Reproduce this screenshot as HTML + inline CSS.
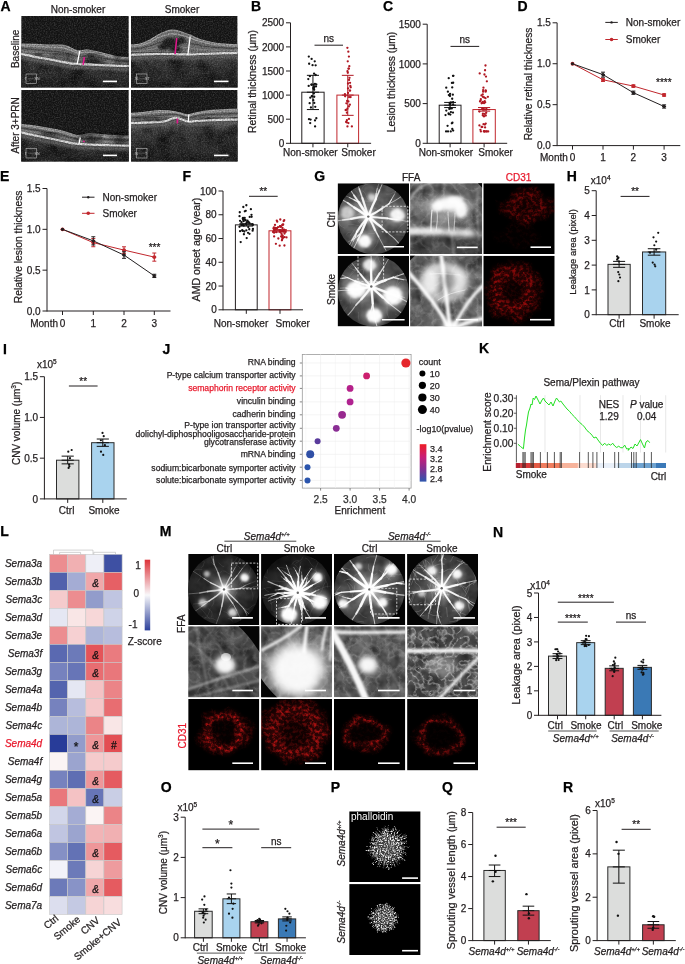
<!DOCTYPE html>
<html><head><meta charset="utf-8"><title>Figure</title>
<style>html,body{margin:0;padding:0;background:#fff;} svg{display:block;will-change:transform;} text{font-family:"Liberation Sans",sans-serif;stroke:#231f20;stroke-width:0.25px;}</style>
</head><body>
<svg width="685" height="964" viewBox="0 0 685 964" font-family="Liberation Sans, sans-serif" fill="#231f20">
<defs>
<linearGradient id="jcb" x1="0" y1="0" x2="0" y2="1"><stop offset="0" stop-color="#ee1c25"/><stop offset="0.35" stop-color="#c81e78"/><stop offset="0.7" stop-color="#7b3294"/><stop offset="1" stop-color="#2d56ad"/></linearGradient>
<linearGradient id="lcb" x1="0" y1="0" x2="0" y2="1"><stop offset="0" stop-color="#dd3239"/><stop offset="0.5" stop-color="#f8f8fa"/><stop offset="1" stop-color="#2c409b"/></linearGradient>
<filter id="spk" x="0" y="0" width="1" height="1" color-interpolation-filters="sRGB">
 <feTurbulence type="fractalNoise" baseFrequency="0.75" numOctaves="2" seed="4"/>
 <feColorMatrix type="matrix" values="0 0 0 0 1  0 0 0 0 1  0 0 0 0 1  1.6 0 0 0 -0.62"/>
</filter>
<filter id="spkd" x="0" y="0" width="1" height="1" color-interpolation-filters="sRGB">
 <feTurbulence type="fractalNoise" baseFrequency="0.7" numOctaves="2" seed="9"/>
 <feColorMatrix type="matrix" values="0 0 0 0 0  0 0 0 0 0  0 0 0 0 0  1.6 0 0 0 -0.6"/>
</filter>
<filter id="msk0" color-interpolation-filters="sRGB">
 <feTurbulence type="fractalNoise" baseFrequency="0.55" numOctaves="2" seed="5" result="n"/>
 <feColorMatrix in="n" type="matrix" values="0 0 0 0 0  0 0 0 0 0  0 0 0 0 0  3.2 0 0 0 -1.45" result="m"/>
 <feComposite in="SourceGraphic" in2="m" operator="in"/>
</filter>
<filter id="msk1" color-interpolation-filters="sRGB">
 <feTurbulence type="fractalNoise" baseFrequency="0.55" numOctaves="2" seed="11" result="n"/>
 <feColorMatrix in="n" type="matrix" values="0 0 0 0 0  0 0 0 0 0  0 0 0 0 0  3.2 0 0 0 -1.3" result="m"/>
 <feComposite in="SourceGraphic" in2="m" operator="in"/>
</filter>
<filter id="msk2" color-interpolation-filters="sRGB">
 <feTurbulence type="fractalNoise" baseFrequency="0.5" numOctaves="2" seed="17" result="n"/>
 <feColorMatrix in="n" type="matrix" values="0 0 0 0 0  0 0 0 0 0  0 0 0 0 0  3.0 0 0 0 -1.2" result="m"/>
 <feComposite in="SourceGraphic" in2="m" operator="in"/>
</filter>
<filter id="msk3" color-interpolation-filters="sRGB">
 <feTurbulence type="fractalNoise" baseFrequency="0.55" numOctaves="2" seed="23" result="n"/>
 <feColorMatrix in="n" type="matrix" values="0 0 0 0 0  0 0 0 0 0  0 0 0 0 0  3.2 0 0 0 -1.5" result="m"/>
 <feComposite in="SourceGraphic" in2="m" operator="in"/>
</filter>
<filter id="msk4" color-interpolation-filters="sRGB">
 <feTurbulence type="fractalNoise" baseFrequency="0.6" numOctaves="2" seed="31" result="n"/>
 <feColorMatrix in="n" type="matrix" values="0 0 0 0 0  0 0 0 0 0  0 0 0 0 0  3.3 0 0 0 -1.4" result="m"/>
 <feComposite in="SourceGraphic" in2="m" operator="in"/>
</filter>
<filter id="msk5" color-interpolation-filters="sRGB">
 <feTurbulence type="fractalNoise" baseFrequency="0.6" numOctaves="2" seed="37" result="n"/>
 <feColorMatrix in="n" type="matrix" values="0 0 0 0 0  0 0 0 0 0  0 0 0 0 0  3.0 0 0 0 -1.25" result="m"/>
 <feComposite in="SourceGraphic" in2="m" operator="in"/>
</filter>
<filter id="b0_4" filterUnits="userSpaceOnUse" x="0" y="0" width="685" height="964"><feGaussianBlur stdDeviation="0.4"/></filter>
<filter id="b0_6" filterUnits="userSpaceOnUse" x="0" y="0" width="685" height="964"><feGaussianBlur stdDeviation="0.6"/></filter>
<filter id="b0_8" filterUnits="userSpaceOnUse" x="0" y="0" width="685" height="964"><feGaussianBlur stdDeviation="0.8"/></filter>
<filter id="b1_0" filterUnits="userSpaceOnUse" x="0" y="0" width="685" height="964"><feGaussianBlur stdDeviation="1.0"/></filter>
<filter id="b1_5" filterUnits="userSpaceOnUse" x="0" y="0" width="685" height="964"><feGaussianBlur stdDeviation="1.5"/></filter>
<filter id="b2_0" filterUnits="userSpaceOnUse" x="0" y="0" width="685" height="964"><feGaussianBlur stdDeviation="2.0"/></filter>
<filter id="b2_5" filterUnits="userSpaceOnUse" x="0" y="0" width="685" height="964"><feGaussianBlur stdDeviation="2.5"/></filter>
<filter id="b3_0" filterUnits="userSpaceOnUse" x="0" y="0" width="685" height="964"><feGaussianBlur stdDeviation="3.0"/></filter>
<filter id="b4_0" filterUnits="userSpaceOnUse" x="0" y="0" width="685" height="964"><feGaussianBlur stdDeviation="4.0"/></filter>
<filter id="b5_0" filterUnits="userSpaceOnUse" x="0" y="0" width="685" height="964"><feGaussianBlur stdDeviation="5.0"/></filter>
<filter id="b6_0" filterUnits="userSpaceOnUse" x="0" y="0" width="685" height="964"><feGaussianBlur stdDeviation="6.0"/></filter>
<clipPath id="c1"><rect x="21.20" y="16.00" width="107.60" height="71.60"/></clipPath>
<linearGradient id="ochc1" x1="0" y1="53.5" x2="0" y2="87.6" gradientUnits="userSpaceOnUse"><stop offset="0" stop-color="#555"/><stop offset="0.3" stop-color="#383838"/><stop offset="1" stop-color="#232323"/></linearGradient>
<clipPath id="c2"><rect x="131.00" y="16.00" width="106.60" height="71.60"/></clipPath>
<linearGradient id="ochc2" x1="0" y1="55.0" x2="0" y2="87.6" gradientUnits="userSpaceOnUse"><stop offset="0" stop-color="#555"/><stop offset="0.3" stop-color="#383838"/><stop offset="1" stop-color="#232323"/></linearGradient>
<clipPath id="c3"><rect x="21.20" y="90.00" width="107.60" height="71.60"/></clipPath>
<linearGradient id="ochc3" x1="0" y1="132.0" x2="0" y2="161.6" gradientUnits="userSpaceOnUse"><stop offset="0" stop-color="#555"/><stop offset="0.3" stop-color="#383838"/><stop offset="1" stop-color="#232323"/></linearGradient>
<clipPath id="c4"><rect x="131.00" y="90.00" width="106.60" height="71.60"/></clipPath>
<linearGradient id="ochc4" x1="0" y1="123.3" x2="0" y2="161.6" gradientUnits="userSpaceOnUse"><stop offset="0" stop-color="#555"/><stop offset="0.3" stop-color="#383838"/><stop offset="1" stop-color="#232323"/></linearGradient>
<filter id="lesf" color-interpolation-filters="sRGB" filterUnits="userSpaceOnUse" x="0" y="0" width="685" height="964">
 <feTurbulence type="fractalNoise" baseFrequency="0.35" numOctaves="2" seed="61" result="n"/>
 <feColorMatrix in="n" type="matrix" values="0 0 0 0 0  0 0 0 0 0  0 0 0 0 0  1.6 0 0 0 -0.1" result="m"/>
 <feComposite in="SourceGraphic" in2="m" operator="in" result="c"/>
 <feGaussianBlur in="c" stdDeviation="1.1"/>
</filter>
<clipPath id="c5"><rect x="337.60" y="183.30" width="71.40" height="70.70"/></clipPath>
<clipPath id="c6"><circle cx="373.30" cy="218.60" r="35.50"/></clipPath>
<radialGradient id="fgc5" cx="368.3" cy="216.6" r="42.6" gradientUnits="userSpaceOnUse"><stop offset="0" stop-color="#8a8a8a"/><stop offset="1" stop-color="#4a4a4a"/></radialGradient>
<clipPath id="c7"><rect x="337.60" y="255.70" width="71.40" height="70.70"/></clipPath>
<clipPath id="c8"><circle cx="373.30" cy="291.00" r="35.50"/></clipPath>
<radialGradient id="fgc7" cx="371.3" cy="286.5" r="42.6" gradientUnits="userSpaceOnUse"><stop offset="0" stop-color="#7a7a7a"/><stop offset="1" stop-color="#3e3e3e"/></radialGradient>
<clipPath id="c9"><rect x="188.20" y="554.00" width="71.10" height="71.00"/></clipPath>
<clipPath id="c10"><circle cx="223.50" cy="589.50" r="35.50"/></clipPath>
<radialGradient id="fgc9" cx="224.0" cy="589.4" r="42.6" gradientUnits="userSpaceOnUse"><stop offset="0" stop-color="#505050"/><stop offset="1" stop-color="#1c1c1c"/></radialGradient>
<clipPath id="c11"><rect x="261.10" y="554.00" width="70.90" height="71.00"/></clipPath>
<clipPath id="c12"><circle cx="296.60" cy="589.50" r="35.50"/></clipPath>
<radialGradient id="fgc11" cx="297.8" cy="592.7" r="42.6" gradientUnits="userSpaceOnUse"><stop offset="0" stop-color="#4a4a4a"/><stop offset="1" stop-color="#161616"/></radialGradient>
<clipPath id="c13"><rect x="334.00" y="554.00" width="71.30" height="71.00"/></clipPath>
<clipPath id="c14"><circle cx="369.60" cy="589.50" r="35.50"/></clipPath>
<radialGradient id="fgc13" cx="369.4" cy="589.4" r="42.6" gradientUnits="userSpaceOnUse"><stop offset="0" stop-color="#808080"/><stop offset="1" stop-color="#383838"/></radialGradient>
<clipPath id="c15"><rect x="407.10" y="554.00" width="70.90" height="71.00"/></clipPath>
<clipPath id="c16"><circle cx="442.50" cy="589.50" r="35.50"/></clipPath>
<radialGradient id="fgc15" cx="441.7" cy="588.3" r="42.6" gradientUnits="userSpaceOnUse"><stop offset="0" stop-color="#747474"/><stop offset="1" stop-color="#343434"/></radialGradient>
<filter id="motw" x="0" y="0" width="1" height="1" color-interpolation-filters="sRGB">
 <feTurbulence type="turbulence" baseFrequency="0.09" numOctaves="3" seed="21"/>
 <feColorMatrix type="matrix" values="0 0 0 0 1  0 0 0 0 1  0 0 0 0 1  -1.6 0 0 0 0.55"/>
 <feGaussianBlur stdDeviation="0.4"/>
</filter>
<filter id="motw2" x="0" y="0" width="1" height="1" color-interpolation-filters="sRGB">
 <feTurbulence type="turbulence" baseFrequency="0.13" numOctaves="2" seed="27"/>
 <feColorMatrix type="matrix" values="0 0 0 0 1  0 0 0 0 1  0 0 0 0 1  -3.2 0 0 0 0.95"/>
 <feGaussianBlur stdDeviation="0.45"/>
</filter>
<filter id="motd" x="0" y="0" width="1" height="1" color-interpolation-filters="sRGB">
 <feTurbulence type="fractalNoise" baseFrequency="0.07" numOctaves="3" seed="33"/>
 <feColorMatrix type="matrix" values="0 0 0 0 0  0 0 0 0 0  0 0 0 0 0  1.8 0 0 0 -0.6"/>
</filter>
<clipPath id="c17"><rect x="410.10" y="183.30" width="72.00" height="70.70"/></clipPath>
<linearGradient id="zgc17" x1="0" y1="0" x2="1" y2="1"><stop offset="0" stop-color="#767676"/><stop offset="1" stop-color="#606060"/></linearGradient>
<clipPath id="c18"><rect x="410.10" y="255.70" width="72.00" height="70.70"/></clipPath>
<linearGradient id="zgc18" x1="0" y1="0" x2="1" y2="1"><stop offset="0" stop-color="#666"/><stop offset="1" stop-color="#727272"/></linearGradient>
<clipPath id="c19"><rect x="188.20" y="626.30" width="71.10" height="71.00"/></clipPath>
<linearGradient id="zgc19" x1="0" y1="0" x2="1" y2="1"><stop offset="0" stop-color="#5a5a5a"/><stop offset="1" stop-color="#4e4e4e"/></linearGradient>
<clipPath id="c20"><rect x="261.10" y="626.30" width="70.90" height="71.00"/></clipPath>
<linearGradient id="zgc20" x1="0" y1="0" x2="1" y2="1"><stop offset="0" stop-color="#6a6a6a"/><stop offset="1" stop-color="#8a8a8a"/></linearGradient>
<clipPath id="c21"><rect x="334.00" y="626.30" width="71.30" height="71.00"/></clipPath>
<linearGradient id="zgc21" x1="0" y1="0" x2="1" y2="1"><stop offset="0" stop-color="#6a6a6a"/><stop offset="1" stop-color="#5e5e5e"/></linearGradient>
<clipPath id="c22"><rect x="407.10" y="626.30" width="70.90" height="71.00"/></clipPath>
<linearGradient id="zgc22" x1="0" y1="0" x2="1" y2="1"><stop offset="0" stop-color="#505050"/><stop offset="1" stop-color="#5a5a5a"/></linearGradient>
<filter id="cdm0" x="0" y="0" width="1" height="1" color-interpolation-filters="sRGB">
 <feTurbulence type="fractalNoise" baseFrequency="0.06" numOctaves="2" seed="105" result="w"/>
 <feDisplacementMap in="SourceGraphic" in2="w" scale="16" xChannelSelector="R" yChannelSelector="G" result="d"/>
 <feTurbulence type="fractalNoise" baseFrequency="0.3" numOctaves="3" seed="5" result="n"/>
 <feColorMatrix in="n" type="matrix" values="0 0 0 0 0  0 0 0 0 0  0 0 0 0 0  3.2 0 0 0 -1.35" result="m"/>
 <feComposite in="d" in2="m" operator="in" result="c"/>
 <feGaussianBlur in="c" stdDeviation="0.45" result="cb"/>
 <feGaussianBlur in="d" stdDeviation="1.5" result="hz"/>
 <feComponentTransfer in="hz" result="hz2"><feFuncA type="linear" slope="0.3"/></feComponentTransfer>
 <feMerge><feMergeNode in="hz2"/><feMergeNode in="cb"/></feMerge>
</filter>
<filter id="cdm1" x="0" y="0" width="1" height="1" color-interpolation-filters="sRGB">
 <feTurbulence type="fractalNoise" baseFrequency="0.06" numOctaves="2" seed="111" result="w"/>
 <feDisplacementMap in="SourceGraphic" in2="w" scale="16" xChannelSelector="R" yChannelSelector="G" result="d"/>
 <feTurbulence type="fractalNoise" baseFrequency="0.3" numOctaves="3" seed="11" result="n"/>
 <feColorMatrix in="n" type="matrix" values="0 0 0 0 0  0 0 0 0 0  0 0 0 0 0  3.2 0 0 0 -1.35" result="m"/>
 <feComposite in="d" in2="m" operator="in" result="c"/>
 <feGaussianBlur in="c" stdDeviation="0.45" result="cb"/>
 <feGaussianBlur in="d" stdDeviation="1.5" result="hz"/>
 <feComponentTransfer in="hz" result="hz2"><feFuncA type="linear" slope="0.3"/></feComponentTransfer>
 <feMerge><feMergeNode in="hz2"/><feMergeNode in="cb"/></feMerge>
</filter>
<filter id="cdm2" x="0" y="0" width="1" height="1" color-interpolation-filters="sRGB">
 <feTurbulence type="fractalNoise" baseFrequency="0.06" numOctaves="2" seed="117" result="w"/>
 <feDisplacementMap in="SourceGraphic" in2="w" scale="16" xChannelSelector="R" yChannelSelector="G" result="d"/>
 <feTurbulence type="fractalNoise" baseFrequency="0.3" numOctaves="3" seed="17" result="n"/>
 <feColorMatrix in="n" type="matrix" values="0 0 0 0 0  0 0 0 0 0  0 0 0 0 0  3.2 0 0 0 -1.35" result="m"/>
 <feComposite in="d" in2="m" operator="in" result="c"/>
 <feGaussianBlur in="c" stdDeviation="0.45" result="cb"/>
 <feGaussianBlur in="d" stdDeviation="1.5" result="hz"/>
 <feComponentTransfer in="hz" result="hz2"><feFuncA type="linear" slope="0.3"/></feComponentTransfer>
 <feMerge><feMergeNode in="hz2"/><feMergeNode in="cb"/></feMerge>
</filter>
<filter id="cdm3" x="0" y="0" width="1" height="1" color-interpolation-filters="sRGB">
 <feTurbulence type="fractalNoise" baseFrequency="0.06" numOctaves="2" seed="123" result="w"/>
 <feDisplacementMap in="SourceGraphic" in2="w" scale="16" xChannelSelector="R" yChannelSelector="G" result="d"/>
 <feTurbulence type="fractalNoise" baseFrequency="0.3" numOctaves="3" seed="23" result="n"/>
 <feColorMatrix in="n" type="matrix" values="0 0 0 0 0  0 0 0 0 0  0 0 0 0 0  3.2 0 0 0 -1.35" result="m"/>
 <feComposite in="d" in2="m" operator="in" result="c"/>
 <feGaussianBlur in="c" stdDeviation="0.45" result="cb"/>
 <feGaussianBlur in="d" stdDeviation="1.5" result="hz"/>
 <feComponentTransfer in="hz" result="hz2"><feFuncA type="linear" slope="0.3"/></feComponentTransfer>
 <feMerge><feMergeNode in="hz2"/><feMergeNode in="cb"/></feMerge>
</filter>
<filter id="cdm4" x="0" y="0" width="1" height="1" color-interpolation-filters="sRGB">
 <feTurbulence type="fractalNoise" baseFrequency="0.06" numOctaves="2" seed="131" result="w"/>
 <feDisplacementMap in="SourceGraphic" in2="w" scale="16" xChannelSelector="R" yChannelSelector="G" result="d"/>
 <feTurbulence type="fractalNoise" baseFrequency="0.3" numOctaves="3" seed="31" result="n"/>
 <feColorMatrix in="n" type="matrix" values="0 0 0 0 0  0 0 0 0 0  0 0 0 0 0  3.2 0 0 0 -1.35" result="m"/>
 <feComposite in="d" in2="m" operator="in" result="c"/>
 <feGaussianBlur in="c" stdDeviation="0.45" result="cb"/>
 <feGaussianBlur in="d" stdDeviation="1.5" result="hz"/>
 <feComponentTransfer in="hz" result="hz2"><feFuncA type="linear" slope="0.3"/></feComponentTransfer>
 <feMerge><feMergeNode in="hz2"/><feMergeNode in="cb"/></feMerge>
</filter>
<filter id="cdm5" x="0" y="0" width="1" height="1" color-interpolation-filters="sRGB">
 <feTurbulence type="fractalNoise" baseFrequency="0.06" numOctaves="2" seed="137" result="w"/>
 <feDisplacementMap in="SourceGraphic" in2="w" scale="16" xChannelSelector="R" yChannelSelector="G" result="d"/>
 <feTurbulence type="fractalNoise" baseFrequency="0.3" numOctaves="3" seed="37" result="n"/>
 <feColorMatrix in="n" type="matrix" values="0 0 0 0 0  0 0 0 0 0  0 0 0 0 0  3.2 0 0 0 -1.35" result="m"/>
 <feComposite in="d" in2="m" operator="in" result="c"/>
 <feGaussianBlur in="c" stdDeviation="0.45" result="cb"/>
 <feGaussianBlur in="d" stdDeviation="1.5" result="hz"/>
 <feComponentTransfer in="hz" result="hz2"><feFuncA type="linear" slope="0.3"/></feComponentTransfer>
 <feMerge><feMergeNode in="hz2"/><feMergeNode in="cb"/></feMerge>
</filter>
<clipPath id="c23"><rect x="483.30" y="183.30" width="71.40" height="70.70"/></clipPath>
<radialGradient id="rgc23_527_207" cx="0.5" cy="0.5" r="0.5"><stop offset="0" stop-color="#d81010" stop-opacity="0.20"/><stop offset="0.05" stop-color="#d81010" stop-opacity="0.20"/><stop offset="0.55" stop-color="#d81010" stop-opacity="0.45"/><stop offset="0.85" stop-color="#d81010" stop-opacity="0.16"/><stop offset="1" stop-color="#d81010" stop-opacity="0"/></radialGradient>
<radialGradient id="rgc23_518_236" cx="0.5" cy="0.5" r="0.5"><stop offset="0" stop-color="#d81010" stop-opacity="0.02"/><stop offset="0.00" stop-color="#d81010" stop-opacity="0.02"/><stop offset="0.50" stop-color="#d81010" stop-opacity="0.08"/><stop offset="0.80" stop-color="#d81010" stop-opacity="0.03"/><stop offset="1" stop-color="#d81010" stop-opacity="0"/></radialGradient>
<clipPath id="c24"><rect x="483.30" y="255.70" width="71.40" height="70.70"/></clipPath>
<radialGradient id="rgc24_513_291" cx="0.5" cy="0.5" r="0.5"><stop offset="0" stop-color="#e01010" stop-opacity="0.12"/><stop offset="0.20" stop-color="#e01010" stop-opacity="0.12"/><stop offset="0.60" stop-color="#e01010" stop-opacity="0.60"/><stop offset="0.84" stop-color="#e01010" stop-opacity="0.21"/><stop offset="1" stop-color="#e01010" stop-opacity="0"/></radialGradient>
<clipPath id="c25"><rect x="188.20" y="699.00" width="71.10" height="71.40"/></clipPath>
<radialGradient id="rgc25_224_732" cx="0.5" cy="0.5" r="0.5"><stop offset="0" stop-color="#ff1a1a" stop-opacity="0.06"/><stop offset="0.30" stop-color="#ff1a1a" stop-opacity="0.06"/><stop offset="0.62" stop-color="#ff1a1a" stop-opacity="0.70"/><stop offset="0.81" stop-color="#ff1a1a" stop-opacity="0.24"/><stop offset="1" stop-color="#ff1a1a" stop-opacity="0"/></radialGradient>
<clipPath id="c26"><rect x="261.10" y="699.00" width="70.90" height="71.40"/></clipPath>
<radialGradient id="rgc26_295_731" cx="0.5" cy="0.5" r="0.5"><stop offset="0" stop-color="#ff1a1a" stop-opacity="0.18"/><stop offset="0.27" stop-color="#ff1a1a" stop-opacity="0.18"/><stop offset="0.65" stop-color="#ff1a1a" stop-opacity="0.60"/><stop offset="0.88" stop-color="#ff1a1a" stop-opacity="0.21"/><stop offset="1" stop-color="#ff1a1a" stop-opacity="0"/></radialGradient>
<clipPath id="c27"><rect x="334.00" y="699.00" width="71.30" height="71.40"/></clipPath>
<radialGradient id="rgc27_366_734" cx="0.5" cy="0.5" r="0.5"><stop offset="0" stop-color="#ff1a1a" stop-opacity="0.06"/><stop offset="0.50" stop-color="#ff1a1a" stop-opacity="0.06"/><stop offset="0.72" stop-color="#ff1a1a" stop-opacity="0.55"/><stop offset="0.85" stop-color="#ff1a1a" stop-opacity="0.19"/><stop offset="1" stop-color="#ff1a1a" stop-opacity="0"/></radialGradient>
<clipPath id="c28"><rect x="407.10" y="699.00" width="70.90" height="71.40"/></clipPath>
<radialGradient id="rgc28_440_736" cx="0.5" cy="0.5" r="0.5"><stop offset="0" stop-color="#ff1a1a" stop-opacity="0.03"/><stop offset="0.52" stop-color="#ff1a1a" stop-opacity="0.03"/><stop offset="0.72" stop-color="#ff1a1a" stop-opacity="0.50"/><stop offset="0.84" stop-color="#ff1a1a" stop-opacity="0.17"/><stop offset="1" stop-color="#ff1a1a" stop-opacity="0"/></radialGradient>
<filter id="phm0" color-interpolation-filters="sRGB">
 <feTurbulence type="fractalNoise" baseFrequency="0.7" numOctaves="2" seed="41" result="n"/>
 <feColorMatrix in="n" type="matrix" values="0 0 0 0 0  0 0 0 0 0  0 0 0 0 0  3.0 0 0 0 -1.2" result="m"/>
 <feComposite in="SourceGraphic" in2="m" operator="in"/>
</filter>
<filter id="phm1" color-interpolation-filters="sRGB">
 <feTurbulence type="fractalNoise" baseFrequency="0.7" numOctaves="2" seed="43" result="n"/>
 <feColorMatrix in="n" type="matrix" values="0 0 0 0 0  0 0 0 0 0  0 0 0 0 0  3.0 0 0 0 -1.2" result="m"/>
 <feComposite in="SourceGraphic" in2="m" operator="in"/>
</filter>
<clipPath id="c29"><rect x="349.20" y="811.30" width="71.40" height="70.80"/></clipPath>
<radialGradient id="pgc29" cx="0.5" cy="0.5" r="0.5"><stop offset="0" stop-color="#fff" stop-opacity="0.75"/><stop offset="0.55" stop-color="#fff" stop-opacity="0.95"/><stop offset="0.8" stop-color="#fff" stop-opacity="0.7"/><stop offset="1" stop-color="#fff" stop-opacity="0"/></radialGradient>
<clipPath id="c30"><rect x="349.20" y="884.10" width="71.40" height="71.00"/></clipPath>
<radialGradient id="pgc30" cx="0.5" cy="0.5" r="0.5"><stop offset="0" stop-color="#fff" stop-opacity="0.75"/><stop offset="0.55" stop-color="#fff" stop-opacity="0.95"/><stop offset="0.8" stop-color="#fff" stop-opacity="0.7"/><stop offset="1" stop-color="#fff" stop-opacity="0"/></radialGradient>
</defs>
<rect x="0" y="0" width="685" height="964" fill="#fff"/>
<text x="0.40" y="10.90" font-size="14" fill="#000" font-weight="bold" style="stroke:#000">A</text>
<text x="251.00" y="10.80" font-size="14" fill="#000" font-weight="bold" style="stroke:#000">B</text>
<text x="382.90" y="10.90" font-size="14" fill="#000" font-weight="bold" style="stroke:#000">C</text>
<text x="517.40" y="10.90" font-size="14" fill="#000" font-weight="bold" style="stroke:#000">D</text>
<text x="0.00" y="180.60" font-size="14" fill="#000" font-weight="bold" style="stroke:#000">E</text>
<text x="182.50" y="180.70" font-size="14" fill="#000" font-weight="bold" style="stroke:#000">F</text>
<text x="314.20" y="180.70" font-size="14" fill="#000" font-weight="bold" style="stroke:#000">G</text>
<text x="566.80" y="180.70" font-size="14" fill="#000" font-weight="bold" style="stroke:#000">H</text>
<text x="2.90" y="354.20" font-size="14" fill="#000" font-weight="bold" style="stroke:#000">I</text>
<text x="162.50" y="354.20" font-size="14" fill="#000" font-weight="bold" style="stroke:#000">J</text>
<text x="478.90" y="353.30" font-size="14" fill="#000" font-weight="bold" style="stroke:#000">K</text>
<text x="0.30" y="536.20" font-size="14" fill="#000" font-weight="bold" style="stroke:#000">L</text>
<text x="159.80" y="536.20" font-size="14" fill="#000" font-weight="bold" style="stroke:#000">M</text>
<text x="493.00" y="536.50" font-size="14" fill="#000" font-weight="bold" style="stroke:#000">N</text>
<text x="160.80" y="792.00" font-size="14" fill="#000" font-weight="bold" style="stroke:#000">O</text>
<text x="330.70" y="792.00" font-size="14" fill="#000" font-weight="bold" style="stroke:#000">P</text>
<text x="441.90" y="792.00" font-size="14" fill="#000" font-weight="bold" style="stroke:#000">Q</text>
<text x="563.00" y="792.00" font-size="14" fill="#000" font-weight="bold" style="stroke:#000">R</text>
<line x1="290.50" y1="143.80" x2="290.50" y2="22.80" stroke="#231f20" stroke-width="1"/>
<line x1="286.00" y1="143.30" x2="290.50" y2="143.30" stroke="#231f20" stroke-width="1"/>
<text x="284.20" y="146.90" font-size="10" text-anchor="end">0</text>
<line x1="286.00" y1="119.20" x2="290.50" y2="119.20" stroke="#231f20" stroke-width="1"/>
<text x="284.20" y="122.80" font-size="10" text-anchor="end">500</text>
<line x1="286.00" y1="95.10" x2="290.50" y2="95.10" stroke="#231f20" stroke-width="1"/>
<text x="284.20" y="98.70" font-size="10" text-anchor="end">1000</text>
<line x1="286.00" y1="71.00" x2="290.50" y2="71.00" stroke="#231f20" stroke-width="1"/>
<text x="284.20" y="74.60" font-size="10" text-anchor="end">1500</text>
<line x1="286.00" y1="46.90" x2="290.50" y2="46.90" stroke="#231f20" stroke-width="1"/>
<text x="284.20" y="50.50" font-size="10" text-anchor="end">2000</text>
<line x1="286.00" y1="22.80" x2="290.50" y2="22.80" stroke="#231f20" stroke-width="1"/>
<text x="284.20" y="26.40" font-size="10" text-anchor="end">2500</text>
<rect x="301.80" y="92.21" width="22.30" height="51.09" fill="#fff" stroke="#231f20" stroke-width="1"/>
<circle cx="314.24" cy="96.76" r="1.15" fill="#111"/>
<circle cx="311.67" cy="84.56" r="1.15" fill="#111"/>
<circle cx="312.00" cy="96.29" r="1.15" fill="#111"/>
<circle cx="310.30" cy="97.70" r="1.15" fill="#111"/>
<circle cx="310.92" cy="107.48" r="1.15" fill="#111"/>
<circle cx="311.84" cy="96.08" r="1.15" fill="#111"/>
<circle cx="315.65" cy="75.00" r="1.15" fill="#111"/>
<circle cx="308.69" cy="85.94" r="1.15" fill="#111"/>
<circle cx="309.89" cy="76.20" r="1.15" fill="#111"/>
<circle cx="313.45" cy="88.73" r="1.15" fill="#111"/>
<circle cx="315.98" cy="86.41" r="1.15" fill="#111"/>
<circle cx="314.16" cy="89.74" r="1.15" fill="#111"/>
<circle cx="308.97" cy="119.19" r="1.15" fill="#111"/>
<circle cx="308.29" cy="79.09" r="1.15" fill="#111"/>
<circle cx="313.70" cy="84.64" r="1.15" fill="#111"/>
<circle cx="311.41" cy="84.76" r="1.15" fill="#111"/>
<circle cx="310.60" cy="119.59" r="1.15" fill="#111"/>
<circle cx="315.00" cy="120.43" r="1.15" fill="#111"/>
<circle cx="315.26" cy="106.84" r="1.15" fill="#111"/>
<circle cx="313.28" cy="100.14" r="1.15" fill="#111"/>
<circle cx="313.47" cy="87.83" r="1.15" fill="#111"/>
<circle cx="313.86" cy="93.42" r="1.15" fill="#111"/>
<circle cx="316.29" cy="84.40" r="1.15" fill="#111"/>
<circle cx="314.25" cy="102.91" r="1.15" fill="#111"/>
<circle cx="314.04" cy="87.78" r="1.15" fill="#111"/>
<circle cx="314.10" cy="86.42" r="1.15" fill="#111"/>
<circle cx="309.66" cy="103.21" r="1.15" fill="#111"/>
<circle cx="315.64" cy="65.37" r="1.15" fill="#111"/>
<circle cx="314.95" cy="83.84" r="1.15" fill="#111"/>
<circle cx="314.06" cy="73.65" r="1.15" fill="#111"/>
<circle cx="308.81" cy="56.54" r="1.15" fill="#111"/>
<circle cx="311.62" cy="58.95" r="1.15" fill="#111"/>
<circle cx="314.72" cy="61.36" r="1.15" fill="#111"/>
<circle cx="309.15" cy="63.77" r="1.15" fill="#111"/>
<circle cx="312.56" cy="65.22" r="1.15" fill="#111"/>
<circle cx="315.09" cy="126.43" r="1.15" fill="#111"/>
<circle cx="310.20" cy="123.06" r="1.15" fill="#111"/>
<circle cx="316.33" cy="118.24" r="1.15" fill="#111"/>
<line x1="312.95" y1="109.56" x2="312.95" y2="75.34" stroke="#111" stroke-width="1"/>
<line x1="306.89" y1="75.34" x2="319.01" y2="75.34" stroke="#111" stroke-width="1"/>
<line x1="306.89" y1="109.56" x2="319.01" y2="109.56" stroke="#111" stroke-width="1"/>
<line x1="306.89" y1="92.21" x2="319.01" y2="92.21" stroke="#111" stroke-width="1"/>
<rect x="336.90" y="95.10" width="21.70" height="48.20" fill="#fff" stroke="#c1272d" stroke-width="1"/>
<circle cx="348.88" cy="106.46" r="1.15" fill="#b01722"/>
<circle cx="347.44" cy="108.64" r="1.15" fill="#b01722"/>
<circle cx="348.41" cy="101.40" r="1.15" fill="#b01722"/>
<circle cx="349.08" cy="97.05" r="1.15" fill="#b01722"/>
<circle cx="348.00" cy="83.52" r="1.15" fill="#b01722"/>
<circle cx="350.09" cy="90.55" r="1.15" fill="#b01722"/>
<circle cx="346.40" cy="103.29" r="1.15" fill="#b01722"/>
<circle cx="346.90" cy="112.63" r="1.15" fill="#b01722"/>
<circle cx="349.88" cy="104.64" r="1.15" fill="#b01722"/>
<circle cx="347.80" cy="72.74" r="1.15" fill="#b01722"/>
<circle cx="345.95" cy="109.90" r="1.15" fill="#b01722"/>
<circle cx="349.68" cy="90.62" r="1.15" fill="#b01722"/>
<circle cx="350.74" cy="87.29" r="1.15" fill="#b01722"/>
<circle cx="346.84" cy="122.39" r="1.15" fill="#b01722"/>
<circle cx="344.93" cy="94.21" r="1.15" fill="#b01722"/>
<circle cx="347.47" cy="71.17" r="1.15" fill="#b01722"/>
<circle cx="347.45" cy="126.43" r="1.15" fill="#b01722"/>
<circle cx="347.14" cy="100.99" r="1.15" fill="#b01722"/>
<circle cx="350.62" cy="97.04" r="1.15" fill="#b01722"/>
<circle cx="345.65" cy="110.07" r="1.15" fill="#b01722"/>
<circle cx="350.33" cy="85.99" r="1.15" fill="#b01722"/>
<circle cx="345.16" cy="96.24" r="1.15" fill="#b01722"/>
<circle cx="346.14" cy="121.93" r="1.15" fill="#b01722"/>
<circle cx="349.04" cy="79.94" r="1.15" fill="#b01722"/>
<circle cx="350.06" cy="82.84" r="1.15" fill="#b01722"/>
<circle cx="349.50" cy="77.78" r="1.15" fill="#b01722"/>
<circle cx="348.46" cy="68.71" r="1.15" fill="#b01722"/>
<circle cx="348.04" cy="88.47" r="1.15" fill="#b01722"/>
<circle cx="348.06" cy="92.92" r="1.15" fill="#b01722"/>
<circle cx="348.93" cy="118.90" r="1.15" fill="#b01722"/>
<circle cx="347.39" cy="47.86" r="1.15" fill="#b01722"/>
<circle cx="348.32" cy="51.72" r="1.15" fill="#b01722"/>
<circle cx="348.92" cy="56.54" r="1.15" fill="#b01722"/>
<circle cx="347.75" cy="61.36" r="1.15" fill="#b01722"/>
<circle cx="349.31" cy="66.18" r="1.15" fill="#b01722"/>
<circle cx="348.91" cy="68.59" r="1.15" fill="#b01722"/>
<circle cx="351.86" cy="126.43" r="1.15" fill="#b01722"/>
<circle cx="348.41" cy="123.06" r="1.15" fill="#b01722"/>
<circle cx="346.88" cy="120.16" r="1.15" fill="#b01722"/>
<line x1="347.75" y1="115.34" x2="347.75" y2="75.34" stroke="#b01722" stroke-width="1"/>
<line x1="341.85" y1="75.34" x2="353.65" y2="75.34" stroke="#b01722" stroke-width="1"/>
<line x1="341.85" y1="115.34" x2="353.65" y2="115.34" stroke="#b01722" stroke-width="1"/>
<line x1="341.85" y1="95.10" x2="353.65" y2="95.10" stroke="#b01722" stroke-width="1"/>
<line x1="290.50" y1="143.30" x2="371.10" y2="143.30" stroke="#231f20" stroke-width="1"/>
<line x1="312.95" y1="143.30" x2="312.95" y2="147.30" stroke="#231f20" stroke-width="1"/>
<line x1="347.75" y1="143.30" x2="347.75" y2="147.30" stroke="#231f20" stroke-width="1"/>
<text x="310.30" y="156.40" font-size="10" text-anchor="middle">Non-smoker</text>
<text x="358.50" y="156.40" font-size="10" text-anchor="middle">Smoker</text>
<text x="255.80" y="81.50" font-size="10.4" text-anchor="middle" transform="rotate(-90 255.80 81.50)">Retinal thickness (μm)</text>
<line x1="314.50" y1="45.20" x2="343.00" y2="45.20" stroke="#231f20" stroke-width="1"/>
<text x="328.75" y="42.20" font-size="10" text-anchor="middle">ns</text>
<line x1="427.20" y1="143.80" x2="427.20" y2="24.20" stroke="#231f20" stroke-width="1"/>
<line x1="422.70" y1="143.30" x2="427.20" y2="143.30" stroke="#231f20" stroke-width="1"/>
<text x="420.90" y="146.90" font-size="10" text-anchor="end">0</text>
<line x1="422.70" y1="103.60" x2="427.20" y2="103.60" stroke="#231f20" stroke-width="1"/>
<text x="420.90" y="107.20" font-size="10" text-anchor="end">500</text>
<line x1="422.70" y1="63.90" x2="427.20" y2="63.90" stroke="#231f20" stroke-width="1"/>
<text x="420.90" y="67.50" font-size="10" text-anchor="end">1000</text>
<line x1="422.70" y1="24.20" x2="427.20" y2="24.20" stroke="#231f20" stroke-width="1"/>
<text x="420.90" y="27.80" font-size="10" text-anchor="end">1500</text>
<rect x="439.20" y="105.19" width="21.80" height="38.11" fill="#fff" stroke="#231f20" stroke-width="1"/>
<circle cx="452.99" cy="112.60" r="1.15" fill="#111"/>
<circle cx="449.90" cy="107.75" r="1.15" fill="#111"/>
<circle cx="448.86" cy="95.10" r="1.15" fill="#111"/>
<circle cx="450.92" cy="112.11" r="1.15" fill="#111"/>
<circle cx="450.94" cy="102.36" r="1.15" fill="#111"/>
<circle cx="453.17" cy="82.77" r="1.15" fill="#111"/>
<circle cx="448.01" cy="131.39" r="1.15" fill="#111"/>
<circle cx="452.43" cy="122.74" r="1.15" fill="#111"/>
<circle cx="453.15" cy="104.28" r="1.15" fill="#111"/>
<circle cx="453.08" cy="102.19" r="1.15" fill="#111"/>
<circle cx="449.73" cy="104.35" r="1.15" fill="#111"/>
<circle cx="448.57" cy="113.39" r="1.15" fill="#111"/>
<circle cx="452.19" cy="98.73" r="1.15" fill="#111"/>
<circle cx="450.34" cy="103.76" r="1.15" fill="#111"/>
<circle cx="450.35" cy="114.62" r="1.15" fill="#111"/>
<circle cx="453.02" cy="75.81" r="1.15" fill="#111"/>
<circle cx="449.56" cy="102.78" r="1.15" fill="#111"/>
<circle cx="445.54" cy="115.05" r="1.15" fill="#111"/>
<circle cx="449.31" cy="108.91" r="1.15" fill="#111"/>
<circle cx="446.30" cy="110.62" r="1.15" fill="#111"/>
<circle cx="451.78" cy="108.42" r="1.15" fill="#111"/>
<circle cx="450.75" cy="131.39" r="1.15" fill="#111"/>
<circle cx="448.85" cy="114.14" r="1.15" fill="#111"/>
<circle cx="450.08" cy="93.96" r="1.15" fill="#111"/>
<circle cx="451.81" cy="123.34" r="1.15" fill="#111"/>
<circle cx="450.26" cy="108.47" r="1.15" fill="#111"/>
<circle cx="452.82" cy="94.70" r="1.15" fill="#111"/>
<circle cx="449.97" cy="96.01" r="1.15" fill="#111"/>
<circle cx="452.23" cy="87.44" r="1.15" fill="#111"/>
<circle cx="453.16" cy="130.54" r="1.15" fill="#111"/>
<circle cx="453.40" cy="75.81" r="1.15" fill="#111"/>
<circle cx="448.72" cy="78.19" r="1.15" fill="#111"/>
<circle cx="451.91" cy="82.96" r="1.15" fill="#111"/>
<circle cx="446.25" cy="87.72" r="1.15" fill="#111"/>
<circle cx="447.88" cy="91.69" r="1.15" fill="#111"/>
<circle cx="446.07" cy="131.39" r="1.15" fill="#111"/>
<circle cx="452.29" cy="129.01" r="1.15" fill="#111"/>
<circle cx="447.57" cy="125.83" r="1.15" fill="#111"/>
<line x1="450.10" y1="107.57" x2="450.10" y2="102.41" stroke="#111" stroke-width="1"/>
<line x1="444.17" y1="102.41" x2="456.03" y2="102.41" stroke="#111" stroke-width="1"/>
<line x1="444.17" y1="107.57" x2="456.03" y2="107.57" stroke="#111" stroke-width="1"/>
<line x1="444.17" y1="105.19" x2="456.03" y2="105.19" stroke="#111" stroke-width="1"/>
<rect x="472.90" y="109.56" width="22.40" height="33.75" fill="#fff" stroke="#c1272d" stroke-width="1"/>
<circle cx="484.07" cy="116.31" r="1.15" fill="#b01722"/>
<circle cx="483.70" cy="116.14" r="1.15" fill="#b01722"/>
<circle cx="484.04" cy="103.13" r="1.15" fill="#b01722"/>
<circle cx="482.85" cy="96.80" r="1.15" fill="#b01722"/>
<circle cx="484.59" cy="131.39" r="1.15" fill="#b01722"/>
<circle cx="487.87" cy="96.85" r="1.15" fill="#b01722"/>
<circle cx="484.19" cy="131.08" r="1.15" fill="#b01722"/>
<circle cx="485.22" cy="102.32" r="1.15" fill="#b01722"/>
<circle cx="486.21" cy="131.39" r="1.15" fill="#b01722"/>
<circle cx="483.68" cy="109.17" r="1.15" fill="#b01722"/>
<circle cx="481.45" cy="95.41" r="1.15" fill="#b01722"/>
<circle cx="482.93" cy="113.56" r="1.15" fill="#b01722"/>
<circle cx="486.36" cy="108.96" r="1.15" fill="#b01722"/>
<circle cx="480.63" cy="100.78" r="1.15" fill="#b01722"/>
<circle cx="482.84" cy="109.63" r="1.15" fill="#b01722"/>
<circle cx="486.22" cy="112.73" r="1.15" fill="#b01722"/>
<circle cx="485.77" cy="90.84" r="1.15" fill="#b01722"/>
<circle cx="484.12" cy="97.39" r="1.15" fill="#b01722"/>
<circle cx="485.80" cy="115.51" r="1.15" fill="#b01722"/>
<circle cx="484.45" cy="74.48" r="1.15" fill="#b01722"/>
<circle cx="481.62" cy="127.02" r="1.15" fill="#b01722"/>
<circle cx="480.81" cy="99.19" r="1.15" fill="#b01722"/>
<circle cx="482.75" cy="115.13" r="1.15" fill="#b01722"/>
<circle cx="486.04" cy="109.75" r="1.15" fill="#b01722"/>
<circle cx="482.91" cy="102.02" r="1.15" fill="#b01722"/>
<circle cx="482.20" cy="108.54" r="1.15" fill="#b01722"/>
<circle cx="482.48" cy="102.92" r="1.15" fill="#b01722"/>
<circle cx="480.87" cy="131.39" r="1.15" fill="#b01722"/>
<circle cx="483.85" cy="131.39" r="1.15" fill="#b01722"/>
<circle cx="481.62" cy="103.24" r="1.15" fill="#b01722"/>
<circle cx="484.87" cy="124.54" r="1.15" fill="#b01722"/>
<circle cx="479.42" cy="125.40" r="1.15" fill="#b01722"/>
<circle cx="484.79" cy="131.38" r="1.15" fill="#b01722"/>
<circle cx="482.75" cy="94.45" r="1.15" fill="#b01722"/>
<circle cx="480.01" cy="101.46" r="1.15" fill="#b01722"/>
<circle cx="485.63" cy="91.66" r="1.15" fill="#b01722"/>
<circle cx="483.52" cy="124.20" r="1.15" fill="#b01722"/>
<circle cx="479.42" cy="111.53" r="1.15" fill="#b01722"/>
<circle cx="482.26" cy="126.93" r="1.15" fill="#b01722"/>
<circle cx="484.71" cy="101.20" r="1.15" fill="#b01722"/>
<circle cx="483.13" cy="90.09" r="1.15" fill="#b01722"/>
<circle cx="485.74" cy="123.56" r="1.15" fill="#b01722"/>
<circle cx="485.67" cy="90.48" r="1.15" fill="#b01722"/>
<circle cx="485.50" cy="98.20" r="1.15" fill="#b01722"/>
<circle cx="484.79" cy="113.94" r="1.15" fill="#b01722"/>
<circle cx="486.91" cy="131.39" r="1.15" fill="#b01722"/>
<circle cx="485.49" cy="65.49" r="1.15" fill="#b01722"/>
<circle cx="485.05" cy="70.25" r="1.15" fill="#b01722"/>
<circle cx="479.71" cy="73.43" r="1.15" fill="#b01722"/>
<circle cx="485.99" cy="76.60" r="1.15" fill="#b01722"/>
<circle cx="486.86" cy="81.37" r="1.15" fill="#b01722"/>
<circle cx="483.47" cy="87.72" r="1.15" fill="#b01722"/>
<circle cx="483.11" cy="91.69" r="1.15" fill="#b01722"/>
<circle cx="488.19" cy="131.39" r="1.15" fill="#b01722"/>
<circle cx="480.40" cy="129.80" r="1.15" fill="#b01722"/>
<circle cx="485.09" cy="127.42" r="1.15" fill="#b01722"/>
<line x1="484.10" y1="111.14" x2="484.10" y2="107.57" stroke="#b01722" stroke-width="1"/>
<line x1="478.02" y1="107.57" x2="490.18" y2="107.57" stroke="#b01722" stroke-width="1"/>
<line x1="478.02" y1="111.14" x2="490.18" y2="111.14" stroke="#b01722" stroke-width="1"/>
<line x1="478.02" y1="109.56" x2="490.18" y2="109.56" stroke="#b01722" stroke-width="1"/>
<line x1="427.20" y1="143.30" x2="507.20" y2="143.30" stroke="#231f20" stroke-width="1"/>
<line x1="450.10" y1="143.30" x2="450.10" y2="147.30" stroke="#231f20" stroke-width="1"/>
<line x1="484.10" y1="143.30" x2="484.10" y2="147.30" stroke="#231f20" stroke-width="1"/>
<text x="445.90" y="156.40" font-size="10" text-anchor="middle">Non-smoker</text>
<text x="495.60" y="156.40" font-size="10" text-anchor="middle">Smoker</text>
<text x="394.50" y="82.00" font-size="10.3" text-anchor="middle" transform="rotate(-90 394.50 82.00)">Lesion thickness (μm)</text>
<line x1="450.50" y1="46.40" x2="479.20" y2="46.40" stroke="#231f20" stroke-width="1"/>
<text x="464.85" y="43.40" font-size="10" text-anchor="middle">ns</text>
<line x1="223.00" y1="310.30" x2="223.00" y2="191.00" stroke="#231f20" stroke-width="1"/>
<line x1="218.50" y1="309.80" x2="223.00" y2="309.80" stroke="#231f20" stroke-width="1"/>
<text x="216.70" y="313.40" font-size="10" text-anchor="end">0</text>
<line x1="218.50" y1="286.04" x2="223.00" y2="286.04" stroke="#231f20" stroke-width="1"/>
<text x="216.70" y="289.64" font-size="10" text-anchor="end">20</text>
<line x1="218.50" y1="262.28" x2="223.00" y2="262.28" stroke="#231f20" stroke-width="1"/>
<text x="216.70" y="265.88" font-size="10" text-anchor="end">40</text>
<line x1="218.50" y1="238.52" x2="223.00" y2="238.52" stroke="#231f20" stroke-width="1"/>
<text x="216.70" y="242.12" font-size="10" text-anchor="end">60</text>
<line x1="218.50" y1="214.76" x2="223.00" y2="214.76" stroke="#231f20" stroke-width="1"/>
<text x="216.70" y="218.36" font-size="10" text-anchor="end">80</text>
<line x1="218.50" y1="191.00" x2="223.00" y2="191.00" stroke="#231f20" stroke-width="1"/>
<text x="216.70" y="194.60" font-size="10" text-anchor="end">100</text>
<rect x="235.40" y="224.86" width="21.80" height="84.94" fill="#fff" stroke="#231f20" stroke-width="1"/>
<circle cx="243.32" cy="206.99" r="1.15" fill="#111"/>
<circle cx="242.77" cy="230.88" r="1.15" fill="#111"/>
<circle cx="243.47" cy="219.35" r="1.15" fill="#111"/>
<circle cx="245.75" cy="210.82" r="1.15" fill="#111"/>
<circle cx="241.62" cy="225.12" r="1.15" fill="#111"/>
<circle cx="245.56" cy="220.26" r="1.15" fill="#111"/>
<circle cx="243.06" cy="217.83" r="1.15" fill="#111"/>
<circle cx="252.62" cy="230.72" r="1.15" fill="#111"/>
<circle cx="252.77" cy="224.90" r="1.15" fill="#111"/>
<circle cx="246.94" cy="222.18" r="1.15" fill="#111"/>
<circle cx="242.80" cy="218.38" r="1.15" fill="#111"/>
<circle cx="252.67" cy="224.51" r="1.15" fill="#111"/>
<circle cx="243.69" cy="225.66" r="1.15" fill="#111"/>
<circle cx="244.34" cy="231.51" r="1.15" fill="#111"/>
<circle cx="239.47" cy="226.82" r="1.15" fill="#111"/>
<circle cx="244.68" cy="217.91" r="1.15" fill="#111"/>
<circle cx="245.95" cy="223.54" r="1.15" fill="#111"/>
<circle cx="246.34" cy="230.34" r="1.15" fill="#111"/>
<circle cx="242.21" cy="230.26" r="1.15" fill="#111"/>
<circle cx="246.36" cy="205.26" r="1.15" fill="#111"/>
<circle cx="239.53" cy="216.14" r="1.15" fill="#111"/>
<circle cx="243.07" cy="219.72" r="1.15" fill="#111"/>
<circle cx="240.69" cy="242.08" r="1.15" fill="#111"/>
<circle cx="244.93" cy="219.83" r="1.15" fill="#111"/>
<circle cx="240.03" cy="220.84" r="1.15" fill="#111"/>
<circle cx="239.77" cy="212.26" r="1.15" fill="#111"/>
<circle cx="243.62" cy="221.21" r="1.15" fill="#111"/>
<circle cx="242.64" cy="224.75" r="1.15" fill="#111"/>
<circle cx="247.47" cy="220.54" r="1.15" fill="#111"/>
<circle cx="246.70" cy="238.12" r="1.15" fill="#111"/>
<circle cx="249.73" cy="216.90" r="1.15" fill="#111"/>
<circle cx="248.46" cy="221.95" r="1.15" fill="#111"/>
<circle cx="249.25" cy="229.27" r="1.15" fill="#111"/>
<circle cx="251.49" cy="214.82" r="1.15" fill="#111"/>
<circle cx="244.79" cy="211.37" r="1.15" fill="#111"/>
<circle cx="243.92" cy="234.26" r="1.15" fill="#111"/>
<circle cx="252.93" cy="229.01" r="1.15" fill="#111"/>
<circle cx="241.50" cy="222.19" r="1.15" fill="#111"/>
<circle cx="249.37" cy="222.96" r="1.15" fill="#111"/>
<circle cx="248.26" cy="227.10" r="1.15" fill="#111"/>
<circle cx="240.06" cy="231.21" r="1.15" fill="#111"/>
<circle cx="250.89" cy="209.15" r="1.15" fill="#111"/>
<circle cx="251.66" cy="216.87" r="1.15" fill="#111"/>
<circle cx="248.04" cy="232.78" r="1.15" fill="#111"/>
<circle cx="249.50" cy="233.85" r="1.15" fill="#111"/>
<line x1="246.30" y1="226.05" x2="246.30" y2="223.67" stroke="#111" stroke-width="1"/>
<line x1="239.46" y1="223.67" x2="253.14" y2="223.67" stroke="#111" stroke-width="1"/>
<line x1="239.46" y1="226.05" x2="253.14" y2="226.05" stroke="#111" stroke-width="1"/>
<line x1="239.46" y1="224.86" x2="253.14" y2="224.86" stroke="#111" stroke-width="1"/>
<rect x="269.00" y="230.80" width="21.90" height="79.00" fill="#fff" stroke="#c1272d" stroke-width="1"/>
<circle cx="284.24" cy="220.26" r="1.15" fill="#b01722"/>
<circle cx="274.99" cy="224.93" r="1.15" fill="#b01722"/>
<circle cx="280.28" cy="219.49" r="1.15" fill="#b01722"/>
<circle cx="280.01" cy="226.10" r="1.15" fill="#b01722"/>
<circle cx="284.55" cy="237.09" r="1.15" fill="#b01722"/>
<circle cx="284.14" cy="229.69" r="1.15" fill="#b01722"/>
<circle cx="284.43" cy="245.51" r="1.15" fill="#b01722"/>
<circle cx="281.11" cy="236.28" r="1.15" fill="#b01722"/>
<circle cx="285.35" cy="231.78" r="1.15" fill="#b01722"/>
<circle cx="282.46" cy="227.98" r="1.15" fill="#b01722"/>
<circle cx="282.61" cy="236.15" r="1.15" fill="#b01722"/>
<circle cx="276.24" cy="232.20" r="1.15" fill="#b01722"/>
<circle cx="273.51" cy="228.40" r="1.15" fill="#b01722"/>
<circle cx="274.91" cy="228.93" r="1.15" fill="#b01722"/>
<circle cx="278.04" cy="227.22" r="1.15" fill="#b01722"/>
<circle cx="274.52" cy="230.03" r="1.15" fill="#b01722"/>
<circle cx="284.56" cy="233.51" r="1.15" fill="#b01722"/>
<circle cx="280.75" cy="226.24" r="1.15" fill="#b01722"/>
<circle cx="281.71" cy="231.07" r="1.15" fill="#b01722"/>
<circle cx="281.68" cy="236.79" r="1.15" fill="#b01722"/>
<circle cx="282.43" cy="235.48" r="1.15" fill="#b01722"/>
<circle cx="279.80" cy="231.39" r="1.15" fill="#b01722"/>
<circle cx="273.13" cy="232.11" r="1.15" fill="#b01722"/>
<circle cx="284.04" cy="230.37" r="1.15" fill="#b01722"/>
<circle cx="283.36" cy="231.40" r="1.15" fill="#b01722"/>
<circle cx="279.99" cy="230.24" r="1.15" fill="#b01722"/>
<circle cx="280.43" cy="232.27" r="1.15" fill="#b01722"/>
<circle cx="282.14" cy="239.61" r="1.15" fill="#b01722"/>
<circle cx="273.99" cy="228.64" r="1.15" fill="#b01722"/>
<circle cx="283.20" cy="224.51" r="1.15" fill="#b01722"/>
<circle cx="276.55" cy="228.55" r="1.15" fill="#b01722"/>
<circle cx="274.10" cy="232.63" r="1.15" fill="#b01722"/>
<circle cx="276.73" cy="228.47" r="1.15" fill="#b01722"/>
<circle cx="283.10" cy="237.70" r="1.15" fill="#b01722"/>
<circle cx="275.90" cy="243.78" r="1.15" fill="#b01722"/>
<circle cx="283.25" cy="231.00" r="1.15" fill="#b01722"/>
<circle cx="286.49" cy="237.47" r="1.15" fill="#b01722"/>
<circle cx="279.87" cy="226.56" r="1.15" fill="#b01722"/>
<circle cx="278.34" cy="238.48" r="1.15" fill="#b01722"/>
<circle cx="279.66" cy="245.65" r="1.15" fill="#b01722"/>
<circle cx="282.47" cy="238.18" r="1.15" fill="#b01722"/>
<circle cx="283.62" cy="221.08" r="1.15" fill="#b01722"/>
<circle cx="281.56" cy="233.89" r="1.15" fill="#b01722"/>
<circle cx="281.91" cy="240.34" r="1.15" fill="#b01722"/>
<circle cx="274.14" cy="236.38" r="1.15" fill="#b01722"/>
<circle cx="275.11" cy="227.99" r="1.15" fill="#b01722"/>
<circle cx="276.57" cy="228.15" r="1.15" fill="#b01722"/>
<circle cx="283.29" cy="230.24" r="1.15" fill="#b01722"/>
<circle cx="277.26" cy="221.70" r="1.15" fill="#b01722"/>
<circle cx="280.88" cy="226.78" r="1.15" fill="#b01722"/>
<circle cx="273.25" cy="231.53" r="1.15" fill="#b01722"/>
<circle cx="273.91" cy="227.49" r="1.15" fill="#b01722"/>
<circle cx="276.77" cy="220.58" r="1.15" fill="#b01722"/>
<circle cx="282.31" cy="225.05" r="1.15" fill="#b01722"/>
<circle cx="282.59" cy="224.70" r="1.15" fill="#b01722"/>
<line x1="279.95" y1="231.99" x2="279.95" y2="229.61" stroke="#b01722" stroke-width="1"/>
<line x1="273.08" y1="229.61" x2="286.82" y2="229.61" stroke="#b01722" stroke-width="1"/>
<line x1="273.08" y1="231.99" x2="286.82" y2="231.99" stroke="#b01722" stroke-width="1"/>
<line x1="273.08" y1="230.80" x2="286.82" y2="230.80" stroke="#b01722" stroke-width="1"/>
<line x1="223.00" y1="309.80" x2="303.00" y2="309.80" stroke="#231f20" stroke-width="1"/>
<line x1="246.30" y1="309.80" x2="246.30" y2="313.80" stroke="#231f20" stroke-width="1"/>
<line x1="280.00" y1="309.80" x2="280.00" y2="313.80" stroke="#231f20" stroke-width="1"/>
<text x="241.00" y="327.00" font-size="10" text-anchor="middle">Non-smoker</text>
<text x="292.70" y="327.00" font-size="10" text-anchor="middle">Smoker</text>
<text x="199.80" y="249.60" font-size="10.6" text-anchor="middle" transform="rotate(-90 199.80 249.60)">AMD onset age (year)</text>
<line x1="249.00" y1="196.30" x2="277.70" y2="196.30" stroke="#231f20" stroke-width="1"/>
<text x="263.35" y="195.30" font-size="10" text-anchor="middle">**</text>
<line x1="557.10" y1="146.10" x2="557.10" y2="22.80" stroke="#231f20" stroke-width="1"/>
<line x1="552.60" y1="145.60" x2="557.10" y2="145.60" stroke="#231f20" stroke-width="1"/>
<text x="550.80" y="149.20" font-size="10" text-anchor="end">0.0</text>
<line x1="552.60" y1="104.67" x2="557.10" y2="104.67" stroke="#231f20" stroke-width="1"/>
<text x="550.80" y="108.27" font-size="10" text-anchor="end">0.5</text>
<line x1="552.60" y1="63.73" x2="557.10" y2="63.73" stroke="#231f20" stroke-width="1"/>
<text x="550.80" y="67.33" font-size="10" text-anchor="end">1.0</text>
<line x1="552.60" y1="22.80" x2="557.10" y2="22.80" stroke="#231f20" stroke-width="1"/>
<text x="550.80" y="26.40" font-size="10" text-anchor="end">1.5</text>
<line x1="557.10" y1="145.60" x2="680.30" y2="145.60" stroke="#231f20" stroke-width="1"/>
<line x1="572.50" y1="145.60" x2="572.50" y2="149.60" stroke="#231f20" stroke-width="1"/>
<line x1="603.00" y1="145.60" x2="603.00" y2="149.60" stroke="#231f20" stroke-width="1"/>
<line x1="633.40" y1="145.60" x2="633.40" y2="149.60" stroke="#231f20" stroke-width="1"/>
<line x1="664.10" y1="145.60" x2="664.10" y2="149.60" stroke="#231f20" stroke-width="1"/>
<text x="572.50" y="161.30" font-size="10" text-anchor="middle">0</text>
<text x="603.00" y="161.30" font-size="10" text-anchor="middle">1</text>
<text x="633.40" y="161.30" font-size="10" text-anchor="middle">2</text>
<text x="664.10" y="161.30" font-size="10" text-anchor="middle">3</text>
<text x="567.80" y="161.30" font-size="10" text-anchor="end">Month</text>
<polyline points="572.50,63.73 603.00,79.78 633.40,86.08 664.10,95.01" fill="none" stroke="#c1272d" stroke-width="1"/>
<polyline points="572.50,63.73 603.00,74.62 633.40,92.71 664.10,106.47" fill="none" stroke="#231f20" stroke-width="1"/>
<circle cx="572.50" cy="63.73" r="1.90" fill="#c1272d"/>
<line x1="603.00" y1="81.42" x2="603.00" y2="78.14" stroke="#c1272d" stroke-width="1"/>
<line x1="601.00" y1="78.14" x2="605.00" y2="78.14" stroke="#c1272d" stroke-width="1"/>
<line x1="601.00" y1="81.42" x2="605.00" y2="81.42" stroke="#c1272d" stroke-width="1"/>
<line x1="601.00" y1="79.78" x2="605.00" y2="79.78" stroke="#c1272d" stroke-width="1"/>
<circle cx="603.00" cy="79.78" r="1.90" fill="#c1272d"/>
<line x1="633.40" y1="87.31" x2="633.40" y2="84.85" stroke="#c1272d" stroke-width="1"/>
<line x1="631.40" y1="84.85" x2="635.40" y2="84.85" stroke="#c1272d" stroke-width="1"/>
<line x1="631.40" y1="87.31" x2="635.40" y2="87.31" stroke="#c1272d" stroke-width="1"/>
<line x1="631.40" y1="86.08" x2="635.40" y2="86.08" stroke="#c1272d" stroke-width="1"/>
<circle cx="633.40" cy="86.08" r="1.90" fill="#c1272d"/>
<line x1="664.10" y1="96.23" x2="664.10" y2="93.78" stroke="#c1272d" stroke-width="1"/>
<line x1="662.10" y1="93.78" x2="666.10" y2="93.78" stroke="#c1272d" stroke-width="1"/>
<line x1="662.10" y1="96.23" x2="666.10" y2="96.23" stroke="#c1272d" stroke-width="1"/>
<line x1="662.10" y1="95.01" x2="666.10" y2="95.01" stroke="#c1272d" stroke-width="1"/>
<circle cx="664.10" cy="95.01" r="1.90" fill="#c1272d"/>
<circle cx="572.50" cy="63.73" r="1.60" fill="#231f20"/>
<line x1="603.00" y1="77.08" x2="603.00" y2="72.17" stroke="#231f20" stroke-width="1"/>
<line x1="601.00" y1="72.17" x2="605.00" y2="72.17" stroke="#231f20" stroke-width="1"/>
<line x1="601.00" y1="77.08" x2="605.00" y2="77.08" stroke="#231f20" stroke-width="1"/>
<line x1="601.00" y1="74.62" x2="605.00" y2="74.62" stroke="#231f20" stroke-width="1"/>
<circle cx="603.00" cy="74.62" r="1.60" fill="#231f20"/>
<line x1="633.40" y1="94.35" x2="633.40" y2="91.08" stroke="#231f20" stroke-width="1"/>
<line x1="631.40" y1="91.08" x2="635.40" y2="91.08" stroke="#231f20" stroke-width="1"/>
<line x1="631.40" y1="94.35" x2="635.40" y2="94.35" stroke="#231f20" stroke-width="1"/>
<line x1="631.40" y1="92.71" x2="635.40" y2="92.71" stroke="#231f20" stroke-width="1"/>
<circle cx="633.40" cy="92.71" r="1.60" fill="#231f20"/>
<line x1="664.10" y1="108.11" x2="664.10" y2="104.83" stroke="#231f20" stroke-width="1"/>
<line x1="662.10" y1="104.83" x2="666.10" y2="104.83" stroke="#231f20" stroke-width="1"/>
<line x1="662.10" y1="108.11" x2="666.10" y2="108.11" stroke="#231f20" stroke-width="1"/>
<line x1="662.10" y1="106.47" x2="666.10" y2="106.47" stroke="#231f20" stroke-width="1"/>
<circle cx="664.10" cy="106.47" r="1.60" fill="#231f20"/>
<text x="663.80" y="85.50" font-size="10" text-anchor="middle">****</text>
<text x="532.20" y="84.00" font-size="10.2" text-anchor="middle" transform="rotate(-90 532.20 84.00)">Relative retinal thickness</text>
<line x1="605.30" y1="22.40" x2="617.80" y2="22.40" stroke="#231f20" stroke-width="1"/>
<circle cx="611.55" cy="22.40" r="1.20" fill="#231f20"/>
<line x1="605.30" y1="39.50" x2="617.80" y2="39.50" stroke="#c1272d" stroke-width="1"/>
<circle cx="611.55" cy="39.50" r="1.80" fill="#c1272d"/>
<text x="625.80" y="26.00" font-size="10">Non-smoker</text>
<text x="625.80" y="43.10" font-size="10">Smoker</text>
<line x1="47.00" y1="311.50" x2="47.00" y2="188.50" stroke="#231f20" stroke-width="1"/>
<line x1="42.50" y1="311.00" x2="47.00" y2="311.00" stroke="#231f20" stroke-width="1"/>
<text x="40.70" y="314.60" font-size="10" text-anchor="end">0.0</text>
<line x1="42.50" y1="270.17" x2="47.00" y2="270.17" stroke="#231f20" stroke-width="1"/>
<text x="40.70" y="273.77" font-size="10" text-anchor="end">0.5</text>
<line x1="42.50" y1="229.33" x2="47.00" y2="229.33" stroke="#231f20" stroke-width="1"/>
<text x="40.70" y="232.93" font-size="10" text-anchor="end">1.0</text>
<line x1="42.50" y1="188.50" x2="47.00" y2="188.50" stroke="#231f20" stroke-width="1"/>
<text x="40.70" y="192.10" font-size="10" text-anchor="end">1.5</text>
<line x1="47.00" y1="311.00" x2="170.50" y2="311.00" stroke="#231f20" stroke-width="1"/>
<line x1="62.50" y1="311.00" x2="62.50" y2="315.00" stroke="#231f20" stroke-width="1"/>
<line x1="93.30" y1="311.00" x2="93.30" y2="315.00" stroke="#231f20" stroke-width="1"/>
<line x1="124.00" y1="311.00" x2="124.00" y2="315.00" stroke="#231f20" stroke-width="1"/>
<line x1="154.30" y1="311.00" x2="154.30" y2="315.00" stroke="#231f20" stroke-width="1"/>
<text x="62.50" y="326.60" font-size="10" text-anchor="middle">0</text>
<text x="93.30" y="326.60" font-size="10" text-anchor="middle">1</text>
<text x="124.00" y="326.60" font-size="10" text-anchor="middle">2</text>
<text x="154.30" y="326.60" font-size="10" text-anchor="middle">3</text>
<text x="58.00" y="326.60" font-size="10" text-anchor="end">Month</text>
<polyline points="62.50,229.33 93.30,242.64 124.00,250.08 154.30,257.10" fill="none" stroke="#c1272d" stroke-width="1"/>
<polyline points="62.50,229.33 93.30,240.85 124.00,255.06 154.30,275.88" fill="none" stroke="#231f20" stroke-width="1"/>
<circle cx="62.50" cy="229.33" r="1.90" fill="#c1272d"/>
<line x1="93.30" y1="246.73" x2="93.30" y2="238.56" stroke="#c1272d" stroke-width="1"/>
<line x1="91.30" y1="238.56" x2="95.30" y2="238.56" stroke="#c1272d" stroke-width="1"/>
<line x1="91.30" y1="246.73" x2="95.30" y2="246.73" stroke="#c1272d" stroke-width="1"/>
<line x1="91.30" y1="242.64" x2="95.30" y2="242.64" stroke="#c1272d" stroke-width="1"/>
<circle cx="93.30" cy="242.64" r="1.90" fill="#c1272d"/>
<line x1="124.00" y1="253.34" x2="124.00" y2="246.81" stroke="#c1272d" stroke-width="1"/>
<line x1="122.00" y1="246.81" x2="126.00" y2="246.81" stroke="#c1272d" stroke-width="1"/>
<line x1="122.00" y1="253.34" x2="126.00" y2="253.34" stroke="#c1272d" stroke-width="1"/>
<line x1="122.00" y1="250.08" x2="126.00" y2="250.08" stroke="#c1272d" stroke-width="1"/>
<circle cx="124.00" cy="250.08" r="1.90" fill="#c1272d"/>
<line x1="154.30" y1="261.18" x2="154.30" y2="253.02" stroke="#c1272d" stroke-width="1"/>
<line x1="152.30" y1="253.02" x2="156.30" y2="253.02" stroke="#c1272d" stroke-width="1"/>
<line x1="152.30" y1="261.18" x2="156.30" y2="261.18" stroke="#c1272d" stroke-width="1"/>
<line x1="152.30" y1="257.10" x2="156.30" y2="257.10" stroke="#c1272d" stroke-width="1"/>
<circle cx="154.30" cy="257.10" r="1.90" fill="#c1272d"/>
<circle cx="62.50" cy="229.33" r="1.60" fill="#231f20"/>
<line x1="93.30" y1="244.93" x2="93.30" y2="236.76" stroke="#231f20" stroke-width="1"/>
<line x1="91.30" y1="236.76" x2="95.30" y2="236.76" stroke="#231f20" stroke-width="1"/>
<line x1="91.30" y1="244.93" x2="95.30" y2="244.93" stroke="#231f20" stroke-width="1"/>
<line x1="91.30" y1="240.85" x2="95.30" y2="240.85" stroke="#231f20" stroke-width="1"/>
<circle cx="93.30" cy="240.85" r="1.60" fill="#231f20"/>
<line x1="124.00" y1="258.32" x2="124.00" y2="251.79" stroke="#231f20" stroke-width="1"/>
<line x1="122.00" y1="251.79" x2="126.00" y2="251.79" stroke="#231f20" stroke-width="1"/>
<line x1="122.00" y1="258.32" x2="126.00" y2="258.32" stroke="#231f20" stroke-width="1"/>
<line x1="122.00" y1="255.06" x2="126.00" y2="255.06" stroke="#231f20" stroke-width="1"/>
<circle cx="124.00" cy="255.06" r="1.60" fill="#231f20"/>
<line x1="154.30" y1="277.52" x2="154.30" y2="274.25" stroke="#231f20" stroke-width="1"/>
<line x1="152.30" y1="274.25" x2="156.30" y2="274.25" stroke="#231f20" stroke-width="1"/>
<line x1="152.30" y1="277.52" x2="156.30" y2="277.52" stroke="#231f20" stroke-width="1"/>
<line x1="152.30" y1="275.88" x2="156.30" y2="275.88" stroke="#231f20" stroke-width="1"/>
<circle cx="154.30" cy="275.88" r="1.60" fill="#231f20"/>
<text x="154.50" y="250.50" font-size="10" text-anchor="middle">***</text>
<text x="22.00" y="246.90" font-size="10.3" text-anchor="middle" transform="rotate(-90 22.00 246.90)">Relative lesion thickness</text>
<line x1="82.00" y1="197.20" x2="94.50" y2="197.20" stroke="#231f20" stroke-width="1"/>
<circle cx="88.25" cy="197.20" r="1.20" fill="#231f20"/>
<line x1="82.00" y1="213.30" x2="94.50" y2="213.30" stroke="#c1272d" stroke-width="1"/>
<circle cx="88.25" cy="213.30" r="1.80" fill="#c1272d"/>
<text x="102.50" y="200.80" font-size="10">Non-smoker</text>
<text x="102.50" y="216.90" font-size="10">Smoker</text>
<line x1="596.20" y1="315.20" x2="596.20" y2="190.70" stroke="#231f20" stroke-width="1"/>
<line x1="591.70" y1="314.70" x2="596.20" y2="314.70" stroke="#231f20" stroke-width="1"/>
<text x="589.90" y="318.30" font-size="10" text-anchor="end">0</text>
<line x1="591.70" y1="289.90" x2="596.20" y2="289.90" stroke="#231f20" stroke-width="1"/>
<text x="589.90" y="293.50" font-size="10" text-anchor="end">1</text>
<line x1="591.70" y1="265.10" x2="596.20" y2="265.10" stroke="#231f20" stroke-width="1"/>
<text x="589.90" y="268.70" font-size="10" text-anchor="end">2</text>
<line x1="591.70" y1="240.30" x2="596.20" y2="240.30" stroke="#231f20" stroke-width="1"/>
<text x="589.90" y="243.90" font-size="10" text-anchor="end">3</text>
<line x1="591.70" y1="215.50" x2="596.20" y2="215.50" stroke="#231f20" stroke-width="1"/>
<text x="589.90" y="219.10" font-size="10" text-anchor="end">4</text>
<line x1="591.70" y1="190.70" x2="596.20" y2="190.70" stroke="#231f20" stroke-width="1"/>
<text x="589.90" y="194.30" font-size="10" text-anchor="end">5</text>
<rect x="608.00" y="264.36" width="22.20" height="50.34" fill="#dcdddc" stroke="#2b2b2b" stroke-width="1"/>
<circle cx="617.18" cy="256.42" r="1.10" fill="#111"/>
<circle cx="618.44" cy="257.66" r="1.10" fill="#111"/>
<circle cx="617.79" cy="258.40" r="1.10" fill="#111"/>
<circle cx="617.13" cy="259.64" r="1.10" fill="#111"/>
<circle cx="618.89" cy="261.38" r="1.10" fill="#111"/>
<circle cx="618.23" cy="272.04" r="1.10" fill="#111"/>
<circle cx="619.29" cy="274.52" r="1.10" fill="#111"/>
<circle cx="620.03" cy="277.50" r="1.10" fill="#111"/>
<circle cx="618.37" cy="281.22" r="1.10" fill="#111"/>
<line x1="619.10" y1="267.33" x2="619.10" y2="261.38" stroke="#111" stroke-width="1"/>
<line x1="613.07" y1="261.38" x2="625.13" y2="261.38" stroke="#111" stroke-width="1"/>
<line x1="613.07" y1="267.33" x2="625.13" y2="267.33" stroke="#111" stroke-width="1"/>
<line x1="613.07" y1="264.36" x2="625.13" y2="264.36" stroke="#111" stroke-width="1"/>
<rect x="642.50" y="251.96" width="23.20" height="62.74" fill="#a9d3ee" stroke="#2b2b2b" stroke-width="1"/>
<circle cx="658.21" cy="232.86" r="1.10" fill="#111"/>
<circle cx="653.50" cy="237.32" r="1.10" fill="#111"/>
<circle cx="656.14" cy="241.54" r="1.10" fill="#111"/>
<circle cx="654.33" cy="245.26" r="1.10" fill="#111"/>
<circle cx="656.17" cy="249.72" r="1.10" fill="#111"/>
<circle cx="649.99" cy="252.70" r="1.10" fill="#111"/>
<circle cx="652.71" cy="262.62" r="1.10" fill="#111"/>
<circle cx="654.56" cy="264.60" r="1.10" fill="#111"/>
<circle cx="655.22" cy="266.34" r="1.10" fill="#111"/>
<line x1="654.10" y1="255.18" x2="654.10" y2="248.73" stroke="#111" stroke-width="1"/>
<line x1="647.81" y1="248.73" x2="660.39" y2="248.73" stroke="#111" stroke-width="1"/>
<line x1="647.81" y1="255.18" x2="660.39" y2="255.18" stroke="#111" stroke-width="1"/>
<line x1="647.81" y1="251.96" x2="660.39" y2="251.96" stroke="#111" stroke-width="1"/>
<line x1="596.20" y1="314.70" x2="678.70" y2="314.70" stroke="#231f20" stroke-width="1"/>
<line x1="619.10" y1="314.70" x2="619.10" y2="318.70" stroke="#231f20" stroke-width="1"/>
<line x1="654.10" y1="314.70" x2="654.10" y2="318.70" stroke="#231f20" stroke-width="1"/>
<text x="617.00" y="326.50" font-size="10" text-anchor="middle">Ctrl</text>
<text x="655.00" y="326.50" font-size="10" text-anchor="middle">Smoke</text>
<text x="576.50" y="251.90" font-size="9.4" text-anchor="middle" transform="rotate(-90 576.50 251.90)">Leakage area (pixel)</text>
<line x1="620.60" y1="196.40" x2="649.50" y2="196.40" stroke="#231f20" stroke-width="1"/>
<text x="635.05" y="195.40" font-size="10" text-anchor="middle">**</text>
<text x="590.80" y="184.30" font-size="10">x10<tspan font-size="6.5" dy="-4">4</tspan></text>
<line x1="44.40" y1="499.40" x2="44.40" y2="376.70" stroke="#231f20" stroke-width="1"/>
<line x1="39.90" y1="498.90" x2="44.40" y2="498.90" stroke="#231f20" stroke-width="1"/>
<text x="38.10" y="502.50" font-size="10" text-anchor="end">0</text>
<line x1="39.90" y1="458.17" x2="44.40" y2="458.17" stroke="#231f20" stroke-width="1"/>
<text x="38.10" y="461.77" font-size="10" text-anchor="end">0.5</text>
<line x1="39.90" y1="417.43" x2="44.40" y2="417.43" stroke="#231f20" stroke-width="1"/>
<text x="38.10" y="421.03" font-size="10" text-anchor="end">1.0</text>
<line x1="39.90" y1="376.70" x2="44.40" y2="376.70" stroke="#231f20" stroke-width="1"/>
<text x="38.10" y="380.30" font-size="10" text-anchor="end">1.5</text>
<rect x="56.50" y="460.20" width="22.40" height="38.70" fill="#dcdddc" stroke="#2b2b2b" stroke-width="1"/>
<circle cx="71.68" cy="450.02" r="1.10" fill="#111"/>
<circle cx="68.28" cy="451.65" r="1.10" fill="#111"/>
<circle cx="69.99" cy="458.17" r="1.10" fill="#111"/>
<circle cx="69.07" cy="464.68" r="1.10" fill="#111"/>
<circle cx="69.40" cy="466.31" r="1.10" fill="#111"/>
<circle cx="68.61" cy="467.94" r="1.10" fill="#111"/>
<line x1="67.70" y1="463.87" x2="67.70" y2="456.13" stroke="#111" stroke-width="1"/>
<line x1="61.62" y1="456.13" x2="73.78" y2="456.13" stroke="#111" stroke-width="1"/>
<line x1="61.62" y1="463.87" x2="73.78" y2="463.87" stroke="#111" stroke-width="1"/>
<line x1="61.62" y1="460.20" x2="73.78" y2="460.20" stroke="#111" stroke-width="1"/>
<rect x="91.60" y="442.69" width="22.40" height="56.21" fill="#a9d3ee" stroke="#2b2b2b" stroke-width="1"/>
<circle cx="102.52" cy="432.91" r="1.10" fill="#111"/>
<circle cx="103.71" cy="436.17" r="1.10" fill="#111"/>
<circle cx="100.87" cy="440.24" r="1.10" fill="#111"/>
<circle cx="104.91" cy="445.13" r="1.10" fill="#111"/>
<circle cx="100.98" cy="451.65" r="1.10" fill="#111"/>
<circle cx="103.25" cy="454.91" r="1.10" fill="#111"/>
<line x1="102.80" y1="446.35" x2="102.80" y2="439.02" stroke="#111" stroke-width="1"/>
<line x1="96.72" y1="439.02" x2="108.88" y2="439.02" stroke="#111" stroke-width="1"/>
<line x1="96.72" y1="446.35" x2="108.88" y2="446.35" stroke="#111" stroke-width="1"/>
<line x1="96.72" y1="442.69" x2="108.88" y2="442.69" stroke="#111" stroke-width="1"/>
<line x1="44.40" y1="498.90" x2="126.80" y2="498.90" stroke="#231f20" stroke-width="1"/>
<line x1="67.70" y1="498.90" x2="67.70" y2="502.90" stroke="#231f20" stroke-width="1"/>
<line x1="102.80" y1="498.90" x2="102.80" y2="502.90" stroke="#231f20" stroke-width="1"/>
<text x="66.60" y="513.50" font-size="10" text-anchor="middle">Ctrl</text>
<text x="104.00" y="513.50" font-size="10" text-anchor="middle">Smoke</text>
<text x="19.80" y="423.40" font-size="10" text-anchor="middle" transform="rotate(-90 19.80 423.40)">CNV volume (μm<tspan font-size="6.5" dy="-4">3</tspan><tspan dy="4">)</tspan></text>
<line x1="68.90" y1="386.00" x2="97.60" y2="386.00" stroke="#231f20" stroke-width="1"/>
<text x="83.25" y="385.00" font-size="10" text-anchor="middle">**</text>
<text x="36.90" y="368.20" font-size="10">x10<tspan font-size="6.5" dy="-4">5</tspan></text>
<line x1="538.50" y1="715.80" x2="538.50" y2="593.00" stroke="#231f20" stroke-width="1"/>
<line x1="534.00" y1="715.30" x2="538.50" y2="715.30" stroke="#231f20" stroke-width="1"/>
<text x="532.20" y="718.90" font-size="10" text-anchor="end">0</text>
<line x1="534.00" y1="690.84" x2="538.50" y2="690.84" stroke="#231f20" stroke-width="1"/>
<text x="532.20" y="694.44" font-size="10" text-anchor="end">1</text>
<line x1="534.00" y1="666.38" x2="538.50" y2="666.38" stroke="#231f20" stroke-width="1"/>
<text x="532.20" y="669.98" font-size="10" text-anchor="end">2</text>
<line x1="534.00" y1="641.92" x2="538.50" y2="641.92" stroke="#231f20" stroke-width="1"/>
<text x="532.20" y="645.52" font-size="10" text-anchor="end">3</text>
<line x1="534.00" y1="617.46" x2="538.50" y2="617.46" stroke="#231f20" stroke-width="1"/>
<text x="532.20" y="621.06" font-size="10" text-anchor="end">4</text>
<line x1="534.00" y1="593.00" x2="538.50" y2="593.00" stroke="#231f20" stroke-width="1"/>
<text x="532.20" y="596.60" font-size="10" text-anchor="end">5</text>
<rect x="548.50" y="656.11" width="18.00" height="59.19" fill="#dcdddc" stroke="#2b2b2b" stroke-width="1"/>
<circle cx="555.41" cy="649.26" r="1.10" fill="#111"/>
<circle cx="557.40" cy="657.58" r="1.10" fill="#111"/>
<circle cx="557.95" cy="656.51" r="1.10" fill="#111"/>
<circle cx="558.18" cy="651.48" r="1.10" fill="#111"/>
<circle cx="557.16" cy="656.48" r="1.10" fill="#111"/>
<circle cx="556.19" cy="660.15" r="1.10" fill="#111"/>
<circle cx="557.73" cy="655.46" r="1.10" fill="#111"/>
<circle cx="556.80" cy="654.03" r="1.10" fill="#111"/>
<circle cx="559.78" cy="653.47" r="1.10" fill="#111"/>
<circle cx="558.62" cy="660.00" r="1.10" fill="#111"/>
<circle cx="557.33" cy="649.26" r="1.10" fill="#111"/>
<circle cx="556.82" cy="649.26" r="1.10" fill="#111"/>
<line x1="557.50" y1="658.55" x2="557.50" y2="653.66" stroke="#111" stroke-width="1"/>
<line x1="552.56" y1="653.66" x2="562.44" y2="653.66" stroke="#111" stroke-width="1"/>
<line x1="552.56" y1="658.55" x2="562.44" y2="658.55" stroke="#111" stroke-width="1"/>
<line x1="552.56" y1="656.11" x2="562.44" y2="656.11" stroke="#111" stroke-width="1"/>
<rect x="576.70" y="642.65" width="18.00" height="72.65" fill="#a9d3ee" stroke="#2b2b2b" stroke-width="1"/>
<circle cx="584.68" cy="642.56" r="1.10" fill="#111"/>
<circle cx="584.34" cy="641.34" r="1.10" fill="#111"/>
<circle cx="585.19" cy="644.75" r="1.10" fill="#111"/>
<circle cx="586.13" cy="635.80" r="1.10" fill="#111"/>
<circle cx="586.45" cy="646.10" r="1.10" fill="#111"/>
<circle cx="586.53" cy="639.36" r="1.10" fill="#111"/>
<circle cx="588.75" cy="645.00" r="1.10" fill="#111"/>
<circle cx="584.68" cy="646.05" r="1.10" fill="#111"/>
<circle cx="585.72" cy="639.14" r="1.10" fill="#111"/>
<circle cx="588.93" cy="636.13" r="1.10" fill="#111"/>
<circle cx="582.99" cy="642.70" r="1.10" fill="#111"/>
<circle cx="584.94" cy="645.97" r="1.10" fill="#111"/>
<line x1="585.70" y1="644.61" x2="585.70" y2="640.70" stroke="#111" stroke-width="1"/>
<line x1="580.76" y1="640.70" x2="590.64" y2="640.70" stroke="#111" stroke-width="1"/>
<line x1="580.76" y1="644.61" x2="590.64" y2="644.61" stroke="#111" stroke-width="1"/>
<line x1="580.76" y1="642.65" x2="590.64" y2="642.65" stroke="#111" stroke-width="1"/>
<rect x="605.20" y="668.34" width="18.00" height="46.96" fill="#c13f50" stroke="#2b2b2b" stroke-width="1"/>
<circle cx="614.45" cy="664.86" r="1.10" fill="#111"/>
<circle cx="614.42" cy="669.07" r="1.10" fill="#111"/>
<circle cx="614.79" cy="667.31" r="1.10" fill="#111"/>
<circle cx="613.85" cy="661.38" r="1.10" fill="#111"/>
<circle cx="614.73" cy="663.29" r="1.10" fill="#111"/>
<circle cx="614.28" cy="671.37" r="1.10" fill="#111"/>
<circle cx="615.32" cy="657.65" r="1.10" fill="#111"/>
<circle cx="611.45" cy="668.81" r="1.10" fill="#111"/>
<circle cx="612.91" cy="664.98" r="1.10" fill="#111"/>
<circle cx="614.20" cy="671.99" r="1.10" fill="#111"/>
<circle cx="612.70" cy="669.04" r="1.10" fill="#111"/>
<circle cx="612.68" cy="676.16" r="1.10" fill="#111"/>
<line x1="614.20" y1="670.78" x2="614.20" y2="665.89" stroke="#111" stroke-width="1"/>
<line x1="609.26" y1="665.89" x2="619.14" y2="665.89" stroke="#111" stroke-width="1"/>
<line x1="609.26" y1="670.78" x2="619.14" y2="670.78" stroke="#111" stroke-width="1"/>
<line x1="609.26" y1="668.34" x2="619.14" y2="668.34" stroke="#111" stroke-width="1"/>
<rect x="633.40" y="667.36" width="18.00" height="47.94" fill="#3a79b5" stroke="#2b2b2b" stroke-width="1"/>
<circle cx="643.31" cy="659.74" r="1.10" fill="#111"/>
<circle cx="641.46" cy="661.59" r="1.10" fill="#111"/>
<circle cx="643.32" cy="672.95" r="1.10" fill="#111"/>
<circle cx="643.48" cy="674.23" r="1.10" fill="#111"/>
<circle cx="642.85" cy="674.74" r="1.10" fill="#111"/>
<circle cx="643.14" cy="662.43" r="1.10" fill="#111"/>
<circle cx="642.25" cy="669.63" r="1.10" fill="#111"/>
<circle cx="640.35" cy="667.87" r="1.10" fill="#111"/>
<circle cx="642.36" cy="668.98" r="1.10" fill="#111"/>
<circle cx="643.06" cy="668.14" r="1.10" fill="#111"/>
<circle cx="641.63" cy="672.39" r="1.10" fill="#111"/>
<circle cx="642.26" cy="667.50" r="1.10" fill="#111"/>
<line x1="642.40" y1="669.32" x2="642.40" y2="665.40" stroke="#111" stroke-width="1"/>
<line x1="637.46" y1="665.40" x2="647.34" y2="665.40" stroke="#111" stroke-width="1"/>
<line x1="637.46" y1="669.32" x2="647.34" y2="669.32" stroke="#111" stroke-width="1"/>
<line x1="637.46" y1="667.36" x2="647.34" y2="667.36" stroke="#111" stroke-width="1"/>
<line x1="538.50" y1="715.30" x2="661.40" y2="715.30" stroke="#231f20" stroke-width="1"/>
<line x1="557.50" y1="715.30" x2="557.50" y2="719.30" stroke="#231f20" stroke-width="1"/>
<line x1="585.70" y1="715.30" x2="585.70" y2="719.30" stroke="#231f20" stroke-width="1"/>
<line x1="614.20" y1="715.30" x2="614.20" y2="719.30" stroke="#231f20" stroke-width="1"/>
<line x1="642.40" y1="715.30" x2="642.40" y2="719.30" stroke="#231f20" stroke-width="1"/>
<text x="555.30" y="729.20" font-size="10" text-anchor="middle">Ctrl</text>
<text x="586.00" y="729.20" font-size="10" text-anchor="middle">Smoke</text>
<text x="615.40" y="729.20" font-size="10" text-anchor="middle">Ctrl</text>
<text x="646.70" y="729.20" font-size="10" text-anchor="middle">Smoke</text>
<text x="519.60" y="655.10" font-size="10.9" text-anchor="middle" transform="rotate(-90 519.60 655.10)">Leakage area (pixel)</text>
<line x1="557.80" y1="602.20" x2="613.90" y2="602.20" stroke="#231f20" stroke-width="1"/>
<text x="585.85" y="601.70" font-size="10" text-anchor="middle">****</text>
<line x1="557.80" y1="622.10" x2="587.80" y2="622.10" stroke="#231f20" stroke-width="1"/>
<text x="572.80" y="621.60" font-size="10" text-anchor="middle">****</text>
<line x1="616.00" y1="622.10" x2="646.00" y2="622.10" stroke="#231f20" stroke-width="1"/>
<text x="631.00" y="619.10" font-size="10" text-anchor="middle">ns</text>
<text x="530.20" y="588.90" font-size="10">x10<tspan font-size="6.5" dy="-4">4</tspan></text>
<line x1="548.20" y1="731.00" x2="596.70" y2="731.00" stroke="#555" stroke-width="1"/>
<line x1="609.60" y1="731.00" x2="658.70" y2="731.00" stroke="#555" stroke-width="1"/>
<text x="575.80" y="741.50" font-size="10" text-anchor="middle" font-style="italic">Sema4d<tspan font-size="6" dy="-4">+/+</tspan></text>
<text x="632.60" y="741.50" font-size="10" text-anchor="middle" font-style="italic">Sema4d<tspan font-size="6" dy="-4">-/-</tspan></text>
<line x1="185.20" y1="938.30" x2="185.20" y2="817.20" stroke="#231f20" stroke-width="1"/>
<line x1="180.70" y1="937.80" x2="185.20" y2="937.80" stroke="#231f20" stroke-width="1"/>
<text x="178.90" y="941.40" font-size="10" text-anchor="end">0</text>
<line x1="180.70" y1="897.60" x2="185.20" y2="897.60" stroke="#231f20" stroke-width="1"/>
<text x="178.90" y="901.20" font-size="10" text-anchor="end">1</text>
<line x1="180.70" y1="857.40" x2="185.20" y2="857.40" stroke="#231f20" stroke-width="1"/>
<text x="178.90" y="861.00" font-size="10" text-anchor="end">2</text>
<line x1="180.70" y1="817.20" x2="185.20" y2="817.20" stroke="#231f20" stroke-width="1"/>
<text x="178.90" y="820.80" font-size="10" text-anchor="end">3</text>
<rect x="194.60" y="911.27" width="17.60" height="26.53" fill="#dcdddc" stroke="#2b2b2b" stroke-width="1"/>
<circle cx="204.47" cy="896.39" r="1.10" fill="#111"/>
<circle cx="202.15" cy="899.61" r="1.10" fill="#111"/>
<circle cx="204.31" cy="904.84" r="1.10" fill="#111"/>
<circle cx="206.05" cy="909.66" r="1.10" fill="#111"/>
<circle cx="202.61" cy="912.88" r="1.10" fill="#111"/>
<circle cx="203.61" cy="915.69" r="1.10" fill="#111"/>
<circle cx="203.19" cy="917.70" r="1.10" fill="#111"/>
<circle cx="205.59" cy="919.71" r="1.10" fill="#111"/>
<circle cx="203.85" cy="922.52" r="1.10" fill="#111"/>
<circle cx="204.68" cy="913.68" r="1.10" fill="#111"/>
<line x1="203.40" y1="913.68" x2="203.40" y2="908.86" stroke="#111" stroke-width="1"/>
<line x1="198.56" y1="908.86" x2="208.24" y2="908.86" stroke="#111" stroke-width="1"/>
<line x1="198.56" y1="913.68" x2="208.24" y2="913.68" stroke="#111" stroke-width="1"/>
<line x1="198.56" y1="911.27" x2="208.24" y2="911.27" stroke="#111" stroke-width="1"/>
<rect x="222.90" y="898.81" width="17.00" height="38.99" fill="#a9d3ee" stroke="#2b2b2b" stroke-width="1"/>
<circle cx="230.45" cy="870.26" r="1.10" fill="#111"/>
<circle cx="231.38" cy="883.53" r="1.10" fill="#111"/>
<circle cx="231.39" cy="887.55" r="1.10" fill="#111"/>
<circle cx="228.95" cy="897.60" r="1.10" fill="#111"/>
<circle cx="233.38" cy="903.63" r="1.10" fill="#111"/>
<circle cx="232.64" cy="908.86" r="1.10" fill="#111"/>
<circle cx="228.99" cy="913.68" r="1.10" fill="#111"/>
<circle cx="232.42" cy="917.70" r="1.10" fill="#111"/>
<line x1="231.40" y1="903.63" x2="231.40" y2="893.98" stroke="#111" stroke-width="1"/>
<line x1="226.72" y1="893.98" x2="236.08" y2="893.98" stroke="#111" stroke-width="1"/>
<line x1="226.72" y1="903.63" x2="236.08" y2="903.63" stroke="#111" stroke-width="1"/>
<line x1="226.72" y1="898.81" x2="236.08" y2="898.81" stroke="#111" stroke-width="1"/>
<rect x="250.90" y="921.72" width="17.00" height="16.08" fill="#c13f50" stroke="#2b2b2b" stroke-width="1"/>
<circle cx="259.22" cy="918.91" r="1.10" fill="#111"/>
<circle cx="260.02" cy="919.71" r="1.10" fill="#111"/>
<circle cx="259.90" cy="920.92" r="1.10" fill="#111"/>
<circle cx="257.34" cy="921.72" r="1.10" fill="#111"/>
<circle cx="259.11" cy="922.52" r="1.10" fill="#111"/>
<circle cx="261.46" cy="923.33" r="1.10" fill="#111"/>
<circle cx="258.61" cy="924.53" r="1.10" fill="#111"/>
<circle cx="257.99" cy="925.74" r="1.10" fill="#111"/>
<circle cx="257.53" cy="920.11" r="1.10" fill="#111"/>
<line x1="259.40" y1="922.93" x2="259.40" y2="920.51" stroke="#111" stroke-width="1"/>
<line x1="254.72" y1="920.51" x2="264.08" y2="920.51" stroke="#111" stroke-width="1"/>
<line x1="254.72" y1="922.93" x2="264.08" y2="922.93" stroke="#111" stroke-width="1"/>
<line x1="254.72" y1="921.72" x2="264.08" y2="921.72" stroke="#111" stroke-width="1"/>
<rect x="278.40" y="918.91" width="17.30" height="18.89" fill="#3a79b5" stroke="#2b2b2b" stroke-width="1"/>
<circle cx="285.34" cy="908.86" r="1.10" fill="#111"/>
<circle cx="287.52" cy="911.27" r="1.10" fill="#111"/>
<circle cx="289.42" cy="913.68" r="1.10" fill="#111"/>
<circle cx="287.65" cy="917.70" r="1.10" fill="#111"/>
<circle cx="287.39" cy="919.71" r="1.10" fill="#111"/>
<circle cx="290.16" cy="922.52" r="1.10" fill="#111"/>
<circle cx="286.32" cy="925.74" r="1.10" fill="#111"/>
<circle cx="286.11" cy="930.56" r="1.10" fill="#111"/>
<line x1="287.05" y1="920.92" x2="287.05" y2="916.90" stroke="#111" stroke-width="1"/>
<line x1="282.29" y1="916.90" x2="291.81" y2="916.90" stroke="#111" stroke-width="1"/>
<line x1="282.29" y1="920.92" x2="291.81" y2="920.92" stroke="#111" stroke-width="1"/>
<line x1="282.29" y1="918.91" x2="291.81" y2="918.91" stroke="#111" stroke-width="1"/>
<line x1="185.20" y1="937.80" x2="305.90" y2="937.80" stroke="#231f20" stroke-width="1"/>
<line x1="203.40" y1="937.80" x2="203.40" y2="941.80" stroke="#231f20" stroke-width="1"/>
<line x1="231.40" y1="937.80" x2="231.40" y2="941.80" stroke="#231f20" stroke-width="1"/>
<line x1="259.40" y1="937.80" x2="259.40" y2="941.80" stroke="#231f20" stroke-width="1"/>
<line x1="287.05" y1="937.80" x2="287.05" y2="941.80" stroke="#231f20" stroke-width="1"/>
<text x="200.50" y="951.10" font-size="10" text-anchor="middle">Ctrl</text>
<text x="231.50" y="951.10" font-size="10" text-anchor="middle">Smoke</text>
<text x="260.10" y="951.10" font-size="10" text-anchor="middle">Ctrl</text>
<text x="290.60" y="951.10" font-size="10" text-anchor="middle">Smoke</text>
<text x="167.00" y="872.60" font-size="10" text-anchor="middle" transform="rotate(-90 167.00 872.60)">CNV volume (μm<tspan font-size="6.5" dy="-4">3</tspan><tspan dy="4">)</tspan></text>
<line x1="202.40" y1="829.10" x2="259.30" y2="829.10" stroke="#231f20" stroke-width="1"/>
<text x="230.85" y="829.10" font-size="12" text-anchor="middle">*</text>
<line x1="202.40" y1="847.70" x2="232.40" y2="847.70" stroke="#231f20" stroke-width="1"/>
<text x="217.40" y="847.70" font-size="12" text-anchor="middle">*</text>
<line x1="261.20" y1="847.70" x2="291.20" y2="847.70" stroke="#231f20" stroke-width="1"/>
<text x="276.20" y="844.70" font-size="10" text-anchor="middle">ns</text>
<text x="177.40" y="811.00" font-size="10">x10<tspan font-size="6.5" dy="-4">5</tspan></text>
<line x1="196.90" y1="953.10" x2="244.90" y2="953.10" stroke="#555" stroke-width="1"/>
<line x1="254.30" y1="953.10" x2="305.90" y2="953.10" stroke="#555" stroke-width="1"/>
<text x="220.40" y="964.20" font-size="10" text-anchor="middle" font-style="italic">Sema4d<tspan font-size="6" dy="-4">+/+</tspan></text>
<text x="281.50" y="964.20" font-size="10" text-anchor="middle" font-style="italic">Sema4d<tspan font-size="6" dy="-4">-/-</tspan></text>
<line x1="472.70" y1="941.10" x2="472.70" y2="812.50" stroke="#231f20" stroke-width="1"/>
<line x1="468.20" y1="940.60" x2="472.70" y2="940.60" stroke="#231f20" stroke-width="1"/>
<text x="466.40" y="944.20" font-size="10" text-anchor="end">0</text>
<line x1="468.20" y1="908.58" x2="472.70" y2="908.58" stroke="#231f20" stroke-width="1"/>
<text x="466.40" y="912.18" font-size="10" text-anchor="end">2</text>
<line x1="468.20" y1="876.55" x2="472.70" y2="876.55" stroke="#231f20" stroke-width="1"/>
<text x="466.40" y="880.15" font-size="10" text-anchor="end">4</text>
<line x1="468.20" y1="844.52" x2="472.70" y2="844.52" stroke="#231f20" stroke-width="1"/>
<text x="466.40" y="848.12" font-size="10" text-anchor="end">6</text>
<line x1="468.20" y1="812.50" x2="472.70" y2="812.50" stroke="#231f20" stroke-width="1"/>
<text x="466.40" y="816.10" font-size="10" text-anchor="end">8</text>
<rect x="483.90" y="870.47" width="21.40" height="70.13" fill="#dcdddc" stroke="#2b2b2b" stroke-width="1"/>
<circle cx="495.51" cy="855.73" r="1.20" fill="#111"/>
<circle cx="495.54" cy="871.75" r="1.20" fill="#111"/>
<circle cx="492.86" cy="881.35" r="1.20" fill="#111"/>
<line x1="494.60" y1="876.55" x2="494.60" y2="865.02" stroke="#111" stroke-width="1"/>
<line x1="488.78" y1="865.02" x2="500.42" y2="865.02" stroke="#111" stroke-width="1"/>
<line x1="488.78" y1="876.55" x2="500.42" y2="876.55" stroke="#111" stroke-width="1"/>
<line x1="488.78" y1="870.47" x2="500.42" y2="870.47" stroke="#111" stroke-width="1"/>
<rect x="517.80" y="910.66" width="21.30" height="29.94" fill="#c13f50" stroke="#2b2b2b" stroke-width="1"/>
<circle cx="526.45" cy="894.16" r="1.20" fill="#111"/>
<circle cx="528.95" cy="913.38" r="1.20" fill="#111"/>
<circle cx="528.87" cy="918.18" r="1.20" fill="#111"/>
<line x1="528.45" y1="915.14" x2="528.45" y2="906.17" stroke="#111" stroke-width="1"/>
<line x1="522.65" y1="906.17" x2="534.25" y2="906.17" stroke="#111" stroke-width="1"/>
<line x1="522.65" y1="915.14" x2="534.25" y2="915.14" stroke="#111" stroke-width="1"/>
<line x1="522.65" y1="910.66" x2="534.25" y2="910.66" stroke="#111" stroke-width="1"/>
<line x1="472.70" y1="940.60" x2="550.80" y2="940.60" stroke="#231f20" stroke-width="1"/>
<line x1="494.60" y1="940.60" x2="494.60" y2="944.60" stroke="#231f20" stroke-width="1"/>
<line x1="528.45" y1="940.60" x2="528.45" y2="944.60" stroke="#231f20" stroke-width="1"/>
<text x="454.60" y="880.30" font-size="11" text-anchor="middle" transform="rotate(-90 454.60 880.30)">Sprouting vessel length <tspan font-size="10">(μm)</tspan></text>
<line x1="496.60" y1="827.20" x2="525.70" y2="827.20" stroke="#231f20" stroke-width="1"/>
<text x="511.15" y="826.20" font-size="10" text-anchor="middle">***</text>
<text x="491.50" y="954.50" font-size="10" text-anchor="middle" font-style="italic">Sema4d<tspan font-size="6" dy="-4">+/+</tspan></text>
<text x="538.10" y="954.50" font-size="10" text-anchor="middle" font-style="italic">Sema4d<tspan font-size="6" dy="-4">-/-</tspan></text>
<line x1="597.10" y1="941.10" x2="597.10" y2="810.50" stroke="#231f20" stroke-width="1"/>
<line x1="592.60" y1="940.60" x2="597.10" y2="940.60" stroke="#231f20" stroke-width="1"/>
<text x="590.80" y="944.20" font-size="10" text-anchor="end">0</text>
<line x1="592.60" y1="897.23" x2="597.10" y2="897.23" stroke="#231f20" stroke-width="1"/>
<text x="590.80" y="900.83" font-size="10" text-anchor="end">2</text>
<line x1="592.60" y1="853.87" x2="597.10" y2="853.87" stroke="#231f20" stroke-width="1"/>
<text x="590.80" y="857.47" font-size="10" text-anchor="end">4</text>
<line x1="592.60" y1="810.50" x2="597.10" y2="810.50" stroke="#231f20" stroke-width="1"/>
<text x="590.80" y="814.10" font-size="10" text-anchor="end">6</text>
<rect x="607.80" y="866.88" width="22.10" height="73.72" fill="#dcdddc" stroke="#2b2b2b" stroke-width="1"/>
<circle cx="616.54" cy="841.94" r="1.20" fill="#111"/>
<circle cx="618.49" cy="853.87" r="1.20" fill="#111"/>
<circle cx="617.89" cy="915.66" r="1.20" fill="#111"/>
<line x1="618.85" y1="883.14" x2="618.85" y2="850.18" stroke="#111" stroke-width="1"/>
<line x1="612.84" y1="850.18" x2="624.86" y2="850.18" stroke="#111" stroke-width="1"/>
<line x1="612.84" y1="883.14" x2="624.86" y2="883.14" stroke="#111" stroke-width="1"/>
<line x1="612.84" y1="866.88" x2="624.86" y2="866.88" stroke="#111" stroke-width="1"/>
<rect x="642.60" y="924.77" width="21.50" height="15.83" fill="#c13f50" stroke="#2b2b2b" stroke-width="1"/>
<circle cx="654.14" cy="916.75" r="1.20" fill="#111"/>
<circle cx="653.15" cy="916.31" r="1.20" fill="#111"/>
<circle cx="653.20" cy="927.59" r="1.20" fill="#111"/>
<circle cx="652.74" cy="929.76" r="1.20" fill="#111"/>
<line x1="653.35" y1="928.24" x2="653.35" y2="921.52" stroke="#111" stroke-width="1"/>
<line x1="647.50" y1="921.52" x2="659.20" y2="921.52" stroke="#111" stroke-width="1"/>
<line x1="647.50" y1="928.24" x2="659.20" y2="928.24" stroke="#111" stroke-width="1"/>
<line x1="647.50" y1="924.77" x2="659.20" y2="924.77" stroke="#111" stroke-width="1"/>
<line x1="597.10" y1="940.60" x2="675.80" y2="940.60" stroke="#231f20" stroke-width="1"/>
<line x1="618.85" y1="940.60" x2="618.85" y2="944.60" stroke="#231f20" stroke-width="1"/>
<line x1="653.35" y1="940.60" x2="653.35" y2="944.60" stroke="#231f20" stroke-width="1"/>
<text x="578.20" y="883.10" font-size="10.9" text-anchor="middle" transform="rotate(-90 578.20 883.10)">Sprouting vessel area (pixel)</text>
<line x1="621.60" y1="829.30" x2="650.70" y2="829.30" stroke="#231f20" stroke-width="1"/>
<text x="636.15" y="828.30" font-size="10" text-anchor="middle">**</text>
<text x="595.00" y="807.30" font-size="10">x10<tspan font-size="6.5" dy="-4">5</tspan></text>
<text x="617.00" y="954.50" font-size="10" text-anchor="middle" font-style="italic">Sema4d<tspan font-size="6" dy="-4">+/+</tspan></text>
<text x="663.10" y="954.50" font-size="10" text-anchor="middle" font-style="italic">Sema4d<tspan font-size="6" dy="-4">-/-</tspan></text>
<rect x="302.30" y="354.40" width="108.80" height="133.70" fill="#fff" stroke="#9a9a9a" stroke-width="0.8"/>
<line x1="305.85" y1="354.40" x2="305.85" y2="488.10" stroke="#f4f4f4" stroke-width="0.6"/>
<line x1="320.60" y1="354.40" x2="320.60" y2="488.10" stroke="#ececec" stroke-width="0.6"/>
<line x1="335.35" y1="354.40" x2="335.35" y2="488.10" stroke="#f4f4f4" stroke-width="0.6"/>
<line x1="350.10" y1="354.40" x2="350.10" y2="488.10" stroke="#ececec" stroke-width="0.6"/>
<line x1="364.85" y1="354.40" x2="364.85" y2="488.10" stroke="#f4f4f4" stroke-width="0.6"/>
<line x1="379.60" y1="354.40" x2="379.60" y2="488.10" stroke="#ececec" stroke-width="0.6"/>
<line x1="394.35" y1="354.40" x2="394.35" y2="488.10" stroke="#f4f4f4" stroke-width="0.6"/>
<line x1="409.10" y1="354.40" x2="409.10" y2="488.10" stroke="#ececec" stroke-width="0.6"/>
<line x1="302.30" y1="363.00" x2="411.10" y2="363.00" stroke="#ececec" stroke-width="0.6"/>
<line x1="299.80" y1="363.00" x2="302.30" y2="363.00" stroke="#555" stroke-width="0.7"/>
<line x1="302.30" y1="375.90" x2="411.10" y2="375.90" stroke="#ececec" stroke-width="0.6"/>
<line x1="299.80" y1="375.90" x2="302.30" y2="375.90" stroke="#555" stroke-width="0.7"/>
<line x1="302.30" y1="388.40" x2="411.10" y2="388.40" stroke="#ececec" stroke-width="0.6"/>
<line x1="299.80" y1="388.40" x2="302.30" y2="388.40" stroke="#555" stroke-width="0.7"/>
<line x1="302.30" y1="401.90" x2="411.10" y2="401.90" stroke="#ececec" stroke-width="0.6"/>
<line x1="299.80" y1="401.90" x2="302.30" y2="401.90" stroke="#555" stroke-width="0.7"/>
<line x1="302.30" y1="414.80" x2="411.10" y2="414.80" stroke="#ececec" stroke-width="0.6"/>
<line x1="299.80" y1="414.80" x2="302.30" y2="414.80" stroke="#555" stroke-width="0.7"/>
<line x1="302.30" y1="428.30" x2="411.10" y2="428.30" stroke="#ececec" stroke-width="0.6"/>
<line x1="299.80" y1="428.30" x2="302.30" y2="428.30" stroke="#555" stroke-width="0.7"/>
<line x1="302.30" y1="441.20" x2="411.10" y2="441.20" stroke="#ececec" stroke-width="0.6"/>
<line x1="299.80" y1="441.20" x2="302.30" y2="441.20" stroke="#555" stroke-width="0.7"/>
<line x1="302.30" y1="454.30" x2="411.10" y2="454.30" stroke="#ececec" stroke-width="0.6"/>
<line x1="299.80" y1="454.30" x2="302.30" y2="454.30" stroke="#555" stroke-width="0.7"/>
<line x1="302.30" y1="467.20" x2="411.10" y2="467.20" stroke="#ececec" stroke-width="0.6"/>
<line x1="299.80" y1="467.20" x2="302.30" y2="467.20" stroke="#555" stroke-width="0.7"/>
<line x1="302.30" y1="480.40" x2="411.10" y2="480.40" stroke="#ececec" stroke-width="0.6"/>
<line x1="299.80" y1="480.40" x2="302.30" y2="480.40" stroke="#555" stroke-width="0.7"/>
<line x1="320.60" y1="488.10" x2="320.60" y2="490.60" stroke="#555" stroke-width="0.7"/>
<text x="320.60" y="502.80" font-size="10.2" text-anchor="middle" fill="#333" style="stroke:#333">2.5</text>
<line x1="350.10" y1="488.10" x2="350.10" y2="490.60" stroke="#555" stroke-width="0.7"/>
<text x="350.10" y="502.80" font-size="10.2" text-anchor="middle" fill="#333" style="stroke:#333">3.0</text>
<line x1="379.60" y1="488.10" x2="379.60" y2="490.60" stroke="#555" stroke-width="0.7"/>
<text x="379.60" y="502.80" font-size="10.2" text-anchor="middle" fill="#333" style="stroke:#333">3.5</text>
<line x1="409.10" y1="488.10" x2="409.10" y2="490.60" stroke="#555" stroke-width="0.7"/>
<text x="409.10" y="502.80" font-size="10.2" text-anchor="middle" fill="#333" style="stroke:#333">4.0</text>
<text x="359.90" y="513.70" font-size="10" text-anchor="middle">Enrichment</text>
<text x="295.60" y="365.00" font-size="8.6" text-anchor="end">RNA binding</text>
<text x="295.60" y="378.10" font-size="8.6" text-anchor="end">P-type calcium transporter activity</text>
<text x="295.60" y="390.60" font-size="8.6" text-anchor="end" fill="#e8192c" style="stroke:#e8192c">semaphorin receptor activity</text>
<text x="295.60" y="404.00" font-size="8.6" text-anchor="end">vinculin binding</text>
<text x="295.60" y="417.10" font-size="8.6" text-anchor="end">cadherin binding</text>
<text x="295.60" y="427.80" font-size="8.6" text-anchor="end">P-type ion transporter activity</text>
<text x="295.60" y="437.30" font-size="8.6" text-anchor="end">dolichyl-diphosphooligosaccharide-protein</text>
<text x="295.60" y="445.40" font-size="8.6" text-anchor="end">glycotransferase activity</text>
<text x="295.60" y="457.00" font-size="8.6" text-anchor="end">mRNA binding</text>
<text x="295.60" y="470.50" font-size="8.6" text-anchor="end">sodium:bicarbonate symporter activity</text>
<text x="295.60" y="482.80" font-size="8.6" text-anchor="end">solute:bicarbonate symporter activity</text>
<circle cx="405.90" cy="363.00" r="4.60" fill="#e5262b"/>
<circle cx="366.60" cy="375.90" r="3.40" fill="#cc1f6e"/>
<circle cx="350.10" cy="388.40" r="3.40" fill="#b5208a"/>
<circle cx="350.10" cy="401.90" r="3.40" fill="#b02290"/>
<circle cx="342.10" cy="414.80" r="3.90" fill="#98298f"/>
<circle cx="336.30" cy="428.30" r="3.40" fill="#8a2e94"/>
<circle cx="317.60" cy="441.20" r="3.00" fill="#5a3b9c"/>
<circle cx="310.20" cy="454.30" r="4.00" fill="#2f4fa6"/>
<circle cx="307.50" cy="467.20" r="3.00" fill="#2b55ad"/>
<circle cx="307.50" cy="480.40" r="3.00" fill="#2b55ad"/>
<text x="418.80" y="364.80" font-size="9">count</text>
<circle cx="422.40" cy="373.50" r="3.00" fill="#000"/>
<text x="429.80" y="376.70" font-size="9">10</text>
<circle cx="422.40" cy="385.30" r="3.60" fill="#000"/>
<text x="429.80" y="388.50" font-size="9">20</text>
<circle cx="422.40" cy="397.50" r="4.10" fill="#000"/>
<text x="429.80" y="400.70" font-size="9">30</text>
<circle cx="422.40" cy="409.60" r="4.50" fill="#000"/>
<text x="429.80" y="412.80" font-size="9">40</text>
<text x="416.60" y="431.60" font-size="8.9">-log10(pvalue)</text>
<rect x="419.70" y="444.20" width="6.70" height="37.40" fill="url(#jcb)" stroke="none" stroke-width="1"/>
<text x="430.10" y="452.00" font-size="9">3.4</text>
<text x="430.10" y="462.20" font-size="9">3.2</text>
<text x="430.10" y="472.00" font-size="9">2.8</text>
<text x="430.10" y="481.80" font-size="9">2.4</text>
<text x="591.50" y="385.60" font-size="10" text-anchor="middle">Sema/Plexin pathway</text>
<line x1="545.00" y1="395.20" x2="545.00" y2="452.50" stroke="#dedede" stroke-width="0.7"/>
<line x1="580.00" y1="395.20" x2="580.00" y2="452.50" stroke="#dedede" stroke-width="0.7"/>
<line x1="600.50" y1="395.20" x2="600.50" y2="452.50" stroke="#dedede" stroke-width="0.7"/>
<line x1="623.00" y1="395.20" x2="623.00" y2="452.50" stroke="#dedede" stroke-width="0.7"/>
<line x1="640.50" y1="395.20" x2="640.50" y2="452.50" stroke="#dedede" stroke-width="0.7"/>
<line x1="665.70" y1="395.20" x2="665.70" y2="452.50" stroke="#dedede" stroke-width="0.7"/>
<line x1="516.40" y1="395.20" x2="516.40" y2="462.50" stroke="#333" stroke-width="0.8"/>
<line x1="513.90" y1="398.20" x2="516.40" y2="398.20" stroke="#333" stroke-width="0.8"/>
<text x="513.30" y="401.80" font-size="10.2" text-anchor="end">0.30</text>
<line x1="513.90" y1="413.23" x2="516.40" y2="413.23" stroke="#333" stroke-width="0.8"/>
<text x="513.30" y="416.83" font-size="10.2" text-anchor="end">0.20</text>
<line x1="513.90" y1="428.27" x2="516.40" y2="428.27" stroke="#333" stroke-width="0.8"/>
<text x="513.30" y="431.87" font-size="10.2" text-anchor="end">0.10</text>
<line x1="513.90" y1="443.30" x2="516.40" y2="443.30" stroke="#333" stroke-width="0.8"/>
<text x="513.30" y="446.90" font-size="10.2" text-anchor="end">0.00</text>
<text x="491.00" y="432.00" font-size="10.2" text-anchor="middle" transform="rotate(-90 491.00 432.00)">Enrichment score</text>
<polyline points="517.9,444.2 520.5,446.5 523.4,448.8 524.5,438.0 525.5,430.0 526.5,425.0 527.5,418.0 528.5,412.0 530.0,408.0 531.0,404.0 532.0,405.0 533.2,398.0 534.5,399.5 536.0,396.0 538.0,400.0 540.0,404.0 542.0,400.0 543.5,398.0 545.0,401.0 547.0,403.0 549.0,405.0 551.0,402.0 553.0,406.0 555.0,401.0 556.5,398.0 558.0,400.0 559.5,402.0 560.8,401.0 563.0,404.0 567.0,409.0 569.5,411.3 572.0,414.4 574.5,416.8 577.0,419.7 579.5,422.4 582.0,424.4 584.5,427.0 587.0,430.6 589.5,432.6 592.0,435.2 592.5,436.0 594.0,438.0 596.0,437.0 598.0,440.0 600.7,443.6 602.7,445.4 604.7,443.2 606.7,445.4 608.7,444.0 610.7,445.2 612.7,443.2 614.7,446.0 616.7,447.5 618.7,446.2 620.7,447.7 622.7,447.8 624.7,445.1 626.7,449.0 628.7,448.6 628.3,450.4 631.0,447.0 633.0,448.5 635.0,444.0 637.0,446.0 640.5,439.6 642.5,444.0 644.5,448.0 646.0,442.0 648.0,440.5 649.7,442.7" fill="none" stroke="#22e022" stroke-width="1.0"/>
<text x="609.00" y="408.00" font-size="10" text-anchor="middle">NES</text>
<text x="609.00" y="419.60" font-size="10" text-anchor="middle">1.29</text>
<text x="646.7" y="408" font-size="10" text-anchor="middle"><tspan font-style="italic">P</tspan> value</text>
<text x="646.70" y="419.60" font-size="10" text-anchor="middle">0.04</text>
<rect x="515.80" y="463.00" width="5.00" height="5.00" fill="#b51f2e" stroke="none" stroke-width="1"/>
<rect x="520.50" y="463.00" width="9.80" height="5.00" fill="#d8383a" stroke="none" stroke-width="1"/>
<rect x="530.00" y="463.00" width="10.70" height="5.00" fill="#e45a44" stroke="none" stroke-width="1"/>
<rect x="540.40" y="463.00" width="20.10" height="5.00" fill="#ef7d5e" stroke="none" stroke-width="1"/>
<rect x="560.20" y="463.00" width="17.90" height="5.00" fill="#f7b39b" stroke="none" stroke-width="1"/>
<rect x="577.80" y="463.00" width="18.90" height="5.00" fill="#fcdcd0" stroke="none" stroke-width="1"/>
<rect x="596.40" y="463.00" width="21.40" height="5.00" fill="#e9f0f9" stroke="none" stroke-width="1"/>
<rect x="617.50" y="463.00" width="15.50" height="5.00" fill="#bcd5ea" stroke="none" stroke-width="1"/>
<rect x="632.70" y="463.00" width="23.60" height="5.00" fill="#6fa3d0" stroke="none" stroke-width="1"/>
<rect x="656.00" y="463.00" width="10.00" height="5.00" fill="#3b79b8" stroke="none" stroke-width="1"/>
<line x1="522.90" y1="452.00" x2="522.90" y2="468.00" stroke="#222" stroke-width="0.75"/>
<line x1="524.00" y1="452.00" x2="524.00" y2="468.00" stroke="#222" stroke-width="0.75"/>
<line x1="525.20" y1="452.00" x2="525.20" y2="468.00" stroke="#222" stroke-width="0.75"/>
<line x1="531.00" y1="452.00" x2="531.00" y2="468.00" stroke="#222" stroke-width="0.75"/>
<line x1="532.20" y1="452.00" x2="532.20" y2="468.00" stroke="#222" stroke-width="0.75"/>
<line x1="533.40" y1="452.00" x2="533.40" y2="468.00" stroke="#222" stroke-width="0.75"/>
<line x1="540.40" y1="452.00" x2="540.40" y2="468.00" stroke="#222" stroke-width="0.75"/>
<line x1="547.40" y1="452.00" x2="547.40" y2="468.00" stroke="#222" stroke-width="0.75"/>
<line x1="554.40" y1="452.00" x2="554.40" y2="468.00" stroke="#222" stroke-width="0.75"/>
<line x1="560.20" y1="452.00" x2="560.20" y2="468.00" stroke="#222" stroke-width="0.75"/>
<line x1="561.40" y1="452.00" x2="561.40" y2="468.00" stroke="#222" stroke-width="0.75"/>
<line x1="579.60" y1="452.00" x2="579.60" y2="468.00" stroke="#222" stroke-width="0.75"/>
<line x1="588.30" y1="452.00" x2="588.30" y2="468.00" stroke="#222" stroke-width="0.75"/>
<line x1="592.90" y1="452.00" x2="592.90" y2="468.00" stroke="#222" stroke-width="0.75"/>
<line x1="596.90" y1="452.00" x2="596.90" y2="468.00" stroke="#222" stroke-width="0.75"/>
<line x1="603.50" y1="452.00" x2="603.50" y2="468.00" stroke="#222" stroke-width="0.75"/>
<line x1="614.70" y1="452.00" x2="614.70" y2="468.00" stroke="#222" stroke-width="0.75"/>
<line x1="618.60" y1="452.00" x2="618.60" y2="468.00" stroke="#222" stroke-width="0.75"/>
<line x1="631.50" y1="452.00" x2="631.50" y2="468.00" stroke="#222" stroke-width="0.75"/>
<line x1="633.80" y1="452.00" x2="633.80" y2="468.00" stroke="#222" stroke-width="0.75"/>
<line x1="636.20" y1="452.00" x2="636.20" y2="468.00" stroke="#222" stroke-width="0.75"/>
<line x1="644.30" y1="452.00" x2="644.30" y2="468.00" stroke="#222" stroke-width="0.75"/>
<line x1="651.40" y1="452.00" x2="651.40" y2="468.00" stroke="#222" stroke-width="0.75"/>
<text x="515.80" y="477.90" font-size="10">Smoke</text>
<text x="666.20" y="480.00" font-size="10" text-anchor="end">Ctrl</text>
<rect x="49.60" y="554.30" width="18.10" height="18.01" fill="#ec8d90" stroke="#c8c8c8" stroke-width="0.6"/>
<rect x="67.70" y="554.30" width="18.10" height="18.01" fill="#f1b0b2" stroke="#c8c8c8" stroke-width="0.6"/>
<rect x="85.80" y="554.30" width="18.10" height="18.01" fill="#eeeff7" stroke="#c8c8c8" stroke-width="0.6"/>
<rect x="103.90" y="554.30" width="18.20" height="18.01" fill="#3e50a3" stroke="#c8c8c8" stroke-width="0.6"/>
<text x="42.20" y="566.80" font-size="10" text-anchor="end" font-style="italic">Sema3a</text>
<rect x="49.60" y="572.31" width="18.10" height="18.01" fill="#5161ac" stroke="#c8c8c8" stroke-width="0.6"/>
<rect x="67.70" y="572.31" width="18.10" height="18.01" fill="#a4acd4" stroke="#c8c8c8" stroke-width="0.6"/>
<rect x="85.80" y="572.31" width="18.10" height="18.01" fill="#f0a7aa" stroke="#c8c8c8" stroke-width="0.6"/>
<text x="95.65" y="586.51" font-size="10" text-anchor="middle" fill="#111" font-style="italic" style="stroke:#111">&</text>
<rect x="103.90" y="572.31" width="18.20" height="18.01" fill="#e66065" stroke="#c8c8c8" stroke-width="0.6"/>
<text x="42.20" y="584.81" font-size="10" text-anchor="end" font-style="italic">Sema3b</text>
<rect x="49.60" y="590.32" width="18.10" height="18.01" fill="#f5cbcc" stroke="#c8c8c8" stroke-width="0.6"/>
<rect x="67.70" y="590.32" width="18.10" height="18.01" fill="#ec8d90" stroke="#c8c8c8" stroke-width="0.6"/>
<rect x="85.80" y="590.32" width="18.10" height="18.01" fill="#929ccb" stroke="#c8c8c8" stroke-width="0.6"/>
<rect x="103.90" y="590.32" width="18.20" height="18.01" fill="#c0c5e1" stroke="#c8c8c8" stroke-width="0.6"/>
<text x="42.20" y="602.82" font-size="10" text-anchor="end" font-style="italic">Sema3c</text>
<rect x="49.60" y="608.33" width="18.10" height="18.01" fill="#e5e7f3" stroke="#c8c8c8" stroke-width="0.6"/>
<rect x="67.70" y="608.33" width="18.10" height="18.01" fill="#f9e6e6" stroke="#c8c8c8" stroke-width="0.6"/>
<rect x="85.80" y="608.33" width="18.10" height="18.01" fill="#f7d7d8" stroke="#c8c8c8" stroke-width="0.6"/>
<rect x="103.90" y="608.33" width="18.20" height="18.01" fill="#cfd3e8" stroke="#c8c8c8" stroke-width="0.6"/>
<text x="42.20" y="620.83" font-size="10" text-anchor="end" font-style="italic">Sema3d</text>
<rect x="49.60" y="626.34" width="18.10" height="18.01" fill="#ec8d90" stroke="#c8c8c8" stroke-width="0.6"/>
<rect x="67.70" y="626.34" width="18.10" height="18.01" fill="#f6d0d2" stroke="#c8c8c8" stroke-width="0.6"/>
<rect x="85.80" y="626.34" width="18.10" height="18.01" fill="#adb5d8" stroke="#c8c8c8" stroke-width="0.6"/>
<rect x="103.90" y="626.34" width="18.20" height="18.01" fill="#b7bddd" stroke="#c8c8c8" stroke-width="0.6"/>
<text x="42.20" y="638.84" font-size="10" text-anchor="end" font-style="italic">Sema3e</text>
<rect x="49.60" y="644.35" width="18.10" height="18.01" fill="#5a69b1" stroke="#c8c8c8" stroke-width="0.6"/>
<rect x="67.70" y="644.35" width="18.10" height="18.01" fill="#6c7ab9" stroke="#c8c8c8" stroke-width="0.6"/>
<rect x="85.80" y="644.35" width="18.10" height="18.01" fill="#e45459" stroke="#c8c8c8" stroke-width="0.6"/>
<text x="95.65" y="658.55" font-size="10" text-anchor="middle" fill="#111" font-style="italic" style="stroke:#111">&</text>
<rect x="103.90" y="644.35" width="18.20" height="18.01" fill="#ea7b7f" stroke="#c8c8c8" stroke-width="0.6"/>
<text x="42.20" y="656.85" font-size="10" text-anchor="end" font-style="italic">Sema3f</text>
<rect x="49.60" y="662.36" width="18.10" height="18.01" fill="#7682be" stroke="#c8c8c8" stroke-width="0.6"/>
<rect x="67.70" y="662.36" width="18.10" height="18.01" fill="#6775b7" stroke="#c8c8c8" stroke-width="0.6"/>
<rect x="85.80" y="662.36" width="18.10" height="18.01" fill="#e86d71" stroke="#c8c8c8" stroke-width="0.6"/>
<text x="95.65" y="676.56" font-size="10" text-anchor="middle" fill="#111" font-style="italic" style="stroke:#111">&</text>
<rect x="103.90" y="662.36" width="18.20" height="18.01" fill="#e9777b" stroke="#c8c8c8" stroke-width="0.6"/>
<text x="42.20" y="674.86" font-size="10" text-anchor="end" font-style="italic">Sema3g</text>
<rect x="49.60" y="680.37" width="18.10" height="18.01" fill="#5464ae" stroke="#c8c8c8" stroke-width="0.6"/>
<rect x="67.70" y="680.37" width="18.10" height="18.01" fill="#e5e7f3" stroke="#c8c8c8" stroke-width="0.6"/>
<rect x="85.80" y="680.37" width="18.10" height="18.01" fill="#f4c2c4" stroke="#c8c8c8" stroke-width="0.6"/>
<rect x="103.90" y="680.37" width="18.20" height="18.01" fill="#eb8487" stroke="#c8c8c8" stroke-width="0.6"/>
<text x="42.20" y="692.88" font-size="10" text-anchor="end" font-style="italic">Sema4a</text>
<rect x="49.60" y="698.38" width="18.10" height="18.01" fill="#7682be" stroke="#c8c8c8" stroke-width="0.6"/>
<rect x="67.70" y="698.38" width="18.10" height="18.01" fill="#b7bddd" stroke="#c8c8c8" stroke-width="0.6"/>
<rect x="85.80" y="698.38" width="18.10" height="18.01" fill="#f5c7c9" stroke="#c8c8c8" stroke-width="0.6"/>
<rect x="103.90" y="698.38" width="18.20" height="18.01" fill="#e86d71" stroke="#c8c8c8" stroke-width="0.6"/>
<text x="42.20" y="710.88" font-size="10" text-anchor="end" font-style="italic">Sema4b</text>
<rect x="49.60" y="716.39" width="18.10" height="18.01" fill="#adb5d8" stroke="#c8c8c8" stroke-width="0.6"/>
<rect x="67.70" y="716.39" width="18.10" height="18.01" fill="#adb5d8" stroke="#c8c8c8" stroke-width="0.6"/>
<rect x="85.80" y="716.39" width="18.10" height="18.01" fill="#eb8487" stroke="#c8c8c8" stroke-width="0.6"/>
<rect x="103.90" y="716.39" width="18.20" height="18.01" fill="#f9e6e6" stroke="#c8c8c8" stroke-width="0.6"/>
<text x="42.20" y="728.89" font-size="10" text-anchor="end" font-style="italic">Sema4c</text>
<rect x="49.60" y="734.40" width="18.10" height="18.01" fill="#283c99" stroke="#c8c8c8" stroke-width="0.6"/>
<rect x="67.70" y="734.40" width="18.10" height="18.01" fill="#929ccb" stroke="#c8c8c8" stroke-width="0.6"/>
<text x="76.15" y="751.40" font-size="12" text-anchor="middle" fill="#111" style="stroke:#111">*</text>
<rect x="85.80" y="734.40" width="18.10" height="18.01" fill="#ee9699" stroke="#c8c8c8" stroke-width="0.6"/>
<text x="95.65" y="748.61" font-size="10" text-anchor="middle" fill="#111" font-style="italic" style="stroke:#111">&</text>
<rect x="103.90" y="734.40" width="18.20" height="18.01" fill="#e34e53" stroke="#c8c8c8" stroke-width="0.6"/>
<text x="113.80" y="748.61" font-size="10" text-anchor="middle" fill="#111" font-style="italic" style="stroke:#111">#</text>
<text x="42.20" y="746.90" font-size="10" text-anchor="end" fill="#e8192c" font-style="italic" style="stroke:#e8192c">Sema4d</text>
<rect x="49.60" y="752.41" width="18.10" height="18.01" fill="#fbf4f4" stroke="#c8c8c8" stroke-width="0.6"/>
<rect x="67.70" y="752.41" width="18.10" height="18.01" fill="#9ba4cf" stroke="#c8c8c8" stroke-width="0.6"/>
<rect x="85.80" y="752.41" width="18.10" height="18.01" fill="#f5cbcc" stroke="#c8c8c8" stroke-width="0.6"/>
<rect x="103.90" y="752.41" width="18.20" height="18.01" fill="#f5cbcc" stroke="#c8c8c8" stroke-width="0.6"/>
<text x="42.20" y="764.91" font-size="10" text-anchor="end" font-style="italic">Sema4f</text>
<rect x="49.60" y="770.42" width="18.10" height="18.01" fill="#7682be" stroke="#c8c8c8" stroke-width="0.6"/>
<rect x="67.70" y="770.42" width="18.10" height="18.01" fill="#5f6eb3" stroke="#c8c8c8" stroke-width="0.6"/>
<rect x="85.80" y="770.42" width="18.10" height="18.01" fill="#ee9699" stroke="#c8c8c8" stroke-width="0.6"/>
<text x="95.65" y="784.62" font-size="10" text-anchor="middle" fill="#111" font-style="italic" style="stroke:#111">&</text>
<rect x="103.90" y="770.42" width="18.20" height="18.01" fill="#e55b60" stroke="#c8c8c8" stroke-width="0.6"/>
<text x="42.20" y="782.92" font-size="10" text-anchor="end" font-style="italic">Sema4g</text>
<rect x="49.60" y="788.43" width="18.10" height="18.01" fill="#e9777b" stroke="#c8c8c8" stroke-width="0.6"/>
<rect x="67.70" y="788.43" width="18.10" height="18.01" fill="#f4c2c4" stroke="#c8c8c8" stroke-width="0.6"/>
<rect x="85.80" y="788.43" width="18.10" height="18.01" fill="#6775b7" stroke="#c8c8c8" stroke-width="0.6"/>
<text x="95.65" y="802.63" font-size="10" text-anchor="middle" fill="#111" font-style="italic" style="stroke:#111">&</text>
<rect x="103.90" y="788.43" width="18.20" height="18.01" fill="#c9cee5" stroke="#c8c8c8" stroke-width="0.6"/>
<text x="42.20" y="800.93" font-size="10" text-anchor="end" font-style="italic">Sema5a</text>
<rect x="49.60" y="806.44" width="18.10" height="18.01" fill="#d2d6ea" stroke="#c8c8c8" stroke-width="0.6"/>
<rect x="67.70" y="806.44" width="18.10" height="18.01" fill="#a4acd4" stroke="#c8c8c8" stroke-width="0.6"/>
<rect x="85.80" y="806.44" width="18.10" height="18.01" fill="#fbf4f4" stroke="#c8c8c8" stroke-width="0.6"/>
<rect x="103.90" y="806.44" width="18.20" height="18.01" fill="#eb8487" stroke="#c8c8c8" stroke-width="0.6"/>
<text x="42.20" y="818.94" font-size="10" text-anchor="end" font-style="italic">Sema5b</text>
<rect x="49.60" y="824.45" width="18.10" height="18.01" fill="#c0c5e1" stroke="#c8c8c8" stroke-width="0.6"/>
<rect x="67.70" y="824.45" width="18.10" height="18.01" fill="#9ba4cf" stroke="#c8c8c8" stroke-width="0.6"/>
<rect x="85.80" y="824.45" width="18.10" height="18.01" fill="#f2b4b6" stroke="#c8c8c8" stroke-width="0.6"/>
<rect x="103.90" y="824.45" width="18.20" height="18.01" fill="#f1b0b2" stroke="#c8c8c8" stroke-width="0.6"/>
<text x="42.20" y="836.96" font-size="10" text-anchor="end" font-style="italic">Sema6a</text>
<rect x="49.60" y="842.46" width="18.10" height="18.01" fill="#8590c5" stroke="#c8c8c8" stroke-width="0.6"/>
<rect x="67.70" y="842.46" width="18.10" height="18.01" fill="#6372b5" stroke="#c8c8c8" stroke-width="0.6"/>
<rect x="85.80" y="842.46" width="18.10" height="18.01" fill="#ee9699" stroke="#c8c8c8" stroke-width="0.6"/>
<text x="95.65" y="856.67" font-size="10" text-anchor="middle" fill="#111" font-style="italic" style="stroke:#111">&</text>
<rect x="103.90" y="842.46" width="18.20" height="18.01" fill="#e55b60" stroke="#c8c8c8" stroke-width="0.6"/>
<text x="42.20" y="854.97" font-size="10" text-anchor="end" font-style="italic">Sema6b</text>
<rect x="49.60" y="860.47" width="18.10" height="18.01" fill="#f2f2f9" stroke="#c8c8c8" stroke-width="0.6"/>
<rect x="67.70" y="860.47" width="18.10" height="18.01" fill="#6c7ab9" stroke="#c8c8c8" stroke-width="0.6"/>
<rect x="85.80" y="860.47" width="18.10" height="18.01" fill="#f6d4d5" stroke="#c8c8c8" stroke-width="0.6"/>
<rect x="103.90" y="860.47" width="18.20" height="18.01" fill="#ee9b9e" stroke="#c8c8c8" stroke-width="0.6"/>
<text x="42.20" y="872.98" font-size="10" text-anchor="end" font-style="italic">Sema6c</text>
<rect x="49.60" y="878.48" width="18.10" height="18.01" fill="#6c7ab9" stroke="#c8c8c8" stroke-width="0.6"/>
<rect x="67.70" y="878.48" width="18.10" height="18.01" fill="#8893c7" stroke="#c8c8c8" stroke-width="0.6"/>
<rect x="85.80" y="878.48" width="18.10" height="18.01" fill="#f0a7aa" stroke="#c8c8c8" stroke-width="0.6"/>
<text x="95.65" y="892.69" font-size="10" text-anchor="middle" fill="#111" font-style="italic" style="stroke:#111">&</text>
<rect x="103.90" y="878.48" width="18.20" height="18.01" fill="#e55b60" stroke="#c8c8c8" stroke-width="0.6"/>
<text x="42.20" y="890.99" font-size="10" text-anchor="end" font-style="italic">Sema6d</text>
<rect x="49.60" y="896.49" width="18.10" height="18.01" fill="#dcdeee" stroke="#c8c8c8" stroke-width="0.6"/>
<rect x="67.70" y="896.49" width="18.10" height="18.01" fill="#c4c9e3" stroke="#c8c8c8" stroke-width="0.6"/>
<rect x="85.80" y="896.49" width="18.10" height="18.01" fill="#f6d4d5" stroke="#c8c8c8" stroke-width="0.6"/>
<rect x="103.90" y="896.49" width="18.20" height="18.01" fill="#f8ddde" stroke="#c8c8c8" stroke-width="0.6"/>
<text x="42.20" y="909.00" font-size="10" text-anchor="end" font-style="italic">Sema7a</text>
<path d="M 53.5 554.3 V 550.1 H 93 V 554.3 M 59.6 554.3 V 552.4 H 80.6 V 554.3 M 93.8 554.3 V 552.3 H 115.5 V 554.3" fill="none" stroke="#b5b5b5" stroke-width="0.6"/>
<text x="59.20" y="919.50" font-size="10" text-anchor="end" transform="rotate(-40 59.20 919.50)">Ctrl</text>
<text x="81.10" y="920.50" font-size="10" text-anchor="end" transform="rotate(-40 81.10 920.50)">Smoke</text>
<text x="100.40" y="921.50" font-size="10" text-anchor="end" transform="rotate(-40 100.40 921.50)">CNV</text>
<text x="122.00" y="923.50" font-size="10" text-anchor="end" transform="rotate(-40 122.00 923.50)">Smoke+CNV</text>
<rect x="144.70" y="559.70" width="5.50" height="70.70" fill="url(#lcb)" stroke="none" stroke-width="1"/>
<text x="135.30" y="569.00" font-size="10">1</text>
<text x="133.50" y="597.30" font-size="10">0</text>
<text x="128.60" y="627.80" font-size="10">-1</text>
<text x="127.80" y="645.20" font-size="10">Z-score</text>
<g clip-path="url(#c1)">
<rect x="21.20" y="16.00" width="107.60" height="71.60" fill="#161616" stroke="none" stroke-width="1"/>
<path d="M 19.00 53.50 C 21.67 54.05 29.83 55.80 35.00 56.80 C 40.17 57.80 45.50 58.67 50.00 59.50 C 54.50 60.33 58.67 61.17 62.00 61.80 C 65.33 62.43 67.50 62.93 70.00 63.30 C 72.50 63.67 75.00 63.83 77.00 64.00 C 79.00 64.17 80.17 64.25 82.00 64.30 C 83.83 64.35 85.67 64.22 88.00 64.30 C 90.33 64.38 93.00 64.63 96.00 64.80 C 99.00 64.97 102.33 65.13 106.00 65.30 C 109.67 65.47 113.83 65.68 118.00 65.80 C 122.17 65.92 128.83 65.97 131.00 66.00 L 130.8 89.6 L 19.2 89.6 Z" fill="url(#ochc1)"/>
<path d="M 19.00 44.20 L 35.00 44.40 L 50.00 45.00 L 62.00 45.20 L 70.00 47.50 L 77.00 50.80 L 82.00 50.50 L 88.00 50.00 L 96.00 51.50 L 106.00 54.00 L 118.00 56.80 L 131.00 57.60 L 131.00 66.00 L 118.00 65.80 L 106.00 65.30 L 96.00 64.80 L 88.00 64.30 L 82.00 64.30 L 77.00 64.00 L 70.00 63.30 L 62.00 61.80 L 50.00 59.50 L 35.00 56.80 L 19.00 53.50 Z" fill="#6e6e6e" filter="url(#b0_6)"/>
<path d="M 19.00 45.59 C 21.67 45.71 29.83 46.00 35.00 46.26 C 40.17 46.52 45.50 46.94 50.00 47.17 C 54.50 47.41 58.67 47.24 62.00 47.69 C 65.33 48.14 67.50 49.02 70.00 49.87 C 72.50 50.72 75.00 52.33 77.00 52.78 C 79.00 53.23 80.17 52.68 82.00 52.57 C 83.83 52.46 85.67 51.99 88.00 52.14 C 90.33 52.30 93.00 52.90 96.00 53.49 C 99.00 54.09 102.33 54.92 106.00 55.70 C 109.67 56.47 113.83 57.62 118.00 58.15 C 122.17 58.68 128.83 58.74 131.00 58.86" fill="none" stroke="#a0a0a0" stroke-width="1.4" filter="url(#b0_4)"/>
<path d="M 19.00 48.11 C 21.67 48.36 29.83 49.11 35.00 49.61 C 40.17 50.11 45.50 50.66 50.00 51.09 C 54.50 51.52 58.67 51.66 62.00 52.17 C 65.33 52.68 67.50 53.44 70.00 54.14 C 72.50 54.83 75.00 55.98 77.00 56.34 C 79.00 56.70 80.17 56.35 82.00 56.30 C 83.83 56.24 85.67 55.87 88.00 56.01 C 90.33 56.14 93.00 56.63 96.00 57.09 C 99.00 57.54 102.33 58.16 106.00 58.75 C 109.67 59.33 113.83 60.18 118.00 60.58 C 122.17 60.98 128.83 61.04 131.00 61.13" fill="none" stroke="#4a4a4a" stroke-width="1.3" filter="url(#b0_4)"/>
<path d="M 19.00 50.52 C 21.67 50.91 29.83 52.11 35.00 52.83 C 40.17 53.55 45.50 54.25 50.00 54.86 C 54.50 55.47 58.67 55.92 62.00 56.49 C 65.33 57.05 67.50 57.70 70.00 58.24 C 72.50 58.79 75.00 59.50 77.00 59.78 C 79.00 60.05 80.17 59.89 82.00 59.88 C 83.83 59.88 85.67 59.61 88.00 59.72 C 90.33 59.83 93.00 60.22 96.00 60.54 C 99.00 60.87 102.33 61.29 106.00 61.68 C 109.67 62.08 113.83 62.65 118.00 62.92 C 122.17 63.19 128.83 63.25 131.00 63.31" fill="none" stroke="#8a8a8a" stroke-width="1.0" filter="url(#b0_4)"/>
<path d="M 19.00 44.20 C 21.67 44.23 29.83 44.27 35.00 44.40 C 40.17 44.53 45.50 44.87 50.00 45.00 C 54.50 45.13 58.67 44.78 62.00 45.20 C 65.33 45.62 67.50 46.57 70.00 47.50 C 72.50 48.43 75.00 50.30 77.00 50.80 C 79.00 51.30 80.17 50.63 82.00 50.50 C 83.83 50.37 85.67 49.83 88.00 50.00 C 90.33 50.17 93.00 50.83 96.00 51.50 C 99.00 52.17 102.33 53.12 106.00 54.00 C 109.67 54.88 113.83 56.20 118.00 56.80 C 122.17 57.40 128.83 57.47 131.00 57.60" fill="none" stroke="#a8a8a8" stroke-width="1.2" filter="url(#b0_4)"/>
<path d="M 19.00 53.50 C 21.67 54.05 29.83 55.80 35.00 56.80 C 40.17 57.80 45.50 58.67 50.00 59.50 C 54.50 60.33 58.67 61.17 62.00 61.80 C 65.33 62.43 67.50 62.93 70.00 63.30 C 72.50 63.67 75.00 63.83 77.00 64.00 C 79.00 64.17 80.17 64.25 82.00 64.30 C 83.83 64.35 85.67 64.22 88.00 64.30 C 90.33 64.38 93.00 64.63 96.00 64.80 C 99.00 64.97 102.33 65.13 106.00 65.30 C 109.67 65.47 113.83 65.68 118.00 65.80 C 122.17 65.92 128.83 65.97 131.00 66.00 L 130.8 89.6 L 19.2 89.6 Z" fill="#000" filter="url(#motd)" opacity="0.7"/>
<ellipse cx="92" cy="61.5" rx="9" ry="2.2" fill="#1c1c1c" filter="url(#b0_8)"/>
<path d="M 19.00 56.70 C 21.67 57.25 29.83 59.00 35.00 60.00 C 40.17 61.00 45.50 61.87 50.00 62.70 C 54.50 63.53 58.67 64.37 62.00 65.00 C 65.33 65.63 67.50 66.13 70.00 66.50 C 72.50 66.87 75.00 67.03 77.00 67.20 C 79.00 67.37 80.17 67.45 82.00 67.50 C 83.83 67.55 85.67 67.42 88.00 67.50 C 90.33 67.58 93.00 67.83 96.00 68.00 C 99.00 68.17 102.33 68.33 106.00 68.50 C 109.67 68.67 113.83 68.88 118.00 69.00 C 122.17 69.12 128.83 69.17 131.00 69.20" fill="none" stroke="#606060" stroke-width="3.5" filter="url(#b1_0)"/>
<path d="M 19.00 53.50 C 21.67 54.05 29.83 55.80 35.00 56.80 C 40.17 57.80 45.50 58.67 50.00 59.50 C 54.50 60.33 58.67 61.17 62.00 61.80 C 65.33 62.43 67.50 62.93 70.00 63.30 C 72.50 63.67 75.00 63.83 77.00 64.00 C 79.00 64.17 80.17 64.25 82.00 64.30 C 83.83 64.35 85.67 64.22 88.00 64.30 C 90.33 64.38 93.00 64.63 96.00 64.80 C 99.00 64.97 102.33 65.13 106.00 65.30 C 109.67 65.47 113.83 65.68 118.00 65.80 C 122.17 65.92 128.83 65.97 131.00 66.00" fill="none" stroke="#dedede" stroke-width="2.2" filter="url(#b0_5)"/>
<rect x="21.20" y="16.00" width="107.60" height="71.60" fill="#000" stroke="none" stroke-width="1" filter="url(#spk)" opacity="0.22"/>
<rect x="21.20" y="16.00" width="107.60" height="71.60" fill="#000" stroke="none" stroke-width="1" filter="url(#spkd)" opacity="0.45"/>
</g>
<line x1="79.80" y1="50.80" x2="77.20" y2="64.00" stroke="#fff" stroke-width="1.3"/>
<line x1="84.40" y1="57.00" x2="83.10" y2="64.80" stroke="#e0188c" stroke-width="1.6"/>
<rect x="26.00" y="74.00" width="10.50" height="9.50" fill="none" stroke="#bbb" stroke-width="0.6"/>
<line x1="28.00" y1="78.75" x2="34.50" y2="78.75" stroke="#888" stroke-width="0.4"/>
<text x="24.8" y="80.3" font-size="3.5" fill="#ccc" style="stroke:none">T</text>
<text x="34.6" y="80.3" font-size="3.5" fill="#ccc" style="stroke:none">SN</text>
<line x1="102.90" y1="81.40" x2="117.00" y2="81.40" stroke="#fff" stroke-width="1.6"/>
<g clip-path="url(#c2)">
<rect x="131.00" y="16.00" width="106.60" height="71.60" fill="#161616" stroke="none" stroke-width="1"/>
<path d="M 129.00 55.00 C 130.83 54.92 136.50 54.63 140.00 54.50 C 143.50 54.37 147.00 54.28 150.00 54.20 C 153.00 54.12 155.33 54.03 158.00 54.00 C 160.67 53.97 163.67 54.00 166.00 54.00 C 168.33 54.00 169.67 53.95 172.00 54.00 C 174.33 54.05 177.00 54.22 180.00 54.30 C 183.00 54.38 186.67 54.55 190.00 54.50 C 193.33 54.45 196.33 54.15 200.00 54.00 C 203.67 53.85 207.83 53.73 212.00 53.60 C 216.17 53.47 220.33 53.33 225.00 53.20 C 229.67 53.07 237.50 52.87 240.00 52.80 L 239.6 89.6 L 129 89.6 Z" fill="url(#ochc2)"/>
<path d="M 129.00 45.00 L 140.00 44.00 L 150.00 40.00 L 158.00 35.00 L 166.00 31.50 L 172.00 30.20 L 180.00 31.50 L 190.00 35.00 L 200.00 39.50 L 212.00 42.50 L 225.00 44.20 L 240.00 45.00 L 240.00 52.80 L 225.00 53.20 L 212.00 53.60 L 200.00 54.00 L 190.00 54.50 L 180.00 54.30 L 172.00 54.00 L 166.00 54.00 L 158.00 54.00 L 150.00 54.20 L 140.00 54.50 L 129.00 55.00 Z" fill="#6e6e6e" filter="url(#b0_6)"/>
<path d="M 129.00 46.50 C 130.83 46.35 136.50 46.30 140.00 45.58 C 143.50 44.85 147.00 43.42 150.00 42.13 C 153.00 40.84 155.33 39.06 158.00 37.85 C 160.67 36.64 163.67 35.55 166.00 34.88 C 168.33 34.20 169.67 33.76 172.00 33.77 C 174.33 33.78 177.00 34.23 180.00 34.92 C 183.00 35.61 186.67 36.80 190.00 37.92 C 193.33 39.05 196.33 40.63 200.00 41.67 C 203.67 42.71 207.83 43.52 212.00 44.16 C 216.17 44.81 220.33 45.22 225.00 45.55 C 229.67 45.88 237.50 46.07 240.00 46.17" fill="none" stroke="#a0a0a0" stroke-width="1.4" filter="url(#b0_4)"/>
<path d="M 129.00 49.20 C 130.83 49.07 136.50 48.95 140.00 48.41 C 143.50 47.87 147.00 46.87 150.00 45.96 C 153.00 45.06 155.33 43.82 158.00 42.98 C 160.67 42.14 163.67 41.41 166.00 40.95 C 168.33 40.49 169.67 40.17 172.00 40.20 C 174.33 40.22 177.00 40.58 180.00 41.08 C 183.00 41.58 186.67 42.44 190.00 43.19 C 193.33 43.94 196.33 44.93 200.00 45.59 C 203.67 46.25 207.83 46.76 212.00 47.16 C 216.17 47.56 220.33 47.79 225.00 47.98 C 229.67 48.17 237.50 48.23 240.00 48.28" fill="none" stroke="#4a4a4a" stroke-width="1.3" filter="url(#b0_4)"/>
<path d="M 129.00 51.80 C 130.83 51.69 136.50 51.50 140.00 51.14 C 143.50 50.78 147.00 50.19 150.00 49.66 C 153.00 49.12 155.33 48.40 158.00 47.92 C 160.67 47.44 163.67 47.06 166.00 46.80 C 168.33 46.54 169.67 46.35 172.00 46.38 C 174.33 46.42 177.00 46.69 180.00 47.00 C 183.00 47.32 186.67 47.87 190.00 48.26 C 193.33 48.65 196.33 49.06 200.00 49.36 C 203.67 49.66 207.83 49.89 212.00 50.05 C 216.17 50.21 220.33 50.28 225.00 50.32 C 229.67 50.36 237.50 50.31 240.00 50.30" fill="none" stroke="#8a8a8a" stroke-width="1.0" filter="url(#b0_4)"/>
<path d="M 129.00 45.00 C 130.83 44.83 136.50 44.83 140.00 44.00 C 143.50 43.17 147.00 41.50 150.00 40.00 C 153.00 38.50 155.33 36.42 158.00 35.00 C 160.67 33.58 163.67 32.30 166.00 31.50 C 168.33 30.70 169.67 30.20 172.00 30.20 C 174.33 30.20 177.00 30.70 180.00 31.50 C 183.00 32.30 186.67 33.67 190.00 35.00 C 193.33 36.33 196.33 38.25 200.00 39.50 C 203.67 40.75 207.83 41.72 212.00 42.50 C 216.17 43.28 220.33 43.78 225.00 44.20 C 229.67 44.62 237.50 44.87 240.00 45.00" fill="none" stroke="#a8a8a8" stroke-width="1.2" filter="url(#b0_4)"/>
<path d="M 129.00 55.00 C 130.83 54.92 136.50 54.63 140.00 54.50 C 143.50 54.37 147.00 54.28 150.00 54.20 C 153.00 54.12 155.33 54.03 158.00 54.00 C 160.67 53.97 163.67 54.00 166.00 54.00 C 168.33 54.00 169.67 53.95 172.00 54.00 C 174.33 54.05 177.00 54.22 180.00 54.30 C 183.00 54.38 186.67 54.55 190.00 54.50 C 193.33 54.45 196.33 54.15 200.00 54.00 C 203.67 53.85 207.83 53.73 212.00 53.60 C 216.17 53.47 220.33 53.33 225.00 53.20 C 229.67 53.07 237.50 52.87 240.00 52.80 L 239.6 89.6 L 129 89.6 Z" fill="#000" filter="url(#motd)" opacity="0.7"/>
<ellipse cx="171" cy="43" rx="9" ry="5.5" fill="#1c1c1c" filter="url(#b0_8)"/>
<ellipse cx="181" cy="40.5" rx="4.5" ry="3.5" fill="#1c1c1c" filter="url(#b0_8)"/>
<ellipse cx="163" cy="47" rx="5" ry="3" fill="#1c1c1c" filter="url(#b0_8)"/>
<ellipse cx="176" cy="49.5" rx="6" ry="2.5" fill="#1c1c1c" filter="url(#b0_8)"/>
<path d="M 129.00 58.20 C 130.83 58.12 136.50 57.83 140.00 57.70 C 143.50 57.57 147.00 57.48 150.00 57.40 C 153.00 57.32 155.33 57.23 158.00 57.20 C 160.67 57.17 163.67 57.20 166.00 57.20 C 168.33 57.20 169.67 57.15 172.00 57.20 C 174.33 57.25 177.00 57.42 180.00 57.50 C 183.00 57.58 186.67 57.75 190.00 57.70 C 193.33 57.65 196.33 57.35 200.00 57.20 C 203.67 57.05 207.83 56.93 212.00 56.80 C 216.17 56.67 220.33 56.53 225.00 56.40 C 229.67 56.27 237.50 56.07 240.00 56.00" fill="none" stroke="#606060" stroke-width="3.5" filter="url(#b1_0)"/>
<path d="M 129.00 55.00 C 130.83 54.92 136.50 54.63 140.00 54.50 C 143.50 54.37 147.00 54.28 150.00 54.20 C 153.00 54.12 155.33 54.03 158.00 54.00 C 160.67 53.97 163.67 54.00 166.00 54.00 C 168.33 54.00 169.67 53.95 172.00 54.00 C 174.33 54.05 177.00 54.22 180.00 54.30 C 183.00 54.38 186.67 54.55 190.00 54.50 C 193.33 54.45 196.33 54.15 200.00 54.00 C 203.67 53.85 207.83 53.73 212.00 53.60 C 216.17 53.47 220.33 53.33 225.00 53.20 C 229.67 53.07 237.50 52.87 240.00 52.80" fill="none" stroke="#dedede" stroke-width="2.2" filter="url(#b0_5)"/>
<rect x="131.00" y="16.00" width="106.60" height="71.60" fill="#000" stroke="none" stroke-width="1" filter="url(#spk)" opacity="0.22"/>
<rect x="131.00" y="16.00" width="106.60" height="71.60" fill="#000" stroke="none" stroke-width="1" filter="url(#spkd)" opacity="0.45"/>
</g>
<line x1="190.20" y1="36.50" x2="187.80" y2="55.20" stroke="#fff" stroke-width="1.3"/>
<line x1="176.70" y1="38.00" x2="175.10" y2="54.00" stroke="#e0188c" stroke-width="1.6"/>
<rect x="136.50" y="74.00" width="10.50" height="9.50" fill="none" stroke="#bbb" stroke-width="0.6"/>
<line x1="138.50" y1="78.75" x2="145.00" y2="78.75" stroke="#888" stroke-width="0.4"/>
<text x="135.3" y="80.3" font-size="3.5" fill="#ccc" style="stroke:none">N</text>
<text x="145.1" y="80.3" font-size="3.5" fill="#ccc" style="stroke:none">ST</text>
<line x1="214.00" y1="81.40" x2="228.50" y2="81.40" stroke="#fff" stroke-width="1.6"/>
<g clip-path="url(#c3)">
<rect x="21.20" y="90.00" width="107.60" height="71.60" fill="#161616" stroke="none" stroke-width="1"/>
<path d="M 19.00 132.00 C 21.67 132.58 29.83 134.42 35.00 135.50 C 40.17 136.58 45.50 137.58 50.00 138.50 C 54.50 139.42 58.67 140.28 62.00 141.00 C 65.33 141.72 67.50 142.33 70.00 142.80 C 72.50 143.27 75.00 143.57 77.00 143.80 C 79.00 144.03 80.17 144.08 82.00 144.20 C 83.83 144.32 85.67 144.40 88.00 144.50 C 90.33 144.60 93.00 144.68 96.00 144.80 C 99.00 144.92 102.33 145.08 106.00 145.20 C 109.67 145.32 113.83 145.40 118.00 145.50 C 122.17 145.60 128.83 145.75 131.00 145.80 L 130.8 163.6 L 19.2 163.6 Z" fill="url(#ochc3)"/>
<path d="M 19.00 124.30 L 35.00 126.00 L 50.00 128.50 L 62.00 131.00 L 70.00 133.50 L 77.00 135.50 L 82.00 135.00 L 88.00 133.80 L 96.00 134.20 L 106.00 135.20 L 118.00 135.80 L 131.00 136.00 L 131.00 145.80 L 118.00 145.50 L 106.00 145.20 L 96.00 144.80 L 88.00 144.50 L 82.00 144.20 L 77.00 143.80 L 70.00 142.80 L 62.00 141.00 L 50.00 138.50 L 35.00 135.50 L 19.00 132.00 Z" fill="#6e6e6e" filter="url(#b0_6)"/>
<path d="M 19.00 125.45 C 21.67 125.78 29.83 126.67 35.00 127.42 C 40.17 128.18 45.50 129.15 50.00 130.00 C 54.50 130.85 58.67 131.68 62.00 132.50 C 65.33 133.32 67.50 134.19 70.00 134.90 C 72.50 135.60 75.00 136.50 77.00 136.75 C 79.00 136.99 80.17 136.60 82.00 136.38 C 83.83 136.16 85.67 135.50 88.00 135.41 C 90.33 135.31 93.00 135.57 96.00 135.79 C 99.00 136.01 102.33 136.46 106.00 136.70 C 109.67 136.94 113.83 137.13 118.00 137.25 C 122.17 137.38 128.83 137.43 131.00 137.47" fill="none" stroke="#a0a0a0" stroke-width="1.4" filter="url(#b0_4)"/>
<path d="M 19.00 127.53 C 21.67 127.94 29.83 129.13 35.00 129.99 C 40.17 130.85 45.50 131.83 50.00 132.70 C 54.50 133.57 58.67 134.42 62.00 135.20 C 65.33 135.98 67.50 136.78 70.00 137.41 C 72.50 138.04 75.00 138.74 77.00 138.99 C 79.00 139.23 80.17 138.98 82.00 138.86 C 83.83 138.75 85.67 138.33 88.00 138.29 C 90.33 138.26 93.00 138.47 96.00 138.65 C 99.00 138.84 102.33 139.20 106.00 139.40 C 109.67 139.60 113.83 139.75 118.00 139.87 C 122.17 139.99 128.83 140.08 131.00 140.12" fill="none" stroke="#4a4a4a" stroke-width="1.3" filter="url(#b0_4)"/>
<path d="M 19.00 129.54 C 21.67 130.02 29.83 131.50 35.00 132.46 C 40.17 133.42 45.50 134.41 50.00 135.30 C 54.50 136.19 58.67 137.05 62.00 137.80 C 65.33 138.55 67.50 139.27 70.00 139.82 C 72.50 140.38 75.00 140.91 77.00 141.14 C 79.00 141.38 80.17 141.27 82.00 141.26 C 83.83 141.24 85.67 141.05 88.00 141.08 C 90.33 141.10 93.00 141.25 96.00 141.41 C 99.00 141.56 102.33 141.84 106.00 142.00 C 109.67 142.16 113.83 142.29 118.00 142.40 C 122.17 142.51 128.83 142.62 131.00 142.66" fill="none" stroke="#8a8a8a" stroke-width="1.0" filter="url(#b0_4)"/>
<path d="M 19.00 124.30 C 21.67 124.58 29.83 125.30 35.00 126.00 C 40.17 126.70 45.50 127.67 50.00 128.50 C 54.50 129.33 58.67 130.17 62.00 131.00 C 65.33 131.83 67.50 132.75 70.00 133.50 C 72.50 134.25 75.00 135.25 77.00 135.50 C 79.00 135.75 80.17 135.28 82.00 135.00 C 83.83 134.72 85.67 133.93 88.00 133.80 C 90.33 133.67 93.00 133.97 96.00 134.20 C 99.00 134.43 102.33 134.93 106.00 135.20 C 109.67 135.47 113.83 135.67 118.00 135.80 C 122.17 135.93 128.83 135.97 131.00 136.00" fill="none" stroke="#a8a8a8" stroke-width="1.2" filter="url(#b0_4)"/>
<path d="M 19.00 132.00 C 21.67 132.58 29.83 134.42 35.00 135.50 C 40.17 136.58 45.50 137.58 50.00 138.50 C 54.50 139.42 58.67 140.28 62.00 141.00 C 65.33 141.72 67.50 142.33 70.00 142.80 C 72.50 143.27 75.00 143.57 77.00 143.80 C 79.00 144.03 80.17 144.08 82.00 144.20 C 83.83 144.32 85.67 144.40 88.00 144.50 C 90.33 144.60 93.00 144.68 96.00 144.80 C 99.00 144.92 102.33 145.08 106.00 145.20 C 109.67 145.32 113.83 145.40 118.00 145.50 C 122.17 145.60 128.83 145.75 131.00 145.80 L 130.8 163.6 L 19.2 163.6 Z" fill="#000" filter="url(#motd)" opacity="0.7"/>
<path d="M 19.00 135.20 C 21.67 135.78 29.83 137.62 35.00 138.70 C 40.17 139.78 45.50 140.78 50.00 141.70 C 54.50 142.62 58.67 143.48 62.00 144.20 C 65.33 144.92 67.50 145.53 70.00 146.00 C 72.50 146.47 75.00 146.77 77.00 147.00 C 79.00 147.23 80.17 147.28 82.00 147.40 C 83.83 147.52 85.67 147.60 88.00 147.70 C 90.33 147.80 93.00 147.88 96.00 148.00 C 99.00 148.12 102.33 148.28 106.00 148.40 C 109.67 148.52 113.83 148.60 118.00 148.70 C 122.17 148.80 128.83 148.95 131.00 149.00" fill="none" stroke="#606060" stroke-width="3.5" filter="url(#b1_0)"/>
<path d="M 19.00 132.00 C 21.67 132.58 29.83 134.42 35.00 135.50 C 40.17 136.58 45.50 137.58 50.00 138.50 C 54.50 139.42 58.67 140.28 62.00 141.00 C 65.33 141.72 67.50 142.33 70.00 142.80 C 72.50 143.27 75.00 143.57 77.00 143.80 C 79.00 144.03 80.17 144.08 82.00 144.20 C 83.83 144.32 85.67 144.40 88.00 144.50 C 90.33 144.60 93.00 144.68 96.00 144.80 C 99.00 144.92 102.33 145.08 106.00 145.20 C 109.67 145.32 113.83 145.40 118.00 145.50 C 122.17 145.60 128.83 145.75 131.00 145.80" fill="none" stroke="#dedede" stroke-width="2.2" filter="url(#b0_5)"/>
<rect x="21.20" y="90.00" width="107.60" height="71.60" fill="#000" stroke="none" stroke-width="1" filter="url(#spk)" opacity="0.22"/>
<rect x="21.20" y="90.00" width="107.60" height="71.60" fill="#000" stroke="none" stroke-width="1" filter="url(#spkd)" opacity="0.45"/>
</g>
<line x1="80.30" y1="137.50" x2="79.00" y2="143.50" stroke="#fff" stroke-width="1.3"/>
<line x1="83.30" y1="140.80" x2="84.50" y2="141.80" stroke="#e0188c" stroke-width="1.6"/>
<rect x="26.00" y="148.50" width="10.50" height="9.50" fill="none" stroke="#bbb" stroke-width="0.6"/>
<line x1="28.00" y1="153.25" x2="34.50" y2="153.25" stroke="#888" stroke-width="0.4"/>
<text x="24.8" y="154.8" font-size="3.5" fill="#ccc" style="stroke:none">T</text>
<text x="34.6" y="154.8" font-size="3.5" fill="#ccc" style="stroke:none">SN</text>
<line x1="102.90" y1="155.40" x2="117.00" y2="155.40" stroke="#fff" stroke-width="1.6"/>
<g clip-path="url(#c4)">
<rect x="131.00" y="90.00" width="106.60" height="71.60" fill="#161616" stroke="none" stroke-width="1"/>
<path d="M 129.00 123.30 C 130.83 123.22 136.50 122.93 140.00 122.80 C 143.50 122.67 146.67 122.63 150.00 122.50 C 153.33 122.37 157.17 122.28 160.00 122.00 C 162.83 121.72 165.00 121.38 167.00 120.80 C 169.00 120.22 170.33 118.97 172.00 118.50 C 173.67 118.03 175.33 117.83 177.00 118.00 C 178.67 118.17 180.17 118.92 182.00 119.50 C 183.83 120.08 185.67 121.25 188.00 121.50 C 190.33 121.75 193.00 121.17 196.00 121.00 C 199.00 120.83 202.33 120.67 206.00 120.50 C 209.67 120.33 214.00 120.13 218.00 120.00 C 222.00 119.87 226.33 119.78 230.00 119.70 C 233.67 119.62 238.33 119.53 240.00 119.50 L 239.6 163.6 L 129 163.6 Z" fill="url(#ochc4)"/>
<path d="M 129.00 113.50 L 140.00 112.80 L 150.00 111.50 L 160.00 110.50 L 167.00 110.80 L 172.00 111.30 L 177.00 112.30 L 182.00 113.50 L 188.00 114.80 L 196.00 112.80 L 206.00 111.00 L 218.00 110.00 L 230.00 109.40 L 240.00 109.00 L 240.00 119.50 L 230.00 119.70 L 218.00 120.00 L 206.00 120.50 L 196.00 121.00 L 188.00 121.50 L 182.00 119.50 L 177.00 118.00 L 172.00 118.50 L 167.00 120.80 L 160.00 122.00 L 150.00 122.50 L 140.00 122.80 L 129.00 123.30 Z" fill="#6e6e6e" filter="url(#b0_6)"/>
<path d="M 129.00 114.97 C 130.83 114.86 136.50 114.60 140.00 114.30 C 143.50 114.00 146.67 113.50 150.00 113.15 C 153.33 112.80 157.17 112.37 160.00 112.22 C 162.83 112.08 165.00 112.27 167.00 112.30 C 169.00 112.33 170.33 112.24 172.00 112.38 C 173.67 112.52 175.33 112.82 177.00 113.16 C 178.67 113.49 180.17 113.96 182.00 114.40 C 183.83 114.84 185.67 115.87 188.00 115.80 C 190.33 115.74 193.00 114.59 196.00 114.03 C 199.00 113.47 202.33 112.85 206.00 112.42 C 209.67 112.00 214.00 111.75 218.00 111.50 C 222.00 111.25 226.33 111.10 230.00 110.95 C 233.67 110.79 238.33 110.64 240.00 110.58" fill="none" stroke="#a0a0a0" stroke-width="1.4" filter="url(#b0_4)"/>
<path d="M 129.00 117.62 C 130.83 117.51 136.50 117.25 140.00 117.00 C 143.50 116.75 146.67 116.40 150.00 116.12 C 153.33 115.84 157.17 115.52 160.00 115.33 C 162.83 115.14 165.00 115.17 167.00 115.00 C 169.00 114.83 170.33 114.38 172.00 114.32 C 173.67 114.27 175.33 114.41 177.00 114.69 C 178.67 114.98 180.17 115.53 182.00 116.02 C 183.83 116.51 185.67 117.58 188.00 117.61 C 190.33 117.65 193.00 116.68 196.00 116.24 C 199.00 115.81 202.33 115.33 206.00 114.99 C 209.67 114.65 214.00 114.41 218.00 114.20 C 222.00 113.99 226.33 113.86 230.00 113.73 C 233.67 113.59 238.33 113.46 240.00 113.41" fill="none" stroke="#4a4a4a" stroke-width="1.3" filter="url(#b0_4)"/>
<path d="M 129.00 120.16 C 130.83 120.07 136.50 119.80 140.00 119.60 C 143.50 119.40 146.67 119.19 150.00 118.98 C 153.33 118.77 157.17 118.55 160.00 118.32 C 162.83 118.09 165.00 117.95 167.00 117.60 C 169.00 117.25 170.33 116.43 172.00 116.20 C 173.67 115.96 175.33 115.95 177.00 116.18 C 178.67 116.41 180.17 117.05 182.00 117.58 C 183.83 118.11 185.67 119.22 188.00 119.36 C 190.33 119.49 193.00 118.69 196.00 118.38 C 199.00 118.06 202.33 117.72 206.00 117.46 C 209.67 117.20 214.00 116.98 218.00 116.80 C 222.00 116.62 226.33 116.51 230.00 116.40 C 233.67 116.29 238.33 116.18 240.00 116.14" fill="none" stroke="#8a8a8a" stroke-width="1.0" filter="url(#b0_4)"/>
<path d="M 129.00 113.50 C 130.83 113.38 136.50 113.13 140.00 112.80 C 143.50 112.47 146.67 111.88 150.00 111.50 C 153.33 111.12 157.17 110.62 160.00 110.50 C 162.83 110.38 165.00 110.67 167.00 110.80 C 169.00 110.93 170.33 111.05 172.00 111.30 C 173.67 111.55 175.33 111.93 177.00 112.30 C 178.67 112.67 180.17 113.08 182.00 113.50 C 183.83 113.92 185.67 114.92 188.00 114.80 C 190.33 114.68 193.00 113.43 196.00 112.80 C 199.00 112.17 202.33 111.47 206.00 111.00 C 209.67 110.53 214.00 110.27 218.00 110.00 C 222.00 109.73 226.33 109.57 230.00 109.40 C 233.67 109.23 238.33 109.07 240.00 109.00" fill="none" stroke="#a8a8a8" stroke-width="1.2" filter="url(#b0_4)"/>
<path d="M 129.00 123.30 C 130.83 123.22 136.50 122.93 140.00 122.80 C 143.50 122.67 146.67 122.63 150.00 122.50 C 153.33 122.37 157.17 122.28 160.00 122.00 C 162.83 121.72 165.00 121.38 167.00 120.80 C 169.00 120.22 170.33 118.97 172.00 118.50 C 173.67 118.03 175.33 117.83 177.00 118.00 C 178.67 118.17 180.17 118.92 182.00 119.50 C 183.83 120.08 185.67 121.25 188.00 121.50 C 190.33 121.75 193.00 121.17 196.00 121.00 C 199.00 120.83 202.33 120.67 206.00 120.50 C 209.67 120.33 214.00 120.13 218.00 120.00 C 222.00 119.87 226.33 119.78 230.00 119.70 C 233.67 119.62 238.33 119.53 240.00 119.50 L 239.6 163.6 L 129 163.6 Z" fill="#000" filter="url(#motd)" opacity="0.7"/>
<path d="M 129.00 126.50 C 130.83 126.42 136.50 126.13 140.00 126.00 C 143.50 125.87 146.67 125.83 150.00 125.70 C 153.33 125.57 157.17 125.48 160.00 125.20 C 162.83 124.92 165.00 124.58 167.00 124.00 C 169.00 123.42 170.33 122.17 172.00 121.70 C 173.67 121.23 175.33 121.03 177.00 121.20 C 178.67 121.37 180.17 122.12 182.00 122.70 C 183.83 123.28 185.67 124.45 188.00 124.70 C 190.33 124.95 193.00 124.37 196.00 124.20 C 199.00 124.03 202.33 123.87 206.00 123.70 C 209.67 123.53 214.00 123.33 218.00 123.20 C 222.00 123.07 226.33 122.98 230.00 122.90 C 233.67 122.82 238.33 122.73 240.00 122.70" fill="none" stroke="#606060" stroke-width="3.5" filter="url(#b1_0)"/>
<path d="M 129.00 123.30 C 130.83 123.22 136.50 122.93 140.00 122.80 C 143.50 122.67 146.67 122.63 150.00 122.50 C 153.33 122.37 157.17 122.28 160.00 122.00 C 162.83 121.72 165.00 121.38 167.00 120.80 C 169.00 120.22 170.33 118.97 172.00 118.50 C 173.67 118.03 175.33 117.83 177.00 118.00 C 178.67 118.17 180.17 118.92 182.00 119.50 C 183.83 120.08 185.67 121.25 188.00 121.50 C 190.33 121.75 193.00 121.17 196.00 121.00 C 199.00 120.83 202.33 120.67 206.00 120.50 C 209.67 120.33 214.00 120.13 218.00 120.00 C 222.00 119.87 226.33 119.78 230.00 119.70 C 233.67 119.62 238.33 119.53 240.00 119.50" fill="none" stroke="#dedede" stroke-width="2.2" filter="url(#b0_5)"/>
<rect x="131.00" y="90.00" width="106.60" height="71.60" fill="#000" stroke="none" stroke-width="1" filter="url(#spk)" opacity="0.22"/>
<rect x="131.00" y="90.00" width="106.60" height="71.60" fill="#000" stroke="none" stroke-width="1" filter="url(#spkd)" opacity="0.45"/>
</g>
<line x1="188.80" y1="114.50" x2="188.30" y2="122.00" stroke="#fff" stroke-width="1.3"/>
<line x1="177.40" y1="118.50" x2="177.40" y2="123.50" stroke="#e0188c" stroke-width="1.6"/>
<rect x="136.50" y="148.50" width="10.50" height="9.50" fill="none" stroke="#bbb" stroke-width="0.6"/>
<line x1="138.50" y1="153.25" x2="145.00" y2="153.25" stroke="#888" stroke-width="0.4"/>
<text x="135.3" y="154.8" font-size="3.5" fill="#ccc" style="stroke:none">N</text>
<text x="145.1" y="154.8" font-size="3.5" fill="#ccc" style="stroke:none">T</text>
<line x1="214.00" y1="155.40" x2="228.50" y2="155.40" stroke="#fff" stroke-width="1.6"/>
<g clip-path="url(#c5)">
<rect x="337.60" y="183.30" width="71.40" height="70.70" fill="#050505" stroke="none" stroke-width="1"/>
<g clip-path="url(#c6)">
<circle cx="373.30" cy="218.60" r="36.50" fill="url(#fgc5)"/>
<rect x="337.80" y="183.10" width="71.00" height="71.00" fill="#000" stroke="none" stroke-width="1" filter="url(#motd)" opacity="0.5"/>
<path d="M 405.68 250.40 C 405.95 250.66 406.87 251.38 407.34 251.97 C 407.81 252.55 408.18 253.25 408.49 253.94 C 408.80 254.62 409.10 255.74 409.22 256.10" stroke="#fff" stroke-opacity="0.16" stroke-width="0.6" fill="none"/>
<path d="M 359.68 226.12 C 359.04 225.95 357.15 225.39 355.87 225.11 C 354.59 224.82 353.30 224.56 352.00 224.41 C 350.70 224.26 348.72 224.24 348.07 224.21" stroke="#fff" stroke-opacity="0.16" stroke-width="0.6" fill="none"/>
<path d="M 389.13 253.73 C 389.72 253.49 391.58 252.93 392.67 252.30 C 393.76 251.67 394.96 250.95 395.68 249.96 C 396.40 248.97 396.77 246.97 396.99 246.38" stroke="#fff" stroke-opacity="0.16" stroke-width="0.6" fill="none"/>
<path d="M 339.75 216.11 C 339.32 216.45 338.05 217.47 337.19 218.14 C 336.33 218.80 335.46 219.47 334.57 220.09 C 333.67 220.70 332.27 221.55 331.81 221.84" stroke="#fff" stroke-opacity="0.16" stroke-width="0.6" fill="none"/>
<path d="M 354.56 184.79 C 354.37 185.16 353.97 186.41 353.42 186.97 C 352.87 187.52 352.01 187.81 351.25 188.12 C 350.50 188.42 349.28 188.68 348.89 188.79" stroke="#fff" stroke-opacity="0.16" stroke-width="0.6" fill="none"/>
<path d="M 350.71 246.54 C 351.23 246.02 352.66 244.25 353.84 243.39 C 355.03 242.52 356.41 241.79 357.80 241.36 C 359.20 240.93 361.48 240.89 362.22 240.80" stroke="#fff" stroke-opacity="0.16" stroke-width="0.6" fill="none"/>
<path d="M 362.92 252.75 C 363.34 252.78 364.63 252.75 365.45 252.92 C 366.27 253.08 367.05 253.47 367.86 253.72 C 368.66 253.97 369.89 254.30 370.30 254.42" stroke="#fff" stroke-opacity="0.16" stroke-width="0.6" fill="none"/>
<path d="M 375.46 217.89 C 376.07 217.85 377.91 217.81 379.11 217.62 C 380.32 217.42 381.48 216.73 382.67 216.71 C 383.86 216.69 385.66 217.35 386.26 217.47" stroke="#fff" stroke-opacity="0.16" stroke-width="0.6" fill="none"/>
<path d="M 401.68 215.83 C 401.03 215.29 399.09 213.66 397.78 212.59 C 396.48 211.52 395.29 210.23 393.84 209.41 C 392.38 208.60 389.86 207.99 389.06 207.70" stroke="#fff" stroke-opacity="0.16" stroke-width="0.6" fill="none"/>
<path d="M 360.85 232.77 C 361.46 233.35 363.62 234.87 364.48 236.25 C 365.34 237.63 365.33 239.52 366.02 241.04 C 366.71 242.55 368.17 244.63 368.61 245.35" stroke="#fff" stroke-opacity="0.16" stroke-width="0.6" fill="none"/>
<path d="M 405.77 233.24 C 405.17 233.11 403.33 232.79 402.13 232.47 C 400.93 232.15 399.79 231.57 398.58 231.32 C 397.37 231.07 395.49 231.05 394.87 230.99" stroke="#fff" stroke-opacity="0.16" stroke-width="0.6" fill="none"/>
<path d="M 352.56 219.44 C 352.97 218.90 354.02 217.08 355.01 216.19 C 356.01 215.30 357.28 214.63 358.51 214.10 C 359.75 213.57 361.79 213.20 362.45 213.02" stroke="#fff" stroke-opacity="0.16" stroke-width="0.6" fill="none"/>
<path d="M 402.24 196.69 C 402.30 196.33 402.56 195.24 402.57 194.52 C 402.58 193.79 402.51 193.03 402.31 192.34 C 402.10 191.65 401.51 190.69 401.35 190.36" stroke="#fff" stroke-opacity="0.16" stroke-width="0.6" fill="none"/>
<path d="M 399.96 190.64 C 399.16 190.78 396.68 190.91 395.18 191.44 C 393.68 191.97 392.47 193.38 390.96 193.82 C 389.45 194.27 386.93 194.05 386.12 194.10" stroke="#fff" stroke-opacity="0.16" stroke-width="0.6" fill="none"/>
<path d="M 367.83 234.00 C 368.35 233.90 369.92 233.48 370.98 233.39 C 372.03 233.29 373.18 233.67 374.18 233.43 C 375.19 233.19 376.55 232.18 377.02 231.93" stroke="#fff" stroke-opacity="0.16" stroke-width="0.6" fill="none"/>
<path d="M 405.57 184.90 C 405.43 184.58 404.88 183.67 404.73 183.01 C 404.57 182.35 404.80 181.60 404.63 180.94 C 404.46 180.29 403.87 179.40 403.71 179.09" stroke="#fff" stroke-opacity="0.16" stroke-width="0.6" fill="none"/>
<path d="M 350.85 232.20 C 350.49 232.24 349.38 232.24 348.72 232.48 C 348.06 232.71 347.36 233.09 346.89 233.60 C 346.43 234.10 346.09 235.19 345.93 235.51" stroke="#fff" stroke-opacity="0.16" stroke-width="0.6" fill="none"/>
<path d="M 362.24 226.78 C 362.14 226.40 362.05 225.13 361.67 224.47 C 361.29 223.82 360.54 223.36 359.95 222.83 C 359.36 222.30 358.44 221.55 358.14 221.29" stroke="#fff" stroke-opacity="0.16" stroke-width="0.6" fill="none"/>
<path d="M 392.18 235.64 C 392.92 235.50 395.14 234.91 396.63 234.82 C 398.12 234.74 399.63 235.05 401.14 235.12 C 402.64 235.20 404.90 235.25 405.65 235.27" stroke="#fff" stroke-opacity="0.16" stroke-width="0.6" fill="none"/>
<path d="M 353.81 230.02 C 353.68 230.38 353.42 231.58 353.00 232.21 C 352.59 232.85 351.73 233.20 351.32 233.84 C 350.90 234.47 350.64 235.67 350.50 236.03" stroke="#fff" stroke-opacity="0.16" stroke-width="0.6" fill="none"/>
<path d="M 379.33 211.00 C 379.00 210.75 378.07 209.90 377.35 209.51 C 376.63 209.12 375.78 208.98 375.03 208.65 C 374.27 208.31 373.20 207.69 372.83 207.50" stroke="#fff" stroke-opacity="0.16" stroke-width="0.6" fill="none"/>
<path d="M 367.60 184.38 C 367.20 184.45 365.88 184.45 365.17 184.79 C 364.46 185.13 363.81 185.79 363.33 186.43 C 362.84 187.08 362.45 188.30 362.28 188.67" stroke="#fff" stroke-opacity="0.16" stroke-width="0.6" fill="none"/>
<path d="M 344.61 228.19 C 343.87 227.71 341.26 226.61 340.17 225.33 C 339.09 224.04 339.02 221.94 338.09 220.48 C 337.16 219.01 335.18 217.19 334.59 216.53" stroke="#fff" stroke-opacity="0.16" stroke-width="0.6" fill="none"/>
<path d="M 369.37 200.91 C 368.97 200.36 367.61 198.80 366.95 197.63 C 366.28 196.45 366.09 195.01 365.41 193.85 C 364.73 192.69 363.28 191.20 362.85 190.67" stroke="#fff" stroke-opacity="0.16" stroke-width="0.6" fill="none"/>
<path d="M 367.83 220.46 C 368.19 220.43 369.29 220.50 369.95 220.29 C 370.60 220.08 371.12 219.47 371.76 219.19 C 372.40 218.91 373.45 218.71 373.79 218.61" stroke="#fff" stroke-opacity="0.16" stroke-width="0.6" fill="none"/>
<path d="M 354.90 190.18 C 355.22 190.52 356.19 191.51 356.83 192.18 C 357.46 192.85 358.06 193.55 358.70 194.22 C 359.34 194.89 360.34 195.85 360.66 196.18" stroke="#fff" stroke-opacity="0.16" stroke-width="0.6" fill="none"/>
<path d="M 359.79 228.66 C 359.53 229.46 358.94 231.94 358.21 233.43 C 357.48 234.92 356.28 236.17 355.40 237.59 C 354.52 239.01 353.34 241.23 352.93 241.96" stroke="#fff" stroke-opacity="0.16" stroke-width="0.6" fill="none"/>
<path d="M 374.12 224.36 C 374.65 224.55 376.21 225.35 377.30 225.53 C 378.40 225.70 379.64 225.72 380.69 225.42 C 381.75 225.13 383.15 224.02 383.64 223.74" stroke="#fff" stroke-opacity="0.16" stroke-width="0.6" fill="none"/>
<path d="M 394.79 209.10 C 393.97 208.89 391.54 208.04 389.88 207.83 C 388.22 207.62 386.36 208.29 384.81 207.82 C 383.26 207.36 381.27 205.50 380.57 205.04" stroke="#fff" stroke-opacity="0.16" stroke-width="0.6" fill="none"/>
<path d="M 364.23 184.45 C 364.00 184.14 363.16 183.27 362.83 182.58 C 362.51 181.89 362.40 181.07 362.30 180.30 C 362.20 179.53 362.25 178.35 362.24 177.97" stroke="#fff" stroke-opacity="0.16" stroke-width="0.6" fill="none"/>
<path d="M 338.92 215.15 C 338.55 215.63 337.49 217.10 336.70 218.01 C 335.91 218.92 334.76 219.60 334.19 220.62 C 333.62 221.64 333.43 223.54 333.28 224.12" stroke="#fff" stroke-opacity="0.16" stroke-width="0.6" fill="none"/>
<path d="M 357.99 209.58 C 358.36 209.54 359.52 209.56 360.23 209.35 C 360.94 209.14 361.56 208.64 362.24 208.33 C 362.93 208.02 363.99 207.62 364.33 207.48" stroke="#fff" stroke-opacity="0.16" stroke-width="0.6" fill="none"/>
<path d="M 365.62 215.99 C 365.39 215.49 364.89 213.83 364.23 212.98 C 363.57 212.12 362.63 211.33 361.66 210.88 C 360.69 210.43 358.94 210.38 358.40 210.28" stroke="#fff" stroke-opacity="0.16" stroke-width="0.6" fill="none"/>
<path d="M 398.16 228.61 C 398.64 228.08 400.02 226.40 401.08 225.45 C 402.15 224.50 403.29 223.54 404.56 222.90 C 405.82 222.26 407.99 221.84 408.67 221.63" stroke="#fff" stroke-opacity="0.16" stroke-width="0.6" fill="none"/>
<path d="M 389.17 218.45 C 388.67 218.75 387.05 219.53 386.14 220.25 C 385.23 220.98 384.54 221.98 383.72 222.82 C 382.90 223.66 381.64 224.88 381.22 225.30" stroke="#fff" stroke-opacity="0.16" stroke-width="0.6" fill="none"/>
<path d="M 371.71 250.88 C 372.28 250.26 374.18 248.50 375.17 247.13 C 376.15 245.76 377.06 244.23 377.62 242.65 C 378.18 241.06 378.38 238.46 378.53 237.62" stroke="#fff" stroke-opacity="0.16" stroke-width="0.6" fill="none"/>
<path d="M 372.50 201.52 C 371.79 201.48 369.66 201.46 368.25 201.31 C 366.83 201.17 365.34 201.14 364.03 200.67 C 362.71 200.21 360.97 198.87 360.36 198.51" stroke="#fff" stroke-opacity="0.16" stroke-width="0.6" fill="none"/>
<path d="M 344.61 208.38 C 345.02 208.33 346.34 208.39 347.08 208.10 C 347.83 207.80 348.58 207.24 349.09 206.62 C 349.60 206.00 349.97 204.75 350.15 204.37" stroke="#fff" stroke-opacity="0.16" stroke-width="0.6" fill="none"/>
<path d="M 401.38 253.29 C 401.07 253.04 400.19 252.16 399.50 251.75 C 398.81 251.35 397.95 251.25 397.23 250.89 C 396.51 250.53 395.53 249.80 395.19 249.58" stroke="#fff" stroke-opacity="0.16" stroke-width="0.6" fill="none"/>
<path d="M 386.16 214.26 C 385.77 214.18 384.51 214.13 383.83 213.79 C 383.15 213.44 382.57 212.80 382.08 212.19 C 381.59 211.58 381.09 210.47 380.89 210.13" stroke="#fff" stroke-opacity="0.16" stroke-width="0.6" fill="none"/>
<ellipse cx="397.4" cy="215.0" rx="11.2" ry="10.5" fill="#fff" fill-opacity="0.26" filter="url(#b2_5)"/>
<ellipse cx="364.4" cy="241.1" rx="10.4" ry="9.8" fill="#fff" fill-opacity="0.28" filter="url(#b2_5)"/>
<ellipse cx="347.5" cy="212.7" rx="11.2" ry="10.5" fill="#fff" fill-opacity="0.14" filter="url(#b2_5)"/>
<ellipse cx="372.0" cy="197.4" rx="6.4" ry="6.0" fill="#fff" fill-opacity="0.15" filter="url(#b2_5)"/>
<g filter="url(#lesf)">
<ellipse cx="397.4" cy="215.0" rx="7.7" ry="7.0" fill="#fff" fill-opacity="0.85"/>
<ellipse cx="364.4" cy="241.1" rx="7.2" ry="6.5" fill="#fff" fill-opacity="0.95"/>
<ellipse cx="347.5" cy="212.7" rx="7.7" ry="7.0" fill="#fff" fill-opacity="0.45"/>
<ellipse cx="372.0" cy="197.4" rx="4.4" ry="4.0" fill="#fff" fill-opacity="0.50"/>
</g>
<ellipse cx="397.4" cy="215.0" rx="6.0" ry="5.6" fill="#fff" fill-opacity="0.81" filter="url(#b1_0)"/>
<ellipse cx="364.4" cy="241.1" rx="5.5" ry="5.2" fill="#fff" fill-opacity="0.90" filter="url(#b1_0)"/>
<ellipse cx="347.5" cy="212.7" rx="6.0" ry="5.6" fill="#fff" fill-opacity="0.43" filter="url(#b1_0)"/>
<ellipse cx="372.0" cy="197.4" rx="3.4" ry="3.2" fill="#fff" fill-opacity="0.47" filter="url(#b1_0)"/>
<path d="M 368.30 216.60 C 369.34 217.46 372.47 220.05 374.56 221.76 C 376.66 223.47 378.80 225.12 380.87 226.87 C 382.93 228.62 384.91 230.46 386.96 232.23 C 389.00 234.00 391.18 235.63 393.15 237.48 C 395.12 239.32 397.85 242.34 398.79 243.31" stroke="#fff" stroke-opacity="0.61" stroke-width="1.03" fill="none" stroke-linecap="round" filter="url(#b0_4)"/>
<path d="M 368.30 216.60 C 369.34 217.46 372.47 220.05 374.56 221.76 C 376.66 223.47 378.80 225.12 380.87 226.87 C 382.93 228.62 385.94 231.34 386.96 232.23" stroke="#fff" stroke-opacity="0.69" stroke-width="1.80" fill="none" stroke-linecap="round" filter="url(#b0_4)"/>
<path d="M 368.30 216.60 C 369.34 217.46 372.47 220.05 374.56 221.76 C 376.66 223.47 379.82 226.02 380.87 226.87" stroke="#fff" stroke-opacity="0.77" stroke-width="2.57" fill="none" stroke-linecap="round" filter="url(#b0_4)"/>
<path d="M 368.30 216.60 C 368.91 217.71 370.84 221.00 371.98 223.26 C 373.12 225.53 374.01 227.91 375.13 230.18 C 376.26 232.46 377.53 234.65 378.73 236.89 C 379.92 239.13 381.11 241.37 382.31 243.61 C 383.50 245.84 385.31 249.19 385.91 250.31" stroke="#fff" stroke-opacity="0.56" stroke-width="0.91" fill="none" stroke-linecap="round" filter="url(#b0_4)"/>
<path d="M 368.30 216.60 C 368.91 217.71 370.84 221.00 371.98 223.26 C 373.12 225.53 374.01 227.91 375.13 230.18 C 376.26 232.46 378.13 235.77 378.73 236.89" stroke="#fff" stroke-opacity="0.63" stroke-width="1.59" fill="none" stroke-linecap="round" filter="url(#b0_4)"/>
<path d="M 368.30 216.60 C 368.91 217.71 370.84 221.00 371.98 223.26 C 373.12 225.53 374.61 229.03 375.13 230.18" stroke="#fff" stroke-opacity="0.70" stroke-width="2.28" fill="none" stroke-linecap="round" filter="url(#b0_4)"/>
<path d="M 368.30 216.60 C 367.71 217.90 365.89 221.80 364.75 224.43 C 363.62 227.05 362.63 229.75 361.48 232.37 C 360.32 234.99 359.07 237.57 357.81 240.14 C 356.55 242.71 355.27 245.28 353.90 247.79 C 352.53 250.31 350.32 253.99 349.60 255.23" stroke="#fff" stroke-opacity="0.62" stroke-width="1.02" fill="none" stroke-linecap="round" filter="url(#b0_4)"/>
<path d="M 368.30 216.60 C 367.71 217.90 365.89 221.80 364.75 224.43 C 363.62 227.05 362.63 229.75 361.48 232.37 C 360.32 234.99 358.42 238.84 357.81 240.14" stroke="#fff" stroke-opacity="0.70" stroke-width="1.79" fill="none" stroke-linecap="round" filter="url(#b0_4)"/>
<path d="M 368.30 216.60 C 367.71 217.90 365.89 221.80 364.75 224.43 C 363.62 227.05 362.02 231.04 361.48 232.37" stroke="#fff" stroke-opacity="0.78" stroke-width="2.56" fill="none" stroke-linecap="round" filter="url(#b0_4)"/>
<path d="M 361.48 232.37 C 360.85 232.99 359.04 234.97 357.69 236.12 C 356.34 237.26 354.90 238.33 353.39 239.25 C 351.87 240.16 349.41 241.23 348.62 241.62" stroke="#fff" stroke-opacity="0.51" stroke-width="0.56" fill="none" stroke-linecap="round" filter="url(#b0_4)"/>
<path d="M 361.48 232.37 C 360.85 232.99 359.04 234.97 357.69 236.12 C 356.34 237.26 354.10 238.72 353.39 239.25" stroke="#fff" stroke-opacity="0.58" stroke-width="0.99" fill="none" stroke-linecap="round" filter="url(#b0_4)"/>
<path d="M 361.48 232.37 C 360.85 232.99 358.32 235.49 357.69 236.12" stroke="#fff" stroke-opacity="0.64" stroke-width="1.41" fill="none" stroke-linecap="round" filter="url(#b0_4)"/>
<path d="M 368.30 216.60 C 367.31 217.85 364.25 221.52 362.34 224.07 C 360.44 226.63 358.60 229.23 356.88 231.91 C 355.17 234.60 353.65 237.40 352.08 240.17 C 350.50 242.94 348.90 245.70 347.43 248.52 C 345.96 251.35 343.96 255.69 343.26 257.12" stroke="#fff" stroke-opacity="0.58" stroke-width="0.95" fill="none" stroke-linecap="round" filter="url(#b0_4)"/>
<path d="M 368.30 216.60 C 367.31 217.85 364.25 221.52 362.34 224.07 C 360.44 226.63 358.60 229.23 356.88 231.91 C 355.17 234.60 352.88 238.80 352.08 240.17" stroke="#fff" stroke-opacity="0.66" stroke-width="1.66" fill="none" stroke-linecap="round" filter="url(#b0_4)"/>
<path d="M 368.30 216.60 C 367.31 217.85 364.25 221.52 362.34 224.07 C 360.44 226.63 357.79 230.61 356.88 231.91" stroke="#fff" stroke-opacity="0.73" stroke-width="2.37" fill="none" stroke-linecap="round" filter="url(#b0_4)"/>
<path d="M 356.88 231.91 C 356.62 232.76 355.92 235.34 355.28 236.99 C 354.65 238.65 353.74 240.20 353.08 241.84 C 352.42 243.49 351.62 246.03 351.33 246.87" stroke="#fff" stroke-opacity="0.51" stroke-width="0.52" fill="none" stroke-linecap="round" filter="url(#b0_4)"/>
<path d="M 356.88 231.91 C 356.62 232.76 355.92 235.34 355.28 236.99 C 354.65 238.65 353.45 241.03 353.08 241.84" stroke="#fff" stroke-opacity="0.58" stroke-width="0.91" fill="none" stroke-linecap="round" filter="url(#b0_4)"/>
<path d="M 356.88 231.91 C 356.62 232.76 355.55 236.15 355.28 236.99" stroke="#fff" stroke-opacity="0.64" stroke-width="1.30" fill="none" stroke-linecap="round" filter="url(#b0_4)"/>
<path d="M 368.30 216.60 C 366.87 216.71 362.55 216.91 359.70 217.28 C 356.85 217.64 354.04 218.34 351.20 218.80 C 348.36 219.25 345.50 219.60 342.66 220.01 C 339.81 220.42 336.96 220.84 334.12 221.25 C 331.27 221.67 327.00 222.27 325.57 222.48" stroke="#fff" stroke-opacity="0.53" stroke-width="0.97" fill="none" stroke-linecap="round" filter="url(#b0_4)"/>
<path d="M 368.30 216.60 C 366.87 216.71 362.55 216.91 359.70 217.28 C 356.85 217.64 354.04 218.34 351.20 218.80 C 348.36 219.25 344.08 219.81 342.66 220.01" stroke="#fff" stroke-opacity="0.60" stroke-width="1.70" fill="none" stroke-linecap="round" filter="url(#b0_4)"/>
<path d="M 368.30 216.60 C 366.87 216.71 362.55 216.91 359.70 217.28 C 356.85 217.64 352.62 218.54 351.20 218.80" stroke="#fff" stroke-opacity="0.67" stroke-width="2.43" fill="none" stroke-linecap="round" filter="url(#b0_4)"/>
<path d="M 368.30 216.60 C 367.13 215.85 363.62 213.62 361.29 212.11 C 358.96 210.61 356.62 209.13 354.32 207.58 C 352.02 206.03 349.84 204.30 347.50 202.81 C 345.16 201.32 342.68 200.06 340.29 198.65 C 337.90 197.24 334.35 195.08 333.16 194.36" stroke="#fff" stroke-opacity="0.63" stroke-width="1.05" fill="none" stroke-linecap="round" filter="url(#b0_4)"/>
<path d="M 368.30 216.60 C 367.13 215.85 363.62 213.62 361.29 212.11 C 358.96 210.61 356.62 209.13 354.32 207.58 C 352.02 206.03 348.63 203.60 347.50 202.81" stroke="#fff" stroke-opacity="0.71" stroke-width="1.83" fill="none" stroke-linecap="round" filter="url(#b0_4)"/>
<path d="M 368.30 216.60 C 367.13 215.85 363.62 213.62 361.29 212.11 C 358.96 210.61 355.48 208.33 354.32 207.58" stroke="#fff" stroke-opacity="0.79" stroke-width="2.62" fill="none" stroke-linecap="round" filter="url(#b0_4)"/>
<path d="M 368.30 216.60 C 367.50 215.42 365.06 211.90 363.48 209.52 C 361.89 207.15 360.40 204.71 358.81 202.34 C 357.22 199.97 355.50 197.69 353.93 195.30 C 352.37 192.91 350.82 190.50 349.43 188.01 C 348.03 185.53 346.22 181.64 345.58 180.36" stroke="#fff" stroke-opacity="0.64" stroke-width="1.10" fill="none" stroke-linecap="round" filter="url(#b0_4)"/>
<path d="M 368.30 216.60 C 367.50 215.42 365.06 211.90 363.48 209.52 C 361.89 207.15 360.40 204.71 358.81 202.34 C 357.22 199.97 354.75 196.47 353.93 195.30" stroke="#fff" stroke-opacity="0.72" stroke-width="1.92" fill="none" stroke-linecap="round" filter="url(#b0_4)"/>
<path d="M 368.30 216.60 C 367.50 215.42 365.06 211.90 363.48 209.52 C 361.89 207.15 359.59 203.54 358.81 202.34" stroke="#fff" stroke-opacity="0.80" stroke-width="2.75" fill="none" stroke-linecap="round" filter="url(#b0_4)"/>
<path d="M 358.81 202.34 C 358.03 201.92 355.68 200.66 354.11 199.84 C 352.53 199.03 350.98 198.16 349.37 197.42 C 347.76 196.68 345.27 195.73 344.44 195.39" stroke="#fff" stroke-opacity="0.51" stroke-width="0.60" fill="none" stroke-linecap="round" filter="url(#b0_4)"/>
<path d="M 358.81 202.34 C 358.03 201.92 355.68 200.66 354.11 199.84 C 352.53 199.03 350.16 197.82 349.37 197.42" stroke="#fff" stroke-opacity="0.58" stroke-width="1.06" fill="none" stroke-linecap="round" filter="url(#b0_4)"/>
<path d="M 358.81 202.34 C 358.03 201.92 354.89 200.26 354.11 199.84" stroke="#fff" stroke-opacity="0.64" stroke-width="1.51" fill="none" stroke-linecap="round" filter="url(#b0_4)"/>
<path d="M 368.30 216.60 C 367.80 215.06 366.30 210.46 365.32 207.38 C 364.34 204.30 363.41 201.21 362.41 198.14 C 361.40 195.07 360.34 192.02 359.28 188.97 C 358.22 185.92 357.01 182.92 356.05 179.84 C 355.08 176.76 353.92 172.05 353.50 170.49" stroke="#fff" stroke-opacity="0.55" stroke-width="0.96" fill="none" stroke-linecap="round" filter="url(#b0_4)"/>
<path d="M 368.30 216.60 C 367.80 215.06 366.30 210.46 365.32 207.38 C 364.34 204.30 363.41 201.21 362.41 198.14 C 361.40 195.07 359.80 190.50 359.28 188.97" stroke="#fff" stroke-opacity="0.62" stroke-width="1.68" fill="none" stroke-linecap="round" filter="url(#b0_4)"/>
<path d="M 368.30 216.60 C 367.80 215.06 366.30 210.46 365.32 207.38 C 364.34 204.30 362.89 199.68 362.41 198.14" stroke="#fff" stroke-opacity="0.69" stroke-width="2.40" fill="none" stroke-linecap="round" filter="url(#b0_4)"/>
<path d="M 368.30 216.60 C 368.88 215.11 370.52 210.61 371.77 207.68 C 373.02 204.74 374.52 201.92 375.81 199.00 C 377.10 196.08 378.23 193.09 379.51 190.17 C 380.78 187.24 382.06 184.31 383.46 181.45 C 384.87 178.59 387.18 174.39 387.93 172.98" stroke="#fff" stroke-opacity="0.60" stroke-width="0.95" fill="none" stroke-linecap="round" filter="url(#b0_4)"/>
<path d="M 368.30 216.60 C 368.88 215.11 370.52 210.61 371.77 207.68 C 373.02 204.74 374.52 201.92 375.81 199.00 C 377.10 196.08 378.89 191.64 379.51 190.17" stroke="#fff" stroke-opacity="0.67" stroke-width="1.67" fill="none" stroke-linecap="round" filter="url(#b0_4)"/>
<path d="M 368.30 216.60 C 368.88 215.11 370.52 210.61 371.77 207.68 C 373.02 204.74 375.14 200.45 375.81 199.00" stroke="#fff" stroke-opacity="0.74" stroke-width="2.38" fill="none" stroke-linecap="round" filter="url(#b0_4)"/>
<path d="M 375.81 199.00 C 375.87 198.11 375.93 195.44 376.18 193.69 C 376.43 191.93 376.82 190.19 377.29 188.48 C 377.77 186.77 378.73 184.28 379.02 183.44" stroke="#fff" stroke-opacity="0.51" stroke-width="0.52" fill="none" stroke-linecap="round" filter="url(#b0_4)"/>
<path d="M 375.81 199.00 C 375.87 198.11 375.93 195.44 376.18 193.69 C 376.43 191.93 377.11 189.35 377.29 188.48" stroke="#fff" stroke-opacity="0.58" stroke-width="0.92" fill="none" stroke-linecap="round" filter="url(#b0_4)"/>
<path d="M 375.81 199.00 C 375.87 198.11 376.12 194.57 376.18 193.69" stroke="#fff" stroke-opacity="0.64" stroke-width="1.31" fill="none" stroke-linecap="round" filter="url(#b0_4)"/>
<path d="M 368.30 216.60 C 369.48 215.96 373.05 214.08 375.37 212.73 C 377.69 211.38 379.98 209.96 382.23 208.49 C 384.48 207.03 386.60 205.36 388.89 203.95 C 391.17 202.54 393.64 201.43 395.93 200.04 C 398.23 198.65 401.54 196.33 402.66 195.59" stroke="#fff" stroke-opacity="0.62" stroke-width="0.85" fill="none" stroke-linecap="round" filter="url(#b0_4)"/>
<path d="M 368.30 216.60 C 369.48 215.96 373.05 214.08 375.37 212.73 C 377.69 211.38 379.98 209.96 382.23 208.49 C 384.48 207.03 387.78 204.71 388.89 203.95" stroke="#fff" stroke-opacity="0.69" stroke-width="1.49" fill="none" stroke-linecap="round" filter="url(#b0_4)"/>
<path d="M 368.30 216.60 C 369.48 215.96 373.05 214.08 375.37 212.73 C 377.69 211.38 381.09 209.20 382.23 208.49" stroke="#fff" stroke-opacity="0.77" stroke-width="2.13" fill="none" stroke-linecap="round" filter="url(#b0_4)"/>
<path d="M 388.89 203.95 C 389.34 203.19 390.70 200.90 391.58 199.36 C 392.47 197.82 393.43 196.32 394.20 194.72 C 394.96 193.12 395.84 190.60 396.17 189.77" stroke="#fff" stroke-opacity="0.51" stroke-width="0.47" fill="none" stroke-linecap="round" filter="url(#b0_4)"/>
<path d="M 388.89 203.95 C 389.34 203.19 390.70 200.90 391.58 199.36 C 392.47 197.82 393.76 195.49 394.20 194.72" stroke="#fff" stroke-opacity="0.58" stroke-width="0.82" fill="none" stroke-linecap="round" filter="url(#b0_4)"/>
<path d="M 388.89 203.95 C 389.34 203.19 391.13 200.12 391.58 199.36" stroke="#fff" stroke-opacity="0.64" stroke-width="1.17" fill="none" stroke-linecap="round" filter="url(#b0_4)"/>
<path d="M 368.30 216.60 C 369.88 216.75 374.62 217.23 377.78 217.52 C 380.95 217.80 384.12 218.01 387.28 218.32 C 390.44 218.64 393.61 218.90 396.75 219.40 C 399.88 219.89 402.96 220.70 406.09 221.28 C 409.21 221.85 413.92 222.57 415.49 222.83" stroke="#fff" stroke-opacity="0.52" stroke-width="0.85" fill="none" stroke-linecap="round" filter="url(#b0_4)"/>
<path d="M 368.30 216.60 C 369.88 216.75 374.62 217.23 377.78 217.52 C 380.95 217.80 384.12 218.01 387.28 218.32 C 390.44 218.64 395.17 219.22 396.75 219.40" stroke="#fff" stroke-opacity="0.59" stroke-width="1.48" fill="none" stroke-linecap="round" filter="url(#b0_4)"/>
<path d="M 368.30 216.60 C 369.88 216.75 374.62 217.23 377.78 217.52 C 380.95 217.80 385.70 218.19 387.28 218.32" stroke="#fff" stroke-opacity="0.66" stroke-width="2.12" fill="none" stroke-linecap="round" filter="url(#b0_4)"/>
<path d="M 387.28 218.32 C 388.15 218.51 390.73 219.21 392.48 219.46 C 394.23 219.71 396.02 219.78 397.79 219.82 C 399.57 219.86 402.23 219.72 403.12 219.70" stroke="#fff" stroke-opacity="0.51" stroke-width="0.47" fill="none" stroke-linecap="round" filter="url(#b0_4)"/>
<path d="M 387.28 218.32 C 388.15 218.51 390.73 219.21 392.48 219.46 C 394.23 219.71 396.91 219.76 397.79 219.82" stroke="#fff" stroke-opacity="0.58" stroke-width="0.81" fill="none" stroke-linecap="round" filter="url(#b0_4)"/>
<path d="M 387.28 218.32 C 388.15 218.51 391.61 219.27 392.48 219.46" stroke="#fff" stroke-opacity="0.64" stroke-width="1.16" fill="none" stroke-linecap="round" filter="url(#b0_4)"/>
<circle cx="368.3" cy="216.6" r="8.8" fill="#fff" fill-opacity="0.35" filter="url(#b3_0)"/>
<circle cx="368.3" cy="216.6" r="4" fill="#fff" filter="url(#b1_5)"/>
<circle cx="368.3" cy="216.6" r="1.2" fill="#000" fill-opacity="0.6"/>
</g>
<rect x="382.10" y="206.30" width="25.80" height="25.60" fill="none" stroke="#eee" stroke-width="0.8" stroke-dasharray="2.2 1.4"/>
<line x1="383.60" y1="246.80" x2="404.00" y2="246.80" stroke="#fff" stroke-width="1.6"/>
</g>
<g clip-path="url(#c7)">
<rect x="337.60" y="255.70" width="71.40" height="70.70" fill="#050505" stroke="none" stroke-width="1"/>
<g clip-path="url(#c8)">
<circle cx="373.30" cy="291.00" r="36.50" fill="url(#fgc7)"/>
<rect x="337.80" y="255.50" width="71.00" height="71.00" fill="#000" stroke="none" stroke-width="1" filter="url(#motd)" opacity="0.5"/>
<path d="M 354.70 294.14 C 354.17 294.55 352.32 295.59 351.54 296.62 C 350.76 297.65 350.16 299.07 350.04 300.34 C 349.92 301.62 350.71 303.62 350.84 304.27" stroke="#fff" stroke-opacity="0.16" stroke-width="0.6" fill="none"/>
<path d="M 397.26 273.91 C 397.38 274.79 398.09 277.45 397.97 279.19 C 397.85 280.92 397.00 282.60 396.55 284.31 C 396.11 286.03 395.50 288.62 395.28 289.48" stroke="#fff" stroke-opacity="0.16" stroke-width="0.6" fill="none"/>
<path d="M 383.17 266.19 C 382.65 265.57 380.88 263.81 380.04 262.44 C 379.19 261.06 378.59 259.49 378.10 257.94 C 377.62 256.39 377.29 253.95 377.13 253.15" stroke="#fff" stroke-opacity="0.16" stroke-width="0.6" fill="none"/>
<path d="M 342.35 309.33 C 341.85 309.33 340.29 309.53 339.34 309.31 C 338.39 309.08 337.54 308.42 336.63 308.00 C 335.73 307.58 334.34 306.99 333.89 306.79" stroke="#fff" stroke-opacity="0.16" stroke-width="0.6" fill="none"/>
<path d="M 388.84 317.90 C 388.55 317.10 387.37 314.77 387.09 313.14 C 386.81 311.50 387.18 309.75 387.14 308.07 C 387.10 306.38 386.90 303.85 386.85 303.00" stroke="#fff" stroke-opacity="0.16" stroke-width="0.6" fill="none"/>
<path d="M 404.23 317.90 C 404.62 318.01 405.92 318.15 406.59 318.56 C 407.26 318.97 407.67 319.79 408.24 320.37 C 408.82 320.95 409.73 321.77 410.03 322.05" stroke="#fff" stroke-opacity="0.16" stroke-width="0.6" fill="none"/>
<path d="M 382.29 276.87 C 381.75 276.95 380.13 277.22 379.04 277.31 C 377.94 277.40 376.84 277.43 375.75 277.41 C 374.66 277.39 373.02 277.22 372.47 277.18" stroke="#fff" stroke-opacity="0.16" stroke-width="0.6" fill="none"/>
<path d="M 402.00 303.92 C 402.80 304.04 405.24 304.22 406.80 304.61 C 408.37 305.00 409.80 306.04 411.37 306.27 C 412.94 306.50 415.41 306.04 416.21 306.00" stroke="#fff" stroke-opacity="0.16" stroke-width="0.6" fill="none"/>
<path d="M 398.91 323.99 C 399.52 323.77 401.46 323.31 402.58 322.68 C 403.69 322.05 404.46 320.80 405.58 320.20 C 406.71 319.60 408.70 319.27 409.32 319.09" stroke="#fff" stroke-opacity="0.16" stroke-width="0.6" fill="none"/>
<path d="M 378.52 275.73 C 378.97 276.41 380.04 278.72 381.19 279.77 C 382.35 280.83 384.22 281.08 385.46 282.07 C 386.71 283.06 388.12 285.11 388.65 285.72" stroke="#fff" stroke-opacity="0.16" stroke-width="0.6" fill="none"/>
<path d="M 366.94 266.20 C 366.44 266.77 364.56 268.31 363.92 269.63 C 363.29 270.94 363.49 272.65 363.12 274.12 C 362.76 275.59 361.95 277.73 361.72 278.46" stroke="#fff" stroke-opacity="0.16" stroke-width="0.6" fill="none"/>
<path d="M 340.99 306.51 C 340.26 306.89 338.08 308.05 336.62 308.81 C 335.17 309.58 333.79 310.81 332.24 311.09 C 330.70 311.37 328.16 310.60 327.34 310.50" stroke="#fff" stroke-opacity="0.16" stroke-width="0.6" fill="none"/>
<path d="M 359.79 260.96 C 359.45 260.87 358.44 260.56 357.75 260.42 C 357.07 260.27 356.36 260.25 355.67 260.10 C 354.99 259.94 353.99 259.60 353.66 259.50" stroke="#fff" stroke-opacity="0.16" stroke-width="0.6" fill="none"/>
<path d="M 348.89 258.51 C 349.38 258.37 350.83 257.71 351.82 257.67 C 352.80 257.63 353.80 258.14 354.81 258.26 C 355.81 258.39 357.34 258.39 357.85 258.41" stroke="#fff" stroke-opacity="0.16" stroke-width="0.6" fill="none"/>
<path d="M 370.49 292.43 C 370.12 291.88 368.92 290.27 368.25 289.13 C 367.59 287.98 366.75 286.80 366.51 285.54 C 366.28 284.28 366.77 282.23 366.82 281.57" stroke="#fff" stroke-opacity="0.16" stroke-width="0.6" fill="none"/>
<path d="M 373.80 286.11 C 373.61 285.69 372.77 284.46 372.65 283.57 C 372.52 282.69 372.91 281.73 373.06 280.81 C 373.21 279.89 373.46 278.52 373.54 278.06" stroke="#fff" stroke-opacity="0.16" stroke-width="0.6" fill="none"/>
<path d="M 376.74 256.31 C 376.45 256.90 375.65 258.71 374.98 259.83 C 374.32 260.96 373.58 262.06 372.76 263.08 C 371.94 264.09 370.50 265.45 370.05 265.93" stroke="#fff" stroke-opacity="0.16" stroke-width="0.6" fill="none"/>
<path d="M 342.07 300.04 C 341.41 300.31 339.48 301.29 338.12 301.66 C 336.76 302.03 335.30 302.26 333.90 302.26 C 332.49 302.25 330.38 301.74 329.68 301.64" stroke="#fff" stroke-opacity="0.16" stroke-width="0.6" fill="none"/>
<path d="M 339.37 259.80 C 338.77 259.17 337.00 257.26 335.77 256.04 C 334.54 254.81 333.17 253.72 331.98 252.47 C 330.78 251.21 329.16 249.16 328.60 248.50" stroke="#fff" stroke-opacity="0.16" stroke-width="0.6" fill="none"/>
<path d="M 360.52 281.34 C 360.26 281.81 359.35 283.17 358.95 284.16 C 358.54 285.15 358.30 286.22 358.09 287.28 C 357.88 288.33 357.76 289.95 357.70 290.48" stroke="#fff" stroke-opacity="0.16" stroke-width="0.6" fill="none"/>
<path d="M 392.63 257.41 C 391.91 257.26 389.74 256.56 388.28 256.50 C 386.81 256.44 385.32 257.14 383.86 257.05 C 382.40 256.97 380.26 256.18 379.54 256.00" stroke="#fff" stroke-opacity="0.16" stroke-width="0.6" fill="none"/>
<path d="M 354.75 268.80 C 354.29 269.36 352.79 270.95 352.01 272.15 C 351.22 273.35 350.56 274.67 350.04 276.01 C 349.51 277.34 349.07 279.48 348.87 280.17" stroke="#fff" stroke-opacity="0.16" stroke-width="0.6" fill="none"/>
<path d="M 396.98 286.63 C 397.17 286.25 397.69 285.06 398.14 284.34 C 398.59 283.62 399.04 282.82 399.68 282.29 C 400.32 281.76 401.60 281.34 401.98 281.15" stroke="#fff" stroke-opacity="0.16" stroke-width="0.6" fill="none"/>
<path d="M 369.83 271.48 C 370.41 271.71 372.28 272.24 373.31 272.90 C 374.35 273.57 375.35 274.48 376.05 275.49 C 376.76 276.50 377.29 278.37 377.54 278.95" stroke="#fff" stroke-opacity="0.16" stroke-width="0.6" fill="none"/>
<path d="M 350.83 275.28 C 351.29 274.76 352.77 273.29 353.59 272.19 C 354.40 271.08 355.30 269.92 355.72 268.64 C 356.14 267.36 356.05 265.21 356.12 264.52" stroke="#fff" stroke-opacity="0.16" stroke-width="0.6" fill="none"/>
<path d="M 358.53 311.86 C 358.51 312.39 358.41 313.97 358.42 315.02 C 358.44 316.07 358.50 317.12 358.62 318.17 C 358.74 319.21 359.07 320.76 359.16 321.27" stroke="#fff" stroke-opacity="0.16" stroke-width="0.6" fill="none"/>
<path d="M 403.16 266.58 C 403.92 266.98 406.54 267.82 407.71 268.98 C 408.88 270.13 409.30 272.02 410.19 273.49 C 411.07 274.96 412.54 277.07 413.00 277.79" stroke="#fff" stroke-opacity="0.16" stroke-width="0.6" fill="none"/>
<path d="M 405.26 321.34 C 405.09 322.07 404.72 324.30 404.24 325.71 C 403.77 327.12 403.03 328.44 402.40 329.80 C 401.77 331.15 400.78 333.17 400.46 333.84" stroke="#fff" stroke-opacity="0.16" stroke-width="0.6" fill="none"/>
<path d="M 358.32 279.72 C 358.34 280.09 358.28 281.21 358.40 281.94 C 358.52 282.67 358.96 283.35 359.04 284.07 C 359.11 284.80 358.89 285.92 358.86 286.29" stroke="#fff" stroke-opacity="0.16" stroke-width="0.6" fill="none"/>
<path d="M 341.00 319.66 C 341.10 318.82 341.04 316.15 341.62 314.61 C 342.20 313.08 343.47 311.78 344.50 310.43 C 345.52 309.08 347.20 307.17 347.74 306.52" stroke="#fff" stroke-opacity="0.16" stroke-width="0.6" fill="none"/>
<path d="M 338.73 308.42 C 338.88 308.89 339.33 310.32 339.61 311.29 C 339.88 312.25 340.08 313.23 340.40 314.18 C 340.71 315.13 341.30 316.51 341.48 316.98" stroke="#fff" stroke-opacity="0.16" stroke-width="0.6" fill="none"/>
<path d="M 404.47 298.96 C 404.07 299.22 402.86 299.96 402.07 300.48 C 401.27 301.00 400.56 301.68 399.71 302.06 C 398.86 302.44 397.41 302.65 396.96 302.77" stroke="#fff" stroke-opacity="0.16" stroke-width="0.6" fill="none"/>
<path d="M 362.78 269.51 C 362.01 269.65 359.68 270.34 358.13 270.34 C 356.58 270.34 354.87 270.16 353.48 269.53 C 352.09 268.90 350.42 267.05 349.81 266.56" stroke="#fff" stroke-opacity="0.16" stroke-width="0.6" fill="none"/>
<path d="M 395.03 313.97 C 395.63 314.28 397.37 315.59 398.66 315.87 C 399.94 316.14 401.42 315.89 402.75 315.63 C 404.07 315.37 405.97 314.52 406.62 314.30" stroke="#fff" stroke-opacity="0.16" stroke-width="0.6" fill="none"/>
<path d="M 356.87 292.94 C 356.28 293.03 354.36 292.98 353.33 293.48 C 352.31 293.97 351.32 294.94 350.72 295.92 C 350.11 296.89 349.87 298.77 349.71 299.35" stroke="#fff" stroke-opacity="0.16" stroke-width="0.6" fill="none"/>
<path d="M 346.81 264.35 C 347.38 265.01 348.86 267.34 350.25 268.31 C 351.64 269.28 353.53 269.54 355.17 270.15 C 356.80 270.77 359.26 271.70 360.08 272.01" stroke="#fff" stroke-opacity="0.16" stroke-width="0.6" fill="none"/>
<path d="M 360.23 277.84 C 359.76 278.35 358.27 279.81 357.42 280.90 C 356.58 282.00 355.69 283.13 355.17 284.40 C 354.66 285.66 354.47 287.79 354.33 288.47" stroke="#fff" stroke-opacity="0.16" stroke-width="0.6" fill="none"/>
<path d="M 361.14 264.29 C 360.43 264.14 358.26 263.33 356.85 263.39 C 355.43 263.46 353.92 264.01 352.66 264.68 C 351.39 265.36 349.82 267.00 349.26 267.46" stroke="#fff" stroke-opacity="0.16" stroke-width="0.6" fill="none"/>
<path d="M 364.30 298.41 C 364.59 297.96 365.41 296.53 366.06 295.66 C 366.70 294.79 367.52 294.04 368.20 293.19 C 368.87 292.34 369.80 290.99 370.13 290.55" stroke="#fff" stroke-opacity="0.16" stroke-width="0.6" fill="none"/>
<path d="M 364.24 290.73 C 364.21 290.16 364.13 288.46 364.03 287.33 C 363.93 286.20 363.94 285.03 363.65 283.95 C 363.36 282.87 362.51 281.36 362.28 280.84" stroke="#fff" stroke-opacity="0.16" stroke-width="0.6" fill="none"/>
<ellipse cx="356.0" cy="289.5" rx="14.4" ry="13.5" fill="#fff" fill-opacity="0.30" filter="url(#b2_5)"/>
<ellipse cx="392.8" cy="295.7" rx="15.2" ry="14.2" fill="#fff" fill-opacity="0.30" filter="url(#b2_5)"/>
<ellipse cx="374.4" cy="315.6" rx="12.0" ry="11.2" fill="#fff" fill-opacity="0.30" filter="url(#b2_5)"/>
<ellipse cx="369.8" cy="265.0" rx="10.4" ry="9.8" fill="#fff" fill-opacity="0.21" filter="url(#b2_5)"/>
<g filter="url(#lesf)">
<ellipse cx="356.0" cy="289.5" rx="9.9" ry="9.0" fill="#fff" fill-opacity="1.00"/>
<ellipse cx="392.8" cy="295.7" rx="10.5" ry="9.5" fill="#fff" fill-opacity="1.00"/>
<ellipse cx="374.4" cy="315.6" rx="8.2" ry="7.5" fill="#fff" fill-opacity="1.00"/>
<ellipse cx="369.8" cy="265.0" rx="7.2" ry="6.5" fill="#fff" fill-opacity="0.70"/>
</g>
<ellipse cx="356.0" cy="289.5" rx="7.6" ry="7.2" fill="#fff" fill-opacity="0.95" filter="url(#b1_0)"/>
<ellipse cx="392.8" cy="295.7" rx="8.1" ry="7.6" fill="#fff" fill-opacity="0.95" filter="url(#b1_0)"/>
<ellipse cx="374.4" cy="315.6" rx="6.4" ry="6.0" fill="#fff" fill-opacity="0.95" filter="url(#b1_0)"/>
<ellipse cx="369.8" cy="265.0" rx="5.5" ry="5.2" fill="#fff" fill-opacity="0.66" filter="url(#b1_0)"/>
<path d="M 371.30 286.50 C 369.94 286.11 365.83 285.04 363.15 284.15 C 360.46 283.26 357.80 282.29 355.19 281.19 C 352.59 280.09 350.10 278.73 347.53 277.54 C 344.96 276.36 342.31 275.34 339.78 274.09 C 337.24 272.84 333.56 270.71 332.32 270.04" stroke="#fff" stroke-opacity="0.65" stroke-width="0.75" fill="none" stroke-linecap="round" filter="url(#b0_4)"/>
<path d="M 371.30 286.50 C 369.94 286.11 365.83 285.04 363.15 284.15 C 360.46 283.26 357.80 282.29 355.19 281.19 C 352.59 280.09 348.81 278.15 347.53 277.54" stroke="#fff" stroke-opacity="0.73" stroke-width="1.31" fill="none" stroke-linecap="round" filter="url(#b0_4)"/>
<path d="M 371.30 286.50 C 369.94 286.11 365.83 285.04 363.15 284.15 C 360.46 283.26 356.52 281.68 355.19 281.19" stroke="#fff" stroke-opacity="0.81" stroke-width="1.88" fill="none" stroke-linecap="round" filter="url(#b0_4)"/>
<path d="M 347.53 277.54 C 346.65 277.67 344.03 278.19 342.26 278.32 C 340.50 278.46 338.71 278.36 336.94 278.36 C 335.16 278.36 332.50 278.33 331.61 278.33" stroke="#fff" stroke-opacity="0.54" stroke-width="0.41" fill="none" stroke-linecap="round" filter="url(#b0_4)"/>
<path d="M 347.53 277.54 C 346.65 277.67 344.03 278.19 342.26 278.32 C 340.50 278.46 337.82 278.35 336.94 278.36" stroke="#fff" stroke-opacity="0.61" stroke-width="0.72" fill="none" stroke-linecap="round" filter="url(#b0_4)"/>
<path d="M 347.53 277.54 C 346.65 277.67 343.14 278.19 342.26 278.32" stroke="#fff" stroke-opacity="0.68" stroke-width="1.03" fill="none" stroke-linecap="round" filter="url(#b0_4)"/>
<path d="M 371.30 286.50 C 370.36 285.50 367.47 282.55 365.64 280.49 C 363.82 278.44 362.08 276.30 360.37 274.15 C 358.66 271.99 357.05 269.76 355.38 267.58 C 353.71 265.39 352.09 263.17 350.36 261.04 C 348.62 258.90 345.89 255.81 344.99 254.77" stroke="#fff" stroke-opacity="0.60" stroke-width="0.77" fill="none" stroke-linecap="round" filter="url(#b0_4)"/>
<path d="M 371.30 286.50 C 370.36 285.50 367.47 282.55 365.64 280.49 C 363.82 278.44 362.08 276.30 360.37 274.15 C 358.66 271.99 356.21 268.67 355.38 267.58" stroke="#fff" stroke-opacity="0.67" stroke-width="1.34" fill="none" stroke-linecap="round" filter="url(#b0_4)"/>
<path d="M 371.30 286.50 C 370.36 285.50 367.47 282.55 365.64 280.49 C 363.82 278.44 361.25 275.20 360.37 274.15" stroke="#fff" stroke-opacity="0.75" stroke-width="1.92" fill="none" stroke-linecap="round" filter="url(#b0_4)"/>
<path d="M 371.30 286.50 C 371.30 285.10 371.33 280.91 371.28 278.12 C 371.23 275.33 371.00 272.54 371.00 269.75 C 371.01 266.96 371.34 264.17 371.31 261.38 C 371.28 258.59 371.09 255.79 370.82 253.01 C 370.55 250.24 369.88 246.10 369.70 244.71" stroke="#fff" stroke-opacity="0.61" stroke-width="1.00" fill="none" stroke-linecap="round" filter="url(#b0_4)"/>
<path d="M 371.30 286.50 C 371.30 285.10 371.33 280.91 371.28 278.12 C 371.23 275.33 371.00 272.54 371.00 269.75 C 371.01 266.96 371.26 262.77 371.31 261.38" stroke="#fff" stroke-opacity="0.69" stroke-width="1.76" fill="none" stroke-linecap="round" filter="url(#b0_4)"/>
<path d="M 371.30 286.50 C 371.30 285.10 371.33 280.91 371.28 278.12 C 371.23 275.33 371.05 271.15 371.00 269.75" stroke="#fff" stroke-opacity="0.76" stroke-width="2.51" fill="none" stroke-linecap="round" filter="url(#b0_4)"/>
<path d="M 371.30 286.50 C 371.99 285.41 374.03 282.12 375.42 279.95 C 376.80 277.77 378.21 275.61 379.62 273.44 C 381.03 271.28 382.50 269.16 383.86 266.97 C 385.21 264.77 386.44 262.50 387.75 260.28 C 389.06 258.06 391.06 254.74 391.72 253.63" stroke="#fff" stroke-opacity="0.56" stroke-width="0.85" fill="none" stroke-linecap="round" filter="url(#b0_4)"/>
<path d="M 371.30 286.50 C 371.99 285.41 374.03 282.12 375.42 279.95 C 376.80 277.77 378.21 275.61 379.62 273.44 C 381.03 271.28 383.15 268.05 383.86 266.97" stroke="#fff" stroke-opacity="0.63" stroke-width="1.49" fill="none" stroke-linecap="round" filter="url(#b0_4)"/>
<path d="M 371.30 286.50 C 371.99 285.41 374.03 282.12 375.42 279.95 C 376.80 277.77 378.92 274.53 379.62 273.44" stroke="#fff" stroke-opacity="0.70" stroke-width="2.12" fill="none" stroke-linecap="round" filter="url(#b0_4)"/>
<path d="M 371.30 286.50 C 372.48 285.90 375.97 283.98 378.38 282.90 C 380.80 281.83 383.31 280.95 385.79 280.03 C 388.27 279.11 390.79 278.27 393.28 277.38 C 395.77 276.48 398.24 275.51 400.74 274.65 C 403.25 273.80 407.05 272.63 408.31 272.23" stroke="#fff" stroke-opacity="0.67" stroke-width="1.10" fill="none" stroke-linecap="round" filter="url(#b0_4)"/>
<path d="M 371.30 286.50 C 372.48 285.90 375.97 283.98 378.38 282.90 C 380.80 281.83 383.31 280.95 385.79 280.03 C 388.27 279.11 392.03 277.82 393.28 277.38" stroke="#fff" stroke-opacity="0.76" stroke-width="1.92" fill="none" stroke-linecap="round" filter="url(#b0_4)"/>
<path d="M 371.30 286.50 C 372.48 285.90 375.97 283.98 378.38 282.90 C 380.80 281.83 384.56 280.51 385.79 280.03" stroke="#fff" stroke-opacity="0.84" stroke-width="2.74" fill="none" stroke-linecap="round" filter="url(#b0_4)"/>
<path d="M 393.28 277.38 C 394.14 277.59 396.72 278.27 398.45 278.65 C 400.18 279.03 401.92 279.41 403.68 279.66 C 405.43 279.90 408.10 280.03 408.98 280.11" stroke="#fff" stroke-opacity="0.54" stroke-width="0.60" fill="none" stroke-linecap="round" filter="url(#b0_4)"/>
<path d="M 393.28 277.38 C 394.14 277.59 396.72 278.27 398.45 278.65 C 400.18 279.03 402.81 279.49 403.68 279.66" stroke="#fff" stroke-opacity="0.61" stroke-width="1.05" fill="none" stroke-linecap="round" filter="url(#b0_4)"/>
<path d="M 393.28 277.38 C 394.14 277.59 397.59 278.43 398.45 278.65" stroke="#fff" stroke-opacity="0.68" stroke-width="1.51" fill="none" stroke-linecap="round" filter="url(#b0_4)"/>
<path d="M 371.30 286.50 C 372.81 287.07 377.35 288.77 380.36 289.94 C 383.37 291.11 386.38 292.29 389.37 293.50 C 392.36 294.71 395.40 295.85 398.32 297.21 C 401.25 298.57 404.09 300.12 406.93 301.66 C 409.77 303.20 413.96 305.63 415.36 306.43" stroke="#fff" stroke-opacity="0.57" stroke-width="1.08" fill="none" stroke-linecap="round" filter="url(#b0_4)"/>
<path d="M 371.30 286.50 C 372.81 287.07 377.35 288.77 380.36 289.94 C 383.37 291.11 386.38 292.29 389.37 293.50 C 392.36 294.71 396.83 296.59 398.32 297.21" stroke="#fff" stroke-opacity="0.64" stroke-width="1.90" fill="none" stroke-linecap="round" filter="url(#b0_4)"/>
<path d="M 371.30 286.50 C 372.81 287.07 377.35 288.77 380.36 289.94 C 383.37 291.11 387.87 292.91 389.37 293.50" stroke="#fff" stroke-opacity="0.71" stroke-width="2.71" fill="none" stroke-linecap="round" filter="url(#b0_4)"/>
<path d="M 389.37 293.50 C 390.25 293.64 392.91 293.91 394.63 294.32 C 396.35 294.74 398.00 295.44 399.68 296.01 C 401.36 296.58 403.88 297.44 404.72 297.73" stroke="#fff" stroke-opacity="0.54" stroke-width="0.60" fill="none" stroke-linecap="round" filter="url(#b0_4)"/>
<path d="M 389.37 293.50 C 390.25 293.64 392.91 293.91 394.63 294.32 C 396.35 294.74 398.84 295.73 399.68 296.01" stroke="#fff" stroke-opacity="0.61" stroke-width="1.04" fill="none" stroke-linecap="round" filter="url(#b0_4)"/>
<path d="M 389.37 293.50 C 390.25 293.64 393.75 294.19 394.63 294.32" stroke="#fff" stroke-opacity="0.68" stroke-width="1.49" fill="none" stroke-linecap="round" filter="url(#b0_4)"/>
<path d="M 371.30 286.50 C 372.24 287.44 374.99 290.31 376.92 292.13 C 378.85 293.95 380.90 295.64 382.87 297.42 C 384.84 299.19 386.74 301.04 388.73 302.80 C 390.71 304.56 392.72 306.30 394.78 307.97 C 396.84 309.63 400.05 311.99 401.10 312.80" stroke="#fff" stroke-opacity="0.64" stroke-width="1.03" fill="none" stroke-linecap="round" filter="url(#b0_4)"/>
<path d="M 371.30 286.50 C 372.24 287.44 374.99 290.31 376.92 292.13 C 378.85 293.95 380.90 295.64 382.87 297.42 C 384.84 299.19 387.75 301.90 388.73 302.80" stroke="#fff" stroke-opacity="0.72" stroke-width="1.80" fill="none" stroke-linecap="round" filter="url(#b0_4)"/>
<path d="M 371.30 286.50 C 372.24 287.44 374.99 290.31 376.92 292.13 C 378.85 293.95 381.88 296.54 382.87 297.42" stroke="#fff" stroke-opacity="0.80" stroke-width="2.58" fill="none" stroke-linecap="round" filter="url(#b0_4)"/>
<path d="M 371.30 286.50 C 371.43 287.90 371.84 292.11 372.08 294.92 C 372.31 297.74 372.43 300.56 372.71 303.36 C 372.98 306.17 373.31 308.97 373.73 311.76 C 374.15 314.55 374.60 317.34 375.23 320.09 C 375.86 322.83 377.13 326.88 377.51 328.23" stroke="#fff" stroke-opacity="0.61" stroke-width="1.02" fill="none" stroke-linecap="round" filter="url(#b0_4)"/>
<path d="M 371.30 286.50 C 371.43 287.90 371.84 292.11 372.08 294.92 C 372.31 297.74 372.43 300.56 372.71 303.36 C 372.98 306.17 373.56 310.36 373.73 311.76" stroke="#fff" stroke-opacity="0.69" stroke-width="1.79" fill="none" stroke-linecap="round" filter="url(#b0_4)"/>
<path d="M 371.30 286.50 C 371.43 287.90 371.84 292.11 372.08 294.92 C 372.31 297.74 372.60 301.96 372.71 303.36" stroke="#fff" stroke-opacity="0.76" stroke-width="2.56" fill="none" stroke-linecap="round" filter="url(#b0_4)"/>
<path d="M 372.71 303.36 C 372.54 304.23 372.16 306.88 371.70 308.59 C 371.24 310.30 370.50 311.93 369.95 313.62 C 369.39 315.30 368.62 317.85 368.36 318.70" stroke="#fff" stroke-opacity="0.54" stroke-width="0.56" fill="none" stroke-linecap="round" filter="url(#b0_4)"/>
<path d="M 372.71 303.36 C 372.54 304.23 372.16 306.88 371.70 308.59 C 371.24 310.30 370.24 312.78 369.95 313.62" stroke="#fff" stroke-opacity="0.61" stroke-width="0.99" fill="none" stroke-linecap="round" filter="url(#b0_4)"/>
<path d="M 372.71 303.36 C 372.54 304.23 371.87 307.72 371.70 308.59" stroke="#fff" stroke-opacity="0.68" stroke-width="1.41" fill="none" stroke-linecap="round" filter="url(#b0_4)"/>
<path d="M 371.30 286.50 C 370.52 287.58 368.26 290.89 366.61 292.98 C 364.96 295.07 363.18 297.06 361.41 299.06 C 359.65 301.06 357.73 302.93 356.03 304.99 C 354.34 307.04 352.94 309.34 351.24 311.39 C 349.54 313.44 346.73 316.31 345.83 317.29" stroke="#fff" stroke-opacity="0.55" stroke-width="1.02" fill="none" stroke-linecap="round" filter="url(#b0_4)"/>
<path d="M 371.30 286.50 C 370.52 287.58 368.26 290.89 366.61 292.98 C 364.96 295.07 363.18 297.06 361.41 299.06 C 359.65 301.06 356.93 304.00 356.03 304.99" stroke="#fff" stroke-opacity="0.62" stroke-width="1.79" fill="none" stroke-linecap="round" filter="url(#b0_4)"/>
<path d="M 371.30 286.50 C 370.52 287.58 368.26 290.89 366.61 292.98 C 364.96 295.07 362.28 298.05 361.41 299.06" stroke="#fff" stroke-opacity="0.69" stroke-width="2.56" fill="none" stroke-linecap="round" filter="url(#b0_4)"/>
<path d="M 371.30 286.50 C 370.06 286.78 366.34 287.71 363.84 288.16 C 361.33 288.62 358.80 288.91 356.27 289.23 C 353.74 289.55 351.21 289.87 348.67 290.08 C 346.13 290.30 343.57 290.26 341.04 290.51 C 338.50 290.76 334.73 291.41 333.47 291.59" stroke="#fff" stroke-opacity="0.57" stroke-width="1.10" fill="none" stroke-linecap="round" filter="url(#b0_4)"/>
<path d="M 371.30 286.50 C 370.06 286.78 366.34 287.71 363.84 288.16 C 361.33 288.62 358.80 288.91 356.27 289.23 C 353.74 289.55 349.94 289.94 348.67 290.08" stroke="#fff" stroke-opacity="0.65" stroke-width="1.93" fill="none" stroke-linecap="round" filter="url(#b0_4)"/>
<path d="M 371.30 286.50 C 370.06 286.78 366.34 287.71 363.84 288.16 C 361.33 288.62 357.53 289.06 356.27 289.23" stroke="#fff" stroke-opacity="0.72" stroke-width="2.75" fill="none" stroke-linecap="round" filter="url(#b0_4)"/>
<path d="M 356.27 289.23 C 355.38 289.16 352.72 289.01 350.96 288.80 C 349.20 288.59 347.46 288.10 345.70 287.99 C 343.93 287.89 341.26 288.14 340.37 288.17" stroke="#fff" stroke-opacity="0.54" stroke-width="0.61" fill="none" stroke-linecap="round" filter="url(#b0_4)"/>
<path d="M 356.27 289.23 C 355.38 289.16 352.72 289.01 350.96 288.80 C 349.20 288.59 346.57 288.13 345.70 287.99" stroke="#fff" stroke-opacity="0.61" stroke-width="1.06" fill="none" stroke-linecap="round" filter="url(#b0_4)"/>
<path d="M 356.27 289.23 C 355.38 289.16 351.84 288.87 350.96 288.80" stroke="#fff" stroke-opacity="0.68" stroke-width="1.51" fill="none" stroke-linecap="round" filter="url(#b0_4)"/>
<circle cx="371.3" cy="286.5" r="8.8" fill="#fff" fill-opacity="0.35" filter="url(#b3_0)"/>
<circle cx="371.3" cy="286.5" r="4" fill="#fff" filter="url(#b1_5)"/>
<circle cx="371.3" cy="286.5" r="1.2" fill="#000" fill-opacity="0.6"/>
</g>
<rect x="358.00" y="255.50" width="25.60" height="26.30" fill="none" stroke="#eee" stroke-width="0.8" stroke-dasharray="2.2 1.4"/>
<line x1="382.00" y1="319.70" x2="404.60" y2="319.70" stroke="#fff" stroke-width="1.6"/>
</g>
<g clip-path="url(#c9)">
<rect x="188.20" y="554.00" width="71.10" height="71.00" fill="#050505" stroke="none" stroke-width="1"/>
<g clip-path="url(#c10)">
<circle cx="223.50" cy="589.50" r="36.50" fill="url(#fgc9)"/>
<rect x="188.00" y="554.00" width="71.00" height="71.00" fill="#000" stroke="none" stroke-width="1" filter="url(#motd)" opacity="0.6"/>
<path d="M 204.76 561.32 C 204.60 561.71 204.06 562.86 203.79 563.65 C 203.51 564.44 203.50 565.36 203.09 566.06 C 202.68 566.77 201.61 567.55 201.32 567.85" stroke="#fff" stroke-opacity="0.14" stroke-width="0.6" fill="none"/>
<path d="M 244.83 608.33 C 245.10 608.90 245.72 610.75 246.46 611.75 C 247.20 612.74 248.20 613.70 249.28 614.28 C 250.35 614.87 252.33 615.10 252.94 615.26" stroke="#fff" stroke-opacity="0.14" stroke-width="0.6" fill="none"/>
<path d="M 203.22 619.85 C 203.81 619.34 205.81 617.98 206.76 616.78 C 207.72 615.58 208.40 614.08 208.97 612.64 C 209.53 611.19 209.97 608.86 210.17 608.11" stroke="#fff" stroke-opacity="0.14" stroke-width="0.6" fill="none"/>
<path d="M 232.52 605.96 C 232.65 605.15 232.94 602.70 233.31 601.10 C 233.68 599.50 234.09 597.88 234.71 596.37 C 235.34 594.85 236.66 592.75 237.06 592.02" stroke="#fff" stroke-opacity="0.14" stroke-width="0.6" fill="none"/>
<path d="M 223.92 566.62 C 223.56 566.49 222.40 566.23 221.77 565.82 C 221.14 565.42 220.68 564.75 220.16 564.18 C 219.64 563.62 218.90 562.74 218.64 562.46" stroke="#fff" stroke-opacity="0.14" stroke-width="0.6" fill="none"/>
<path d="M 209.32 618.53 C 208.79 617.90 207.19 616.01 206.14 614.75 C 205.09 613.48 204.11 612.14 203.00 610.93 C 201.89 609.72 200.07 608.04 199.49 607.46" stroke="#fff" stroke-opacity="0.14" stroke-width="0.6" fill="none"/>
<path d="M 230.52 584.60 C 230.61 585.10 230.64 586.70 231.07 587.57 C 231.50 588.44 232.27 589.30 233.08 589.82 C 233.90 590.34 235.49 590.55 235.97 590.70" stroke="#fff" stroke-opacity="0.14" stroke-width="0.6" fill="none"/>
<path d="M 232.47 573.91 C 231.88 573.89 229.98 574.17 228.90 573.81 C 227.82 573.44 227.06 572.22 226.01 571.72 C 224.95 571.21 223.13 570.95 222.56 570.80" stroke="#fff" stroke-opacity="0.14" stroke-width="0.6" fill="none"/>
<path d="M 217.31 568.39 C 216.92 568.09 215.67 567.29 215.00 566.60 C 214.34 565.90 213.96 564.94 213.32 564.21 C 212.68 563.48 211.52 562.57 211.17 562.24" stroke="#fff" stroke-opacity="0.14" stroke-width="0.6" fill="none"/>
<path d="M 227.66 618.21 C 228.01 618.32 229.11 618.55 229.76 618.88 C 230.40 619.20 230.98 619.70 231.54 620.17 C 232.10 620.64 232.87 621.45 233.13 621.70" stroke="#fff" stroke-opacity="0.14" stroke-width="0.6" fill="none"/>
<path d="M 204.86 577.51 C 205.35 577.82 206.93 578.66 207.83 579.40 C 208.74 580.14 209.71 580.96 210.28 581.94 C 210.86 582.93 211.13 584.76 211.30 585.32" stroke="#fff" stroke-opacity="0.14" stroke-width="0.6" fill="none"/>
<path d="M 255.79 606.18 C 256.09 606.01 256.95 605.33 257.59 605.18 C 258.23 605.03 258.99 605.14 259.65 605.29 C 260.31 605.44 261.24 605.93 261.56 606.06" stroke="#fff" stroke-opacity="0.14" stroke-width="0.6" fill="none"/>
<path d="M 217.14 620.97 C 216.45 620.59 214.48 619.16 213.01 618.67 C 211.55 618.18 209.90 618.18 208.33 618.02 C 206.77 617.85 204.40 617.73 203.62 617.68" stroke="#fff" stroke-opacity="0.14" stroke-width="0.6" fill="none"/>
<path d="M 197.69 581.10 C 198.04 580.71 199.33 579.70 199.79 578.81 C 200.24 577.92 200.39 576.78 200.39 575.76 C 200.39 574.75 199.87 573.23 199.77 572.72" stroke="#fff" stroke-opacity="0.14" stroke-width="0.6" fill="none"/>
<path d="M 243.65 579.75 C 243.36 580.01 242.48 580.77 241.93 581.32 C 241.38 581.87 240.77 582.39 240.36 583.03 C 239.95 583.68 239.63 584.83 239.48 585.18" stroke="#fff" stroke-opacity="0.14" stroke-width="0.6" fill="none"/>
<path d="M 192.21 557.92 C 192.78 558.35 194.35 559.98 195.63 560.46 C 196.90 560.95 198.45 560.72 199.87 560.84 C 201.28 560.96 203.40 561.11 204.11 561.17" stroke="#fff" stroke-opacity="0.14" stroke-width="0.6" fill="none"/>
<path d="M 205.68 624.83 C 205.97 625.39 206.77 627.10 207.40 628.18 C 208.03 629.26 209.13 630.17 209.47 631.32 C 209.82 632.48 209.47 634.46 209.46 635.09" stroke="#fff" stroke-opacity="0.14" stroke-width="0.6" fill="none"/>
<path d="M 221.92 571.17 C 221.64 571.39 220.72 571.96 220.24 572.47 C 219.76 572.97 219.53 573.75 219.02 574.20 C 218.50 574.66 217.46 575.04 217.15 575.20" stroke="#fff" stroke-opacity="0.14" stroke-width="0.6" fill="none"/>
<path d="M 247.00 589.40 C 247.48 589.35 248.94 589.35 249.84 589.09 C 250.73 588.82 251.62 588.37 252.39 587.82 C 253.15 587.27 254.07 586.15 254.41 585.81" stroke="#fff" stroke-opacity="0.14" stroke-width="0.6" fill="none"/>
<path d="M 249.75 564.06 C 250.53 564.39 253.19 565.01 254.44 566.05 C 255.69 567.09 256.23 568.94 257.24 570.30 C 258.25 571.66 259.97 573.56 260.51 574.21" stroke="#fff" stroke-opacity="0.14" stroke-width="0.6" fill="none"/>
<path d="M 251.97 600.43 C 252.15 599.71 253.07 597.54 253.08 596.09 C 253.08 594.64 252.61 593.08 252.02 591.73 C 251.43 590.38 249.95 588.62 249.54 588.00" stroke="#fff" stroke-opacity="0.14" stroke-width="0.6" fill="none"/>
<path d="M 250.04 617.88 C 250.54 617.74 252.02 617.11 253.04 617.00 C 254.05 616.90 255.13 617.07 256.15 617.23 C 257.17 617.40 258.67 617.86 259.18 617.99" stroke="#fff" stroke-opacity="0.14" stroke-width="0.6" fill="none"/>
<path d="M 245.85 591.49 C 245.30 591.03 243.37 589.87 242.56 588.75 C 241.75 587.62 241.14 586.12 241.01 584.75 C 240.88 583.38 241.64 581.23 241.77 580.53" stroke="#fff" stroke-opacity="0.14" stroke-width="0.6" fill="none"/>
<path d="M 193.28 622.95 C 193.78 622.45 195.10 620.67 196.27 619.95 C 197.44 619.24 199.11 619.37 200.30 618.67 C 201.48 617.98 202.86 616.26 203.38 615.78" stroke="#fff" stroke-opacity="0.14" stroke-width="0.6" fill="none"/>
<path d="M 256.77 601.37 C 257.13 601.59 258.25 602.22 258.96 602.69 C 259.67 603.16 260.43 603.60 261.03 604.19 C 261.63 604.78 262.32 605.88 262.58 606.22" stroke="#fff" stroke-opacity="0.14" stroke-width="0.6" fill="none"/>
<path d="M 253.85 569.52 C 254.57 569.06 256.59 567.35 258.14 566.81 C 259.70 566.26 261.63 566.79 263.18 566.24 C 264.73 565.68 266.74 563.95 267.45 563.49" stroke="#fff" stroke-opacity="0.14" stroke-width="0.6" fill="none"/>
<path d="M 245.50 609.59 C 246.11 609.39 248.04 609.00 249.15 608.41 C 250.26 607.82 251.08 606.71 252.15 606.03 C 253.23 605.34 255.01 604.59 255.58 604.31" stroke="#fff" stroke-opacity="0.14" stroke-width="0.6" fill="none"/>
<path d="M 211.48 617.31 C 211.58 616.73 212.23 614.94 212.11 613.80 C 212.00 612.66 211.47 611.39 210.76 610.49 C 210.05 609.60 208.34 608.76 207.86 608.41" stroke="#fff" stroke-opacity="0.14" stroke-width="0.6" fill="none"/>
<path d="M 230.21 588.71 C 230.40 588.06 231.08 586.15 231.35 584.85 C 231.62 583.54 231.47 582.12 231.84 580.85 C 232.21 579.58 233.28 577.82 233.57 577.21" stroke="#fff" stroke-opacity="0.14" stroke-width="0.6" fill="none"/>
<path d="M 225.13 554.75 C 225.17 553.96 225.26 551.58 225.38 550.00 C 225.51 548.42 225.83 546.85 225.88 545.27 C 225.94 543.68 225.74 541.30 225.71 540.51" stroke="#fff" stroke-opacity="0.14" stroke-width="0.6" fill="none"/>
<path d="M 243.90 576.09 C 243.64 576.63 242.55 578.20 242.31 579.34 C 242.06 580.49 242.11 581.83 242.41 582.96 C 242.71 584.10 243.83 585.63 244.12 586.16" stroke="#fff" stroke-opacity="0.14" stroke-width="0.6" fill="none"/>
<path d="M 232.09 616.86 C 231.59 616.58 229.96 615.89 229.08 615.18 C 228.19 614.48 227.70 613.23 226.78 612.62 C 225.85 612.01 224.05 611.71 223.50 611.53" stroke="#fff" stroke-opacity="0.14" stroke-width="0.6" fill="none"/>
<path d="M 250.57 567.91 C 250.39 568.68 250.09 571.12 249.46 572.56 C 248.82 574.00 247.38 575.09 246.78 576.53 C 246.18 577.97 246.01 580.45 245.85 581.23" stroke="#fff" stroke-opacity="0.14" stroke-width="0.6" fill="none"/>
<path d="M 250.07 566.52 C 250.52 566.93 251.88 568.15 252.76 568.99 C 253.63 569.84 254.71 570.58 255.31 571.60 C 255.91 572.61 256.19 574.51 256.36 575.09" stroke="#fff" stroke-opacity="0.14" stroke-width="0.6" fill="none"/>
<path d="M 238.45 554.39 C 238.22 554.99 237.66 556.84 237.06 557.95 C 236.45 559.06 235.55 560.00 234.81 561.03 C 234.07 562.07 232.98 563.63 232.61 564.16" stroke="#fff" stroke-opacity="0.14" stroke-width="0.6" fill="none"/>
<path d="M 193.37 571.43 C 193.80 571.11 194.98 569.87 195.94 569.53 C 196.89 569.18 198.06 569.33 199.12 569.35 C 200.18 569.38 201.77 569.61 202.29 569.66" stroke="#fff" stroke-opacity="0.14" stroke-width="0.6" fill="none"/>
<path d="M 236.05 597.28 C 235.75 598.06 235.21 600.66 234.28 602.00 C 233.35 603.34 231.61 604.08 230.49 605.32 C 229.37 606.56 228.05 608.75 227.56 609.43" stroke="#fff" stroke-opacity="0.14" stroke-width="0.6" fill="none"/>
<path d="M 249.59 609.87 C 249.04 609.71 247.29 609.40 246.25 608.91 C 245.22 608.42 244.40 607.51 243.40 606.94 C 242.40 606.36 240.78 605.71 240.25 605.46" stroke="#fff" stroke-opacity="0.14" stroke-width="0.6" fill="none"/>
<path d="M 235.01 563.46 C 235.27 563.78 235.95 564.87 236.57 565.39 C 237.19 565.91 238.15 566.04 238.74 566.58 C 239.33 567.13 239.89 568.30 240.11 568.65" stroke="#fff" stroke-opacity="0.14" stroke-width="0.6" fill="none"/>
<path d="M 214.41 594.89 C 214.31 595.57 213.94 597.57 213.83 598.92 C 213.72 600.27 214.10 601.73 213.72 602.99 C 213.35 604.25 211.95 605.88 211.60 606.46" stroke="#fff" stroke-opacity="0.14" stroke-width="0.6" fill="none"/>
<ellipse cx="244.6" cy="577.4" rx="6.4" ry="6.0" fill="#fff" fill-opacity="0.27" filter="url(#b2_5)"/>
<ellipse cx="206.9" cy="574.1" rx="4.8" ry="4.5" fill="#fff" fill-opacity="0.14" filter="url(#b2_5)"/>
<ellipse cx="202.5" cy="602.6" rx="6.4" ry="6.0" fill="#fff" fill-opacity="0.14" filter="url(#b2_5)"/>
<ellipse cx="232.7" cy="612.4" rx="6.4" ry="6.0" fill="#fff" fill-opacity="0.18" filter="url(#b2_5)"/>
<g filter="url(#lesf)">
<ellipse cx="244.6" cy="577.4" rx="4.4" ry="4.0" fill="#fff" fill-opacity="0.90"/>
<ellipse cx="206.9" cy="574.1" rx="3.3" ry="3.0" fill="#fff" fill-opacity="0.45"/>
<ellipse cx="202.5" cy="602.6" rx="4.4" ry="4.0" fill="#fff" fill-opacity="0.45"/>
<ellipse cx="232.7" cy="612.4" rx="4.4" ry="4.0" fill="#fff" fill-opacity="0.60"/>
</g>
<ellipse cx="244.6" cy="577.4" rx="3.4" ry="3.2" fill="#fff" fill-opacity="0.85" filter="url(#b1_0)"/>
<ellipse cx="206.9" cy="574.1" rx="2.5" ry="2.4" fill="#fff" fill-opacity="0.43" filter="url(#b1_0)"/>
<ellipse cx="202.5" cy="602.6" rx="3.4" ry="3.2" fill="#fff" fill-opacity="0.43" filter="url(#b1_0)"/>
<ellipse cx="232.7" cy="612.4" rx="3.4" ry="3.2" fill="#fff" fill-opacity="0.57" filter="url(#b1_0)"/>
<path d="M 224.00 589.40 C 224.66 590.60 226.49 594.29 227.94 596.60 C 229.39 598.92 231.23 600.99 232.69 603.30 C 234.14 605.62 235.45 608.04 236.68 610.48 C 237.91 612.92 239.05 615.42 240.09 617.94 C 241.14 620.47 242.48 624.36 242.96 625.64" stroke="#fff" stroke-opacity="0.38" stroke-width="0.57" fill="none" stroke-linecap="round" filter="url(#b0_4)"/>
<path d="M 224.00 589.40 C 224.66 590.60 226.49 594.29 227.94 596.60 C 229.39 598.92 231.23 600.99 232.69 603.30 C 234.14 605.62 236.01 609.28 236.68 610.48" stroke="#fff" stroke-opacity="0.43" stroke-width="1.00" fill="none" stroke-linecap="round" filter="url(#b0_4)"/>
<path d="M 224.00 589.40 C 224.66 590.60 226.49 594.29 227.94 596.60 C 229.39 598.92 231.89 602.19 232.69 603.30" stroke="#fff" stroke-opacity="0.48" stroke-width="1.44" fill="none" stroke-linecap="round" filter="url(#b0_4)"/>
<path d="M 224.00 589.40 C 223.88 590.84 223.68 595.16 223.30 598.01 C 222.91 600.87 222.32 603.70 221.70 606.51 C 221.08 609.32 220.43 612.14 219.57 614.88 C 218.71 617.63 217.41 620.23 216.52 622.97 C 215.62 625.70 214.60 629.91 214.22 631.30" stroke="#fff" stroke-opacity="0.37" stroke-width="0.65" fill="none" stroke-linecap="round" filter="url(#b0_4)"/>
<path d="M 224.00 589.40 C 223.88 590.84 223.68 595.16 223.30 598.01 C 222.91 600.87 222.32 603.70 221.70 606.51 C 221.08 609.32 219.92 613.49 219.57 614.88" stroke="#fff" stroke-opacity="0.42" stroke-width="1.13" fill="none" stroke-linecap="round" filter="url(#b0_4)"/>
<path d="M 224.00 589.40 C 223.88 590.84 223.68 595.16 223.30 598.01 C 222.91 600.87 221.96 605.09 221.70 606.51" stroke="#fff" stroke-opacity="0.47" stroke-width="1.62" fill="none" stroke-linecap="round" filter="url(#b0_4)"/>
<path d="M 224.00 589.40 C 222.82 590.43 219.37 593.63 216.91 595.56 C 214.45 597.48 211.77 599.12 209.23 600.95 C 206.69 602.78 204.21 604.69 201.67 606.52 C 199.13 608.35 196.62 610.24 193.98 611.91 C 191.34 613.58 187.18 615.77 185.82 616.54" stroke="#fff" stroke-opacity="0.38" stroke-width="0.66" fill="none" stroke-linecap="round" filter="url(#b0_4)"/>
<path d="M 224.00 589.40 C 222.82 590.43 219.37 593.63 216.91 595.56 C 214.45 597.48 211.77 599.12 209.23 600.95 C 206.69 602.78 202.93 605.59 201.67 606.52" stroke="#fff" stroke-opacity="0.42" stroke-width="1.15" fill="none" stroke-linecap="round" filter="url(#b0_4)"/>
<path d="M 224.00 589.40 C 222.82 590.43 219.37 593.63 216.91 595.56 C 214.45 597.48 210.51 600.05 209.23 600.95" stroke="#fff" stroke-opacity="0.47" stroke-width="1.64" fill="none" stroke-linecap="round" filter="url(#b0_4)"/>
<path d="M 209.23 600.95 C 208.36 601.15 205.76 601.72 204.03 602.12 C 202.31 602.53 200.61 603.07 198.86 603.39 C 197.12 603.71 194.46 603.92 193.58 604.03" stroke="#fff" stroke-opacity="0.32" stroke-width="0.36" fill="none" stroke-linecap="round" filter="url(#b0_4)"/>
<path d="M 209.23 600.95 C 208.36 601.15 205.76 601.72 204.03 602.12 C 202.31 602.53 199.73 603.18 198.86 603.39" stroke="#fff" stroke-opacity="0.36" stroke-width="0.63" fill="none" stroke-linecap="round" filter="url(#b0_4)"/>
<path d="M 209.23 600.95 C 208.36 601.15 204.90 601.93 204.03 602.12" stroke="#fff" stroke-opacity="0.40" stroke-width="0.90" fill="none" stroke-linecap="round" filter="url(#b0_4)"/>
<path d="M 224.00 589.40 C 222.64 589.59 218.57 590.20 215.84 590.55 C 213.12 590.91 210.38 591.12 207.66 591.53 C 204.95 591.94 202.27 592.64 199.56 593.00 C 196.84 593.35 194.08 593.44 191.35 593.68 C 188.61 593.92 184.51 594.32 183.14 594.45" stroke="#fff" stroke-opacity="0.36" stroke-width="0.76" fill="none" stroke-linecap="round" filter="url(#b0_4)"/>
<path d="M 224.00 589.40 C 222.64 589.59 218.57 590.20 215.84 590.55 C 213.12 590.91 210.38 591.12 207.66 591.53 C 204.95 591.94 200.91 592.75 199.56 593.00" stroke="#fff" stroke-opacity="0.41" stroke-width="1.33" fill="none" stroke-linecap="round" filter="url(#b0_4)"/>
<path d="M 224.00 589.40 C 222.64 589.59 218.57 590.20 215.84 590.55 C 213.12 590.91 209.03 591.37 207.66 591.53" stroke="#fff" stroke-opacity="0.46" stroke-width="1.90" fill="none" stroke-linecap="round" filter="url(#b0_4)"/>
<path d="M 224.00 589.40 C 222.87 588.83 219.48 587.10 217.22 585.96 C 214.95 584.83 212.60 583.84 210.40 582.59 C 208.19 581.35 206.11 579.89 203.99 578.49 C 201.88 577.09 199.84 575.58 197.72 574.18 C 195.61 572.79 192.37 570.79 191.30 570.11" stroke="#fff" stroke-opacity="0.38" stroke-width="0.59" fill="none" stroke-linecap="round" filter="url(#b0_4)"/>
<path d="M 224.00 589.40 C 222.87 588.83 219.48 587.10 217.22 585.96 C 214.95 584.83 212.60 583.84 210.40 582.59 C 208.19 581.35 205.06 579.17 203.99 578.49" stroke="#fff" stroke-opacity="0.43" stroke-width="1.04" fill="none" stroke-linecap="round" filter="url(#b0_4)"/>
<path d="M 224.00 589.40 C 222.87 588.83 219.48 587.10 217.22 585.96 C 214.95 584.83 211.53 583.16 210.40 582.59" stroke="#fff" stroke-opacity="0.48" stroke-width="1.48" fill="none" stroke-linecap="round" filter="url(#b0_4)"/>
<path d="M 224.00 589.40 C 223.48 588.00 221.89 583.81 220.88 581.00 C 219.88 578.18 219.09 575.29 217.97 572.52 C 216.86 569.75 215.31 567.15 214.20 564.39 C 213.08 561.62 212.39 558.68 211.27 555.92 C 210.15 553.15 208.11 549.15 207.48 547.79" stroke="#fff" stroke-opacity="0.33" stroke-width="0.62" fill="none" stroke-linecap="round" filter="url(#b0_4)"/>
<path d="M 224.00 589.40 C 223.48 588.00 221.89 583.81 220.88 581.00 C 219.88 578.18 219.09 575.29 217.97 572.52 C 216.86 569.75 214.83 565.74 214.20 564.39" stroke="#fff" stroke-opacity="0.37" stroke-width="1.08" fill="none" stroke-linecap="round" filter="url(#b0_4)"/>
<path d="M 224.00 589.40 C 223.48 588.00 221.89 583.81 220.88 581.00 C 219.88 578.18 218.46 573.93 217.97 572.52" stroke="#fff" stroke-opacity="0.41" stroke-width="1.55" fill="none" stroke-linecap="round" filter="url(#b0_4)"/>
<path d="M 214.20 564.39 C 214.07 563.51 213.59 560.88 213.42 559.12 C 213.25 557.36 213.36 555.56 213.17 553.80 C 212.98 552.04 212.44 549.42 212.30 548.55" stroke="#fff" stroke-opacity="0.32" stroke-width="0.34" fill="none" stroke-linecap="round" filter="url(#b0_4)"/>
<path d="M 214.20 564.39 C 214.07 563.51 213.59 560.88 213.42 559.12 C 213.25 557.36 213.21 554.69 213.17 553.80" stroke="#fff" stroke-opacity="0.36" stroke-width="0.60" fill="none" stroke-linecap="round" filter="url(#b0_4)"/>
<path d="M 214.20 564.39 C 214.07 563.51 213.55 560.00 213.42 559.12" stroke="#fff" stroke-opacity="0.40" stroke-width="0.85" fill="none" stroke-linecap="round" filter="url(#b0_4)"/>
<path d="M 224.00 589.40 C 224.58 588.17 226.27 584.46 227.46 582.03 C 228.66 579.59 229.91 577.18 231.18 574.78 C 232.45 572.38 233.74 569.99 235.08 567.63 C 236.42 565.27 237.92 563.00 239.21 560.61 C 240.49 558.22 242.17 554.51 242.77 553.29" stroke="#fff" stroke-opacity="0.33" stroke-width="0.50" fill="none" stroke-linecap="round" filter="url(#b0_4)"/>
<path d="M 224.00 589.40 C 224.58 588.17 226.27 584.46 227.46 582.03 C 228.66 579.59 229.91 577.18 231.18 574.78 C 232.45 572.38 234.43 568.82 235.08 567.63" stroke="#fff" stroke-opacity="0.37" stroke-width="0.88" fill="none" stroke-linecap="round" filter="url(#b0_4)"/>
<path d="M 224.00 589.40 C 224.58 588.17 226.27 584.46 227.46 582.03 C 228.66 579.59 230.56 575.99 231.18 574.78" stroke="#fff" stroke-opacity="0.41" stroke-width="1.26" fill="none" stroke-linecap="round" filter="url(#b0_4)"/>
<path d="M 231.18 574.78 C 231.16 573.89 231.05 571.23 231.10 569.46 C 231.15 567.68 231.35 565.91 231.50 564.15 C 231.65 562.38 231.93 559.73 232.01 558.85" stroke="#fff" stroke-opacity="0.32" stroke-width="0.28" fill="none" stroke-linecap="round" filter="url(#b0_4)"/>
<path d="M 231.18 574.78 C 231.16 573.89 231.05 571.23 231.10 569.46 C 231.15 567.68 231.43 565.03 231.50 564.15" stroke="#fff" stroke-opacity="0.36" stroke-width="0.48" fill="none" stroke-linecap="round" filter="url(#b0_4)"/>
<path d="M 231.18 574.78 C 231.16 573.89 231.11 570.34 231.10 569.46" stroke="#fff" stroke-opacity="0.40" stroke-width="0.69" fill="none" stroke-linecap="round" filter="url(#b0_4)"/>
<path d="M 224.00 589.40 C 225.14 588.32 228.67 585.19 230.83 582.92 C 232.99 580.65 235.01 578.23 236.96 575.77 C 238.90 573.31 240.54 570.60 242.49 568.15 C 244.45 565.70 246.70 563.48 248.69 561.06 C 250.69 558.64 253.50 554.86 254.47 553.62" stroke="#fff" stroke-opacity="0.35" stroke-width="0.52" fill="none" stroke-linecap="round" filter="url(#b0_4)"/>
<path d="M 224.00 589.40 C 225.14 588.32 228.67 585.19 230.83 582.92 C 232.99 580.65 235.01 578.23 236.96 575.77 C 238.90 573.31 241.57 569.42 242.49 568.15" stroke="#fff" stroke-opacity="0.40" stroke-width="0.92" fill="none" stroke-linecap="round" filter="url(#b0_4)"/>
<path d="M 224.00 589.40 C 225.14 588.32 228.67 585.19 230.83 582.92 C 232.99 580.65 235.94 576.96 236.96 575.77" stroke="#fff" stroke-opacity="0.44" stroke-width="1.31" fill="none" stroke-linecap="round" filter="url(#b0_4)"/>
<path d="M 224.00 589.40 C 225.40 589.38 229.61 589.47 232.40 589.27 C 235.19 589.06 237.94 588.42 240.73 588.18 C 243.52 587.95 246.35 588.13 249.13 587.86 C 251.91 587.59 254.65 586.84 257.43 586.57 C 260.21 586.29 264.43 586.26 265.82 586.20" stroke="#fff" stroke-opacity="0.33" stroke-width="0.57" fill="none" stroke-linecap="round" filter="url(#b0_4)"/>
<path d="M 224.00 589.40 C 225.40 589.38 229.61 589.47 232.40 589.27 C 235.19 589.06 237.94 588.42 240.73 588.18 C 243.52 587.95 247.73 587.91 249.13 587.86" stroke="#fff" stroke-opacity="0.37" stroke-width="1.01" fill="none" stroke-linecap="round" filter="url(#b0_4)"/>
<path d="M 224.00 589.40 C 225.40 589.38 229.61 589.47 232.40 589.27 C 235.19 589.06 239.34 588.36 240.73 588.18" stroke="#fff" stroke-opacity="0.42" stroke-width="1.44" fill="none" stroke-linecap="round" filter="url(#b0_4)"/>
<path d="M 240.73 588.18 C 241.49 587.72 243.69 586.19 245.27 585.39 C 246.84 584.59 248.55 584.04 250.20 583.38 C 251.85 582.72 254.33 581.75 255.15 581.43" stroke="#fff" stroke-opacity="0.32" stroke-width="0.32" fill="none" stroke-linecap="round" filter="url(#b0_4)"/>
<path d="M 240.73 588.18 C 241.49 587.72 243.69 586.19 245.27 585.39 C 246.84 584.59 249.38 583.71 250.20 583.38" stroke="#fff" stroke-opacity="0.36" stroke-width="0.55" fill="none" stroke-linecap="round" filter="url(#b0_4)"/>
<path d="M 240.73 588.18 C 241.49 587.72 244.51 585.86 245.27 585.39" stroke="#fff" stroke-opacity="0.40" stroke-width="0.79" fill="none" stroke-linecap="round" filter="url(#b0_4)"/>
<path d="M 224.00 589.40 C 225.14 590.42 228.61 593.42 230.84 595.50 C 233.08 597.58 235.27 599.71 237.41 601.90 C 239.55 604.08 241.54 606.40 243.67 608.60 C 245.80 610.79 247.93 612.98 250.18 615.04 C 252.44 617.10 256.02 619.97 257.19 620.96" stroke="#fff" stroke-opacity="0.36" stroke-width="0.61" fill="none" stroke-linecap="round" filter="url(#b0_4)"/>
<path d="M 224.00 589.40 C 225.14 590.42 228.61 593.42 230.84 595.50 C 233.08 597.58 235.27 599.71 237.41 601.90 C 239.55 604.08 242.62 607.48 243.67 608.60" stroke="#fff" stroke-opacity="0.41" stroke-width="1.07" fill="none" stroke-linecap="round" filter="url(#b0_4)"/>
<path d="M 224.00 589.40 C 225.14 590.42 228.61 593.42 230.84 595.50 C 233.08 597.58 236.32 600.83 237.41 601.90" stroke="#fff" stroke-opacity="0.45" stroke-width="1.53" fill="none" stroke-linecap="round" filter="url(#b0_4)"/>
<path d="M 243.67 608.60 C 244.09 609.38 245.49 611.66 246.20 613.28 C 246.92 614.90 247.41 616.62 247.97 618.30 C 248.52 619.99 249.27 622.54 249.53 623.39" stroke="#fff" stroke-opacity="0.32" stroke-width="0.34" fill="none" stroke-linecap="round" filter="url(#b0_4)"/>
<path d="M 243.67 608.60 C 244.09 609.38 245.49 611.66 246.20 613.28 C 246.92 614.90 247.67 617.46 247.97 618.30" stroke="#fff" stroke-opacity="0.36" stroke-width="0.59" fill="none" stroke-linecap="round" filter="url(#b0_4)"/>
<path d="M 243.67 608.60 C 244.09 609.38 245.78 612.50 246.20 613.28" stroke="#fff" stroke-opacity="0.40" stroke-width="0.84" fill="none" stroke-linecap="round" filter="url(#b0_4)"/>
<circle cx="224.0" cy="589.4" r="11.0" fill="#fff" fill-opacity="0.35" filter="url(#b3_0)"/>
<circle cx="224.0" cy="589.4" r="5" fill="#fff" filter="url(#b1_5)"/>
<circle cx="224.0" cy="589.4" r="1.2" fill="#000" fill-opacity="0.6"/>
</g>
<rect x="231.60" y="563.10" width="26.10" height="25.70" fill="none" stroke="#eee" stroke-width="0.8" stroke-dasharray="2.2 1.4"/>
<line x1="232.10" y1="617.90" x2="252.90" y2="617.90" stroke="#fff" stroke-width="1.6"/>
</g>
<g clip-path="url(#c11)">
<rect x="261.10" y="554.00" width="70.90" height="71.00" fill="#050505" stroke="none" stroke-width="1"/>
<g clip-path="url(#c12)">
<circle cx="296.60" cy="589.50" r="36.50" fill="url(#fgc11)"/>
<rect x="261.10" y="554.00" width="71.00" height="71.00" fill="#000" stroke="none" stroke-width="1" filter="url(#motd)" opacity="0.5"/>
<path d="M 305.33 606.67 C 305.79 605.95 306.89 603.47 308.11 602.34 C 309.33 601.22 311.46 601.07 312.64 599.91 C 313.82 598.76 314.74 596.18 315.17 595.44" stroke="#fff" stroke-opacity="0.14" stroke-width="0.6" fill="none"/>
<path d="M 294.16 620.98 C 293.42 620.60 291.20 619.43 289.70 618.70 C 288.20 617.97 286.75 617.06 285.17 616.60 C 283.58 616.14 281.03 616.05 280.21 615.95" stroke="#fff" stroke-opacity="0.14" stroke-width="0.6" fill="none"/>
<path d="M 299.71 594.75 C 300.15 594.67 301.51 594.20 302.38 594.26 C 303.26 594.32 304.17 594.69 304.97 595.11 C 305.77 595.52 306.80 596.45 307.16 596.72" stroke="#fff" stroke-opacity="0.14" stroke-width="0.6" fill="none"/>
<path d="M 272.43 610.60 C 273.05 610.88 274.85 612.11 276.13 612.27 C 277.41 612.43 278.81 611.50 280.13 611.56 C 281.45 611.63 283.39 612.47 284.04 612.65" stroke="#fff" stroke-opacity="0.14" stroke-width="0.6" fill="none"/>
<path d="M 275.97 569.30 C 276.74 569.01 278.99 567.69 280.56 567.56 C 282.13 567.42 283.78 568.14 285.38 568.48 C 286.98 568.83 289.35 569.45 290.15 569.64" stroke="#fff" stroke-opacity="0.14" stroke-width="0.6" fill="none"/>
<path d="M 309.23 568.54 C 309.93 568.67 312.18 568.77 313.45 569.35 C 314.72 569.92 315.63 571.26 316.85 571.99 C 318.07 572.72 320.12 573.45 320.77 573.74" stroke="#fff" stroke-opacity="0.14" stroke-width="0.6" fill="none"/>
<path d="M 286.74 565.78 C 287.03 566.01 287.93 566.68 288.47 567.17 C 289.02 567.67 289.40 568.42 290.02 568.76 C 290.63 569.10 291.82 569.14 292.19 569.21" stroke="#fff" stroke-opacity="0.14" stroke-width="0.6" fill="none"/>
<path d="M 309.23 577.99 C 308.96 578.73 307.97 580.91 307.60 582.43 C 307.22 583.95 307.16 585.55 306.97 587.11 C 306.78 588.68 306.54 591.03 306.45 591.81" stroke="#fff" stroke-opacity="0.14" stroke-width="0.6" fill="none"/>
<path d="M 311.13 558.05 C 311.47 558.10 312.55 558.11 313.19 558.34 C 313.82 558.58 314.31 559.27 314.95 559.44 C 315.59 559.62 316.68 559.40 317.02 559.40" stroke="#fff" stroke-opacity="0.14" stroke-width="0.6" fill="none"/>
<path d="M 317.03 580.00 C 316.69 580.02 315.65 579.94 315.00 580.10 C 314.36 580.26 313.80 580.85 313.16 580.95 C 312.52 581.06 311.48 580.76 311.14 580.73" stroke="#fff" stroke-opacity="0.14" stroke-width="0.6" fill="none"/>
<path d="M 275.05 607.66 C 275.75 607.15 277.92 605.75 279.21 604.63 C 280.50 603.51 281.57 602.15 282.78 600.94 C 283.99 599.72 285.85 597.94 286.46 597.35" stroke="#fff" stroke-opacity="0.14" stroke-width="0.6" fill="none"/>
<path d="M 316.17 561.67 C 316.49 560.96 317.86 558.90 318.07 557.42 C 318.29 555.94 317.25 554.29 317.45 552.81 C 317.65 551.32 318.96 549.23 319.26 548.52" stroke="#fff" stroke-opacity="0.14" stroke-width="0.6" fill="none"/>
<path d="M 267.57 578.19 C 266.84 577.79 264.33 576.87 263.14 575.75 C 261.96 574.62 261.32 572.91 260.47 571.45 C 259.61 570.00 258.43 567.76 258.03 567.02" stroke="#fff" stroke-opacity="0.14" stroke-width="0.6" fill="none"/>
<path d="M 283.28 576.49 C 283.57 576.73 284.50 577.40 285.02 577.94 C 285.54 578.48 286.14 579.06 286.39 579.74 C 286.64 580.41 286.49 581.62 286.51 582.00" stroke="#fff" stroke-opacity="0.14" stroke-width="0.6" fill="none"/>
<path d="M 272.57 557.45 C 273.19 557.32 275.11 557.14 276.27 556.71 C 277.44 556.28 278.44 555.41 279.57 554.86 C 280.70 554.31 282.47 553.64 283.05 553.39" stroke="#fff" stroke-opacity="0.14" stroke-width="0.6" fill="none"/>
<path d="M 319.77 586.35 C 319.40 586.35 318.26 586.15 317.58 586.34 C 316.91 586.52 316.34 587.10 315.72 587.48 C 315.10 587.87 314.18 588.45 313.87 588.65" stroke="#fff" stroke-opacity="0.14" stroke-width="0.6" fill="none"/>
<path d="M 320.63 563.27 C 320.66 562.41 320.48 559.77 320.84 558.11 C 321.20 556.45 322.54 554.98 322.79 553.32 C 323.04 551.67 322.42 549.04 322.35 548.18" stroke="#fff" stroke-opacity="0.14" stroke-width="0.6" fill="none"/>
<path d="M 291.95 564.60 C 292.21 564.17 292.78 562.67 293.48 562.04 C 294.19 561.40 295.24 561.00 296.19 560.79 C 297.14 560.57 298.68 560.76 299.17 560.76" stroke="#fff" stroke-opacity="0.14" stroke-width="0.6" fill="none"/>
<path d="M 330.40 586.20 C 329.66 586.27 327.42 586.31 325.99 586.64 C 324.56 586.97 323.18 587.58 321.82 588.16 C 320.47 588.75 318.52 589.82 317.86 590.15" stroke="#fff" stroke-opacity="0.14" stroke-width="0.6" fill="none"/>
<path d="M 271.50 580.77 C 272.37 580.84 274.96 581.04 276.68 581.18 C 278.41 581.32 280.14 581.62 281.87 581.59 C 283.59 581.56 286.17 581.09 287.03 580.99" stroke="#fff" stroke-opacity="0.14" stroke-width="0.6" fill="none"/>
<path d="M 267.43 573.33 C 267.46 572.52 267.27 570.02 267.60 568.45 C 267.93 566.87 268.57 565.28 269.40 563.90 C 270.23 562.52 272.05 560.80 272.58 560.18" stroke="#fff" stroke-opacity="0.14" stroke-width="0.6" fill="none"/>
<path d="M 310.42 601.15 C 310.58 600.63 311.20 599.13 311.38 598.08 C 311.57 597.04 311.48 595.94 311.52 594.87 C 311.56 593.80 311.59 592.20 311.60 591.66" stroke="#fff" stroke-opacity="0.14" stroke-width="0.6" fill="none"/>
<path d="M 315.75 603.05 C 315.37 603.82 314.31 606.18 313.49 607.68 C 312.66 609.18 311.21 610.48 310.79 612.07 C 310.37 613.66 310.93 616.36 310.96 617.22" stroke="#fff" stroke-opacity="0.14" stroke-width="0.6" fill="none"/>
<path d="M 299.94 571.80 C 299.87 571.21 299.57 569.45 299.54 568.28 C 299.51 567.10 299.49 565.87 299.77 564.74 C 300.05 563.61 300.98 562.05 301.22 561.51" stroke="#fff" stroke-opacity="0.14" stroke-width="0.6" fill="none"/>
<path d="M 285.80 599.73 C 285.60 598.96 284.67 596.67 284.59 595.12 C 284.51 593.57 284.76 591.86 285.33 590.42 C 285.90 588.98 287.56 587.14 288.01 586.49" stroke="#fff" stroke-opacity="0.14" stroke-width="0.6" fill="none"/>
<path d="M 309.97 623.30 C 310.58 623.16 312.49 622.94 313.59 622.43 C 314.70 621.91 315.48 620.72 316.59 620.20 C 317.69 619.69 319.61 619.48 320.21 619.34" stroke="#fff" stroke-opacity="0.14" stroke-width="0.6" fill="none"/>
<path d="M 327.65 587.88 C 327.59 587.15 327.66 584.88 327.25 583.50 C 326.84 582.12 325.65 580.99 325.20 579.61 C 324.75 578.24 324.66 575.99 324.55 575.26" stroke="#fff" stroke-opacity="0.14" stroke-width="0.6" fill="none"/>
<path d="M 302.34 601.25 C 301.67 601.37 299.67 601.82 298.32 601.94 C 296.97 602.05 295.58 602.12 294.24 601.95 C 292.90 601.78 290.95 601.08 290.30 600.90" stroke="#fff" stroke-opacity="0.14" stroke-width="0.6" fill="none"/>
<path d="M 263.06 565.36 C 262.53 565.81 261.04 567.30 259.89 568.07 C 258.75 568.84 257.48 569.46 256.21 570.01 C 254.93 570.56 252.92 571.13 252.26 571.35" stroke="#fff" stroke-opacity="0.14" stroke-width="0.6" fill="none"/>
<path d="M 264.07 587.48 C 264.27 587.78 264.82 588.74 265.28 589.30 C 265.75 589.85 266.26 590.42 266.86 590.80 C 267.46 591.19 268.55 591.48 268.88 591.61" stroke="#fff" stroke-opacity="0.14" stroke-width="0.6" fill="none"/>
<path d="M 274.83 556.53 C 274.29 556.58 272.66 556.77 271.57 556.80 C 270.49 556.84 269.37 556.58 268.31 556.72 C 267.24 556.87 265.70 557.50 265.17 557.66" stroke="#fff" stroke-opacity="0.14" stroke-width="0.6" fill="none"/>
<path d="M 325.23 554.05 C 324.85 554.36 323.56 555.18 322.99 555.94 C 322.43 556.70 322.38 557.84 321.83 558.63 C 321.29 559.42 320.08 560.32 319.72 560.66" stroke="#fff" stroke-opacity="0.14" stroke-width="0.6" fill="none"/>
<path d="M 287.65 556.56 C 287.37 556.29 286.58 555.43 285.98 554.95 C 285.38 554.47 284.66 554.14 284.04 553.69 C 283.41 553.24 282.53 552.49 282.22 552.25" stroke="#fff" stroke-opacity="0.14" stroke-width="0.6" fill="none"/>
<path d="M 329.14 612.12 C 328.40 612.38 326.13 613.04 324.70 613.67 C 323.26 614.31 321.71 614.91 320.55 615.91 C 319.38 616.91 318.18 619.04 317.71 619.67" stroke="#fff" stroke-opacity="0.14" stroke-width="0.6" fill="none"/>
<path d="M 303.41 594.03 C 304.27 593.91 306.90 593.70 308.59 593.31 C 310.28 592.92 311.87 591.82 313.55 591.68 C 315.24 591.55 317.86 592.35 318.72 592.49" stroke="#fff" stroke-opacity="0.14" stroke-width="0.6" fill="none"/>
<path d="M 261.17 561.66 C 260.49 561.67 258.46 561.81 257.12 561.73 C 255.77 561.65 254.33 561.66 253.11 561.18 C 251.88 560.70 250.33 559.25 249.78 558.87" stroke="#fff" stroke-opacity="0.14" stroke-width="0.6" fill="none"/>
<path d="M 287.79 584.65 C 287.58 585.10 286.91 586.44 286.58 587.37 C 286.24 588.29 286.27 589.41 285.77 590.23 C 285.28 591.04 283.95 591.90 283.59 592.24" stroke="#fff" stroke-opacity="0.14" stroke-width="0.6" fill="none"/>
<path d="M 325.98 596.30 C 325.93 597.18 325.69 599.81 325.67 601.56 C 325.66 603.32 325.64 605.10 325.91 606.83 C 326.17 608.55 327.04 611.07 327.27 611.92" stroke="#fff" stroke-opacity="0.14" stroke-width="0.6" fill="none"/>
<path d="M 330.98 588.91 C 331.12 589.50 331.60 591.23 331.78 592.41 C 331.97 593.59 331.93 594.80 332.07 595.99 C 332.20 597.18 332.51 598.95 332.59 599.54" stroke="#fff" stroke-opacity="0.14" stroke-width="0.6" fill="none"/>
<path d="M 281.91 609.50 C 282.08 609.21 282.67 608.35 282.93 607.73 C 283.18 607.10 283.11 606.32 283.43 605.75 C 283.76 605.17 284.62 604.53 284.86 604.28" stroke="#fff" stroke-opacity="0.14" stroke-width="0.6" fill="none"/>
<path d="M 316.62 571.44 C 316.35 571.76 315.45 572.67 315.00 573.37 C 314.55 574.07 314.32 574.91 313.91 575.64 C 313.49 576.36 312.76 577.39 312.53 577.74" stroke="#fff" stroke-opacity="0.14" stroke-width="0.6" fill="none"/>
<path d="M 294.80 599.79 C 294.07 599.64 291.79 599.43 290.40 598.92 C 289.02 598.41 287.86 597.31 286.49 596.75 C 285.12 596.19 282.89 595.76 282.17 595.56" stroke="#fff" stroke-opacity="0.14" stroke-width="0.6" fill="none"/>
<path d="M 298.98 577.86 C 298.82 578.47 298.25 580.28 298.04 581.51 C 297.83 582.75 298.01 584.06 297.72 585.27 C 297.44 586.47 296.56 588.18 296.33 588.76" stroke="#fff" stroke-opacity="0.14" stroke-width="0.6" fill="none"/>
<path d="M 303.05 556.59 C 302.76 557.10 302.09 558.81 301.31 559.65 C 300.54 560.49 299.38 560.98 298.39 561.61 C 297.40 562.23 295.87 563.10 295.36 563.40" stroke="#fff" stroke-opacity="0.14" stroke-width="0.6" fill="none"/>
<path d="M 262.13 609.27 C 261.49 609.40 259.59 609.90 258.30 610.06 C 257.00 610.22 255.69 610.16 254.38 610.24 C 253.08 610.31 251.12 610.46 250.47 610.50" stroke="#fff" stroke-opacity="0.14" stroke-width="0.6" fill="none"/>
<path d="M 325.83 581.37 C 325.43 582.07 324.03 584.08 323.40 585.55 C 322.77 587.02 322.78 588.80 322.05 590.20 C 321.31 591.60 319.51 593.34 319.01 593.97" stroke="#fff" stroke-opacity="0.14" stroke-width="0.6" fill="none"/>
<path d="M 265.79 613.38 C 265.46 612.90 264.31 611.57 263.83 610.54 C 263.36 609.52 262.95 608.34 262.92 607.22 C 262.90 606.11 263.56 604.43 263.69 603.87" stroke="#fff" stroke-opacity="0.14" stroke-width="0.6" fill="none"/>
<path d="M 271.23 587.97 C 270.62 587.90 268.78 587.46 267.59 587.58 C 266.40 587.70 265.29 588.39 264.11 588.70 C 262.93 589.01 261.12 589.33 260.53 589.45" stroke="#fff" stroke-opacity="0.14" stroke-width="0.6" fill="none"/>
<path d="M 318.74 558.86 C 318.56 559.63 318.18 561.98 317.69 563.47 C 317.19 564.96 315.96 566.29 315.75 567.79 C 315.55 569.29 316.34 571.69 316.45 572.47" stroke="#fff" stroke-opacity="0.14" stroke-width="0.6" fill="none"/>
<path d="M 312.40 623.49 C 313.02 623.11 314.77 621.69 316.10 621.21 C 317.43 620.73 319.03 621.04 320.39 620.60 C 321.75 620.17 323.60 618.94 324.24 618.61" stroke="#fff" stroke-opacity="0.14" stroke-width="0.6" fill="none"/>
<path d="M 306.95 621.61 C 306.76 621.25 305.99 620.21 305.81 619.44 C 305.62 618.67 306.00 617.78 305.85 616.99 C 305.69 616.21 305.04 615.12 304.88 614.74" stroke="#fff" stroke-opacity="0.14" stroke-width="0.6" fill="none"/>
<path d="M 304.45 583.39 C 305.06 583.69 306.81 584.92 308.10 585.22 C 309.38 585.52 310.82 585.30 312.17 585.20 C 313.52 585.09 315.53 584.69 316.20 584.59" stroke="#fff" stroke-opacity="0.14" stroke-width="0.6" fill="none"/>
<path d="M 266.21 558.09 C 265.76 557.49 264.63 555.45 263.53 554.51 C 262.42 553.56 260.92 553.05 259.57 552.41 C 258.23 551.76 256.15 550.94 255.46 550.64" stroke="#fff" stroke-opacity="0.14" stroke-width="0.6" fill="none"/>
<path d="M 283.43 596.62 C 282.60 596.80 279.89 596.95 278.43 597.72 C 276.97 598.48 276.04 600.21 274.67 601.21 C 273.30 602.21 270.95 603.31 270.20 603.73" stroke="#fff" stroke-opacity="0.14" stroke-width="0.6" fill="none"/>
<path d="M 271.83 598.83 C 270.99 598.74 268.47 598.60 266.82 598.31 C 265.17 598.02 263.59 597.25 261.94 597.08 C 260.29 596.90 257.75 597.23 256.91 597.26" stroke="#fff" stroke-opacity="0.14" stroke-width="0.6" fill="none"/>
<path d="M 300.27 572.05 C 300.01 571.48 299.38 569.69 298.70 568.67 C 298.01 567.66 297.06 566.79 296.15 565.96 C 295.23 565.13 293.70 564.05 293.21 563.67" stroke="#fff" stroke-opacity="0.14" stroke-width="0.6" fill="none"/>
<path d="M 313.41 566.73 C 312.95 566.21 311.44 564.73 310.62 563.61 C 309.81 562.49 309.47 560.96 308.52 559.99 C 307.58 559.02 305.56 558.16 304.96 557.79" stroke="#fff" stroke-opacity="0.14" stroke-width="0.6" fill="none"/>
<path d="M 269.96 596.17 C 270.04 596.99 270.10 599.47 270.43 601.07 C 270.75 602.67 271.71 604.16 271.92 605.77 C 272.13 607.37 271.72 609.86 271.68 610.68" stroke="#fff" stroke-opacity="0.14" stroke-width="0.6" fill="none"/>
<path d="M 263.19 605.48 C 263.46 605.80 264.33 606.71 264.79 607.40 C 265.24 608.10 265.44 608.97 265.93 609.63 C 266.42 610.29 267.43 611.07 267.74 611.36" stroke="#fff" stroke-opacity="0.14" stroke-width="0.6" fill="none"/>
<path d="M 269.34 623.06 C 268.69 622.61 266.67 621.36 265.45 620.37 C 264.22 619.38 263.23 618.10 262.00 617.13 C 260.76 616.15 258.70 614.96 258.03 614.53" stroke="#fff" stroke-opacity="0.14" stroke-width="0.6" fill="none"/>
<ellipse cx="317.5" cy="577.4" rx="7.2" ry="6.8" fill="#fff" fill-opacity="0.30" filter="url(#b2_5)"/>
<ellipse cx="319.7" cy="602.0" rx="12.0" ry="11.2" fill="#fff" fill-opacity="0.30" filter="url(#b2_5)"/>
<ellipse cx="289.0" cy="614.6" rx="12.0" ry="11.2" fill="#fff" fill-opacity="0.30" filter="url(#b2_5)"/>
<g filter="url(#lesf)">
<ellipse cx="317.5" cy="577.4" rx="5.0" ry="4.5" fill="#fff" fill-opacity="1.00"/>
<ellipse cx="319.7" cy="602.0" rx="8.2" ry="7.5" fill="#fff" fill-opacity="1.00"/>
<ellipse cx="289.0" cy="614.6" rx="8.2" ry="7.5" fill="#fff" fill-opacity="1.00"/>
</g>
<ellipse cx="317.5" cy="577.4" rx="3.8" ry="3.6" fill="#fff" fill-opacity="0.95" filter="url(#b1_0)"/>
<ellipse cx="319.7" cy="602.0" rx="6.4" ry="6.0" fill="#fff" fill-opacity="0.95" filter="url(#b1_0)"/>
<ellipse cx="289.0" cy="614.6" rx="6.4" ry="6.0" fill="#fff" fill-opacity="0.95" filter="url(#b1_0)"/>
<path d="M 297.80 592.70 C 297.97 593.63 298.40 596.43 298.80 598.27 C 299.19 600.11 299.79 601.91 300.19 603.75 C 300.60 605.59 300.91 607.45 301.23 609.31 C 301.54 611.17 301.86 613.03 302.09 614.90 C 302.32 616.77 302.53 619.59 302.62 620.53" stroke="#fff" stroke-opacity="0.67" stroke-width="1.07" fill="none" stroke-linecap="round" filter="url(#b0_4)"/>
<path d="M 297.80 592.70 C 297.97 593.63 298.40 596.43 298.80 598.27 C 299.19 600.11 299.79 601.91 300.19 603.75 C 300.60 605.59 301.05 608.38 301.23 609.31" stroke="#fff" stroke-opacity="0.76" stroke-width="1.87" fill="none" stroke-linecap="round" filter="url(#b0_4)"/>
<path d="M 297.80 592.70 C 297.97 593.63 298.40 596.43 298.80 598.27 C 299.19 600.11 299.96 602.83 300.19 603.75" stroke="#fff" stroke-opacity="0.84" stroke-width="2.67" fill="none" stroke-linecap="round" filter="url(#b0_4)"/>
<path d="M 300.19 603.75 C 300.57 604.21 301.61 605.65 302.43 606.51 C 303.24 607.36 304.13 608.17 305.08 608.87 C 306.03 609.57 307.61 610.40 308.12 610.70" stroke="#fff" stroke-opacity="0.61" stroke-width="0.59" fill="none" stroke-linecap="round" filter="url(#b0_4)"/>
<path d="M 300.19 603.75 C 300.57 604.21 301.61 605.65 302.43 606.51 C 303.24 607.36 304.64 608.48 305.08 608.87" stroke="#fff" stroke-opacity="0.68" stroke-width="1.03" fill="none" stroke-linecap="round" filter="url(#b0_4)"/>
<path d="M 300.19 603.75 C 300.57 604.21 302.06 606.05 302.43 606.51" stroke="#fff" stroke-opacity="0.76" stroke-width="1.47" fill="none" stroke-linecap="round" filter="url(#b0_4)"/>
<path d="M 297.80 592.70 C 297.57 593.75 296.94 596.93 296.43 599.02 C 295.91 601.12 295.19 603.16 294.73 605.27 C 294.26 607.37 294.01 609.52 293.66 611.65 C 293.31 613.78 293.05 615.93 292.63 618.04 C 292.20 620.15 291.35 623.28 291.10 624.33" stroke="#fff" stroke-opacity="0.70" stroke-width="0.80" fill="none" stroke-linecap="round" filter="url(#b0_4)"/>
<path d="M 297.80 592.70 C 297.57 593.75 296.94 596.93 296.43 599.02 C 295.91 601.12 295.19 603.16 294.73 605.27 C 294.26 607.37 293.84 610.59 293.66 611.65" stroke="#fff" stroke-opacity="0.79" stroke-width="1.40" fill="none" stroke-linecap="round" filter="url(#b0_4)"/>
<path d="M 297.80 592.70 C 297.57 593.75 296.94 596.93 296.43 599.02 C 295.91 601.12 295.01 604.23 294.73 605.27" stroke="#fff" stroke-opacity="0.88" stroke-width="2.00" fill="none" stroke-linecap="round" filter="url(#b0_4)"/>
<path d="M 293.66 611.65 C 293.42 612.19 292.65 613.80 292.26 614.91 C 291.87 616.03 291.60 617.19 291.32 618.34 C 291.04 619.49 290.68 621.23 290.55 621.80" stroke="#fff" stroke-opacity="0.61" stroke-width="0.44" fill="none" stroke-linecap="round" filter="url(#b0_4)"/>
<path d="M 293.66 611.65 C 293.42 612.19 292.65 613.80 292.26 614.91 C 291.87 616.03 291.48 617.77 291.32 618.34" stroke="#fff" stroke-opacity="0.68" stroke-width="0.77" fill="none" stroke-linecap="round" filter="url(#b0_4)"/>
<path d="M 293.66 611.65 C 293.42 612.19 292.49 614.37 292.26 614.91" stroke="#fff" stroke-opacity="0.76" stroke-width="1.10" fill="none" stroke-linecap="round" filter="url(#b0_4)"/>
<path d="M 297.80 592.70 C 297.26 593.41 295.60 595.51 294.54 596.96 C 293.49 598.40 292.45 599.85 291.48 601.35 C 290.51 602.85 289.60 604.40 288.72 605.95 C 287.83 607.50 286.97 609.06 286.16 610.65 C 285.34 612.24 284.23 614.68 283.85 615.49" stroke="#fff" stroke-opacity="0.68" stroke-width="1.19" fill="none" stroke-linecap="round" filter="url(#b0_4)"/>
<path d="M 297.80 592.70 C 297.26 593.41 295.60 595.51 294.54 596.96 C 293.49 598.40 292.45 599.85 291.48 601.35 C 290.51 602.85 289.18 605.18 288.72 605.95" stroke="#fff" stroke-opacity="0.77" stroke-width="2.09" fill="none" stroke-linecap="round" filter="url(#b0_4)"/>
<path d="M 297.80 592.70 C 297.26 593.41 295.60 595.51 294.54 596.96 C 293.49 598.40 291.99 600.62 291.48 601.35" stroke="#fff" stroke-opacity="0.85" stroke-width="2.98" fill="none" stroke-linecap="round" filter="url(#b0_4)"/>
<path d="M 288.72 605.95 C 288.15 606.10 286.44 606.59 285.29 606.85 C 284.13 607.12 282.96 607.29 281.80 607.52 C 280.64 607.75 278.90 608.11 278.32 608.23" stroke="#fff" stroke-opacity="0.61" stroke-width="0.66" fill="none" stroke-linecap="round" filter="url(#b0_4)"/>
<path d="M 288.72 605.95 C 288.15 606.10 286.44 606.59 285.29 606.85 C 284.13 607.12 282.38 607.41 281.80 607.52" stroke="#fff" stroke-opacity="0.68" stroke-width="1.15" fill="none" stroke-linecap="round" filter="url(#b0_4)"/>
<path d="M 288.72 605.95 C 288.15 606.10 285.86 606.70 285.29 606.85" stroke="#fff" stroke-opacity="0.76" stroke-width="1.64" fill="none" stroke-linecap="round" filter="url(#b0_4)"/>
<path d="M 297.80 592.70 C 296.82 592.99 293.89 593.90 291.92 594.45 C 289.95 595.00 287.97 595.53 285.98 596.00 C 283.99 596.47 281.96 596.78 279.97 597.27 C 277.99 597.77 276.02 598.33 274.07 598.95 C 272.12 599.57 269.24 600.64 268.27 600.97" stroke="#fff" stroke-opacity="0.61" stroke-width="0.84" fill="none" stroke-linecap="round" filter="url(#b0_4)"/>
<path d="M 297.80 592.70 C 296.82 592.99 293.89 593.90 291.92 594.45 C 289.95 595.00 287.97 595.53 285.98 596.00 C 283.99 596.47 280.97 597.06 279.97 597.27" stroke="#fff" stroke-opacity="0.69" stroke-width="1.46" fill="none" stroke-linecap="round" filter="url(#b0_4)"/>
<path d="M 297.80 592.70 C 296.82 592.99 293.89 593.90 291.92 594.45 C 289.95 595.00 286.97 595.74 285.98 596.00" stroke="#fff" stroke-opacity="0.76" stroke-width="2.09" fill="none" stroke-linecap="round" filter="url(#b0_4)"/>
<path d="M 285.98 596.00 C 285.42 595.79 283.75 595.20 282.66 594.74 C 281.57 594.28 280.54 593.68 279.44 593.25 C 278.34 592.82 276.62 592.35 276.06 592.17" stroke="#fff" stroke-opacity="0.61" stroke-width="0.46" fill="none" stroke-linecap="round" filter="url(#b0_4)"/>
<path d="M 285.98 596.00 C 285.42 595.79 283.75 595.20 282.66 594.74 C 281.57 594.28 279.98 593.50 279.44 593.25" stroke="#fff" stroke-opacity="0.68" stroke-width="0.80" fill="none" stroke-linecap="round" filter="url(#b0_4)"/>
<path d="M 285.98 596.00 C 285.42 595.79 283.21 594.95 282.66 594.74" stroke="#fff" stroke-opacity="0.76" stroke-width="1.15" fill="none" stroke-linecap="round" filter="url(#b0_4)"/>
<path d="M 297.80 592.70 C 296.70 592.75 293.39 592.96 291.18 593.00 C 288.97 593.04 286.76 592.89 284.55 592.94 C 282.34 592.99 280.13 593.12 277.93 593.31 C 275.73 593.49 273.52 593.71 271.34 594.06 C 269.17 594.41 265.94 595.18 264.85 595.41" stroke="#fff" stroke-opacity="0.70" stroke-width="0.81" fill="none" stroke-linecap="round" filter="url(#b0_4)"/>
<path d="M 297.80 592.70 C 296.70 592.75 293.39 592.96 291.18 593.00 C 288.97 593.04 286.76 592.89 284.55 592.94 C 282.34 592.99 279.03 593.25 277.93 593.31" stroke="#fff" stroke-opacity="0.79" stroke-width="1.42" fill="none" stroke-linecap="round" filter="url(#b0_4)"/>
<path d="M 297.80 592.70 C 296.70 592.75 293.39 592.96 291.18 593.00 C 288.97 593.04 285.65 592.95 284.55 592.94" stroke="#fff" stroke-opacity="0.88" stroke-width="2.03" fill="none" stroke-linecap="round" filter="url(#b0_4)"/>
<path d="M 277.93 593.31 C 277.40 593.58 275.84 594.42 274.77 594.93 C 273.70 595.43 272.56 595.78 271.50 596.31 C 270.45 596.84 268.96 597.81 268.45 598.12" stroke="#fff" stroke-opacity="0.61" stroke-width="0.45" fill="none" stroke-linecap="round" filter="url(#b0_4)"/>
<path d="M 277.93 593.31 C 277.40 593.58 275.84 594.42 274.77 594.93 C 273.70 595.43 272.05 596.08 271.50 596.31" stroke="#fff" stroke-opacity="0.68" stroke-width="0.78" fill="none" stroke-linecap="round" filter="url(#b0_4)"/>
<path d="M 277.93 593.31 C 277.40 593.58 275.30 594.66 274.77 594.93" stroke="#fff" stroke-opacity="0.76" stroke-width="1.12" fill="none" stroke-linecap="round" filter="url(#b0_4)"/>
<path d="M 297.80 592.70 C 296.77 592.41 293.67 591.63 291.65 590.97 C 289.62 590.30 287.64 589.50 285.67 588.70 C 283.69 587.90 281.77 586.97 279.79 586.18 C 277.82 585.39 275.77 584.76 273.80 583.97 C 271.82 583.17 268.92 581.83 267.94 581.40" stroke="#fff" stroke-opacity="0.62" stroke-width="1.17" fill="none" stroke-linecap="round" filter="url(#b0_4)"/>
<path d="M 297.80 592.70 C 296.77 592.41 293.67 591.63 291.65 590.97 C 289.62 590.30 287.64 589.50 285.67 588.70 C 283.69 587.90 280.77 586.60 279.79 586.18" stroke="#fff" stroke-opacity="0.70" stroke-width="2.05" fill="none" stroke-linecap="round" filter="url(#b0_4)"/>
<path d="M 297.80 592.70 C 296.77 592.41 293.67 591.63 291.65 590.97 C 289.62 590.30 286.66 589.08 285.67 588.70" stroke="#fff" stroke-opacity="0.78" stroke-width="2.93" fill="none" stroke-linecap="round" filter="url(#b0_4)"/>
<path d="M 285.67 588.70 C 285.08 588.73 283.29 588.71 282.12 588.88 C 280.96 589.04 279.83 589.50 278.67 589.69 C 277.50 589.89 275.72 589.98 275.13 590.04" stroke="#fff" stroke-opacity="0.61" stroke-width="0.64" fill="none" stroke-linecap="round" filter="url(#b0_4)"/>
<path d="M 285.67 588.70 C 285.08 588.73 283.29 588.71 282.12 588.88 C 280.96 589.04 279.24 589.56 278.67 589.69" stroke="#fff" stroke-opacity="0.68" stroke-width="1.13" fill="none" stroke-linecap="round" filter="url(#b0_4)"/>
<path d="M 285.67 588.70 C 285.08 588.73 282.71 588.85 282.12 588.88" stroke="#fff" stroke-opacity="0.76" stroke-width="1.61" fill="none" stroke-linecap="round" filter="url(#b0_4)"/>
<path d="M 297.80 592.70 C 297.15 591.85 295.24 589.24 293.89 587.57 C 292.53 585.90 291.04 584.35 289.67 582.69 C 288.29 581.04 286.96 579.35 285.64 577.65 C 284.33 575.96 283.11 574.18 281.76 572.50 C 280.42 570.83 278.27 568.42 277.57 567.60" stroke="#fff" stroke-opacity="0.64" stroke-width="1.08" fill="none" stroke-linecap="round" filter="url(#b0_4)"/>
<path d="M 297.80 592.70 C 297.15 591.85 295.24 589.24 293.89 587.57 C 292.53 585.90 291.04 584.35 289.67 582.69 C 288.29 581.04 286.31 578.49 285.64 577.65" stroke="#fff" stroke-opacity="0.72" stroke-width="1.89" fill="none" stroke-linecap="round" filter="url(#b0_4)"/>
<path d="M 297.80 592.70 C 297.15 591.85 295.24 589.24 293.89 587.57 C 292.53 585.90 290.37 583.51 289.67 582.69" stroke="#fff" stroke-opacity="0.80" stroke-width="2.70" fill="none" stroke-linecap="round" filter="url(#b0_4)"/>
<path d="M 289.67 582.69 C 289.17 582.38 287.65 581.45 286.66 580.80 C 285.67 580.15 284.66 579.53 283.74 578.79 C 282.81 578.06 281.56 576.79 281.12 576.39" stroke="#fff" stroke-opacity="0.61" stroke-width="0.59" fill="none" stroke-linecap="round" filter="url(#b0_4)"/>
<path d="M 289.67 582.69 C 289.17 582.38 287.65 581.45 286.66 580.80 C 285.67 580.15 284.22 579.13 283.74 578.79" stroke="#fff" stroke-opacity="0.68" stroke-width="1.04" fill="none" stroke-linecap="round" filter="url(#b0_4)"/>
<path d="M 289.67 582.69 C 289.17 582.38 287.16 581.12 286.66 580.80" stroke="#fff" stroke-opacity="0.76" stroke-width="1.48" fill="none" stroke-linecap="round" filter="url(#b0_4)"/>
<path d="M 297.80 592.70 C 297.41 591.79 296.21 589.07 295.44 587.25 C 294.66 585.42 293.93 583.58 293.15 581.76 C 292.37 579.94 291.51 578.15 290.73 576.33 C 289.94 574.51 289.16 572.69 288.44 570.84 C 287.72 569.00 286.75 566.19 286.41 565.26" stroke="#fff" stroke-opacity="0.75" stroke-width="0.79" fill="none" stroke-linecap="round" filter="url(#b0_4)"/>
<path d="M 297.80 592.70 C 297.41 591.79 296.21 589.07 295.44 587.25 C 294.66 585.42 293.93 583.58 293.15 581.76 C 292.37 579.94 291.13 577.24 290.73 576.33" stroke="#fff" stroke-opacity="0.84" stroke-width="1.38" fill="none" stroke-linecap="round" filter="url(#b0_4)"/>
<path d="M 297.80 592.70 C 297.41 591.79 296.21 589.07 295.44 587.25 C 294.66 585.42 293.53 582.67 293.15 581.76" stroke="#fff" stroke-opacity="0.93" stroke-width="1.97" fill="none" stroke-linecap="round" filter="url(#b0_4)"/>
<path d="M 290.73 576.33 C 290.23 576.01 288.75 575.03 287.76 574.38 C 286.77 573.74 285.74 573.15 284.78 572.45 C 283.83 571.76 282.49 570.58 282.04 570.20" stroke="#fff" stroke-opacity="0.61" stroke-width="0.43" fill="none" stroke-linecap="round" filter="url(#b0_4)"/>
<path d="M 290.73 576.33 C 290.23 576.01 288.75 575.03 287.76 574.38 C 286.77 573.74 285.28 572.77 284.78 572.45" stroke="#fff" stroke-opacity="0.68" stroke-width="0.76" fill="none" stroke-linecap="round" filter="url(#b0_4)"/>
<path d="M 290.73 576.33 C 290.23 576.01 288.26 574.71 287.76 574.38" stroke="#fff" stroke-opacity="0.76" stroke-width="1.08" fill="none" stroke-linecap="round" filter="url(#b0_4)"/>
<path d="M 297.80 592.70 C 297.83 591.81 297.94 589.15 298.00 587.37 C 298.06 585.60 298.08 583.82 298.17 582.05 C 298.26 580.27 298.37 578.50 298.55 576.73 C 298.73 574.96 298.93 573.19 299.25 571.45 C 299.56 569.70 300.23 567.12 300.43 566.25" stroke="#fff" stroke-opacity="0.71" stroke-width="0.97" fill="none" stroke-linecap="round" filter="url(#b0_4)"/>
<path d="M 297.80 592.70 C 297.83 591.81 297.94 589.15 298.00 587.37 C 298.06 585.60 298.08 583.82 298.17 582.05 C 298.26 580.27 298.49 577.62 298.55 576.73" stroke="#fff" stroke-opacity="0.80" stroke-width="1.69" fill="none" stroke-linecap="round" filter="url(#b0_4)"/>
<path d="M 297.80 592.70 C 297.83 591.81 297.94 589.15 298.00 587.37 C 298.06 585.60 298.14 582.93 298.17 582.05" stroke="#fff" stroke-opacity="0.89" stroke-width="2.42" fill="none" stroke-linecap="round" filter="url(#b0_4)"/>
<path d="M 298.55 576.73 C 298.32 576.19 297.67 574.53 297.16 573.46 C 296.65 572.40 296.08 571.36 295.50 570.33 C 294.92 569.30 293.98 567.79 293.68 567.28" stroke="#fff" stroke-opacity="0.61" stroke-width="0.53" fill="none" stroke-linecap="round" filter="url(#b0_4)"/>
<path d="M 298.55 576.73 C 298.32 576.19 297.67 574.53 297.16 573.46 C 296.65 572.40 295.77 570.85 295.50 570.33" stroke="#fff" stroke-opacity="0.68" stroke-width="0.93" fill="none" stroke-linecap="round" filter="url(#b0_4)"/>
<path d="M 298.55 576.73 C 298.32 576.19 297.39 574.01 297.16 573.46" stroke="#fff" stroke-opacity="0.76" stroke-width="1.33" fill="none" stroke-linecap="round" filter="url(#b0_4)"/>
<path d="M 297.80 592.70 C 298.20 591.86 299.38 589.32 300.19 587.63 C 300.99 585.95 301.75 584.23 302.63 582.59 C 303.51 580.94 304.50 579.35 305.47 577.76 C 306.44 576.16 307.42 574.57 308.45 573.01 C 309.48 571.46 311.14 569.19 311.68 568.43" stroke="#fff" stroke-opacity="0.70" stroke-width="0.98" fill="none" stroke-linecap="round" filter="url(#b0_4)"/>
<path d="M 297.80 592.70 C 298.20 591.86 299.38 589.32 300.19 587.63 C 300.99 585.95 301.75 584.23 302.63 582.59 C 303.51 580.94 304.99 578.56 305.47 577.76" stroke="#fff" stroke-opacity="0.78" stroke-width="1.71" fill="none" stroke-linecap="round" filter="url(#b0_4)"/>
<path d="M 297.80 592.70 C 298.20 591.86 299.38 589.32 300.19 587.63 C 300.99 585.95 302.22 583.43 302.63 582.59" stroke="#fff" stroke-opacity="0.87" stroke-width="2.44" fill="none" stroke-linecap="round" filter="url(#b0_4)"/>
<path d="M 302.63 582.59 C 302.53 582.01 302.14 580.27 302.00 579.09 C 301.86 577.92 301.90 576.73 301.81 575.55 C 301.72 574.37 301.51 572.61 301.45 572.02" stroke="#fff" stroke-opacity="0.61" stroke-width="0.54" fill="none" stroke-linecap="round" filter="url(#b0_4)"/>
<path d="M 302.63 582.59 C 302.53 582.01 302.14 580.27 302.00 579.09 C 301.86 577.92 301.84 576.14 301.81 575.55" stroke="#fff" stroke-opacity="0.68" stroke-width="0.94" fill="none" stroke-linecap="round" filter="url(#b0_4)"/>
<path d="M 302.63 582.59 C 302.53 582.01 302.11 579.68 302.00 579.09" stroke="#fff" stroke-opacity="0.76" stroke-width="1.34" fill="none" stroke-linecap="round" filter="url(#b0_4)"/>
<path d="M 297.80 592.70 C 298.43 592.06 300.28 590.11 301.56 588.84 C 302.83 587.58 304.18 586.39 305.45 585.12 C 306.72 583.85 307.99 582.58 309.18 581.24 C 310.36 579.89 311.39 578.41 312.55 577.04 C 313.72 575.67 315.55 573.70 316.15 573.03" stroke="#fff" stroke-opacity="0.69" stroke-width="0.81" fill="none" stroke-linecap="round" filter="url(#b0_4)"/>
<path d="M 297.80 592.70 C 298.43 592.06 300.28 590.11 301.56 588.84 C 302.83 587.58 304.18 586.39 305.45 585.12 C 306.72 583.85 308.56 581.88 309.18 581.24" stroke="#fff" stroke-opacity="0.78" stroke-width="1.42" fill="none" stroke-linecap="round" filter="url(#b0_4)"/>
<path d="M 297.80 592.70 C 298.43 592.06 300.28 590.11 301.56 588.84 C 302.83 587.58 304.80 585.74 305.45 585.12" stroke="#fff" stroke-opacity="0.87" stroke-width="2.03" fill="none" stroke-linecap="round" filter="url(#b0_4)"/>
<path d="M 305.45 585.12 C 305.62 584.55 306.18 582.87 306.46 581.72 C 306.74 580.57 306.80 579.36 307.13 578.23 C 307.46 577.10 308.21 575.47 308.42 574.92" stroke="#fff" stroke-opacity="0.61" stroke-width="0.45" fill="none" stroke-linecap="round" filter="url(#b0_4)"/>
<path d="M 305.45 585.12 C 305.62 584.55 306.18 582.87 306.46 581.72 C 306.74 580.57 307.02 578.81 307.13 578.23" stroke="#fff" stroke-opacity="0.68" stroke-width="0.78" fill="none" stroke-linecap="round" filter="url(#b0_4)"/>
<path d="M 305.45 585.12 C 305.62 584.55 306.29 582.28 306.46 581.72" stroke="#fff" stroke-opacity="0.76" stroke-width="1.11" fill="none" stroke-linecap="round" filter="url(#b0_4)"/>
<path d="M 297.80 592.70 C 298.60 592.33 301.03 591.24 302.63 590.47 C 304.23 589.70 305.83 588.95 307.39 588.10 C 308.95 587.26 310.44 586.30 311.99 585.42 C 313.53 584.55 315.12 583.76 316.64 582.85 C 318.16 581.94 320.37 580.45 321.11 579.97" stroke="#fff" stroke-opacity="0.76" stroke-width="1.03" fill="none" stroke-linecap="round" filter="url(#b0_4)"/>
<path d="M 297.80 592.70 C 298.60 592.33 301.03 591.24 302.63 590.47 C 304.23 589.70 305.83 588.95 307.39 588.10 C 308.95 587.26 311.22 585.87 311.99 585.42" stroke="#fff" stroke-opacity="0.85" stroke-width="1.80" fill="none" stroke-linecap="round" filter="url(#b0_4)"/>
<path d="M 297.80 592.70 C 298.60 592.33 301.03 591.24 302.63 590.47 C 304.23 589.70 306.60 588.50 307.39 588.10" stroke="#fff" stroke-opacity="0.95" stroke-width="2.57" fill="none" stroke-linecap="round" filter="url(#b0_4)"/>
<path d="M 307.39 588.10 C 307.88 587.77 309.30 586.69 310.30 586.07 C 311.31 585.46 312.44 585.03 313.43 584.40 C 314.43 583.76 315.80 582.62 316.27 582.27" stroke="#fff" stroke-opacity="0.61" stroke-width="0.56" fill="none" stroke-linecap="round" filter="url(#b0_4)"/>
<path d="M 307.39 588.10 C 307.88 587.77 309.30 586.69 310.30 586.07 C 311.31 585.46 312.91 584.68 313.43 584.40" stroke="#fff" stroke-opacity="0.68" stroke-width="0.99" fill="none" stroke-linecap="round" filter="url(#b0_4)"/>
<path d="M 307.39 588.10 C 307.88 587.77 309.82 586.41 310.30 586.07" stroke="#fff" stroke-opacity="0.76" stroke-width="1.41" fill="none" stroke-linecap="round" filter="url(#b0_4)"/>
<path d="M 297.80 592.70 C 298.76 592.84 301.64 593.26 303.57 593.52 C 305.49 593.78 307.43 593.97 309.34 594.27 C 311.26 594.57 313.18 594.89 315.07 595.33 C 316.96 595.76 318.82 596.36 320.69 596.88 C 322.56 597.41 325.36 598.21 326.29 598.47" stroke="#fff" stroke-opacity="0.76" stroke-width="1.21" fill="none" stroke-linecap="round" filter="url(#b0_4)"/>
<path d="M 297.80 592.70 C 298.76 592.84 301.64 593.26 303.57 593.52 C 305.49 593.78 307.43 593.97 309.34 594.27 C 311.26 594.57 314.12 595.15 315.07 595.33" stroke="#fff" stroke-opacity="0.85" stroke-width="2.11" fill="none" stroke-linecap="round" filter="url(#b0_4)"/>
<path d="M 297.80 592.70 C 298.76 592.84 301.64 593.26 303.57 593.52 C 305.49 593.78 308.38 594.14 309.34 594.27" stroke="#fff" stroke-opacity="0.94" stroke-width="3.02" fill="none" stroke-linecap="round" filter="url(#b0_4)"/>
<path d="M 309.34 594.27 C 309.89 594.05 311.59 593.48 312.64 592.95 C 313.69 592.41 314.59 591.59 315.65 591.06 C 316.70 590.53 318.40 589.99 318.96 589.78" stroke="#fff" stroke-opacity="0.61" stroke-width="0.66" fill="none" stroke-linecap="round" filter="url(#b0_4)"/>
<path d="M 309.34 594.27 C 309.89 594.05 311.59 593.48 312.64 592.95 C 313.69 592.41 315.14 591.37 315.65 591.06" stroke="#fff" stroke-opacity="0.68" stroke-width="1.16" fill="none" stroke-linecap="round" filter="url(#b0_4)"/>
<path d="M 309.34 594.27 C 309.89 594.05 312.09 593.17 312.64 592.95" stroke="#fff" stroke-opacity="0.76" stroke-width="1.66" fill="none" stroke-linecap="round" filter="url(#b0_4)"/>
<path d="M 297.80 592.70 C 298.63 593.21 301.12 594.75 302.80 595.75 C 304.48 596.74 306.15 597.75 307.87 598.69 C 309.58 599.62 311.33 600.49 313.09 601.33 C 314.85 602.17 316.63 602.99 318.43 603.74 C 320.23 604.49 322.99 605.48 323.90 605.83" stroke="#fff" stroke-opacity="0.69" stroke-width="1.05" fill="none" stroke-linecap="round" filter="url(#b0_4)"/>
<path d="M 297.80 592.70 C 298.63 593.21 301.12 594.75 302.80 595.75 C 304.48 596.74 306.15 597.75 307.87 598.69 C 309.58 599.62 312.22 600.89 313.09 601.33" stroke="#fff" stroke-opacity="0.78" stroke-width="1.84" fill="none" stroke-linecap="round" filter="url(#b0_4)"/>
<path d="M 297.80 592.70 C 298.63 593.21 301.12 594.75 302.80 595.75 C 304.48 596.74 307.02 598.20 307.87 598.69" stroke="#fff" stroke-opacity="0.87" stroke-width="2.63" fill="none" stroke-linecap="round" filter="url(#b0_4)"/>
<path d="M 307.87 598.69 C 308.30 599.09 309.67 600.24 310.45 601.13 C 311.22 602.01 311.89 603.01 312.51 604.02 C 313.13 605.02 313.88 606.63 314.16 607.16" stroke="#fff" stroke-opacity="0.61" stroke-width="0.58" fill="none" stroke-linecap="round" filter="url(#b0_4)"/>
<path d="M 307.87 598.69 C 308.30 599.09 309.67 600.24 310.45 601.13 C 311.22 602.01 312.16 603.53 312.51 604.02" stroke="#fff" stroke-opacity="0.68" stroke-width="1.01" fill="none" stroke-linecap="round" filter="url(#b0_4)"/>
<path d="M 307.87 598.69 C 308.30 599.09 310.02 600.72 310.45 601.13" stroke="#fff" stroke-opacity="0.76" stroke-width="1.44" fill="none" stroke-linecap="round" filter="url(#b0_4)"/>
<path d="M 297.80 592.70 C 298.22 593.56 299.55 596.10 300.34 597.84 C 301.13 599.58 301.80 601.38 302.53 603.14 C 303.26 604.91 303.92 606.71 304.73 608.44 C 305.55 610.16 306.46 611.85 307.41 613.51 C 308.36 615.16 309.92 617.57 310.42 618.39" stroke="#fff" stroke-opacity="0.62" stroke-width="1.07" fill="none" stroke-linecap="round" filter="url(#b0_4)"/>
<path d="M 297.80 592.70 C 298.22 593.56 299.55 596.10 300.34 597.84 C 301.13 599.58 301.80 601.38 302.53 603.14 C 303.26 604.91 304.36 607.55 304.73 608.44" stroke="#fff" stroke-opacity="0.70" stroke-width="1.87" fill="none" stroke-linecap="round" filter="url(#b0_4)"/>
<path d="M 297.80 592.70 C 298.22 593.56 299.55 596.10 300.34 597.84 C 301.13 599.58 302.16 602.26 302.53 603.14" stroke="#fff" stroke-opacity="0.78" stroke-width="2.67" fill="none" stroke-linecap="round" filter="url(#b0_4)"/>
<path d="M 302.53 603.14 C 302.52 603.73 302.49 605.51 302.46 606.69 C 302.43 607.87 302.28 609.06 302.34 610.24 C 302.39 611.42 302.72 613.17 302.80 613.76" stroke="#fff" stroke-opacity="0.61" stroke-width="0.59" fill="none" stroke-linecap="round" filter="url(#b0_4)"/>
<path d="M 302.53 603.14 C 302.52 603.73 302.49 605.51 302.46 606.69 C 302.43 607.87 302.36 609.65 302.34 610.24" stroke="#fff" stroke-opacity="0.68" stroke-width="1.03" fill="none" stroke-linecap="round" filter="url(#b0_4)"/>
<path d="M 302.53 603.14 C 302.52 603.73 302.47 606.10 302.46 606.69" stroke="#fff" stroke-opacity="0.76" stroke-width="1.47" fill="none" stroke-linecap="round" filter="url(#b0_4)"/>
<circle cx="297.8" cy="592.7" r="13.2" fill="#fff" fill-opacity="0.35" filter="url(#b3_0)"/>
<circle cx="297.8" cy="592.7" r="6" fill="#fff" filter="url(#b1_5)"/>
<circle cx="297.8" cy="592.7" r="1.2" fill="#000" fill-opacity="0.6"/>
</g>
<rect x="276.50" y="598.60" width="25.00" height="25.80" fill="none" stroke="#eee" stroke-width="0.8" stroke-dasharray="2.2 1.4"/>
<line x1="305.00" y1="617.90" x2="326.00" y2="617.90" stroke="#fff" stroke-width="1.6"/>
</g>
<g clip-path="url(#c13)">
<rect x="334.00" y="554.00" width="71.30" height="71.00" fill="#050505" stroke="none" stroke-width="1"/>
<g clip-path="url(#c14)">
<circle cx="369.60" cy="589.50" r="36.50" fill="url(#fgc13)"/>
<rect x="334.10" y="554.00" width="71.00" height="71.00" fill="#000" stroke="none" stroke-width="1" filter="url(#motd)" opacity="0.5"/>
<path d="M 390.43 612.36 C 390.06 612.66 389.01 613.66 388.22 614.19 C 387.43 614.73 386.53 615.09 385.70 615.57 C 384.86 616.04 383.63 616.78 383.22 617.03" stroke="#fff" stroke-opacity="0.22" stroke-width="0.6" fill="none"/>
<path d="M 388.04 580.49 C 388.27 580.07 388.84 578.70 389.41 577.93 C 389.97 577.15 390.79 576.56 391.42 575.83 C 392.05 575.09 392.91 573.91 393.21 573.53" stroke="#fff" stroke-opacity="0.22" stroke-width="0.6" fill="none"/>
<path d="M 372.32 602.43 C 372.31 603.07 372.12 605.01 372.29 606.27 C 372.46 607.53 373.21 608.72 373.33 609.97 C 373.44 611.23 373.04 613.16 372.98 613.80" stroke="#fff" stroke-opacity="0.22" stroke-width="0.6" fill="none"/>
<path d="M 382.78 613.94 C 382.48 614.18 381.65 615.03 380.98 615.38 C 380.31 615.74 379.50 615.83 378.77 616.08 C 378.05 616.34 376.98 616.78 376.62 616.92" stroke="#fff" stroke-opacity="0.22" stroke-width="0.6" fill="none"/>
<path d="M 340.76 568.00 C 340.67 567.51 340.35 566.06 340.22 565.08 C 340.10 564.10 340.24 563.06 340.00 562.11 C 339.75 561.17 338.96 559.87 338.75 559.42" stroke="#fff" stroke-opacity="0.22" stroke-width="0.6" fill="none"/>
<path d="M 380.63 579.59 C 381.40 579.26 383.67 578.13 385.26 577.60 C 386.85 577.08 388.50 576.64 390.16 576.45 C 391.81 576.26 394.35 576.47 395.19 576.48" stroke="#fff" stroke-opacity="0.22" stroke-width="0.6" fill="none"/>
<path d="M 391.29 623.32 C 391.80 623.48 393.31 624.08 394.35 624.27 C 395.39 624.47 396.49 624.36 397.55 624.48 C 398.61 624.61 400.18 624.94 400.71 625.03" stroke="#fff" stroke-opacity="0.22" stroke-width="0.6" fill="none"/>
<path d="M 340.47 616.49 C 340.09 616.35 339.00 615.85 338.23 615.66 C 337.46 615.47 336.64 615.31 335.86 615.35 C 335.07 615.39 333.92 615.82 333.53 615.91" stroke="#fff" stroke-opacity="0.22" stroke-width="0.6" fill="none"/>
<path d="M 368.45 563.81 C 368.46 564.62 368.04 567.20 368.52 568.69 C 368.99 570.18 370.60 571.27 371.27 572.72 C 371.94 574.18 372.34 576.65 372.55 577.44" stroke="#fff" stroke-opacity="0.22" stroke-width="0.6" fill="none"/>
<path d="M 335.31 577.64 C 335.77 577.14 337.21 575.69 338.05 574.63 C 338.88 573.56 339.64 572.42 340.31 571.25 C 340.99 570.08 341.81 568.21 342.11 567.60" stroke="#fff" stroke-opacity="0.22" stroke-width="0.6" fill="none"/>
<path d="M 343.11 624.99 C 343.56 625.33 344.90 626.40 345.85 627.01 C 346.81 627.62 348.07 627.90 348.83 628.68 C 349.59 629.46 350.15 631.20 350.41 631.70" stroke="#fff" stroke-opacity="0.22" stroke-width="0.6" fill="none"/>
<path d="M 351.52 623.53 C 352.21 623.38 354.29 622.98 355.66 622.65 C 357.03 622.31 358.36 621.61 359.74 621.51 C 361.12 621.40 363.24 621.94 363.94 622.03" stroke="#fff" stroke-opacity="0.22" stroke-width="0.6" fill="none"/>
<path d="M 390.62 590.68 C 389.93 590.89 387.66 591.21 386.45 591.94 C 385.25 592.66 384.54 594.17 383.39 595.02 C 382.24 595.88 380.19 596.74 379.55 597.08" stroke="#fff" stroke-opacity="0.22" stroke-width="0.6" fill="none"/>
<path d="M 352.97 588.62 C 352.82 588.22 352.53 586.91 352.07 586.22 C 351.60 585.52 350.79 585.07 350.20 584.44 C 349.61 583.82 348.81 582.81 348.53 582.48" stroke="#fff" stroke-opacity="0.22" stroke-width="0.6" fill="none"/>
<path d="M 359.73 572.20 C 359.03 572.68 356.88 574.04 355.53 575.07 C 354.18 576.10 353.12 577.61 351.65 578.37 C 350.19 579.13 347.54 579.43 346.72 579.64" stroke="#fff" stroke-opacity="0.22" stroke-width="0.6" fill="none"/>
<path d="M 377.56 573.02 C 377.07 573.36 375.52 574.28 374.57 575.02 C 373.63 575.75 372.69 576.53 371.91 577.43 C 371.12 578.33 370.21 579.90 369.87 580.39" stroke="#fff" stroke-opacity="0.22" stroke-width="0.6" fill="none"/>
<path d="M 391.24 576.96 C 391.18 576.09 391.15 573.46 390.91 571.74 C 390.67 570.01 390.07 568.34 389.81 566.62 C 389.55 564.89 389.43 562.27 389.35 561.40" stroke="#fff" stroke-opacity="0.22" stroke-width="0.6" fill="none"/>
<path d="M 356.83 582.28 C 356.13 581.94 354.10 580.75 352.64 580.26 C 351.19 579.78 349.56 579.21 348.09 579.35 C 346.61 579.50 344.52 580.84 343.80 581.14" stroke="#fff" stroke-opacity="0.22" stroke-width="0.6" fill="none"/>
<path d="M 366.00 558.05 C 366.74 557.85 368.91 557.02 370.41 556.81 C 371.91 556.59 373.47 556.89 374.99 556.74 C 376.50 556.59 378.74 556.06 379.49 555.92" stroke="#fff" stroke-opacity="0.22" stroke-width="0.6" fill="none"/>
<path d="M 400.73 614.60 C 400.99 614.95 401.84 615.98 402.31 616.71 C 402.79 617.45 403.13 618.27 403.59 619.02 C 404.06 619.77 404.84 620.84 405.09 621.20" stroke="#fff" stroke-opacity="0.22" stroke-width="0.6" fill="none"/>
<path d="M 389.64 611.76 C 389.13 612.06 387.54 612.88 386.57 613.57 C 385.61 614.25 384.55 614.94 383.84 615.86 C 383.13 616.77 382.56 618.53 382.30 619.07" stroke="#fff" stroke-opacity="0.22" stroke-width="0.6" fill="none"/>
<path d="M 378.52 597.07 C 379.14 597.35 380.95 598.50 382.25 598.75 C 383.55 598.99 384.98 598.49 386.34 598.54 C 387.70 598.59 389.72 598.97 390.40 599.05" stroke="#fff" stroke-opacity="0.22" stroke-width="0.6" fill="none"/>
<path d="M 366.95 617.87 C 366.28 617.61 364.10 617.08 362.90 616.33 C 361.70 615.57 360.99 614.01 359.77 613.33 C 358.54 612.64 356.28 612.38 355.58 612.20" stroke="#fff" stroke-opacity="0.22" stroke-width="0.6" fill="none"/>
<path d="M 377.99 618.71 C 378.65 618.22 380.56 616.57 381.99 615.75 C 383.42 614.93 384.97 614.16 386.56 613.79 C 388.15 613.41 390.70 613.56 391.53 613.51" stroke="#fff" stroke-opacity="0.22" stroke-width="0.6" fill="none"/>
<path d="M 343.83 620.98 C 344.39 620.84 346.09 620.47 347.20 620.16 C 348.32 619.85 349.48 619.61 350.52 619.13 C 351.55 618.64 352.95 617.56 353.43 617.25" stroke="#fff" stroke-opacity="0.22" stroke-width="0.6" fill="none"/>
<path d="M 384.69 558.52 C 384.74 557.65 384.46 554.87 384.99 553.27 C 385.53 551.66 387.34 550.49 387.90 548.89 C 388.47 547.28 388.28 544.52 388.36 543.65" stroke="#fff" stroke-opacity="0.22" stroke-width="0.6" fill="none"/>
<path d="M 395.02 573.87 C 395.57 574.03 397.21 574.85 398.31 574.86 C 399.41 574.88 400.66 574.50 401.63 573.96 C 402.59 573.41 403.69 571.97 404.10 571.58" stroke="#fff" stroke-opacity="0.22" stroke-width="0.6" fill="none"/>
<path d="M 392.06 599.34 C 391.72 599.40 390.66 599.52 389.98 599.69 C 389.30 599.86 388.55 599.99 387.98 600.37 C 387.42 600.74 386.84 601.70 386.61 601.97" stroke="#fff" stroke-opacity="0.22" stroke-width="0.6" fill="none"/>
<path d="M 404.61 608.33 C 405.24 607.98 407.39 607.20 408.40 606.24 C 409.42 605.28 409.79 603.66 410.71 602.57 C 411.63 601.47 413.40 600.15 413.93 599.67" stroke="#fff" stroke-opacity="0.22" stroke-width="0.6" fill="none"/>
<path d="M 342.20 592.85 C 341.75 593.25 340.14 594.31 339.49 595.29 C 338.85 596.28 338.73 597.60 338.33 598.75 C 337.93 599.90 337.29 601.61 337.09 602.18" stroke="#fff" stroke-opacity="0.22" stroke-width="0.6" fill="none"/>
<path d="M 336.26 591.31 C 336.69 591.55 337.98 592.25 338.81 592.78 C 339.63 593.30 340.38 593.95 341.22 594.46 C 342.06 594.96 343.40 595.57 343.83 595.80" stroke="#fff" stroke-opacity="0.22" stroke-width="0.6" fill="none"/>
<path d="M 349.94 569.73 C 349.14 569.48 346.77 568.39 345.14 568.22 C 343.50 568.05 341.76 568.37 340.13 568.72 C 338.49 569.06 336.14 570.03 335.34 570.29" stroke="#fff" stroke-opacity="0.22" stroke-width="0.6" fill="none"/>
<path d="M 351.16 594.64 C 351.07 594.00 350.92 592.03 350.60 590.78 C 350.28 589.53 349.78 588.31 349.24 587.13 C 348.71 585.95 347.69 584.28 347.38 583.71" stroke="#fff" stroke-opacity="0.22" stroke-width="0.6" fill="none"/>
<path d="M 365.41 582.22 C 366.04 582.34 367.97 582.52 369.18 582.91 C 370.39 583.29 371.55 583.90 372.66 584.54 C 373.76 585.17 375.27 586.37 375.80 586.74" stroke="#fff" stroke-opacity="0.22" stroke-width="0.6" fill="none"/>
<path d="M 391.27 580.43 C 390.57 579.90 388.39 578.43 387.08 577.28 C 385.77 576.14 384.71 574.70 383.41 573.54 C 382.10 572.39 379.94 570.88 379.25 570.35" stroke="#fff" stroke-opacity="0.22" stroke-width="0.6" fill="none"/>
<path d="M 338.44 556.83 C 338.56 556.45 339.11 555.33 339.16 554.56 C 339.22 553.79 338.95 552.98 338.76 552.21 C 338.56 551.45 338.12 550.34 337.99 549.96" stroke="#fff" stroke-opacity="0.22" stroke-width="0.6" fill="none"/>
<path d="M 336.38 592.54 C 336.52 592.10 336.74 590.66 337.22 589.91 C 337.69 589.16 338.64 588.72 339.22 588.02 C 339.80 587.32 340.45 586.09 340.69 585.70" stroke="#fff" stroke-opacity="0.22" stroke-width="0.6" fill="none"/>
<path d="M 367.54 605.41 C 367.88 605.15 369.04 604.49 369.57 603.84 C 370.09 603.20 370.51 602.35 370.70 601.54 C 370.88 600.73 370.67 599.41 370.67 598.98" stroke="#fff" stroke-opacity="0.22" stroke-width="0.6" fill="none"/>
<path d="M 403.91 557.55 C 404.63 557.33 406.75 556.48 408.22 556.25 C 409.69 556.02 411.23 556.06 412.72 556.17 C 414.21 556.28 416.42 556.78 417.16 556.91" stroke="#fff" stroke-opacity="0.22" stroke-width="0.6" fill="none"/>
<path d="M 354.48 585.48 C 354.45 586.29 354.64 588.78 354.31 590.34 C 353.99 591.90 352.84 593.30 352.51 594.86 C 352.19 596.42 352.37 598.91 352.34 599.72" stroke="#fff" stroke-opacity="0.22" stroke-width="0.6" fill="none"/>
<ellipse cx="391.3" cy="569.7" rx="8.8" ry="8.2" fill="#fff" fill-opacity="0.30" filter="url(#b2_5)"/>
<ellipse cx="382.6" cy="602.6" rx="7.2" ry="6.8" fill="#fff" fill-opacity="0.27" filter="url(#b2_5)"/>
<ellipse cx="343.1" cy="603.6" rx="7.2" ry="6.8" fill="#fff" fill-opacity="0.27" filter="url(#b2_5)"/>
<ellipse cx="358.5" cy="566.4" rx="5.6" ry="5.2" fill="#fff" fill-opacity="0.15" filter="url(#b2_5)"/>
<g filter="url(#lesf)">
<ellipse cx="391.3" cy="569.7" rx="6.1" ry="5.5" fill="#fff" fill-opacity="1.00"/>
<ellipse cx="382.6" cy="602.6" rx="5.0" ry="4.5" fill="#fff" fill-opacity="0.90"/>
<ellipse cx="343.1" cy="603.6" rx="5.0" ry="4.5" fill="#fff" fill-opacity="0.90"/>
<ellipse cx="358.5" cy="566.4" rx="3.9" ry="3.5" fill="#fff" fill-opacity="0.50"/>
</g>
<ellipse cx="391.3" cy="569.7" rx="4.7" ry="4.4" fill="#fff" fill-opacity="0.95" filter="url(#b1_0)"/>
<ellipse cx="382.6" cy="602.6" rx="3.8" ry="3.6" fill="#fff" fill-opacity="0.85" filter="url(#b1_0)"/>
<ellipse cx="343.1" cy="603.6" rx="3.8" ry="3.6" fill="#fff" fill-opacity="0.85" filter="url(#b1_0)"/>
<ellipse cx="358.5" cy="566.4" rx="3.0" ry="2.8" fill="#fff" fill-opacity="0.47" filter="url(#b1_0)"/>
<path d="M 369.40 589.40 C 368.13 588.55 364.27 586.04 361.76 584.28 C 359.25 582.52 356.78 580.71 354.34 578.85 C 351.90 577.00 349.47 575.12 347.12 573.15 C 344.77 571.18 342.61 568.99 340.23 567.06 C 337.86 565.12 334.10 562.47 332.87 561.55" stroke="#fff" stroke-opacity="0.70" stroke-width="1.15" fill="none" stroke-linecap="round" filter="url(#b0_4)"/>
<path d="M 369.40 589.40 C 368.13 588.55 364.27 586.04 361.76 584.28 C 359.25 582.52 356.78 580.71 354.34 578.85 C 351.90 577.00 348.33 574.10 347.12 573.15" stroke="#fff" stroke-opacity="0.79" stroke-width="2.01" fill="none" stroke-linecap="round" filter="url(#b0_4)"/>
<path d="M 369.40 589.40 C 368.13 588.55 364.27 586.04 361.76 584.28 C 359.25 582.52 355.58 579.76 354.34 578.85" stroke="#fff" stroke-opacity="0.87" stroke-width="2.87" fill="none" stroke-linecap="round" filter="url(#b0_4)"/>
<path d="M 347.12 573.15 C 346.26 572.94 343.68 572.26 341.95 571.89 C 340.21 571.51 338.44 571.30 336.71 570.91 C 334.98 570.52 332.43 569.77 331.57 569.54" stroke="#fff" stroke-opacity="0.61" stroke-width="0.63" fill="none" stroke-linecap="round" filter="url(#b0_4)"/>
<path d="M 347.12 573.15 C 346.26 572.94 343.68 572.26 341.95 571.89 C 340.21 571.51 337.59 571.07 336.71 570.91" stroke="#fff" stroke-opacity="0.68" stroke-width="1.11" fill="none" stroke-linecap="round" filter="url(#b0_4)"/>
<path d="M 347.12 573.15 C 346.26 572.94 342.81 572.10 341.95 571.89" stroke="#fff" stroke-opacity="0.76" stroke-width="1.58" fill="none" stroke-linecap="round" filter="url(#b0_4)"/>
<path d="M 369.40 589.40 C 368.61 587.99 366.38 583.67 364.68 580.93 C 362.97 578.19 361.05 575.57 359.18 572.94 C 357.30 570.31 355.34 567.73 353.42 565.13 C 351.50 562.54 349.58 559.94 347.64 557.35 C 345.70 554.76 342.78 550.89 341.80 549.60" stroke="#fff" stroke-opacity="0.65" stroke-width="1.10" fill="none" stroke-linecap="round" filter="url(#b0_4)"/>
<path d="M 369.40 589.40 C 368.61 587.99 366.38 583.67 364.68 580.93 C 362.97 578.19 361.05 575.57 359.18 572.94 C 357.30 570.31 354.38 566.44 353.42 565.13" stroke="#fff" stroke-opacity="0.73" stroke-width="1.93" fill="none" stroke-linecap="round" filter="url(#b0_4)"/>
<path d="M 369.40 589.40 C 368.61 587.99 366.38 583.67 364.68 580.93 C 362.97 578.19 360.09 574.27 359.18 572.94" stroke="#fff" stroke-opacity="0.81" stroke-width="2.75" fill="none" stroke-linecap="round" filter="url(#b0_4)"/>
<path d="M 369.40 589.40 C 369.66 588.12 370.51 584.30 370.97 581.74 C 371.43 579.17 371.71 576.57 372.14 574.00 C 372.58 571.43 372.97 568.84 373.57 566.31 C 374.16 563.77 375.02 561.30 375.73 558.79 C 376.43 556.28 377.44 552.50 377.78 551.24" stroke="#fff" stroke-opacity="0.69" stroke-width="0.89" fill="none" stroke-linecap="round" filter="url(#b0_4)"/>
<path d="M 369.40 589.40 C 369.66 588.12 370.51 584.30 370.97 581.74 C 371.43 579.17 371.71 576.57 372.14 574.00 C 372.58 571.43 373.33 567.59 373.57 566.31" stroke="#fff" stroke-opacity="0.77" stroke-width="1.55" fill="none" stroke-linecap="round" filter="url(#b0_4)"/>
<path d="M 369.40 589.40 C 369.66 588.12 370.51 584.30 370.97 581.74 C 371.43 579.17 371.95 575.29 372.14 574.00" stroke="#fff" stroke-opacity="0.86" stroke-width="2.22" fill="none" stroke-linecap="round" filter="url(#b0_4)"/>
<path d="M 369.40 589.40 C 370.36 588.43 373.21 585.47 375.19 583.58 C 377.17 581.69 379.32 579.99 381.27 578.07 C 383.22 576.16 385.09 574.15 386.90 572.10 C 388.71 570.05 390.47 567.95 392.13 565.77 C 393.79 563.60 396.06 560.18 396.85 559.06" stroke="#fff" stroke-opacity="0.75" stroke-width="0.90" fill="none" stroke-linecap="round" filter="url(#b0_4)"/>
<path d="M 369.40 589.40 C 370.36 588.43 373.21 585.47 375.19 583.58 C 377.17 581.69 379.32 579.99 381.27 578.07 C 383.22 576.16 385.96 573.09 386.90 572.10" stroke="#fff" stroke-opacity="0.84" stroke-width="1.57" fill="none" stroke-linecap="round" filter="url(#b0_4)"/>
<path d="M 369.40 589.40 C 370.36 588.43 373.21 585.47 375.19 583.58 C 377.17 581.69 380.26 578.99 381.27 578.07" stroke="#fff" stroke-opacity="0.94" stroke-width="2.25" fill="none" stroke-linecap="round" filter="url(#b0_4)"/>
<path d="M 381.27 578.07 C 381.69 577.29 382.96 574.95 383.80 573.39 C 384.64 571.82 385.37 570.19 386.31 568.69 C 387.26 567.19 388.95 565.13 389.48 564.41" stroke="#fff" stroke-opacity="0.61" stroke-width="0.49" fill="none" stroke-linecap="round" filter="url(#b0_4)"/>
<path d="M 381.27 578.07 C 381.69 577.29 382.96 574.95 383.80 573.39 C 384.64 571.82 385.89 569.47 386.31 568.69" stroke="#fff" stroke-opacity="0.68" stroke-width="0.86" fill="none" stroke-linecap="round" filter="url(#b0_4)"/>
<path d="M 381.27 578.07 C 381.69 577.29 383.38 574.17 383.80 573.39" stroke="#fff" stroke-opacity="0.76" stroke-width="1.24" fill="none" stroke-linecap="round" filter="url(#b0_4)"/>
<path d="M 369.40 589.40 C 370.91 589.03 375.42 587.89 378.45 587.20 C 381.47 586.52 384.52 585.95 387.55 585.27 C 390.58 584.59 393.57 583.76 396.61 583.13 C 399.65 582.50 402.72 582.05 405.77 581.49 C 408.83 580.93 413.40 580.06 414.92 579.77" stroke="#fff" stroke-opacity="0.75" stroke-width="1.03" fill="none" stroke-linecap="round" filter="url(#b0_4)"/>
<path d="M 369.40 589.40 C 370.91 589.03 375.42 587.89 378.45 587.20 C 381.47 586.52 384.52 585.95 387.55 585.27 C 390.58 584.59 395.10 583.49 396.61 583.13" stroke="#fff" stroke-opacity="0.84" stroke-width="1.81" fill="none" stroke-linecap="round" filter="url(#b0_4)"/>
<path d="M 369.40 589.40 C 370.91 589.03 375.42 587.89 378.45 587.20 C 381.47 586.52 386.03 585.59 387.55 585.27" stroke="#fff" stroke-opacity="0.93" stroke-width="2.58" fill="none" stroke-linecap="round" filter="url(#b0_4)"/>
<path d="M 396.61 583.13 C 397.49 583.23 400.14 583.50 401.90 583.73 C 403.66 583.96 405.42 584.20 407.17 584.52 C 408.91 584.84 411.50 585.49 412.37 585.68" stroke="#fff" stroke-opacity="0.61" stroke-width="0.57" fill="none" stroke-linecap="round" filter="url(#b0_4)"/>
<path d="M 396.61 583.13 C 397.49 583.23 400.14 583.50 401.90 583.73 C 403.66 583.96 406.29 584.39 407.17 584.52" stroke="#fff" stroke-opacity="0.68" stroke-width="0.99" fill="none" stroke-linecap="round" filter="url(#b0_4)"/>
<path d="M 396.61 583.13 C 397.49 583.23 401.02 583.63 401.90 583.73" stroke="#fff" stroke-opacity="0.76" stroke-width="1.42" fill="none" stroke-linecap="round" filter="url(#b0_4)"/>
<path d="M 369.40 589.40 C 370.70 589.63 374.61 590.29 377.21 590.79 C 379.81 591.28 382.39 591.91 384.99 592.36 C 387.60 592.82 390.23 593.09 392.84 593.52 C 395.45 593.94 398.04 594.52 400.66 594.89 C 403.27 595.27 407.23 595.64 408.54 595.79" stroke="#fff" stroke-opacity="0.67" stroke-width="1.15" fill="none" stroke-linecap="round" filter="url(#b0_4)"/>
<path d="M 369.40 589.40 C 370.70 589.63 374.61 590.29 377.21 590.79 C 379.81 591.28 382.39 591.91 384.99 592.36 C 387.60 592.82 391.53 593.32 392.84 593.52" stroke="#fff" stroke-opacity="0.75" stroke-width="2.00" fill="none" stroke-linecap="round" filter="url(#b0_4)"/>
<path d="M 369.40 589.40 C 370.70 589.63 374.61 590.29 377.21 590.79 C 379.81 591.28 383.70 592.10 384.99 592.36" stroke="#fff" stroke-opacity="0.84" stroke-width="2.86" fill="none" stroke-linecap="round" filter="url(#b0_4)"/>
<path d="M 369.40 589.40 C 370.36 590.68 373.27 594.50 375.19 597.06 C 377.11 599.62 379.15 602.11 380.94 604.76 C 382.73 607.40 384.40 610.15 385.95 612.95 C 387.50 615.75 388.93 618.63 390.25 621.54 C 391.57 624.45 393.27 628.95 393.88 630.43" stroke="#fff" stroke-opacity="0.66" stroke-width="0.85" fill="none" stroke-linecap="round" filter="url(#b0_4)"/>
<path d="M 369.40 589.40 C 370.36 590.68 373.27 594.50 375.19 597.06 C 377.11 599.62 379.15 602.11 380.94 604.76 C 382.73 607.40 385.11 611.59 385.95 612.95" stroke="#fff" stroke-opacity="0.74" stroke-width="1.49" fill="none" stroke-linecap="round" filter="url(#b0_4)"/>
<path d="M 369.40 589.40 C 370.36 590.68 373.27 594.50 375.19 597.06 C 377.11 599.62 379.98 603.47 380.94 604.76" stroke="#fff" stroke-opacity="0.82" stroke-width="2.12" fill="none" stroke-linecap="round" filter="url(#b0_4)"/>
<path d="M 369.40 589.40 C 369.52 590.90 369.81 595.40 370.13 598.39 C 370.44 601.38 370.76 604.37 371.29 607.33 C 371.81 610.29 372.63 613.19 373.26 616.13 C 373.89 619.07 374.50 622.01 375.07 624.96 C 375.64 627.91 376.42 632.35 376.69 633.83" stroke="#fff" stroke-opacity="0.76" stroke-width="0.91" fill="none" stroke-linecap="round" filter="url(#b0_4)"/>
<path d="M 369.40 589.40 C 369.52 590.90 369.81 595.40 370.13 598.39 C 370.44 601.38 370.76 604.37 371.29 607.33 C 371.81 610.29 372.93 614.66 373.26 616.13" stroke="#fff" stroke-opacity="0.85" stroke-width="1.59" fill="none" stroke-linecap="round" filter="url(#b0_4)"/>
<path d="M 369.40 589.40 C 369.52 590.90 369.81 595.40 370.13 598.39 C 370.44 601.38 371.09 605.84 371.29 607.33" stroke="#fff" stroke-opacity="0.95" stroke-width="2.27" fill="none" stroke-linecap="round" filter="url(#b0_4)"/>
<path d="M 369.40 589.40 C 368.62 590.73 366.16 594.65 364.71 597.36 C 363.26 600.08 362.12 602.96 360.69 605.69 C 359.26 608.41 357.72 611.08 356.13 613.72 C 354.54 616.36 352.74 618.87 351.16 621.52 C 349.58 624.16 347.40 628.24 346.65 629.58" stroke="#fff" stroke-opacity="0.66" stroke-width="1.15" fill="none" stroke-linecap="round" filter="url(#b0_4)"/>
<path d="M 369.40 589.40 C 368.62 590.73 366.16 594.65 364.71 597.36 C 363.26 600.08 362.12 602.96 360.69 605.69 C 359.26 608.41 356.89 612.38 356.13 613.72" stroke="#fff" stroke-opacity="0.74" stroke-width="2.01" fill="none" stroke-linecap="round" filter="url(#b0_4)"/>
<path d="M 369.40 589.40 C 368.62 590.73 366.16 594.65 364.71 597.36 C 363.26 600.08 361.36 604.30 360.69 605.69" stroke="#fff" stroke-opacity="0.82" stroke-width="2.87" fill="none" stroke-linecap="round" filter="url(#b0_4)"/>
<path d="M 369.40 589.40 C 367.99 590.18 363.68 592.41 360.92 594.07 C 358.15 595.73 355.50 597.59 352.80 599.36 C 350.10 601.13 347.48 603.03 344.72 604.69 C 341.95 606.35 339.06 607.80 336.20 609.30 C 333.34 610.81 329.01 612.98 327.58 613.71" stroke="#fff" stroke-opacity="0.72" stroke-width="0.89" fill="none" stroke-linecap="round" filter="url(#b0_4)"/>
<path d="M 369.40 589.40 C 367.99 590.18 363.68 592.41 360.92 594.07 C 358.15 595.73 355.50 597.59 352.80 599.36 C 350.10 601.13 346.06 603.80 344.72 604.69" stroke="#fff" stroke-opacity="0.81" stroke-width="1.57" fill="none" stroke-linecap="round" filter="url(#b0_4)"/>
<path d="M 369.40 589.40 C 367.99 590.18 363.68 592.41 360.92 594.07 C 358.15 595.73 354.16 598.48 352.80 599.36" stroke="#fff" stroke-opacity="0.90" stroke-width="2.24" fill="none" stroke-linecap="round" filter="url(#b0_4)"/>
<path d="M 352.80 599.36 C 351.94 599.17 349.33 598.62 347.61 598.18 C 345.89 597.75 344.14 597.36 342.49 596.74 C 340.83 596.12 338.47 594.86 337.66 594.48" stroke="#fff" stroke-opacity="0.61" stroke-width="0.49" fill="none" stroke-linecap="round" filter="url(#b0_4)"/>
<path d="M 352.80 599.36 C 351.94 599.17 349.33 598.62 347.61 598.18 C 345.89 597.75 343.34 596.98 342.49 596.74" stroke="#fff" stroke-opacity="0.68" stroke-width="0.86" fill="none" stroke-linecap="round" filter="url(#b0_4)"/>
<path d="M 352.80 599.36 C 351.94 599.17 348.48 598.38 347.61 598.18" stroke="#fff" stroke-opacity="0.76" stroke-width="1.23" fill="none" stroke-linecap="round" filter="url(#b0_4)"/>
<path d="M 369.40 589.40 C 367.84 589.66 363.17 590.61 360.03 590.98 C 356.89 591.35 353.71 591.40 350.55 591.63 C 347.39 591.86 344.22 591.98 341.08 592.37 C 337.94 592.75 334.82 593.34 331.71 593.93 C 328.60 594.52 323.96 595.58 322.41 595.91" stroke="#fff" stroke-opacity="0.72" stroke-width="0.78" fill="none" stroke-linecap="round" filter="url(#b0_4)"/>
<path d="M 369.40 589.40 C 367.84 589.66 363.17 590.61 360.03 590.98 C 356.89 591.35 353.71 591.40 350.55 591.63 C 347.39 591.86 342.66 592.24 341.08 592.37" stroke="#fff" stroke-opacity="0.81" stroke-width="1.37" fill="none" stroke-linecap="round" filter="url(#b0_4)"/>
<path d="M 369.40 589.40 C 367.84 589.66 363.17 590.61 360.03 590.98 C 356.89 591.35 352.13 591.52 350.55 591.63" stroke="#fff" stroke-opacity="0.90" stroke-width="1.95" fill="none" stroke-linecap="round" filter="url(#b0_4)"/>
<path d="M 341.08 592.37 C 340.27 592.72 337.77 593.68 336.20 594.51 C 334.64 595.33 333.23 596.46 331.68 597.32 C 330.13 598.18 327.70 599.27 326.90 599.66" stroke="#fff" stroke-opacity="0.61" stroke-width="0.43" fill="none" stroke-linecap="round" filter="url(#b0_4)"/>
<path d="M 341.08 592.37 C 340.27 592.72 337.77 593.68 336.20 594.51 C 334.64 595.33 332.44 596.85 331.68 597.32" stroke="#fff" stroke-opacity="0.68" stroke-width="0.75" fill="none" stroke-linecap="round" filter="url(#b0_4)"/>
<path d="M 341.08 592.37 C 340.27 592.72 337.02 594.15 336.20 594.51" stroke="#fff" stroke-opacity="0.76" stroke-width="1.07" fill="none" stroke-linecap="round" filter="url(#b0_4)"/>
<circle cx="369.4" cy="589.4" r="13.2" fill="#fff" fill-opacity="0.35" filter="url(#b3_0)"/>
<circle cx="369.4" cy="589.4" r="6" fill="#fff" filter="url(#b1_5)"/>
<circle cx="369.4" cy="589.4" r="1.2" fill="#000" fill-opacity="0.6"/>
</g>
<rect x="370.50" y="588.30" width="26.30" height="25.70" fill="none" stroke="#eee" stroke-width="0.8" stroke-dasharray="2.2 1.4"/>
<line x1="378.00" y1="617.90" x2="399.60" y2="617.90" stroke="#fff" stroke-width="1.6"/>
</g>
<g clip-path="url(#c15)">
<rect x="407.10" y="554.00" width="70.90" height="71.00" fill="#050505" stroke="none" stroke-width="1"/>
<g clip-path="url(#c16)">
<circle cx="442.50" cy="589.50" r="36.50" fill="url(#fgc15)"/>
<rect x="407.00" y="554.00" width="71.00" height="71.00" fill="#000" stroke="none" stroke-width="1" filter="url(#motd)" opacity="0.5"/>
<path d="M 429.99 564.71 C 429.79 564.40 429.22 563.42 428.76 562.83 C 428.31 562.25 427.86 561.57 427.25 561.18 C 426.64 560.79 425.47 560.63 425.11 560.52" stroke="#fff" stroke-opacity="0.3" stroke-width="0.6" fill="none"/>
<path d="M 443.03 556.66 C 442.80 556.96 442.08 557.82 441.65 558.42 C 441.22 559.03 440.95 559.77 440.45 560.30 C 439.94 560.82 438.92 561.36 438.61 561.57" stroke="#fff" stroke-opacity="0.3" stroke-width="0.6" fill="none"/>
<path d="M 415.79 569.85 C 415.25 569.18 413.71 567.10 412.56 565.83 C 411.40 564.56 409.66 563.68 408.85 562.24 C 408.04 560.81 407.87 558.06 407.67 557.22" stroke="#fff" stroke-opacity="0.3" stroke-width="0.6" fill="none"/>
<path d="M 410.31 614.95 C 410.39 615.36 410.56 616.60 410.82 617.38 C 411.09 618.16 411.68 618.84 411.88 619.62 C 412.08 620.41 412.00 621.69 412.03 622.10" stroke="#fff" stroke-opacity="0.3" stroke-width="0.6" fill="none"/>
<path d="M 419.83 595.29 C 419.51 594.86 418.71 593.34 417.89 592.70 C 417.07 592.05 415.95 591.56 414.92 591.42 C 413.88 591.27 412.23 591.75 411.70 591.81" stroke="#fff" stroke-opacity="0.3" stroke-width="0.6" fill="none"/>
<path d="M 421.62 602.31 C 421.15 602.48 419.71 602.98 418.76 603.36 C 417.82 603.74 416.84 604.06 415.97 604.57 C 415.10 605.08 413.94 606.10 413.54 606.41" stroke="#fff" stroke-opacity="0.3" stroke-width="0.6" fill="none"/>
<path d="M 463.40 603.63 C 463.41 604.28 463.70 606.30 463.43 607.54 C 463.15 608.79 462.46 610.00 461.75 611.08 C 461.04 612.16 459.60 613.54 459.17 614.03" stroke="#fff" stroke-opacity="0.3" stroke-width="0.6" fill="none"/>
<path d="M 427.44 623.59 C 427.72 624.08 428.39 625.71 429.13 626.54 C 429.87 627.36 430.95 627.88 431.87 628.54 C 432.78 629.21 434.17 630.19 434.63 630.51" stroke="#fff" stroke-opacity="0.3" stroke-width="0.6" fill="none"/>
<path d="M 409.78 601.44 C 410.12 600.89 411.26 599.27 411.80 598.09 C 412.34 596.92 412.48 595.55 413.03 594.38 C 413.57 593.21 414.74 591.61 415.08 591.05" stroke="#fff" stroke-opacity="0.3" stroke-width="0.6" fill="none"/>
<path d="M 449.20 595.17 C 448.43 594.97 446.11 594.33 444.56 593.95 C 443.01 593.56 441.39 593.37 439.88 592.86 C 438.37 592.35 436.24 591.22 435.51 590.89" stroke="#fff" stroke-opacity="0.3" stroke-width="0.6" fill="none"/>
<path d="M 411.31 603.81 C 411.08 602.95 410.61 600.30 409.94 598.67 C 409.28 597.05 408.29 595.53 407.31 594.06 C 406.33 592.59 404.61 590.55 404.07 589.85" stroke="#fff" stroke-opacity="0.3" stroke-width="0.6" fill="none"/>
<path d="M 454.47 555.60 C 454.15 555.88 452.99 556.57 452.52 557.25 C 452.05 557.93 452.06 558.93 451.66 559.66 C 451.25 560.40 450.35 561.35 450.08 561.68" stroke="#fff" stroke-opacity="0.3" stroke-width="0.6" fill="none"/>
<path d="M 416.18 571.58 C 415.88 572.34 414.92 574.60 414.35 576.13 C 413.79 577.67 413.37 579.25 412.80 580.78 C 412.24 582.32 411.29 584.58 410.98 585.34" stroke="#fff" stroke-opacity="0.3" stroke-width="0.6" fill="none"/>
<path d="M 469.72 612.17 C 470.00 611.77 470.92 610.62 471.41 609.78 C 471.90 608.94 472.07 607.88 472.67 607.13 C 473.26 606.39 474.59 605.63 474.97 605.33" stroke="#fff" stroke-opacity="0.3" stroke-width="0.6" fill="none"/>
<path d="M 475.00 564.72 C 475.33 565.04 476.30 566.03 476.96 566.68 C 477.61 567.33 478.32 567.93 478.95 568.61 C 479.58 569.29 480.43 570.38 480.72 570.74" stroke="#fff" stroke-opacity="0.3" stroke-width="0.6" fill="none"/>
<path d="M 425.66 554.29 C 425.17 554.51 423.74 555.47 422.72 555.64 C 421.69 555.80 420.55 555.51 419.51 555.27 C 418.47 555.03 416.97 554.36 416.46 554.18" stroke="#fff" stroke-opacity="0.3" stroke-width="0.6" fill="none"/>
<path d="M 443.60 597.85 C 443.61 597.49 443.50 596.37 443.63 595.67 C 443.77 594.97 444.00 594.22 444.39 593.62 C 444.77 593.03 445.69 592.36 445.95 592.11" stroke="#fff" stroke-opacity="0.3" stroke-width="0.6" fill="none"/>
<path d="M 463.65 581.86 C 463.30 582.04 462.12 582.42 461.56 582.93 C 461.00 583.44 460.52 584.18 460.29 584.90 C 460.06 585.62 460.19 586.85 460.17 587.24" stroke="#fff" stroke-opacity="0.3" stroke-width="0.6" fill="none"/>
<path d="M 421.82 565.52 C 421.83 565.89 421.73 567.01 421.90 567.70 C 422.07 568.39 422.40 569.11 422.85 569.65 C 423.30 570.20 424.30 570.74 424.59 570.95" stroke="#fff" stroke-opacity="0.3" stroke-width="0.6" fill="none"/>
<path d="M 432.82 555.81 C 433.05 555.18 433.96 553.33 434.24 552.02 C 434.52 550.72 434.53 549.33 434.49 547.98 C 434.45 546.64 434.08 544.64 434.00 543.97" stroke="#fff" stroke-opacity="0.3" stroke-width="0.6" fill="none"/>
<path d="M 432.86 562.72 C 433.34 561.98 434.81 559.77 435.77 558.28 C 436.73 556.79 438.07 555.42 438.60 553.79 C 439.12 552.15 438.88 549.37 438.94 548.49" stroke="#fff" stroke-opacity="0.3" stroke-width="0.6" fill="none"/>
<path d="M 414.26 578.33 C 414.50 579.08 414.86 581.60 415.72 582.86 C 416.58 584.12 418.53 584.62 419.41 585.87 C 420.30 587.12 420.75 589.61 421.02 590.35" stroke="#fff" stroke-opacity="0.3" stroke-width="0.6" fill="none"/>
<path d="M 444.51 564.41 C 444.17 564.30 443.07 564.15 442.51 563.78 C 441.96 563.41 441.49 562.78 441.18 562.17 C 440.87 561.57 440.74 560.49 440.65 560.15" stroke="#fff" stroke-opacity="0.3" stroke-width="0.6" fill="none"/>
<path d="M 456.43 572.54 C 456.06 572.75 454.95 573.39 454.20 573.79 C 453.45 574.19 452.72 574.70 451.92 574.95 C 451.12 575.20 449.81 575.24 449.39 575.30" stroke="#fff" stroke-opacity="0.3" stroke-width="0.6" fill="none"/>
<path d="M 430.41 569.84 C 431.04 569.23 432.78 567.14 434.23 566.19 C 435.68 565.25 437.42 564.51 439.11 564.16 C 440.80 563.82 443.51 564.11 444.39 564.10" stroke="#fff" stroke-opacity="0.3" stroke-width="0.6" fill="none"/>
<path d="M 459.53 570.10 C 459.05 570.33 457.42 570.81 456.67 571.50 C 455.91 572.18 455.43 573.25 455.00 574.21 C 454.58 575.17 454.26 576.76 454.11 577.27" stroke="#fff" stroke-opacity="0.3" stroke-width="0.6" fill="none"/>
<path d="M 425.40 603.17 C 425.96 603.31 427.83 603.46 428.78 604.04 C 429.74 604.61 430.62 605.63 431.12 606.63 C 431.62 607.63 431.66 609.49 431.77 610.06" stroke="#fff" stroke-opacity="0.3" stroke-width="0.6" fill="none"/>
<path d="M 432.89 569.65 C 433.10 570.04 433.80 571.18 434.16 571.98 C 434.53 572.79 434.98 573.62 435.08 574.48 C 435.17 575.33 434.79 576.67 434.74 577.11" stroke="#fff" stroke-opacity="0.3" stroke-width="0.6" fill="none"/>
<path d="M 466.67 588.04 C 465.98 587.70 463.81 586.78 462.50 585.96 C 461.18 585.14 459.73 584.30 458.80 583.11 C 457.86 581.93 457.20 579.57 456.88 578.86" stroke="#fff" stroke-opacity="0.3" stroke-width="0.6" fill="none"/>
<path d="M 462.54 607.26 C 462.12 607.17 460.86 606.81 460.00 606.72 C 459.15 606.63 458.25 606.86 457.41 606.70 C 456.57 606.54 455.39 605.92 454.99 605.77" stroke="#fff" stroke-opacity="0.3" stroke-width="0.6" fill="none"/>
<path d="M 475.99 582.10 C 475.18 582.40 472.58 582.99 471.14 583.87 C 469.71 584.75 468.30 585.99 467.36 587.37 C 466.41 588.75 465.77 591.36 465.46 592.16" stroke="#fff" stroke-opacity="0.3" stroke-width="0.6" fill="none"/>
<path d="M 417.73 618.24 C 418.01 617.94 418.74 616.83 419.42 616.42 C 420.10 616.01 421.02 615.94 421.83 615.81 C 422.65 615.68 423.90 615.69 424.32 615.66" stroke="#fff" stroke-opacity="0.3" stroke-width="0.6" fill="none"/>
<path d="M 431.88 592.95 C 431.94 593.29 432.19 594.29 432.25 594.97 C 432.31 595.65 432.27 596.33 432.26 597.02 C 432.25 597.70 432.21 598.72 432.20 599.06" stroke="#fff" stroke-opacity="0.3" stroke-width="0.6" fill="none"/>
<path d="M 473.29 584.80 C 473.61 584.08 474.80 581.97 475.22 580.46 C 475.63 578.95 475.79 577.31 475.79 575.74 C 475.78 574.16 475.28 571.81 475.18 571.02" stroke="#fff" stroke-opacity="0.3" stroke-width="0.6" fill="none"/>
<path d="M 424.08 595.64 C 424.29 596.16 425.20 597.70 425.35 598.79 C 425.50 599.87 425.01 601.04 424.98 602.16 C 424.96 603.29 425.17 604.99 425.21 605.55" stroke="#fff" stroke-opacity="0.3" stroke-width="0.6" fill="none"/>
<path d="M 439.53 595.42 C 440.09 595.36 441.79 595.19 442.91 595.08 C 444.04 594.97 445.17 594.83 446.30 594.74 C 447.43 594.66 449.13 594.58 449.70 594.54" stroke="#fff" stroke-opacity="0.3" stroke-width="0.6" fill="none"/>
<path d="M 444.17 555.33 C 443.92 555.69 443.30 556.87 442.70 557.48 C 442.10 558.09 441.15 558.37 440.56 558.98 C 439.97 559.60 439.40 560.82 439.16 561.19" stroke="#fff" stroke-opacity="0.3" stroke-width="0.6" fill="none"/>
<path d="M 440.62 605.49 C 440.14 605.30 438.69 604.76 437.75 604.35 C 436.80 603.94 435.79 603.61 434.96 603.03 C 434.13 602.44 433.14 601.21 432.78 600.85" stroke="#fff" stroke-opacity="0.3" stroke-width="0.6" fill="none"/>
<path d="M 414.53 593.78 C 414.38 594.24 413.93 595.63 413.62 596.56 C 413.31 597.48 413.03 598.42 412.68 599.33 C 412.34 600.24 411.73 601.57 411.54 602.02" stroke="#fff" stroke-opacity="0.3" stroke-width="0.6" fill="none"/>
<path d="M 460.96 618.79 C 460.33 619.02 458.43 619.72 457.16 620.17 C 455.89 620.62 454.65 621.21 453.35 621.50 C 452.04 621.79 450.00 621.85 449.33 621.92" stroke="#fff" stroke-opacity="0.3" stroke-width="0.6" fill="none"/>
<path d="M 439.12 591.86 C 438.26 591.78 435.59 591.88 434.00 591.34 C 432.42 590.81 430.76 589.85 429.63 588.65 C 428.50 587.44 427.63 584.86 427.23 584.11" stroke="#fff" stroke-opacity="0.3" stroke-width="0.6" fill="none"/>
<path d="M 425.43 593.73 C 425.99 593.16 427.99 591.64 428.80 590.31 C 429.62 588.98 429.88 587.29 430.33 585.76 C 430.79 584.23 431.35 581.89 431.55 581.12" stroke="#fff" stroke-opacity="0.3" stroke-width="0.6" fill="none"/>
<path d="M 412.15 571.09 C 412.64 571.59 414.40 572.94 415.10 574.12 C 415.79 575.30 415.66 576.96 416.33 578.17 C 416.99 579.38 418.62 580.85 419.08 581.38" stroke="#fff" stroke-opacity="0.3" stroke-width="0.6" fill="none"/>
<path d="M 457.84 600.88 C 457.94 601.70 457.95 604.23 458.39 605.79 C 458.84 607.35 460.26 608.68 460.53 610.25 C 460.81 611.81 460.14 614.35 460.06 615.17" stroke="#fff" stroke-opacity="0.3" stroke-width="0.6" fill="none"/>
<path d="M 435.28 588.60 C 435.99 588.24 438.15 587.21 439.53 586.43 C 440.92 585.66 442.24 584.75 443.60 583.93 C 444.96 583.11 447.03 581.91 447.71 581.50" stroke="#fff" stroke-opacity="0.3" stroke-width="0.6" fill="none"/>
<path d="M 431.08 567.90 C 431.18 568.62 431.55 570.80 431.72 572.26 C 431.89 573.72 431.90 575.19 432.08 576.65 C 432.25 578.11 432.63 580.28 432.75 581.01" stroke="#fff" stroke-opacity="0.3" stroke-width="0.6" fill="none"/>
<path d="M 408.28 577.54 C 407.69 577.38 405.71 577.21 404.70 576.60 C 403.69 575.98 402.86 574.87 402.22 573.84 C 401.57 572.81 401.05 570.98 400.82 570.41" stroke="#fff" stroke-opacity="0.3" stroke-width="0.6" fill="none"/>
<path d="M 475.99 561.44 C 475.84 561.76 475.30 562.70 475.10 563.37 C 474.89 564.05 474.72 564.79 474.76 565.48 C 474.81 566.17 475.27 567.18 475.37 567.53" stroke="#fff" stroke-opacity="0.3" stroke-width="0.6" fill="none"/>
<path d="M 436.98 618.71 C 436.99 618.23 436.78 616.74 437.02 615.85 C 437.26 614.96 437.92 614.17 438.43 613.36 C 438.93 612.55 439.77 611.39 440.04 611.00" stroke="#fff" stroke-opacity="0.3" stroke-width="0.6" fill="none"/>
<path d="M 456.73 560.35 C 457.42 560.54 459.48 561.48 460.87 561.50 C 462.25 561.53 463.65 560.45 465.04 560.48 C 466.42 560.51 468.47 561.48 469.16 561.68" stroke="#fff" stroke-opacity="0.3" stroke-width="0.6" fill="none"/>
<path d="M 452.05 610.92 C 452.85 610.92 455.36 610.59 456.90 610.95 C 458.44 611.30 459.81 612.37 461.29 613.02 C 462.77 613.67 465.04 614.54 465.78 614.85" stroke="#fff" stroke-opacity="0.3" stroke-width="0.6" fill="none"/>
<path d="M 431.08 593.27 C 431.38 592.89 432.26 591.74 432.87 590.99 C 433.47 590.24 434.23 589.59 434.72 588.77 C 435.21 587.96 435.63 586.54 435.81 586.09" stroke="#fff" stroke-opacity="0.3" stroke-width="0.6" fill="none"/>
<path d="M 414.77 565.46 C 415.21 565.50 416.55 565.73 417.43 565.71 C 418.32 565.68 419.20 565.31 420.08 565.32 C 420.96 565.34 422.27 565.70 422.71 565.77" stroke="#fff" stroke-opacity="0.3" stroke-width="0.6" fill="none"/>
<path d="M 427.59 589.51 C 428.04 589.78 429.33 590.73 430.30 591.13 C 431.26 591.52 432.35 591.93 433.36 591.88 C 434.37 591.83 435.84 591.00 436.34 590.82" stroke="#fff" stroke-opacity="0.3" stroke-width="0.6" fill="none"/>
<path d="M 459.05 593.12 C 458.96 593.72 458.43 595.52 458.54 596.67 C 458.65 597.83 459.55 598.90 459.71 600.06 C 459.87 601.22 459.56 603.04 459.53 603.64" stroke="#fff" stroke-opacity="0.3" stroke-width="0.6" fill="none"/>
<path d="M 437.68 589.15 C 437.97 588.67 438.72 587.18 439.39 586.31 C 440.05 585.43 440.76 584.44 441.68 583.92 C 442.60 583.40 444.37 583.30 444.90 583.17" stroke="#fff" stroke-opacity="0.3" stroke-width="0.6" fill="none"/>
<path d="M 431.33 613.09 C 431.07 612.46 430.41 610.49 429.78 609.28 C 429.15 608.06 428.54 606.69 427.56 605.81 C 426.58 604.92 424.49 604.26 423.88 603.95" stroke="#fff" stroke-opacity="0.3" stroke-width="0.6" fill="none"/>
<path d="M 416.22 559.02 C 416.01 558.60 415.55 557.17 414.95 556.47 C 414.35 555.77 413.25 555.51 412.61 554.83 C 411.97 554.15 411.37 552.81 411.12 552.40" stroke="#fff" stroke-opacity="0.3" stroke-width="0.6" fill="none"/>
<path d="M 468.81 601.61 C 468.83 602.08 468.87 603.48 468.94 604.41 C 469.01 605.35 468.94 606.33 469.21 607.21 C 469.48 608.08 470.35 609.25 470.58 609.66" stroke="#fff" stroke-opacity="0.3" stroke-width="0.6" fill="none"/>
<path d="M 438.65 572.69 C 439.51 572.53 442.18 572.30 443.81 571.73 C 445.44 571.16 446.79 569.62 448.43 569.26 C 450.07 568.91 452.79 569.56 453.66 569.62" stroke="#fff" stroke-opacity="0.3" stroke-width="0.6" fill="none"/>
<path d="M 428.98 579.32 C 429.52 579.30 431.16 579.26 432.25 579.24 C 433.34 579.22 434.47 579.39 435.52 579.17 C 436.57 578.96 438.05 578.16 438.56 577.96" stroke="#fff" stroke-opacity="0.3" stroke-width="0.6" fill="none"/>
<path d="M 442.84 554.35 C 442.85 554.73 442.69 555.95 442.91 556.65 C 443.13 557.35 443.61 558.10 444.17 558.57 C 444.73 559.05 445.92 559.35 446.27 559.50" stroke="#fff" stroke-opacity="0.3" stroke-width="0.6" fill="none"/>
<path d="M 428.60 570.53 C 428.18 570.06 426.83 568.73 426.08 567.73 C 425.34 566.73 424.64 565.65 424.14 564.51 C 423.64 563.37 423.26 561.50 423.08 560.90" stroke="#fff" stroke-opacity="0.3" stroke-width="0.6" fill="none"/>
<path d="M 469.42 581.66 C 469.36 582.53 469.44 585.22 469.11 586.93 C 468.78 588.64 468.12 590.33 467.42 591.93 C 466.71 593.54 465.31 595.80 464.89 596.57" stroke="#fff" stroke-opacity="0.3" stroke-width="0.6" fill="none"/>
<path d="M 410.11 613.31 C 410.74 613.04 412.57 612.00 413.88 611.72 C 415.19 611.44 416.68 611.94 417.97 611.62 C 419.26 611.31 421.03 610.12 421.64 609.82" stroke="#fff" stroke-opacity="0.3" stroke-width="0.6" fill="none"/>
<path d="M 444.19 589.81 C 444.81 589.34 446.64 587.87 447.93 586.99 C 449.22 586.12 450.49 585.03 451.93 584.57 C 453.38 584.11 455.82 584.28 456.60 584.23" stroke="#fff" stroke-opacity="0.3" stroke-width="0.6" fill="none"/>
<path d="M 455.49 603.23 C 455.67 603.52 456.19 604.45 456.61 605.00 C 457.04 605.56 457.46 606.18 458.02 606.56 C 458.59 606.95 459.66 607.19 459.99 607.31" stroke="#fff" stroke-opacity="0.3" stroke-width="0.6" fill="none"/>
<path d="M 466.34 593.66 C 465.99 593.08 464.92 591.33 464.20 590.17 C 463.48 589.02 463.01 587.57 462.02 586.72 C 461.03 585.87 458.89 585.36 458.27 585.09" stroke="#fff" stroke-opacity="0.3" stroke-width="0.6" fill="none"/>
<path d="M 463.64 607.13 C 463.02 607.00 461.15 606.28 459.94 606.34 C 458.72 606.40 457.56 607.29 456.33 607.50 C 455.10 607.71 453.18 607.58 452.55 607.60" stroke="#fff" stroke-opacity="0.3" stroke-width="0.6" fill="none"/>
<path d="M 424.91 559.29 C 425.09 560.00 425.86 562.12 426.03 563.57 C 426.19 565.03 426.33 566.66 425.89 568.00 C 425.44 569.35 423.79 571.04 423.37 571.65" stroke="#fff" stroke-opacity="0.3" stroke-width="0.6" fill="none"/>
<path d="M 442.07 581.16 C 441.37 581.03 439.24 580.72 437.87 580.36 C 436.49 580.00 435.12 579.55 433.82 578.98 C 432.52 578.41 430.69 577.27 430.06 576.93" stroke="#fff" stroke-opacity="0.3" stroke-width="0.6" fill="none"/>
<path d="M 412.50 564.47 C 412.66 565.20 413.18 567.38 413.43 568.85 C 413.68 570.32 413.42 571.98 414.01 573.29 C 414.59 574.59 416.45 576.11 416.94 576.67" stroke="#fff" stroke-opacity="0.3" stroke-width="0.6" fill="none"/>
<path d="M 411.31 573.08 C 411.11 572.39 410.68 570.25 410.12 568.94 C 409.56 567.63 408.66 566.47 407.94 565.23 C 407.23 563.98 406.19 562.09 405.84 561.47" stroke="#fff" stroke-opacity="0.3" stroke-width="0.6" fill="none"/>
<path d="M 439.99 587.11 C 440.76 587.42 443.36 587.98 444.61 588.97 C 445.86 589.96 446.92 591.54 447.47 593.05 C 448.03 594.55 447.85 597.18 447.92 598.00" stroke="#fff" stroke-opacity="0.3" stroke-width="0.6" fill="none"/>
<path d="M 408.24 586.59 C 408.56 585.78 409.76 583.41 410.17 581.73 C 410.58 580.05 410.83 578.24 410.70 576.53 C 410.58 574.82 409.63 572.31 409.42 571.46" stroke="#fff" stroke-opacity="0.3" stroke-width="0.6" fill="none"/>
<path d="M 474.14 568.96 C 473.78 568.75 472.56 568.26 472.02 567.69 C 471.47 567.11 471.38 566.11 470.86 565.50 C 470.34 564.89 469.21 564.27 468.88 564.02" stroke="#fff" stroke-opacity="0.3" stroke-width="0.6" fill="none"/>
<path d="M 465.24 590.12 C 465.61 589.50 466.47 587.39 467.46 586.39 C 468.45 585.39 469.93 584.87 471.15 584.10 C 472.37 583.32 474.19 582.13 474.80 581.74" stroke="#fff" stroke-opacity="0.3" stroke-width="0.6" fill="none"/>
<path d="M 408.76 554.25 C 408.20 554.42 406.40 554.70 405.41 555.26 C 404.41 555.81 403.57 556.72 402.78 557.57 C 401.98 558.41 400.98 559.87 400.62 560.33" stroke="#fff" stroke-opacity="0.3" stroke-width="0.6" fill="none"/>
<path d="M 429.44 613.66 C 430.13 613.96 432.12 615.21 433.56 615.48 C 434.99 615.76 436.64 615.00 438.06 615.31 C 439.47 615.63 441.39 617.02 442.06 617.37" stroke="#fff" stroke-opacity="0.3" stroke-width="0.6" fill="none"/>
<path d="M 457.62 618.01 C 457.56 618.55 457.65 620.29 457.23 621.23 C 456.81 622.17 455.85 622.89 455.09 623.66 C 454.34 624.44 453.11 625.49 452.71 625.86" stroke="#fff" stroke-opacity="0.3" stroke-width="0.6" fill="none"/>
<path d="M 432.61 584.39 C 432.72 584.73 433.21 585.74 433.29 586.44 C 433.37 587.14 433.08 587.88 433.11 588.60 C 433.15 589.31 433.43 590.37 433.49 590.72" stroke="#fff" stroke-opacity="0.3" stroke-width="0.6" fill="none"/>
<path d="M 473.43 571.70 C 473.59 572.30 474.01 574.11 474.43 575.27 C 474.85 576.42 475.78 577.47 475.95 578.64 C 476.13 579.82 475.58 581.70 475.50 582.32" stroke="#fff" stroke-opacity="0.3" stroke-width="0.6" fill="none"/>
<path d="M 469.78 611.65 C 469.60 610.83 469.00 608.38 468.68 606.73 C 468.37 605.08 467.93 603.41 467.88 601.75 C 467.83 600.08 468.31 597.56 468.40 596.73" stroke="#fff" stroke-opacity="0.3" stroke-width="0.6" fill="none"/>
<path d="M 410.51 606.00 C 409.77 606.10 407.48 606.22 406.05 606.61 C 404.61 606.99 403.02 607.44 401.88 608.33 C 400.74 609.22 399.64 611.35 399.19 611.95" stroke="#fff" stroke-opacity="0.3" stroke-width="0.6" fill="none"/>
<path d="M 472.80 563.04 C 472.32 563.25 470.92 564.03 469.93 564.31 C 468.93 564.60 467.80 564.88 466.81 564.72 C 465.81 564.57 464.44 563.61 463.96 563.38" stroke="#fff" stroke-opacity="0.3" stroke-width="0.6" fill="none"/>
<path d="M 425.47 600.58 C 425.35 601.21 424.72 603.10 424.73 604.36 C 424.74 605.62 425.02 606.98 425.52 608.14 C 426.03 609.29 427.37 610.77 427.74 611.29" stroke="#fff" stroke-opacity="0.3" stroke-width="0.6" fill="none"/>
<path d="M 421.76 618.32 C 421.35 618.12 419.95 617.69 419.32 617.09 C 418.69 616.48 418.46 615.48 418.00 614.70 C 417.53 613.91 416.77 612.77 416.53 612.39" stroke="#fff" stroke-opacity="0.3" stroke-width="0.6" fill="none"/>
<path d="M 416.91 567.66 C 417.43 567.70 419.01 567.99 420.04 567.91 C 421.07 567.83 422.13 567.57 423.10 567.18 C 424.06 566.80 425.36 565.87 425.81 565.61" stroke="#fff" stroke-opacity="0.3" stroke-width="0.6" fill="none"/>
<path d="M 447.44 616.99 C 447.38 616.44 447.19 614.76 447.09 613.64 C 446.99 612.52 447.00 611.38 446.83 610.27 C 446.66 609.16 446.20 607.53 446.08 606.98" stroke="#fff" stroke-opacity="0.3" stroke-width="0.6" fill="none"/>
<path d="M 431.01 558.41 C 431.25 559.24 431.97 561.76 432.44 563.43 C 432.91 565.11 433.51 566.76 433.84 568.47 C 434.18 570.17 434.35 572.79 434.45 573.66" stroke="#fff" stroke-opacity="0.3" stroke-width="0.6" fill="none"/>
<ellipse cx="431.8" cy="570.8" rx="7.2" ry="6.8" fill="#fff" fill-opacity="0.24" filter="url(#b2_5)"/>
<ellipse cx="457.0" cy="574.1" rx="7.2" ry="6.8" fill="#fff" fill-opacity="0.27" filter="url(#b2_5)"/>
<ellipse cx="459.2" cy="605.8" rx="7.2" ry="6.8" fill="#fff" fill-opacity="0.26" filter="url(#b2_5)"/>
<ellipse cx="422.0" cy="593.8" rx="5.6" ry="5.2" fill="#fff" fill-opacity="0.15" filter="url(#b2_5)"/>
<g filter="url(#lesf)">
<ellipse cx="431.8" cy="570.8" rx="5.0" ry="4.5" fill="#fff" fill-opacity="0.80"/>
<ellipse cx="457.0" cy="574.1" rx="5.0" ry="4.5" fill="#fff" fill-opacity="0.90"/>
<ellipse cx="459.2" cy="605.8" rx="5.0" ry="4.5" fill="#fff" fill-opacity="0.85"/>
<ellipse cx="422.0" cy="593.8" rx="3.9" ry="3.5" fill="#fff" fill-opacity="0.50"/>
</g>
<ellipse cx="431.8" cy="570.8" rx="3.8" ry="3.6" fill="#fff" fill-opacity="0.76" filter="url(#b1_0)"/>
<ellipse cx="457.0" cy="574.1" rx="3.8" ry="3.6" fill="#fff" fill-opacity="0.85" filter="url(#b1_0)"/>
<ellipse cx="459.2" cy="605.8" rx="3.8" ry="3.6" fill="#fff" fill-opacity="0.81" filter="url(#b1_0)"/>
<ellipse cx="422.0" cy="593.8" rx="3.0" ry="2.8" fill="#fff" fill-opacity="0.47" filter="url(#b1_0)"/>
<path d="M 441.70 588.30 C 442.45 587.18 444.70 583.81 446.18 581.56 C 447.66 579.30 449.02 576.96 450.59 574.77 C 452.16 572.58 453.86 570.47 455.60 568.41 C 457.34 566.35 459.15 564.34 461.04 562.41 C 462.92 560.48 465.93 557.77 466.90 556.84" stroke="#fff" stroke-opacity="0.55" stroke-width="0.70" fill="none" stroke-linecap="round" filter="url(#b0_4)"/>
<path d="M 441.70 588.30 C 442.45 587.18 444.70 583.81 446.18 581.56 C 447.66 579.30 449.02 576.96 450.59 574.77 C 452.16 572.58 454.76 569.47 455.60 568.41" stroke="#fff" stroke-opacity="0.62" stroke-width="1.22" fill="none" stroke-linecap="round" filter="url(#b0_4)"/>
<path d="M 441.70 588.30 C 442.45 587.18 444.70 583.81 446.18 581.56 C 447.66 579.30 449.86 575.90 450.59 574.77" stroke="#fff" stroke-opacity="0.68" stroke-width="1.74" fill="none" stroke-linecap="round" filter="url(#b0_4)"/>
<path d="M 455.60 568.41 C 456.27 567.83 458.21 565.98 459.65 564.95 C 461.08 563.92 462.64 563.03 464.22 562.23 C 465.80 561.42 468.30 560.47 469.11 560.12" stroke="#fff" stroke-opacity="0.54" stroke-width="0.38" fill="none" stroke-linecap="round" filter="url(#b0_4)"/>
<path d="M 455.60 568.41 C 456.27 567.83 458.21 565.98 459.65 564.95 C 461.08 563.92 463.46 562.68 464.22 562.23" stroke="#fff" stroke-opacity="0.61" stroke-width="0.67" fill="none" stroke-linecap="round" filter="url(#b0_4)"/>
<path d="M 455.60 568.41 C 456.27 567.83 458.97 565.53 459.65 564.95" stroke="#fff" stroke-opacity="0.68" stroke-width="0.96" fill="none" stroke-linecap="round" filter="url(#b0_4)"/>
<path d="M 441.70 588.30 C 443.03 588.05 447.03 587.41 449.66 586.82 C 452.29 586.24 454.88 585.47 457.50 584.80 C 460.11 584.13 462.72 583.42 465.34 582.81 C 467.97 582.19 470.60 581.56 473.26 581.11 C 475.92 580.66 479.95 580.28 481.29 580.11" stroke="#fff" stroke-opacity="0.64" stroke-width="0.95" fill="none" stroke-linecap="round" filter="url(#b0_4)"/>
<path d="M 441.70 588.30 C 443.03 588.05 447.03 587.41 449.66 586.82 C 452.29 586.24 454.88 585.47 457.50 584.80 C 460.11 584.13 464.04 583.14 465.34 582.81" stroke="#fff" stroke-opacity="0.72" stroke-width="1.66" fill="none" stroke-linecap="round" filter="url(#b0_4)"/>
<path d="M 441.70 588.30 C 443.03 588.05 447.03 587.41 449.66 586.82 C 452.29 586.24 456.19 585.14 457.50 584.80" stroke="#fff" stroke-opacity="0.80" stroke-width="2.38" fill="none" stroke-linecap="round" filter="url(#b0_4)"/>
<path d="M 441.70 588.30 C 443.05 588.87 447.12 590.49 449.78 591.70 C 452.44 592.91 455.00 594.34 457.66 595.55 C 460.32 596.76 463.09 597.72 465.73 598.97 C 468.37 600.23 470.92 601.66 473.48 603.06 C 476.05 604.46 479.85 606.66 481.12 607.38" stroke="#fff" stroke-opacity="0.59" stroke-width="0.76" fill="none" stroke-linecap="round" filter="url(#b0_4)"/>
<path d="M 441.70 588.30 C 443.05 588.87 447.12 590.49 449.78 591.70 C 452.44 592.91 455.00 594.34 457.66 595.55 C 460.32 596.76 464.38 598.40 465.73 598.97" stroke="#fff" stroke-opacity="0.66" stroke-width="1.34" fill="none" stroke-linecap="round" filter="url(#b0_4)"/>
<path d="M 441.70 588.30 C 443.05 588.87 447.12 590.49 449.78 591.70 C 452.44 592.91 456.35 594.91 457.66 595.55" stroke="#fff" stroke-opacity="0.73" stroke-width="1.91" fill="none" stroke-linecap="round" filter="url(#b0_4)"/>
<path d="M 465.73 598.97 C 466.34 599.62 468.08 601.66 469.40 602.83 C 470.73 604.00 472.26 604.94 473.68 606.00 C 475.10 607.07 477.22 608.68 477.93 609.21" stroke="#fff" stroke-opacity="0.54" stroke-width="0.42" fill="none" stroke-linecap="round" filter="url(#b0_4)"/>
<path d="M 465.73 598.97 C 466.34 599.62 468.08 601.66 469.40 602.83 C 470.73 604.00 472.97 605.47 473.68 606.00" stroke="#fff" stroke-opacity="0.61" stroke-width="0.74" fill="none" stroke-linecap="round" filter="url(#b0_4)"/>
<path d="M 465.73 598.97 C 466.34 599.62 468.79 602.19 469.40 602.83" stroke="#fff" stroke-opacity="0.68" stroke-width="1.05" fill="none" stroke-linecap="round" filter="url(#b0_4)"/>
<path d="M 441.70 588.30 C 442.34 589.48 444.15 593.08 445.54 595.37 C 446.93 597.65 448.50 599.83 450.05 602.02 C 451.59 604.21 453.22 606.34 454.81 608.49 C 456.41 610.65 458.13 612.71 459.63 614.93 C 461.14 617.14 463.14 620.64 463.84 621.78" stroke="#fff" stroke-opacity="0.63" stroke-width="0.74" fill="none" stroke-linecap="round" filter="url(#b0_4)"/>
<path d="M 441.70 588.30 C 442.34 589.48 444.15 593.08 445.54 595.37 C 446.93 597.65 448.50 599.83 450.05 602.02 C 451.59 604.21 454.02 607.42 454.81 608.49" stroke="#fff" stroke-opacity="0.71" stroke-width="1.29" fill="none" stroke-linecap="round" filter="url(#b0_4)"/>
<path d="M 441.70 588.30 C 442.34 589.48 444.15 593.08 445.54 595.37 C 446.93 597.65 449.29 600.91 450.05 602.02" stroke="#fff" stroke-opacity="0.79" stroke-width="1.85" fill="none" stroke-linecap="round" filter="url(#b0_4)"/>
<path d="M 441.70 588.30 C 441.48 589.63 440.87 593.63 440.38 596.28 C 439.88 598.93 439.23 601.56 438.73 604.21 C 438.23 606.86 437.71 609.51 437.39 612.19 C 437.07 614.86 437.01 617.57 436.82 620.26 C 436.63 622.95 436.34 626.98 436.25 628.33" stroke="#fff" stroke-opacity="0.64" stroke-width="0.68" fill="none" stroke-linecap="round" filter="url(#b0_4)"/>
<path d="M 441.70 588.30 C 441.48 589.63 440.87 593.63 440.38 596.28 C 439.88 598.93 439.23 601.56 438.73 604.21 C 438.23 606.86 437.61 610.86 437.39 612.19" stroke="#fff" stroke-opacity="0.72" stroke-width="1.20" fill="none" stroke-linecap="round" filter="url(#b0_4)"/>
<path d="M 441.70 588.30 C 441.48 589.63 440.87 593.63 440.38 596.28 C 439.88 598.93 439.01 602.89 438.73 604.21" stroke="#fff" stroke-opacity="0.79" stroke-width="1.71" fill="none" stroke-linecap="round" filter="url(#b0_4)"/>
<path d="M 437.39 612.19 C 437.59 613.05 438.09 615.67 438.58 617.38 C 439.07 619.08 439.59 620.80 440.32 622.41 C 441.06 624.02 442.53 626.26 442.97 627.03" stroke="#fff" stroke-opacity="0.54" stroke-width="0.38" fill="none" stroke-linecap="round" filter="url(#b0_4)"/>
<path d="M 437.39 612.19 C 437.59 613.05 438.09 615.67 438.58 617.38 C 439.07 619.08 440.03 621.57 440.32 622.41" stroke="#fff" stroke-opacity="0.61" stroke-width="0.66" fill="none" stroke-linecap="round" filter="url(#b0_4)"/>
<path d="M 437.39 612.19 C 437.59 613.05 438.38 616.51 438.58 617.38" stroke="#fff" stroke-opacity="0.68" stroke-width="0.94" fill="none" stroke-linecap="round" filter="url(#b0_4)"/>
<path d="M 441.70 588.30 C 440.86 589.55 438.41 593.37 436.66 595.82 C 434.90 598.28 433.06 600.68 431.18 603.04 C 429.29 605.40 427.30 607.67 425.36 609.98 C 423.42 612.29 421.40 614.55 419.53 616.91 C 417.66 619.28 415.02 622.97 414.12 624.18" stroke="#fff" stroke-opacity="0.68" stroke-width="0.75" fill="none" stroke-linecap="round" filter="url(#b0_4)"/>
<path d="M 441.70 588.30 C 440.86 589.55 438.41 593.37 436.66 595.82 C 434.90 598.28 433.06 600.68 431.18 603.04 C 429.29 605.40 426.33 608.82 425.36 609.98" stroke="#fff" stroke-opacity="0.76" stroke-width="1.31" fill="none" stroke-linecap="round" filter="url(#b0_4)"/>
<path d="M 441.70 588.30 C 440.86 589.55 438.41 593.37 436.66 595.82 C 434.90 598.28 432.09 601.83 431.18 603.04" stroke="#fff" stroke-opacity="0.84" stroke-width="1.88" fill="none" stroke-linecap="round" filter="url(#b0_4)"/>
<path d="M 431.18 603.04 C 431.05 603.92 430.81 606.58 430.43 608.31 C 430.05 610.04 429.26 611.67 428.88 613.40 C 428.49 615.13 428.26 617.80 428.13 618.67" stroke="#fff" stroke-opacity="0.54" stroke-width="0.41" fill="none" stroke-linecap="round" filter="url(#b0_4)"/>
<path d="M 431.18 603.04 C 431.05 603.92 430.81 606.58 430.43 608.31 C 430.05 610.04 429.13 612.55 428.88 613.40" stroke="#fff" stroke-opacity="0.61" stroke-width="0.72" fill="none" stroke-linecap="round" filter="url(#b0_4)"/>
<path d="M 431.18 603.04 C 431.05 603.92 430.55 607.43 430.43 608.31" stroke="#fff" stroke-opacity="0.68" stroke-width="1.03" fill="none" stroke-linecap="round" filter="url(#b0_4)"/>
<path d="M 441.70 588.30 C 440.14 588.60 435.48 589.64 432.34 590.12 C 429.20 590.59 426.00 590.67 422.87 591.16 C 419.73 591.65 416.64 592.44 413.52 593.04 C 410.40 593.64 407.29 594.31 404.14 594.74 C 401.00 595.18 396.23 595.50 394.65 595.65" stroke="#fff" stroke-opacity="0.55" stroke-width="0.82" fill="none" stroke-linecap="round" filter="url(#b0_4)"/>
<path d="M 441.70 588.30 C 440.14 588.60 435.48 589.64 432.34 590.12 C 429.20 590.59 426.00 590.67 422.87 591.16 C 419.73 591.65 415.08 592.73 413.52 593.04" stroke="#fff" stroke-opacity="0.62" stroke-width="1.43" fill="none" stroke-linecap="round" filter="url(#b0_4)"/>
<path d="M 441.70 588.30 C 440.14 588.60 435.48 589.64 432.34 590.12 C 429.20 590.59 424.45 590.99 422.87 591.16" stroke="#fff" stroke-opacity="0.69" stroke-width="2.05" fill="none" stroke-linecap="round" filter="url(#b0_4)"/>
<path d="M 422.87 591.16 C 421.98 591.21 419.32 591.31 417.55 591.44 C 415.78 591.57 414.02 591.91 412.25 591.94 C 410.48 591.97 407.82 591.65 406.93 591.60" stroke="#fff" stroke-opacity="0.54" stroke-width="0.45" fill="none" stroke-linecap="round" filter="url(#b0_4)"/>
<path d="M 422.87 591.16 C 421.98 591.21 419.32 591.31 417.55 591.44 C 415.78 591.57 413.13 591.86 412.25 591.94" stroke="#fff" stroke-opacity="0.61" stroke-width="0.79" fill="none" stroke-linecap="round" filter="url(#b0_4)"/>
<path d="M 422.87 591.16 C 421.98 591.21 418.44 591.39 417.55 591.44" stroke="#fff" stroke-opacity="0.68" stroke-width="1.13" fill="none" stroke-linecap="round" filter="url(#b0_4)"/>
<path d="M 441.70 588.30 C 440.38 587.36 436.44 584.48 433.76 582.64 C 431.08 580.79 428.39 578.96 425.62 577.25 C 422.86 575.54 419.91 574.12 417.17 572.38 C 414.42 570.64 411.79 568.72 409.17 566.79 C 406.55 564.87 402.74 561.82 401.45 560.82" stroke="#fff" stroke-opacity="0.55" stroke-width="0.86" fill="none" stroke-linecap="round" filter="url(#b0_4)"/>
<path d="M 441.70 588.30 C 440.38 587.36 436.44 584.48 433.76 582.64 C 431.08 580.79 428.39 578.96 425.62 577.25 C 422.86 575.54 418.58 573.19 417.17 572.38" stroke="#fff" stroke-opacity="0.62" stroke-width="1.51" fill="none" stroke-linecap="round" filter="url(#b0_4)"/>
<path d="M 441.70 588.30 C 440.38 587.36 436.44 584.48 433.76 582.64 C 431.08 580.79 426.98 578.14 425.62 577.25" stroke="#fff" stroke-opacity="0.69" stroke-width="2.16" fill="none" stroke-linecap="round" filter="url(#b0_4)"/>
<path d="M 441.70 588.30 C 440.86 587.21 438.43 583.84 436.64 581.75 C 434.85 579.65 432.89 577.69 430.96 575.73 C 429.02 573.76 427.02 571.85 425.01 569.96 C 423.00 568.07 420.85 566.33 418.90 564.38 C 416.95 562.43 414.25 559.28 413.32 558.26" stroke="#fff" stroke-opacity="0.56" stroke-width="0.73" fill="none" stroke-linecap="round" filter="url(#b0_4)"/>
<path d="M 441.70 588.30 C 440.86 587.21 438.43 583.84 436.64 581.75 C 434.85 579.65 432.89 577.69 430.96 575.73 C 429.02 573.76 426.00 570.92 425.01 569.96" stroke="#fff" stroke-opacity="0.63" stroke-width="1.29" fill="none" stroke-linecap="round" filter="url(#b0_4)"/>
<path d="M 441.70 588.30 C 440.86 587.21 438.43 583.84 436.64 581.75 C 434.85 579.65 431.90 576.73 430.96 575.73" stroke="#fff" stroke-opacity="0.70" stroke-width="1.84" fill="none" stroke-linecap="round" filter="url(#b0_4)"/>
<path d="M 441.70 588.30 C 441.76 586.74 441.97 582.06 442.07 578.94 C 442.18 575.82 442.38 572.70 442.32 569.58 C 442.26 566.46 441.93 563.35 441.72 560.23 C 441.52 557.11 441.33 554.00 441.08 550.89 C 440.82 547.77 440.34 543.11 440.19 541.56" stroke="#fff" stroke-opacity="0.67" stroke-width="0.73" fill="none" stroke-linecap="round" filter="url(#b0_4)"/>
<path d="M 441.70 588.30 C 441.76 586.74 441.97 582.06 442.07 578.94 C 442.18 575.82 442.38 572.70 442.32 569.58 C 442.26 566.46 441.82 561.79 441.72 560.23" stroke="#fff" stroke-opacity="0.75" stroke-width="1.27" fill="none" stroke-linecap="round" filter="url(#b0_4)"/>
<path d="M 441.70 588.30 C 441.76 586.74 441.97 582.06 442.07 578.94 C 442.18 575.82 442.28 571.14 442.32 569.58" stroke="#fff" stroke-opacity="0.84" stroke-width="1.82" fill="none" stroke-linecap="round" filter="url(#b0_4)"/>
<path d="M 441.72 560.23 C 441.94 559.37 442.49 556.75 443.03 555.07 C 443.57 553.38 444.23 551.72 444.96 550.11 C 445.69 548.49 447.01 546.17 447.42 545.38" stroke="#fff" stroke-opacity="0.54" stroke-width="0.40" fill="none" stroke-linecap="round" filter="url(#b0_4)"/>
<path d="M 441.72 560.23 C 441.94 559.37 442.49 556.75 443.03 555.07 C 443.57 553.38 444.64 550.93 444.96 550.11" stroke="#fff" stroke-opacity="0.61" stroke-width="0.70" fill="none" stroke-linecap="round" filter="url(#b0_4)"/>
<path d="M 441.72 560.23 C 441.94 559.37 442.81 555.93 443.03 555.07" stroke="#fff" stroke-opacity="0.68" stroke-width="1.00" fill="none" stroke-linecap="round" filter="url(#b0_4)"/>
<circle cx="441.7" cy="588.3" r="11.0" fill="#fff" fill-opacity="0.35" filter="url(#b3_0)"/>
<circle cx="441.7" cy="588.3" r="5" fill="#fff" filter="url(#b1_5)"/>
<circle cx="441.7" cy="588.3" r="1.2" fill="#000" fill-opacity="0.6"/>
</g>
<rect x="409.30" y="579.10" width="26.20" height="25.60" fill="none" stroke="#eee" stroke-width="0.8" stroke-dasharray="2.2 1.4"/>
<line x1="453.50" y1="617.90" x2="475.00" y2="617.90" stroke="#fff" stroke-width="1.6"/>
</g>
<g clip-path="url(#c17)">
<rect x="410.10" y="183.30" width="72.00" height="70.70" fill="url(#zgc17)" stroke="none" stroke-width="1"/>
<rect x="410.10" y="183.30" width="72.00" height="70.70" fill="#000" stroke="none" stroke-width="1" filter="url(#motd)" opacity="0.6"/>
<rect x="410.10" y="183.30" width="72.00" height="70.70" fill="#000" stroke="none" stroke-width="1" filter="url(#motw)" opacity="0.35"/>
<rect x="410" y="236" width="73" height="20" fill="#000" fill-opacity="0.22" filter="url(#b1_5)"/>
<ellipse cx="448.0" cy="208.0" rx="24.0" ry="15.0" fill="#fff" fill-opacity="0.35" filter="url(#b4_0)"/>
<ellipse cx="449.0" cy="204.0" rx="15.0" ry="7.0" fill="#fff" fill-opacity="0.95" filter="url(#b2_0)"/>
<ellipse cx="461.0" cy="210.0" rx="6.0" ry="8.0" fill="#fff" fill-opacity="0.9" filter="url(#b1_5)"/>
<ellipse cx="437.0" cy="207.0" rx="6.0" ry="5.0" fill="#fff" fill-opacity="0.85" filter="url(#b1_5)"/>
<ellipse cx="455.0" cy="200.0" rx="8.0" ry="4.0" fill="#fff" fill-opacity="0.8" filter="url(#b1_5)"/>
<path d="M 405 231 C 425 231 445 232 470 233" stroke="#fff" stroke-opacity="0.75" stroke-width="7" fill="none" stroke-linecap="round" filter="url(#b2_0)"/>
<path d="M 465 233 L 490 234" stroke="#fff" stroke-opacity="0.35" stroke-width="6" fill="none" stroke-linecap="round" filter="url(#b2_0)"/>
<path d="M 405 231 L 440 231" stroke="#fff" stroke-opacity="0.55" stroke-width="5" fill="none" stroke-linecap="round" filter="url(#b1_5)"/>
<path d="M 432 210 C 431 218 431 224 431 231" stroke="#fff" stroke-opacity="0.75" stroke-width="1.2" fill="none" stroke-linecap="round" filter="url(#b0_6)"/>
<path d="M 437 211 C 438 218 437 224 436 231" stroke="#fff" stroke-opacity="0.6" stroke-width="1.0" fill="none" stroke-linecap="round" filter="url(#b0_6)"/>
<path d="M 448 212 C 448 219 449 225 449 231" stroke="#fff" stroke-opacity="0.6" stroke-width="1.0" fill="none" stroke-linecap="round" filter="url(#b0_6)"/>
<path d="M 455 213 C 455 220 454 226 454 231" stroke="#fff" stroke-opacity="0.55" stroke-width="1.0" fill="none" stroke-linecap="round" filter="url(#b0_6)"/>
<path d="M 411 198 C 415 190 422 185 432 182" stroke="#fff" stroke-opacity="0.55" stroke-width="2" fill="none" stroke-linecap="round" filter="url(#b1_0)"/>
<path d="M 478 190 C 476 205 477 220 479 240" stroke="#fff" stroke-opacity="0.4" stroke-width="1.2" fill="none" stroke-linecap="round" filter="url(#b0_8)"/>
<path d="M 452 233 C 452 240 453 248 454 256" stroke="#fff" stroke-opacity="0.45" stroke-width="1.2" fill="none" stroke-linecap="round" filter="url(#b0_8)"/>
<path d="M 476 181 L 486 181 L 486 192 C 482 188 479 184 476 181 Z" fill="#050505" filter="url(#b0_5)"/>
</g>
<line x1="456.80" y1="247.40" x2="477.70" y2="247.40" stroke="#fff" stroke-width="1.6"/>
<g clip-path="url(#c18)">
<rect x="410.10" y="255.70" width="72.00" height="70.70" fill="url(#zgc18)" stroke="none" stroke-width="1"/>
<rect x="410.10" y="255.70" width="72.00" height="70.70" fill="#000" stroke="none" stroke-width="1" filter="url(#motd)" opacity="0.6"/>
<rect x="410.10" y="255.70" width="72.00" height="70.70" fill="#000" stroke="none" stroke-width="1" filter="url(#motw)" opacity="0.35"/>
<ellipse cx="445.0" cy="280.0" rx="22.0" ry="20.0" fill="#fff" fill-opacity="0.2" filter="url(#b4_0)"/>
<ellipse cx="430.0" cy="282.0" rx="10.0" ry="15.0" fill="#fff" fill-opacity="0.85" filter="url(#b3_0)"/>
<ellipse cx="458.0" cy="282.0" rx="10.0" ry="15.0" fill="#fff" fill-opacity="0.8" filter="url(#b3_0)"/>
<ellipse cx="445.0" cy="268.0" rx="14.0" ry="6.0" fill="#fff" fill-opacity="0.6" filter="url(#b2_5)"/>
<ellipse cx="445.0" cy="298.0" rx="12.0" ry="6.0" fill="#fff" fill-opacity="0.5" filter="url(#b2_5)"/>
<ellipse cx="451.0" cy="326.0" rx="8.0" ry="5.0" fill="#fff" fill-opacity="0.95" filter="url(#b2_0)"/>
<path d="M 450 330 C 447 300 444 275 441 254" stroke="#fff" stroke-opacity="0.95" stroke-width="4" fill="none" stroke-linecap="round" filter="url(#b0_8)"/>
<path d="M 450 330 C 440 310 425 290 408 272" stroke="#fff" stroke-opacity="0.95" stroke-width="4" fill="none" stroke-linecap="round" filter="url(#b0_8)"/>
<path d="M 452 330 C 462 310 472 295 484 285" stroke="#fff" stroke-opacity="0.9" stroke-width="3.5" fill="none" stroke-linecap="round" filter="url(#b0_8)"/>
<path d="M 452 330 C 465 322 475 320 486 318" stroke="#fff" stroke-opacity="0.9" stroke-width="4" fill="none" stroke-linecap="round" filter="url(#b0_8)"/>
<path d="M 438 300 C 445 295 455 292 465 290" stroke="#fff" stroke-opacity="0.5" stroke-width="1" fill="none" stroke-linecap="round" filter="url(#b0_6)"/>
<path d="M 430 274 C 440 273 450 274 460 275" stroke="#fff" stroke-opacity="0.5" stroke-width="1" fill="none" stroke-linecap="round" filter="url(#b0_6)"/>
<ellipse cx="450" cy="281" rx="6" ry="8" fill="#000" fill-opacity="0.25" filter="url(#b2_0)"/>
<path d="M 405 250 L 422 250 C 416 254 412 258 405 266 Z" fill="#050505" filter="url(#b0_5)"/>
</g>
<line x1="456.00" y1="319.70" x2="478.00" y2="319.70" stroke="#fff" stroke-width="1.6"/>
<g clip-path="url(#c19)">
<rect x="188.20" y="626.30" width="71.10" height="71.00" fill="url(#zgc19)" stroke="none" stroke-width="1"/>
<rect x="188.20" y="626.30" width="71.10" height="71.00" fill="#000" stroke="none" stroke-width="1" filter="url(#motd)" opacity="0.6"/>
<rect x="188.20" y="626.30" width="71.10" height="71.00" fill="#000" stroke="none" stroke-width="1" filter="url(#motw)" opacity="0.25"/>
<ellipse cx="225.0" cy="665.0" rx="10.0" ry="9.0" fill="#fff" fill-opacity="0.95" filter="url(#b2_0)"/>
<ellipse cx="226.0" cy="657.0" rx="5.0" ry="4.0" fill="#fff" fill-opacity="0.6" filter="url(#b1_2)"/>
<path d="M 186 690 C 210 682 235 673 262 666" stroke="#fff" stroke-opacity="0.45" stroke-width="2.5" fill="none" stroke-linecap="round" filter="url(#b0_8)"/>
<path d="M 186 699 C 210 693 235 686 262 680" stroke="#fff" stroke-opacity="0.35" stroke-width="2" fill="none" stroke-linecap="round" filter="url(#b0_8)"/>
<path d="M 196 626 C 200 650 205 670 210 700" stroke="#fff" stroke-opacity="0.3" stroke-width="1.5" fill="none" stroke-linecap="round" filter="url(#b0_8)"/>
<path d="M 186 640 C 200 650 215 660 230 690" stroke="#fff" stroke-opacity="0.3" stroke-width="1.2" fill="none" stroke-linecap="round" filter="url(#b0_8)"/>
<path d="M 205 626 C 215 640 222 650 228 660" stroke="#fff" stroke-opacity="0.3" stroke-width="1.2" fill="none" stroke-linecap="round" filter="url(#b0_8)"/>
<path d="M 236 624 L 262 624 L 262 656 C 254 643 246 632 236 624 Z" fill="#050505" filter="url(#b0_5)"/>
</g>
<line x1="232.30" y1="690.50" x2="253.00" y2="690.50" stroke="#fff" stroke-width="1.6"/>
<g clip-path="url(#c20)">
<rect x="261.10" y="626.30" width="70.90" height="71.00" fill="url(#zgc20)" stroke="none" stroke-width="1"/>
<rect x="261.10" y="626.30" width="70.90" height="71.00" fill="#000" stroke="none" stroke-width="1" filter="url(#motd)" opacity="0.6"/>
<rect x="261.10" y="626.30" width="70.90" height="71.00" fill="#000" stroke="none" stroke-width="1" filter="url(#motw)" opacity="0.3"/>
<ellipse cx="297.0" cy="669.0" rx="30.0" ry="28.0" fill="#fff" fill-opacity="0.7" filter="url(#b5_0)"/>
<ellipse cx="297.0" cy="670.0" rx="22.0" ry="22.0" fill="#fff" fill-opacity="0.85" filter="url(#b3_0)"/>
<path d="M 262 650 C 275 643 290 636 302 625" stroke="#fff" stroke-opacity="0.85" stroke-width="3" fill="none" stroke-linecap="round" filter="url(#b0_8)"/>
<path d="M 304 652 C 305 642 306 634 307 624" stroke="#fff" stroke-opacity="0.9" stroke-width="3.5" fill="none" stroke-linecap="round" filter="url(#b0_8)"/>
<path d="M 322 650 C 323 640 325 632 327 624" stroke="#fff" stroke-opacity="0.85" stroke-width="2.5" fill="none" stroke-linecap="round" filter="url(#b0_8)"/>
<path d="M 330 660 C 331 645 332 635 333 624" stroke="#fff" stroke-opacity="0.8" stroke-width="2" fill="none" stroke-linecap="round" filter="url(#b0_8)"/>
<path d="M 285 630 C 290 640 295 648 300 655" stroke="#fff" stroke-opacity="0.4" stroke-width="1" fill="none" stroke-linecap="round" filter="url(#b0_8)"/>
<path d="M 259 675 C 265 685 272 693 280 700 L 259 700 Z" fill="#050505" filter="url(#b0_5)"/>
</g>
<line x1="305.00" y1="690.50" x2="326.00" y2="690.50" stroke="#fff" stroke-width="1.6"/>
<g clip-path="url(#c21)">
<rect x="334.00" y="626.30" width="71.30" height="71.00" fill="url(#zgc21)" stroke="none" stroke-width="1"/>
<rect x="334.00" y="626.30" width="71.30" height="71.00" fill="#000" stroke="none" stroke-width="1" filter="url(#motd)" opacity="0.6"/>
<rect x="334.00" y="626.30" width="71.30" height="71.00" fill="#000" stroke="none" stroke-width="1" filter="url(#motw)" opacity="0.35"/>
<ellipse cx="367.7" cy="665.0" rx="10.0" ry="9.0" fill="#fff" fill-opacity="0.95" filter="url(#b2_5)"/>
<path d="M 330 628 C 342 648 355 672 366 700" stroke="#fff" stroke-opacity="0.95" stroke-width="7" fill="none" stroke-linecap="round" filter="url(#b0_8)"/>
<path d="M 336 632 C 360 633 385 632 410 632" stroke="#fff" stroke-opacity="0.85" stroke-width="3.5" fill="none" stroke-linecap="round" filter="url(#b0_8)"/>
<path d="M 350 638 C 372 650 390 668 402 690" stroke="#fff" stroke-opacity="0.4" stroke-width="1.0" fill="none" stroke-linecap="round" filter="url(#b0_8)"/>
<path d="M 370 626 C 385 640 395 650 406 655" stroke="#fff" stroke-opacity="0.35" stroke-width="1.0" fill="none" stroke-linecap="round" filter="url(#b0_8)"/>
</g>
<line x1="378.00" y1="690.50" x2="399.60" y2="690.50" stroke="#fff" stroke-width="1.6"/>
<g clip-path="url(#c22)">
<rect x="407.10" y="626.30" width="70.90" height="71.00" fill="url(#zgc22)" stroke="none" stroke-width="1"/>
<rect x="407.10" y="626.30" width="70.90" height="71.00" fill="#000" stroke="none" stroke-width="1" filter="url(#motd)" opacity="0.6"/>
<rect x="407.10" y="626.30" width="70.90" height="71.00" fill="#000" stroke="none" stroke-width="1" filter="url(#motw2)" opacity="0.45"/>
<ellipse cx="442.0" cy="667.0" rx="14.0" ry="9.0" fill="#fff" fill-opacity="0.35" filter="url(#b3_0)"/>
<ellipse cx="472.0" cy="628.0" rx="8.0" ry="5.0" fill="#fff" fill-opacity="0.6" filter="url(#b2_0)"/>
<path d="M 405 651 C 430 651 455 650 480 651" stroke="#fff" stroke-opacity="0.9" stroke-width="4.5" fill="none" stroke-linecap="round" filter="url(#b0_8)"/>
<path d="M 438 700 C 452 685 466 670 480 656" stroke="#fff" stroke-opacity="0.85" stroke-width="3" fill="none" stroke-linecap="round" filter="url(#b0_8)"/>
<path d="M 412 626 C 415 635 412 645 410 651" stroke="#fff" stroke-opacity="0.5" stroke-width="1.2" fill="none" stroke-linecap="round" filter="url(#b0_8)"/>
<path d="M 425 630 C 430 640 433 646 436 651" stroke="#fff" stroke-opacity="0.45" stroke-width="1.0" fill="none" stroke-linecap="round" filter="url(#b0_8)"/>
<path d="M 412 680 C 420 670 428 662 440 656" stroke="#fff" stroke-opacity="0.45" stroke-width="1.0" fill="none" stroke-linecap="round" filter="url(#b0_8)"/>
</g>
<line x1="453.50" y1="690.50" x2="475.00" y2="690.50" stroke="#fff" stroke-width="1.6"/>
<g clip-path="url(#c23)">
<rect x="483.30" y="183.30" width="71.40" height="70.70" fill="#000" stroke="none" stroke-width="1"/>
<g filter="url(#cdm0)">
<rect x="483.30" y="183.30" width="71.40" height="70.70" fill="#000" stroke="none" stroke-width="1" fill-opacity="0"/>
<ellipse cx="527.0" cy="207.0" rx="29.0" ry="20.0" fill="url(#rgc23_527_207)"/>
<ellipse cx="518.0" cy="236.0" rx="26.0" ry="16.0" fill="url(#rgc23_518_236)"/>
</g>
</g>
<line x1="530.50" y1="247.20" x2="551.00" y2="247.20" stroke="#fff" stroke-width="1.6"/>
<g clip-path="url(#c24)">
<rect x="483.30" y="255.70" width="71.40" height="70.70" fill="#000" stroke="none" stroke-width="1"/>
<g filter="url(#cdm1)">
<rect x="483.30" y="255.70" width="71.40" height="70.70" fill="#000" stroke="none" stroke-width="1" fill-opacity="0"/>
<ellipse cx="513.0" cy="291.0" rx="30.0" ry="34.0" fill="url(#rgc24_513_291)"/>
</g>
</g>
<line x1="530.00" y1="319.70" x2="551.00" y2="319.70" stroke="#fff" stroke-width="1.6"/>
<g clip-path="url(#c25)">
<rect x="188.20" y="699.00" width="71.10" height="71.40" fill="#000" stroke="none" stroke-width="1"/>
<g filter="url(#cdm2)">
<rect x="188.20" y="699.00" width="71.10" height="71.40" fill="#000" stroke="none" stroke-width="1" fill-opacity="0"/>
<ellipse cx="224.5" cy="732.0" rx="29.0" ry="26.5" fill="url(#rgc25_224_732)"/>
</g>
</g>
<line x1="232.30" y1="763.20" x2="253.00" y2="763.20" stroke="#fff" stroke-width="1.6"/>
<g clip-path="url(#c26)">
<rect x="261.10" y="699.00" width="70.90" height="71.40" fill="#000" stroke="none" stroke-width="1"/>
<g filter="url(#cdm3)">
<rect x="261.10" y="699.00" width="70.90" height="71.40" fill="#000" stroke="none" stroke-width="1" fill-opacity="0"/>
<ellipse cx="295.0" cy="731.0" rx="37.0" ry="35.0" fill="url(#rgc26_295_731)"/>
</g>
</g>
<line x1="305.00" y1="763.20" x2="326.00" y2="763.20" stroke="#fff" stroke-width="1.6"/>
<g clip-path="url(#c27)">
<rect x="334.00" y="699.00" width="71.30" height="71.40" fill="#000" stroke="none" stroke-width="1"/>
<g filter="url(#cdm4)">
<rect x="334.00" y="699.00" width="71.30" height="71.40" fill="#000" stroke="none" stroke-width="1" fill-opacity="0"/>
<ellipse cx="366.0" cy="734.0" rx="28.0" ry="20.0" fill="url(#rgc27_366_734)"/>
</g>
</g>
<line x1="378.00" y1="763.20" x2="399.60" y2="763.20" stroke="#fff" stroke-width="1.6"/>
<g clip-path="url(#c28)">
<rect x="407.10" y="699.00" width="70.90" height="71.40" fill="#000" stroke="none" stroke-width="1"/>
<g filter="url(#cdm5)">
<rect x="407.10" y="699.00" width="70.90" height="71.40" fill="#000" stroke="none" stroke-width="1" fill-opacity="0"/>
<ellipse cx="440.0" cy="736.0" rx="26.0" ry="23.0" fill="url(#rgc28_440_736)"/>
</g>
</g>
<line x1="453.50" y1="763.20" x2="475.00" y2="763.20" stroke="#fff" stroke-width="1.6"/>
<g clip-path="url(#c29)">
<rect x="349.20" y="811.30" width="71.40" height="70.80" fill="#000" stroke="none" stroke-width="1"/>
<circle cx="387.4" cy="847.5" r="13.1" fill="#888" fill-opacity="0.45" filter="url(#b2_0)"/>
<g filter="url(#phm0)">
<circle cx="387.4" cy="847.5" r="17.5" fill="url(#pgc29)"/>
<line x1="392.8" y1="839.5" x2="399.3" y2="829.9" stroke="#fff" stroke-width="1.0"/>
<line x1="378.9" y1="852.1" x2="371.4" y2="856.2" stroke="#fff" stroke-width="1.0"/>
<line x1="377.8" y1="846.8" x2="368.3" y2="846.1" stroke="#fff" stroke-width="1.0"/>
<line x1="389.4" y1="838.1" x2="391.3" y2="829.4" stroke="#fff" stroke-width="1.0"/>
<line x1="377.9" y1="848.9" x2="367.4" y2="850.5" stroke="#fff" stroke-width="1.0"/>
<line x1="395.5" y1="842.2" x2="403.9" y2="836.7" stroke="#fff" stroke-width="1.0"/>
<line x1="385.5" y1="856.9" x2="383.2" y2="868.3" stroke="#fff" stroke-width="1.0"/>
<line x1="380.3" y1="841.0" x2="374.0" y2="835.2" stroke="#fff" stroke-width="1.0"/>
<line x1="395.5" y1="842.3" x2="406.5" y2="835.3" stroke="#fff" stroke-width="1.0"/>
<line x1="391.0" y1="838.6" x2="395.6" y2="826.9" stroke="#fff" stroke-width="1.0"/>
<line x1="383.8" y1="856.4" x2="379.6" y2="867.1" stroke="#fff" stroke-width="1.0"/>
<line x1="395.1" y1="841.8" x2="404.1" y2="835.1" stroke="#fff" stroke-width="1.0"/>
<line x1="377.9" y1="849.2" x2="370.4" y2="850.5" stroke="#fff" stroke-width="1.0"/>
<line x1="378.6" y1="851.4" x2="368.8" y2="855.7" stroke="#fff" stroke-width="1.0"/>
<line x1="395.6" y1="842.5" x2="406.7" y2="835.8" stroke="#fff" stroke-width="1.0"/>
<line x1="377.9" y1="848.9" x2="365.7" y2="850.7" stroke="#fff" stroke-width="1.0"/>
<line x1="386.8" y1="857.1" x2="386.0" y2="869.0" stroke="#fff" stroke-width="1.0"/>
<line x1="378.2" y1="844.6" x2="371.5" y2="842.5" stroke="#fff" stroke-width="1.0"/>
<line x1="385.6" y1="838.0" x2="383.8" y2="828.8" stroke="#fff" stroke-width="1.0"/>
<line x1="391.8" y1="838.9" x2="396.8" y2="829.0" stroke="#fff" stroke-width="1.0"/>
<line x1="397.0" y1="847.6" x2="407.0" y2="847.6" stroke="#fff" stroke-width="1.0"/>
<line x1="393.9" y1="840.4" x2="399.6" y2="834.1" stroke="#fff" stroke-width="1.0"/>
<line x1="383.0" y1="856.1" x2="377.4" y2="867.1" stroke="#fff" stroke-width="1.0"/>
<line x1="390.9" y1="856.5" x2="394.7" y2="866.2" stroke="#fff" stroke-width="1.0"/>
<line x1="388.1" y1="857.1" x2="389.0" y2="870.0" stroke="#fff" stroke-width="1.0"/>
<line x1="390.6" y1="838.4" x2="393.8" y2="829.2" stroke="#fff" stroke-width="1.0"/>
<line x1="395.8" y1="852.2" x2="403.7" y2="856.5" stroke="#fff" stroke-width="1.0"/>
<line x1="377.8" y1="847.0" x2="365.1" y2="846.4" stroke="#fff" stroke-width="1.0"/>
<line x1="394.9" y1="853.6" x2="402.9" y2="860.2" stroke="#fff" stroke-width="1.0"/>
<line x1="384.8" y1="838.2" x2="382.0" y2="828.3" stroke="#fff" stroke-width="1.0"/>
<line x1="391.2" y1="838.7" x2="395.3" y2="829.2" stroke="#fff" stroke-width="1.0"/>
<line x1="396.8" y1="845.3" x2="407.2" y2="842.9" stroke="#fff" stroke-width="1.0"/>
<line x1="379.2" y1="842.5" x2="370.9" y2="837.4" stroke="#fff" stroke-width="1.0"/>
<line x1="379.5" y1="842.0" x2="371.8" y2="836.7" stroke="#fff" stroke-width="1.0"/>
<line x1="378.8" y1="843.1" x2="371.0" y2="839.1" stroke="#fff" stroke-width="1.0"/>
<line x1="391.0" y1="856.4" x2="394.0" y2="864.0" stroke="#fff" stroke-width="1.0"/>
<line x1="380.1" y1="841.2" x2="371.7" y2="834.1" stroke="#fff" stroke-width="1.0"/>
<line x1="377.9" y1="848.9" x2="370.4" y2="850.0" stroke="#fff" stroke-width="1.0"/>
<line x1="387.9" y1="837.9" x2="388.5" y2="825.5" stroke="#fff" stroke-width="1.0"/>
<line x1="395.9" y1="843.0" x2="406.7" y2="837.4" stroke="#fff" stroke-width="1.0"/>
<line x1="395.1" y1="841.8" x2="405.3" y2="834.2" stroke="#fff" stroke-width="1.0"/>
<line x1="378.1" y1="845.1" x2="369.0" y2="842.7" stroke="#fff" stroke-width="1.0"/>
<line x1="384.7" y1="838.3" x2="382.3" y2="829.9" stroke="#fff" stroke-width="1.0"/>
<line x1="391.0" y1="838.6" x2="395.6" y2="827.3" stroke="#fff" stroke-width="1.0"/>
<line x1="395.0" y1="841.6" x2="403.4" y2="835.1" stroke="#fff" stroke-width="1.0"/>
<line x1="396.5" y1="844.5" x2="406.6" y2="841.2" stroke="#fff" stroke-width="1.0"/>
<line x1="378.2" y1="850.4" x2="367.7" y2="853.8" stroke="#fff" stroke-width="1.0"/>
<line x1="397.0" y1="847.3" x2="409.6" y2="847.0" stroke="#fff" stroke-width="1.0"/>
<line x1="390.0" y1="838.2" x2="392.0" y2="831.0" stroke="#fff" stroke-width="1.0"/>
<line x1="380.1" y1="841.2" x2="372.5" y2="834.7" stroke="#fff" stroke-width="1.0"/>
<line x1="380.8" y1="840.5" x2="372.5" y2="831.6" stroke="#fff" stroke-width="1.0"/>
<line x1="387.8" y1="857.1" x2="388.3" y2="868.6" stroke="#fff" stroke-width="1.0"/>
<line x1="394.5" y1="854.0" x2="400.7" y2="859.6" stroke="#fff" stroke-width="1.0"/>
<line x1="390.1" y1="838.3" x2="392.6" y2="829.6" stroke="#fff" stroke-width="1.0"/>
<line x1="391.3" y1="838.7" x2="394.3" y2="831.7" stroke="#fff" stroke-width="1.0"/>
<line x1="393.2" y1="855.2" x2="400.1" y2="864.1" stroke="#fff" stroke-width="1.0"/>
<line x1="396.6" y1="850.2" x2="406.7" y2="853.1" stroke="#fff" stroke-width="1.0"/>
<line x1="395.5" y1="842.3" x2="404.2" y2="836.8" stroke="#fff" stroke-width="1.0"/>
<line x1="383.3" y1="838.8" x2="380.3" y2="832.3" stroke="#fff" stroke-width="1.0"/>
<line x1="381.0" y1="840.3" x2="373.9" y2="832.2" stroke="#fff" stroke-width="1.0"/>
<line x1="378.9" y1="843.1" x2="370.5" y2="838.8" stroke="#fff" stroke-width="1.0"/>
<line x1="380.8" y1="854.5" x2="371.9" y2="864.0" stroke="#fff" stroke-width="1.0"/>
<line x1="396.8" y1="849.7" x2="403.7" y2="851.3" stroke="#fff" stroke-width="1.0"/>
<line x1="396.7" y1="845.2" x2="404.6" y2="843.2" stroke="#fff" stroke-width="1.0"/>
<line x1="394.3" y1="854.3" x2="400.2" y2="860.1" stroke="#fff" stroke-width="1.0"/>
<line x1="390.4" y1="838.4" x2="394.4" y2="826.3" stroke="#fff" stroke-width="1.0"/>
<line x1="396.9" y1="848.9" x2="406.4" y2="850.2" stroke="#fff" stroke-width="1.0"/>
<line x1="395.1" y1="853.2" x2="402.0" y2="858.3" stroke="#fff" stroke-width="1.0"/>
<line x1="389.2" y1="857.0" x2="391.2" y2="867.7" stroke="#fff" stroke-width="1.0"/>
<line x1="381.7" y1="855.3" x2="377.0" y2="861.8" stroke="#fff" stroke-width="1.0"/>
<line x1="377.8" y1="847.3" x2="370.5" y2="847.1" stroke="#fff" stroke-width="1.0"/>
<line x1="395.2" y1="853.2" x2="405.7" y2="860.9" stroke="#fff" stroke-width="1.0"/>
<line x1="390.4" y1="856.6" x2="393.3" y2="865.4" stroke="#fff" stroke-width="1.0"/>
<line x1="386.3" y1="837.9" x2="384.9" y2="825.9" stroke="#fff" stroke-width="1.0"/>
<line x1="395.8" y1="842.8" x2="402.8" y2="838.8" stroke="#fff" stroke-width="1.0"/>
<line x1="382.9" y1="839.0" x2="376.9" y2="827.6" stroke="#fff" stroke-width="1.0"/>
<line x1="396.4" y1="850.9" x2="406.8" y2="854.9" stroke="#fff" stroke-width="1.0"/>
<line x1="392.8" y1="839.6" x2="398.0" y2="832.0" stroke="#fff" stroke-width="1.0"/>
<line x1="387.4" y1="857.1" x2="387.3" y2="867.8" stroke="#fff" stroke-width="1.0"/>
<line x1="378.4" y1="850.9" x2="370.9" y2="853.8" stroke="#fff" stroke-width="1.0"/>
<line x1="377.9" y1="849.2" x2="368.6" y2="850.9" stroke="#fff" stroke-width="1.0"/>
<line x1="378.7" y1="843.5" x2="369.5" y2="839.2" stroke="#fff" stroke-width="1.0"/>
<line x1="383.8" y1="856.4" x2="380.3" y2="864.9" stroke="#fff" stroke-width="1.0"/>
<line x1="392.4" y1="839.3" x2="396.9" y2="832.0" stroke="#fff" stroke-width="1.0"/>
<line x1="378.5" y1="843.9" x2="371.9" y2="841.3" stroke="#fff" stroke-width="1.0"/>
<line x1="386.9" y1="837.9" x2="386.4" y2="828.8" stroke="#fff" stroke-width="1.0"/>
<line x1="396.6" y1="850.2" x2="405.0" y2="852.7" stroke="#fff" stroke-width="1.0"/>
<line x1="388.0" y1="857.1" x2="388.8" y2="869.9" stroke="#fff" stroke-width="1.0"/>
<line x1="381.6" y1="855.2" x2="376.4" y2="862.2" stroke="#fff" stroke-width="1.0"/>
<line x1="381.3" y1="854.9" x2="373.2" y2="864.9" stroke="#fff" stroke-width="1.0"/>
</g>
<line x1="379.2" y1="838.4" x2="374.7" y2="833.3" stroke="#fff" stroke-opacity="0.45" stroke-width="0.5"/>
<line x1="384.8" y1="835.5" x2="383.6" y2="830.1" stroke="#fff" stroke-opacity="0.45" stroke-width="0.5"/>
<line x1="376.9" y1="853.8" x2="370.9" y2="857.3" stroke="#fff" stroke-opacity="0.45" stroke-width="0.5"/>
<line x1="399.6" y1="847.6" x2="404.2" y2="847.7" stroke="#fff" stroke-opacity="0.45" stroke-width="0.5"/>
<line x1="381.2" y1="858.1" x2="378.8" y2="862.2" stroke="#fff" stroke-opacity="0.45" stroke-width="0.5"/>
<line x1="379.4" y1="838.2" x2="375.9" y2="834.0" stroke="#fff" stroke-opacity="0.45" stroke-width="0.5"/>
<line x1="396.1" y1="838.9" x2="400.7" y2="834.3" stroke="#fff" stroke-opacity="0.45" stroke-width="0.5"/>
<line x1="376.9" y1="853.8" x2="372.1" y2="856.6" stroke="#fff" stroke-opacity="0.45" stroke-width="0.5"/>
<line x1="383.7" y1="835.8" x2="382.1" y2="830.4" stroke="#fff" stroke-opacity="0.45" stroke-width="0.5"/>
<line x1="381.0" y1="837.1" x2="379.0" y2="833.9" stroke="#fff" stroke-opacity="0.45" stroke-width="0.5"/>
<line x1="375.9" y1="851.6" x2="371.3" y2="853.3" stroke="#fff" stroke-opacity="0.45" stroke-width="0.5"/>
<line x1="394.1" y1="857.7" x2="397.5" y2="863.0" stroke="#fff" stroke-opacity="0.45" stroke-width="0.5"/>
<line x1="375.2" y1="848.5" x2="368.8" y2="849.0" stroke="#fff" stroke-opacity="0.45" stroke-width="0.5"/>
<line x1="387.8" y1="835.3" x2="388.1" y2="827.1" stroke="#fff" stroke-opacity="0.45" stroke-width="0.5"/>
<line x1="375.2" y1="847.9" x2="370.0" y2="848.1" stroke="#fff" stroke-opacity="0.45" stroke-width="0.5"/>
<line x1="375.4" y1="850.0" x2="367.8" y2="851.6" stroke="#fff" stroke-opacity="0.45" stroke-width="0.5"/>
<line x1="396.1" y1="838.8" x2="401.6" y2="833.3" stroke="#fff" stroke-opacity="0.45" stroke-width="0.5"/>
<line x1="392.1" y1="858.8" x2="395.4" y2="866.9" stroke="#fff" stroke-opacity="0.45" stroke-width="0.5"/>
<line x1="379.2" y1="838.4" x2="376.5" y2="835.5" stroke="#fff" stroke-opacity="0.45" stroke-width="0.5"/>
<line x1="385.5" y1="835.4" x2="384.2" y2="826.8" stroke="#fff" stroke-opacity="0.45" stroke-width="0.5"/>
<line x1="377.4" y1="854.6" x2="371.6" y2="858.7" stroke="#fff" stroke-opacity="0.45" stroke-width="0.5"/>
<line x1="382.5" y1="858.7" x2="380.6" y2="862.9" stroke="#fff" stroke-opacity="0.45" stroke-width="0.5"/>
<line x1="384.9" y1="835.5" x2="384.2" y2="832.1" stroke="#fff" stroke-opacity="0.45" stroke-width="0.5"/>
<line x1="392.8" y1="836.5" x2="395.6" y2="830.9" stroke="#fff" stroke-opacity="0.45" stroke-width="0.5"/>
<line x1="397.4" y1="854.6" x2="400.8" y2="856.9" stroke="#fff" stroke-opacity="0.45" stroke-width="0.5"/>
<line x1="380.2" y1="837.6" x2="375.4" y2="831.1" stroke="#fff" stroke-opacity="0.45" stroke-width="0.5"/>
<line x1="385.1" y1="859.5" x2="383.5" y2="868.0" stroke="#fff" stroke-opacity="0.45" stroke-width="0.5"/>
<line x1="397.3" y1="854.7" x2="403.8" y2="859.4" stroke="#fff" stroke-opacity="0.45" stroke-width="0.5"/>
<line x1="377.6" y1="854.9" x2="374.5" y2="857.3" stroke="#fff" stroke-opacity="0.45" stroke-width="0.5"/>
<line x1="385.5" y1="859.6" x2="384.6" y2="865.4" stroke="#fff" stroke-opacity="0.45" stroke-width="0.5"/>
<line x1="390.6" y1="835.7" x2="392.7" y2="827.9" stroke="#fff" stroke-opacity="0.45" stroke-width="0.5"/>
<line x1="395.6" y1="856.6" x2="399.8" y2="861.2" stroke="#fff" stroke-opacity="0.45" stroke-width="0.5"/>
<line x1="380.2" y1="837.6" x2="377.1" y2="833.2" stroke="#fff" stroke-opacity="0.45" stroke-width="0.5"/>
<line x1="395.9" y1="838.7" x2="399.3" y2="835.1" stroke="#fff" stroke-opacity="0.45" stroke-width="0.5"/>
<line x1="399.6" y1="848.9" x2="403.3" y2="849.4" stroke="#fff" stroke-opacity="0.45" stroke-width="0.5"/>
<line x1="382.3" y1="836.4" x2="379.6" y2="830.5" stroke="#fff" stroke-opacity="0.45" stroke-width="0.5"/>
<line x1="399.0" y1="843.5" x2="406.9" y2="840.7" stroke="#fff" stroke-opacity="0.45" stroke-width="0.5"/>
<line x1="397.7" y1="840.9" x2="400.9" y2="838.9" stroke="#fff" stroke-opacity="0.45" stroke-width="0.5"/>
<line x1="387.3" y1="835.3" x2="387.3" y2="828.1" stroke="#fff" stroke-opacity="0.45" stroke-width="0.5"/>
<line x1="380.5" y1="837.4" x2="376.5" y2="831.4" stroke="#fff" stroke-opacity="0.45" stroke-width="0.5"/>
<line x1="397.4" y1="840.5" x2="403.0" y2="836.5" stroke="#fff" stroke-opacity="0.45" stroke-width="0.5"/>
<line x1="378.9" y1="856.3" x2="374.5" y2="860.8" stroke="#fff" stroke-opacity="0.45" stroke-width="0.5"/>
<line x1="390.6" y1="859.3" x2="392.3" y2="865.7" stroke="#fff" stroke-opacity="0.45" stroke-width="0.5"/>
<line x1="399.6" y1="848.2" x2="403.9" y2="848.4" stroke="#fff" stroke-opacity="0.45" stroke-width="0.5"/>
<line x1="381.3" y1="858.1" x2="377.4" y2="864.7" stroke="#fff" stroke-opacity="0.45" stroke-width="0.5"/>
<line x1="385.0" y1="835.5" x2="384.0" y2="830.3" stroke="#fff" stroke-opacity="0.45" stroke-width="0.5"/>
<line x1="378.5" y1="839.1" x2="375.8" y2="836.5" stroke="#fff" stroke-opacity="0.45" stroke-width="0.5"/>
<line x1="393.7" y1="858.0" x2="398.2" y2="865.4" stroke="#fff" stroke-opacity="0.45" stroke-width="0.5"/>
<line x1="384.4" y1="859.4" x2="383.0" y2="864.8" stroke="#fff" stroke-opacity="0.45" stroke-width="0.5"/>
<line x1="375.7" y1="843.8" x2="370.9" y2="842.3" stroke="#fff" stroke-opacity="0.45" stroke-width="0.5"/>
</g>
<line x1="402.10" y1="878.10" x2="418.00" y2="878.10" stroke="#fff" stroke-width="1.6"/>
<text x="351.0" y="819.5" font-size="10" fill="#fff" style="stroke:none">phalloidin</text>
<g clip-path="url(#c30)">
<rect x="349.20" y="884.10" width="71.40" height="71.00" fill="#000" stroke="none" stroke-width="1"/>
<circle cx="383.4" cy="917.9" r="9.4" fill="#888" fill-opacity="0.45" filter="url(#b2_0)"/>
<g filter="url(#phm1)">
<circle cx="383.4" cy="917.9" r="12.5" fill="url(#pgc30)"/>
<line x1="388.0" y1="923.0" x2="393.8" y2="929.5" stroke="#fff" stroke-width="1.0"/>
<line x1="384.0" y1="911.1" x2="384.5" y2="905.0" stroke="#fff" stroke-width="1.0"/>
<line x1="376.5" y1="918.1" x2="369.6" y2="918.3" stroke="#fff" stroke-width="1.0"/>
<line x1="379.4" y1="912.3" x2="374.5" y2="905.4" stroke="#fff" stroke-width="1.0"/>
<line x1="389.1" y1="921.7" x2="393.4" y2="924.6" stroke="#fff" stroke-width="1.0"/>
<line x1="386.9" y1="912.0" x2="390.5" y2="906.1" stroke="#fff" stroke-width="1.0"/>
<line x1="383.9" y1="911.0" x2="384.3" y2="906.1" stroke="#fff" stroke-width="1.0"/>
<line x1="376.9" y1="920.2" x2="369.2" y2="923.0" stroke="#fff" stroke-width="1.0"/>
<line x1="384.3" y1="924.7" x2="385.5" y2="933.8" stroke="#fff" stroke-width="1.0"/>
<line x1="389.0" y1="913.9" x2="393.2" y2="910.9" stroke="#fff" stroke-width="1.0"/>
<line x1="390.2" y1="919.0" x2="397.5" y2="920.2" stroke="#fff" stroke-width="1.0"/>
<line x1="389.8" y1="915.3" x2="396.0" y2="912.8" stroke="#fff" stroke-width="1.0"/>
<line x1="384.8" y1="924.6" x2="386.3" y2="931.3" stroke="#fff" stroke-width="1.0"/>
<line x1="390.2" y1="919.1" x2="396.0" y2="920.2" stroke="#fff" stroke-width="1.0"/>
<line x1="377.0" y1="920.5" x2="370.4" y2="923.2" stroke="#fff" stroke-width="1.0"/>
<line x1="384.1" y1="924.7" x2="384.8" y2="930.7" stroke="#fff" stroke-width="1.0"/>
<line x1="384.7" y1="924.6" x2="386.1" y2="931.5" stroke="#fff" stroke-width="1.0"/>
<line x1="381.7" y1="924.6" x2="380.4" y2="929.5" stroke="#fff" stroke-width="1.0"/>
<line x1="387.0" y1="912.0" x2="390.9" y2="905.7" stroke="#fff" stroke-width="1.0"/>
<line x1="379.1" y1="912.5" x2="375.5" y2="908.0" stroke="#fff" stroke-width="1.0"/>
<line x1="390.3" y1="917.6" x2="399.0" y2="917.2" stroke="#fff" stroke-width="1.0"/>
<line x1="388.4" y1="922.6" x2="393.1" y2="927.1" stroke="#fff" stroke-width="1.0"/>
<line x1="382.2" y1="911.1" x2="380.7" y2="903.2" stroke="#fff" stroke-width="1.0"/>
<line x1="389.7" y1="915.2" x2="396.0" y2="912.6" stroke="#fff" stroke-width="1.0"/>
<line x1="386.7" y1="911.9" x2="390.5" y2="904.9" stroke="#fff" stroke-width="1.0"/>
<line x1="381.1" y1="924.4" x2="378.6" y2="931.5" stroke="#fff" stroke-width="1.0"/>
<line x1="388.5" y1="913.3" x2="394.9" y2="907.4" stroke="#fff" stroke-width="1.0"/>
<line x1="376.5" y1="917.7" x2="369.0" y2="917.4" stroke="#fff" stroke-width="1.0"/>
<line x1="390.1" y1="919.4" x2="396.0" y2="920.7" stroke="#fff" stroke-width="1.0"/>
<line x1="385.4" y1="911.3" x2="387.4" y2="904.8" stroke="#fff" stroke-width="1.0"/>
<line x1="386.6" y1="924.0" x2="390.0" y2="930.5" stroke="#fff" stroke-width="1.0"/>
<line x1="381.4" y1="911.3" x2="379.1" y2="903.7" stroke="#fff" stroke-width="1.0"/>
<line x1="378.5" y1="922.8" x2="373.7" y2="927.7" stroke="#fff" stroke-width="1.0"/>
<line x1="376.5" y1="917.5" x2="368.1" y2="917.1" stroke="#fff" stroke-width="1.0"/>
<line x1="376.6" y1="917.0" x2="369.9" y2="916.1" stroke="#fff" stroke-width="1.0"/>
<line x1="376.5" y1="918.3" x2="371.4" y2="918.7" stroke="#fff" stroke-width="1.0"/>
<line x1="390.0" y1="919.8" x2="397.8" y2="921.9" stroke="#fff" stroke-width="1.0"/>
<line x1="390.2" y1="917.2" x2="397.8" y2="916.4" stroke="#fff" stroke-width="1.0"/>
<line x1="378.0" y1="922.2" x2="373.5" y2="925.7" stroke="#fff" stroke-width="1.0"/>
<line x1="376.5" y1="917.8" x2="367.2" y2="917.7" stroke="#fff" stroke-width="1.0"/>
<line x1="384.3" y1="911.1" x2="385.2" y2="903.8" stroke="#fff" stroke-width="1.0"/>
<line x1="387.8" y1="912.6" x2="391.6" y2="908.0" stroke="#fff" stroke-width="1.0"/>
<line x1="376.6" y1="917.3" x2="367.4" y2="916.5" stroke="#fff" stroke-width="1.0"/>
<line x1="377.3" y1="914.7" x2="371.1" y2="911.4" stroke="#fff" stroke-width="1.0"/>
<line x1="382.6" y1="924.7" x2="381.7" y2="932.1" stroke="#fff" stroke-width="1.0"/>
<line x1="390.0" y1="916.1" x2="394.9" y2="914.7" stroke="#fff" stroke-width="1.0"/>
<line x1="384.8" y1="911.2" x2="386.6" y2="902.8" stroke="#fff" stroke-width="1.0"/>
<line x1="388.6" y1="913.4" x2="394.8" y2="908.0" stroke="#fff" stroke-width="1.0"/>
<line x1="385.9" y1="911.5" x2="388.5" y2="904.7" stroke="#fff" stroke-width="1.0"/>
<line x1="377.0" y1="915.3" x2="370.7" y2="912.7" stroke="#fff" stroke-width="1.0"/>
<line x1="389.9" y1="920.3" x2="398.1" y2="923.3" stroke="#fff" stroke-width="1.0"/>
<line x1="377.2" y1="915.0" x2="371.9" y2="912.5" stroke="#fff" stroke-width="1.0"/>
<line x1="376.5" y1="917.7" x2="369.4" y2="917.5" stroke="#fff" stroke-width="1.0"/>
<line x1="379.1" y1="923.3" x2="375.1" y2="928.4" stroke="#fff" stroke-width="1.0"/>
<line x1="376.7" y1="916.3" x2="369.2" y2="914.4" stroke="#fff" stroke-width="1.0"/>
<line x1="378.2" y1="913.4" x2="372.8" y2="908.9" stroke="#fff" stroke-width="1.0"/>
<line x1="390.2" y1="919.1" x2="396.1" y2="920.2" stroke="#fff" stroke-width="1.0"/>
<line x1="386.4" y1="924.1" x2="389.8" y2="930.8" stroke="#fff" stroke-width="1.0"/>
<line x1="387.8" y1="912.6" x2="393.3" y2="906.1" stroke="#fff" stroke-width="1.0"/>
<line x1="385.4" y1="911.3" x2="387.9" y2="903.1" stroke="#fff" stroke-width="1.0"/>
<line x1="383.2" y1="924.8" x2="382.9" y2="933.4" stroke="#fff" stroke-width="1.0"/>
<line x1="380.2" y1="911.8" x2="377.7" y2="907.1" stroke="#fff" stroke-width="1.0"/>
<line x1="390.2" y1="918.6" x2="395.3" y2="919.1" stroke="#fff" stroke-width="1.0"/>
<line x1="383.6" y1="911.0" x2="383.9" y2="904.9" stroke="#fff" stroke-width="1.0"/>
<line x1="388.7" y1="922.3" x2="394.7" y2="927.2" stroke="#fff" stroke-width="1.0"/>
<line x1="379.6" y1="923.6" x2="376.6" y2="928.0" stroke="#fff" stroke-width="1.0"/>
<line x1="387.1" y1="923.7" x2="391.0" y2="929.9" stroke="#fff" stroke-width="1.0"/>
<line x1="386.8" y1="923.9" x2="389.8" y2="929.3" stroke="#fff" stroke-width="1.0"/>
<line x1="381.8" y1="911.2" x2="380.1" y2="904.4" stroke="#fff" stroke-width="1.0"/>
<line x1="380.4" y1="924.1" x2="377.3" y2="930.4" stroke="#fff" stroke-width="1.0"/>
<line x1="390.2" y1="918.9" x2="396.8" y2="919.9" stroke="#fff" stroke-width="1.0"/>
<line x1="377.4" y1="921.2" x2="372.2" y2="924.0" stroke="#fff" stroke-width="1.0"/>
<line x1="388.7" y1="922.2" x2="395.7" y2="927.9" stroke="#fff" stroke-width="1.0"/>
<line x1="376.5" y1="917.5" x2="370.6" y2="917.1" stroke="#fff" stroke-width="1.0"/>
<line x1="378.0" y1="913.7" x2="371.2" y2="908.4" stroke="#fff" stroke-width="1.0"/>
<line x1="390.2" y1="918.8" x2="395.3" y2="919.5" stroke="#fff" stroke-width="1.0"/>
<line x1="387.6" y1="923.4" x2="392.5" y2="929.9" stroke="#fff" stroke-width="1.0"/>
<line x1="387.1" y1="923.7" x2="391.4" y2="930.5" stroke="#fff" stroke-width="1.0"/>
<line x1="380.4" y1="911.7" x2="377.2" y2="905.1" stroke="#fff" stroke-width="1.0"/>
<line x1="384.7" y1="924.7" x2="386.4" y2="933.8" stroke="#fff" stroke-width="1.0"/>
<line x1="385.4" y1="911.3" x2="387.6" y2="904.4" stroke="#fff" stroke-width="1.0"/>
<line x1="384.6" y1="924.7" x2="385.9" y2="932.4" stroke="#fff" stroke-width="1.0"/>
<line x1="378.0" y1="922.1" x2="372.0" y2="926.7" stroke="#fff" stroke-width="1.0"/>
<line x1="380.4" y1="924.1" x2="377.1" y2="931.1" stroke="#fff" stroke-width="1.0"/>
<line x1="389.8" y1="920.4" x2="395.7" y2="922.7" stroke="#fff" stroke-width="1.0"/>
<line x1="390.1" y1="916.5" x2="398.8" y2="914.8" stroke="#fff" stroke-width="1.0"/>
<line x1="381.0" y1="924.3" x2="378.0" y2="932.6" stroke="#fff" stroke-width="1.0"/>
<line x1="380.9" y1="924.3" x2="377.5" y2="932.7" stroke="#fff" stroke-width="1.0"/>
<line x1="383.1" y1="911.0" x2="382.9" y2="904.2" stroke="#fff" stroke-width="1.0"/>
<line x1="383.3" y1="924.8" x2="383.2" y2="929.8" stroke="#fff" stroke-width="1.0"/>
</g>
<line x1="389.7" y1="911.9" x2="391.6" y2="910.0" stroke="#fff" stroke-opacity="0.45" stroke-width="0.5"/>
<line x1="387.1" y1="910.0" x2="389.7" y2="904.4" stroke="#fff" stroke-opacity="0.45" stroke-width="0.5"/>
<line x1="375.5" y1="914.2" x2="372.6" y2="912.8" stroke="#fff" stroke-opacity="0.45" stroke-width="0.5"/>
<line x1="389.3" y1="911.4" x2="393.4" y2="906.9" stroke="#fff" stroke-opacity="0.45" stroke-width="0.5"/>
<line x1="380.9" y1="909.5" x2="379.7" y2="905.3" stroke="#fff" stroke-opacity="0.45" stroke-width="0.5"/>
<line x1="377.1" y1="924.0" x2="374.4" y2="926.6" stroke="#fff" stroke-opacity="0.45" stroke-width="0.5"/>
<line x1="385.8" y1="926.3" x2="387.2" y2="931.1" stroke="#fff" stroke-opacity="0.45" stroke-width="0.5"/>
<line x1="375.4" y1="921.5" x2="372.5" y2="922.8" stroke="#fff" stroke-opacity="0.45" stroke-width="0.5"/>
<line x1="390.3" y1="923.2" x2="394.3" y2="926.3" stroke="#fff" stroke-opacity="0.45" stroke-width="0.5"/>
<line x1="380.9" y1="926.3" x2="379.7" y2="930.5" stroke="#fff" stroke-opacity="0.45" stroke-width="0.5"/>
<line x1="379.4" y1="925.7" x2="376.8" y2="930.8" stroke="#fff" stroke-opacity="0.45" stroke-width="0.5"/>
<line x1="390.5" y1="912.7" x2="392.5" y2="911.2" stroke="#fff" stroke-opacity="0.45" stroke-width="0.5"/>
<line x1="386.1" y1="926.2" x2="387.2" y2="929.8" stroke="#fff" stroke-opacity="0.45" stroke-width="0.5"/>
<line x1="392.1" y1="917.2" x2="397.5" y2="916.7" stroke="#fff" stroke-opacity="0.45" stroke-width="0.5"/>
<line x1="378.8" y1="925.3" x2="377.0" y2="928.1" stroke="#fff" stroke-opacity="0.45" stroke-width="0.5"/>
<line x1="379.4" y1="910.1" x2="376.8" y2="905.1" stroke="#fff" stroke-opacity="0.45" stroke-width="0.5"/>
<line x1="391.4" y1="914.3" x2="394.8" y2="912.7" stroke="#fff" stroke-opacity="0.45" stroke-width="0.5"/>
<line x1="389.9" y1="912.0" x2="393.6" y2="908.6" stroke="#fff" stroke-opacity="0.45" stroke-width="0.5"/>
<line x1="374.7" y1="918.8" x2="368.5" y2="919.4" stroke="#fff" stroke-opacity="0.45" stroke-width="0.5"/>
<line x1="384.2" y1="926.6" x2="384.7" y2="931.8" stroke="#fff" stroke-opacity="0.45" stroke-width="0.5"/>
<line x1="390.9" y1="922.3" x2="393.6" y2="923.9" stroke="#fff" stroke-opacity="0.45" stroke-width="0.5"/>
<line x1="390.8" y1="913.3" x2="393.6" y2="911.5" stroke="#fff" stroke-opacity="0.45" stroke-width="0.5"/>
<line x1="383.9" y1="909.2" x2="384.2" y2="904.4" stroke="#fff" stroke-opacity="0.45" stroke-width="0.5"/>
<line x1="388.1" y1="910.5" x2="390.2" y2="907.3" stroke="#fff" stroke-opacity="0.45" stroke-width="0.5"/>
<line x1="378.7" y1="925.3" x2="376.8" y2="928.3" stroke="#fff" stroke-opacity="0.45" stroke-width="0.5"/>
<line x1="389.3" y1="911.4" x2="392.5" y2="907.9" stroke="#fff" stroke-opacity="0.45" stroke-width="0.5"/>
<line x1="391.8" y1="915.4" x2="397.4" y2="913.8" stroke="#fff" stroke-opacity="0.45" stroke-width="0.5"/>
<line x1="389.2" y1="924.5" x2="392.2" y2="927.9" stroke="#fff" stroke-opacity="0.45" stroke-width="0.5"/>
<line x1="390.3" y1="923.2" x2="392.4" y2="924.8" stroke="#fff" stroke-opacity="0.45" stroke-width="0.5"/>
<line x1="391.2" y1="921.8" x2="396.4" y2="924.3" stroke="#fff" stroke-opacity="0.45" stroke-width="0.5"/>
<line x1="385.5" y1="909.4" x2="386.8" y2="904.0" stroke="#fff" stroke-opacity="0.45" stroke-width="0.5"/>
<line x1="378.7" y1="925.3" x2="376.1" y2="929.3" stroke="#fff" stroke-opacity="0.45" stroke-width="0.5"/>
<line x1="385.1" y1="909.3" x2="385.9" y2="905.5" stroke="#fff" stroke-opacity="0.45" stroke-width="0.5"/>
<line x1="375.5" y1="914.1" x2="372.5" y2="912.7" stroke="#fff" stroke-opacity="0.45" stroke-width="0.5"/>
<line x1="391.0" y1="922.2" x2="394.1" y2="923.9" stroke="#fff" stroke-opacity="0.45" stroke-width="0.5"/>
<line x1="390.2" y1="912.4" x2="393.7" y2="909.4" stroke="#fff" stroke-opacity="0.45" stroke-width="0.5"/>
<line x1="391.2" y1="913.9" x2="395.0" y2="912.0" stroke="#fff" stroke-opacity="0.45" stroke-width="0.5"/>
<line x1="381.9" y1="926.5" x2="381.0" y2="931.9" stroke="#fff" stroke-opacity="0.45" stroke-width="0.5"/>
<line x1="387.5" y1="910.2" x2="388.7" y2="907.9" stroke="#fff" stroke-opacity="0.45" stroke-width="0.5"/>
<line x1="379.2" y1="910.2" x2="377.8" y2="907.7" stroke="#fff" stroke-opacity="0.45" stroke-width="0.5"/>
<line x1="390.0" y1="923.7" x2="394.3" y2="927.5" stroke="#fff" stroke-opacity="0.45" stroke-width="0.5"/>
<line x1="391.9" y1="920.1" x2="395.2" y2="920.9" stroke="#fff" stroke-opacity="0.45" stroke-width="0.5"/>
<line x1="392.1" y1="917.2" x2="396.2" y2="916.9" stroke="#fff" stroke-opacity="0.45" stroke-width="0.5"/>
<line x1="389.9" y1="923.7" x2="392.3" y2="925.8" stroke="#fff" stroke-opacity="0.45" stroke-width="0.5"/>
<line x1="383.9" y1="926.6" x2="384.2" y2="931.9" stroke="#fff" stroke-opacity="0.45" stroke-width="0.5"/>
<line x1="390.4" y1="923.2" x2="395.1" y2="926.7" stroke="#fff" stroke-opacity="0.45" stroke-width="0.5"/>
<line x1="377.1" y1="924.0" x2="372.7" y2="928.2" stroke="#fff" stroke-opacity="0.45" stroke-width="0.5"/>
<line x1="390.8" y1="913.2" x2="393.8" y2="911.2" stroke="#fff" stroke-opacity="0.45" stroke-width="0.5"/>
<line x1="383.2" y1="926.6" x2="383.1" y2="930.9" stroke="#fff" stroke-opacity="0.45" stroke-width="0.5"/>
<line x1="390.5" y1="923.0" x2="394.5" y2="926.0" stroke="#fff" stroke-opacity="0.45" stroke-width="0.5"/>
</g>
<line x1="402.10" y1="950.70" x2="418.00" y2="950.70" stroke="#fff" stroke-width="1.6"/>
<text x="78.00" y="12.80" font-size="10" text-anchor="middle">Non-smoker</text>
<text x="182.00" y="12.80" font-size="10" text-anchor="middle">Smoker</text>
<text x="18.80" y="48.90" font-size="10" text-anchor="middle" transform="rotate(-90 18.80 48.90)">Baseline</text>
<text x="18.80" y="125.40" font-size="10" text-anchor="middle" transform="rotate(-90 18.80 125.40)">After 3+PRN</text>
<text x="411.20" y="180.50" font-size="10" text-anchor="middle">FFA</text>
<text x="518.60" y="180.50" font-size="10" text-anchor="middle" fill="#e8192c" style="stroke:#e8192c">CD31</text>
<text x="335.20" y="219.60" font-size="10" text-anchor="middle" transform="rotate(-90 335.20 219.60)">Ctrl</text>
<text x="335.20" y="289.40" font-size="10" text-anchor="middle" transform="rotate(-90 335.20 289.40)">Smoke</text>
<text x="266.80" y="539.60" font-size="10" text-anchor="middle" font-style="italic">Sema4d<tspan font-size="6" dy="-4">+/+</tspan></text>
<text x="409.40" y="539.60" font-size="10" text-anchor="middle" font-style="italic">Sema4d<tspan font-size="6" dy="-4">-/-</tspan></text>
<line x1="224.40" y1="541.20" x2="296.30" y2="541.20" stroke="#333" stroke-width="0.9"/>
<line x1="368.80" y1="541.20" x2="440.60" y2="541.20" stroke="#333" stroke-width="0.9"/>
<text x="224.40" y="551.60" font-size="10" text-anchor="middle">Ctrl</text>
<text x="299.20" y="551.60" font-size="10" text-anchor="middle">Smoke</text>
<text x="369.60" y="551.60" font-size="10" text-anchor="middle">Ctrl</text>
<text x="441.90" y="551.60" font-size="10" text-anchor="middle">Smoke</text>
<text x="185.30" y="623.80" font-size="10" text-anchor="middle" transform="rotate(-90 185.30 623.80)">FFA</text>
<text x="186.30" y="735.60" font-size="10" text-anchor="middle" fill="#e8192c" transform="rotate(-90 186.30 735.60)" style="stroke:#e8192c">CD31</text>
<text x="344.6" y="843.5" font-size="10" text-anchor="middle" font-style="italic" transform="rotate(-90 344.6 843.5)">Sema4d<tspan font-size="6" dy="-4">+/+</tspan></text>
<text x="344.6" y="922" font-size="10" text-anchor="middle" font-style="italic" transform="rotate(-90 344.6 922)">Sema4d<tspan font-size="6" dy="-4">-/-</tspan></text>
</svg>
</body></html>
